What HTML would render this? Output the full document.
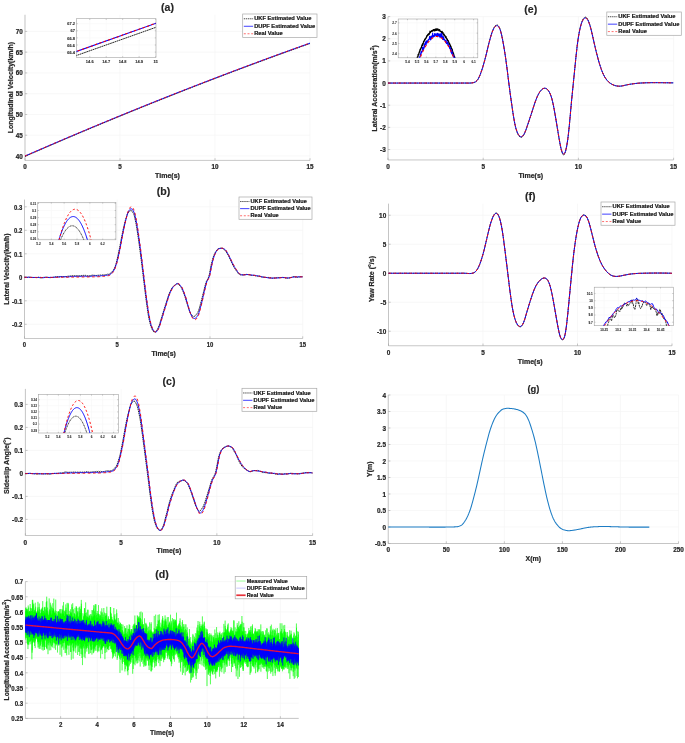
<!DOCTYPE html>
<html><head><meta charset="utf-8"><title>Figure</title>
<style>html,body{margin:0;padding:0;background:#fff;overflow:hidden;}svg{display:block;will-change:transform;}text{font-family:"Liberation Sans",sans-serif;}</style>
</head><body>
<svg width="685" height="743" viewBox="0 0 685 743">
<rect width="685" height="743" fill="#fff"/>
<line x1="25.00" y1="14.79" x2="25.00" y2="160.40" stroke="#f5f5f5" stroke-width="0.7"/>
<line x1="120.00" y1="14.79" x2="120.00" y2="160.40" stroke="#f5f5f5" stroke-width="0.7"/>
<line x1="215.00" y1="14.79" x2="215.00" y2="160.40" stroke="#f5f5f5" stroke-width="0.7"/>
<line x1="310.00" y1="14.79" x2="310.00" y2="160.40" stroke="#f5f5f5" stroke-width="0.7"/>
<line x1="25.00" y1="156.00" x2="310.00" y2="156.00" stroke="#f5f5f5" stroke-width="0.7"/>
<line x1="25.00" y1="135.23" x2="310.00" y2="135.23" stroke="#f5f5f5" stroke-width="0.7"/>
<line x1="25.00" y1="114.47" x2="310.00" y2="114.47" stroke="#f5f5f5" stroke-width="0.7"/>
<line x1="25.00" y1="93.70" x2="310.00" y2="93.70" stroke="#f5f5f5" stroke-width="0.7"/>
<line x1="25.00" y1="72.93" x2="310.00" y2="72.93" stroke="#f5f5f5" stroke-width="0.7"/>
<line x1="25.00" y1="52.17" x2="310.00" y2="52.17" stroke="#f5f5f5" stroke-width="0.7"/>
<line x1="25.00" y1="31.40" x2="310.00" y2="31.40" stroke="#f5f5f5" stroke-width="0.7"/>
<path d="M25.00,14.79L25.00,160.40L310.00,160.40" fill="none" stroke="#a2a2a2" stroke-width="0.6"/>
<line x1="25.00" y1="160.40" x2="25.00" y2="158.20" stroke="#a2a2a2" stroke-width="0.6"/>
<text transform="translate(25.00,169.20) scale(1.0,1)" font-size="6.3" text-anchor="middle" fill="#262626" font-family="Liberation Sans, sans-serif" font-weight="bold" stroke="#262626" stroke-width="0.22" stroke-linejoin="round">0</text>
<line x1="120.00" y1="160.40" x2="120.00" y2="158.20" stroke="#a2a2a2" stroke-width="0.6"/>
<text transform="translate(120.00,169.20) scale(1.0,1)" font-size="6.3" text-anchor="middle" fill="#262626" font-family="Liberation Sans, sans-serif" font-weight="bold" stroke="#262626" stroke-width="0.22" stroke-linejoin="round">5</text>
<line x1="215.00" y1="160.40" x2="215.00" y2="158.20" stroke="#a2a2a2" stroke-width="0.6"/>
<text transform="translate(215.00,169.20) scale(1.0,1)" font-size="6.3" text-anchor="middle" fill="#262626" font-family="Liberation Sans, sans-serif" font-weight="bold" stroke="#262626" stroke-width="0.22" stroke-linejoin="round">10</text>
<line x1="310.00" y1="160.40" x2="310.00" y2="158.20" stroke="#a2a2a2" stroke-width="0.6"/>
<text transform="translate(310.00,169.20) scale(1.0,1)" font-size="6.3" text-anchor="middle" fill="#262626" font-family="Liberation Sans, sans-serif" font-weight="bold" stroke="#262626" stroke-width="0.22" stroke-linejoin="round">15</text>
<line x1="25.00" y1="156.00" x2="27.20" y2="156.00" stroke="#a2a2a2" stroke-width="0.6"/>
<text transform="translate(22.70,158.52) scale(1.0,1)" font-size="6.3" text-anchor="end" fill="#262626" font-family="Liberation Sans, sans-serif" font-weight="bold" stroke="#262626" stroke-width="0.22" stroke-linejoin="round">40</text>
<line x1="25.00" y1="135.23" x2="27.20" y2="135.23" stroke="#a2a2a2" stroke-width="0.6"/>
<text transform="translate(22.70,137.75) scale(1.0,1)" font-size="6.3" text-anchor="end" fill="#262626" font-family="Liberation Sans, sans-serif" font-weight="bold" stroke="#262626" stroke-width="0.22" stroke-linejoin="round">45</text>
<line x1="25.00" y1="114.47" x2="27.20" y2="114.47" stroke="#a2a2a2" stroke-width="0.6"/>
<text transform="translate(22.70,116.98) scale(1.0,1)" font-size="6.3" text-anchor="end" fill="#262626" font-family="Liberation Sans, sans-serif" font-weight="bold" stroke="#262626" stroke-width="0.22" stroke-linejoin="round">50</text>
<line x1="25.00" y1="93.70" x2="27.20" y2="93.70" stroke="#a2a2a2" stroke-width="0.6"/>
<text transform="translate(22.70,96.22) scale(1.0,1)" font-size="6.3" text-anchor="end" fill="#262626" font-family="Liberation Sans, sans-serif" font-weight="bold" stroke="#262626" stroke-width="0.22" stroke-linejoin="round">55</text>
<line x1="25.00" y1="72.93" x2="27.20" y2="72.93" stroke="#a2a2a2" stroke-width="0.6"/>
<text transform="translate(22.70,75.45) scale(1.0,1)" font-size="6.3" text-anchor="end" fill="#262626" font-family="Liberation Sans, sans-serif" font-weight="bold" stroke="#262626" stroke-width="0.22" stroke-linejoin="round">60</text>
<line x1="25.00" y1="52.17" x2="27.20" y2="52.17" stroke="#a2a2a2" stroke-width="0.6"/>
<text transform="translate(22.70,54.69) scale(1.0,1)" font-size="6.3" text-anchor="end" fill="#262626" font-family="Liberation Sans, sans-serif" font-weight="bold" stroke="#262626" stroke-width="0.22" stroke-linejoin="round">65</text>
<line x1="25.00" y1="31.40" x2="27.20" y2="31.40" stroke="#a2a2a2" stroke-width="0.6"/>
<text transform="translate(22.70,33.92) scale(1.0,1)" font-size="6.3" text-anchor="end" fill="#262626" font-family="Liberation Sans, sans-serif" font-weight="bold" stroke="#262626" stroke-width="0.22" stroke-linejoin="round">70</text>
<text x="167.50" y="178.20" font-size="7.0" text-anchor="middle" fill="#262626" font-family="Liberation Sans, sans-serif" font-weight="bold" stroke="#262626" stroke-width="0.22" stroke-linejoin="round">Time(s)</text>
<text transform="translate(13.00,87.59) rotate(-90)" font-size="7.0" text-anchor="middle" fill="#262626" font-family="Liberation Sans, sans-serif" font-weight="bold" stroke="#262626" stroke-width="0.22" stroke-linejoin="round">Longitudinal Velocity(km/h)</text>
<text x="167.50" y="10.99" font-size="10.6" text-anchor="middle" fill="#262626" font-family="Liberation Sans, sans-serif" font-weight="bold" stroke="#262626" stroke-width="0.15" stroke-linejoin="round">(a)</text>
<clipPath id="ca"><rect x="24.00" y="13.79" width="287.00" height="147.61"/></clipPath>
<g clip-path="url(#ca)" stroke-linejoin="round">
<path d="M25.00,156.42L26.43,155.79L27.86,155.16L29.30,154.54L30.73,153.92L32.16,153.29L33.59,152.67L35.03,152.05L36.46,151.42L37.89,150.80L39.32,150.18L40.75,149.56L42.19,148.94L43.62,148.33L45.05,147.71L46.48,147.09L47.91,146.47L49.35,145.86L50.78,145.24L52.21,144.63L53.64,144.01L55.08,143.40L56.51,142.78L57.94,142.17L59.37,141.56L60.80,140.95L62.24,140.34L63.67,139.72L65.10,139.11L66.53,138.51L67.96,137.90L69.40,137.29L70.83,136.68L72.26,136.07L73.69,135.47L75.13,134.86L76.56,134.26L77.99,133.65L79.42,133.05L80.85,132.44L82.29,131.84L83.72,131.24L85.15,130.64L86.58,130.04L88.02,129.44L89.45,128.84L90.88,128.24L92.31,127.64L93.74,127.04L95.18,126.44L96.61,125.85L98.04,125.25L99.47,124.65L100.90,124.06L102.34,123.46L103.77,122.87L105.20,122.28L106.63,121.68L108.07,121.09L109.50,120.50L110.93,119.91L112.36,119.32L113.79,118.73L115.23,118.14L116.66,117.55L118.09,116.96L119.52,116.38L120.95,115.79L122.39,115.20L123.82,114.62L125.25,114.03L126.68,113.45L128.12,112.86L129.55,112.28L130.98,111.70L132.41,111.11L133.84,110.53L135.28,109.95L136.71,109.37L138.14,108.79L139.57,108.21L141.01,107.63L142.44,107.06L143.87,106.48L145.30,105.90L146.73,105.33L148.17,104.75L149.60,104.17L151.03,103.60L152.46,103.03L153.89,102.45L155.33,101.88L156.76,101.31L158.19,100.74L159.62,100.17L161.06,99.60L162.49,99.03L163.92,98.46L165.35,97.89L166.78,97.32L168.22,96.75L169.65,96.19L171.08,95.62L172.51,95.05L173.94,94.49L175.38,93.92L176.81,93.36L178.24,92.80L179.67,92.23L181.11,91.67L182.54,91.11L183.97,90.55L185.40,89.99L186.83,89.43L188.27,88.87L189.70,88.31L191.13,87.75L192.56,87.20L193.99,86.64L195.43,86.08L196.86,85.53L198.29,84.97L199.72,84.42L201.16,83.86L202.59,83.31L204.02,82.76L205.45,82.21L206.88,81.65L208.32,81.10L209.75,80.55L211.18,80.00L212.61,79.45L214.05,78.91L215.48,78.36L216.91,77.81L218.34,77.26L219.77,76.72L221.21,76.17L222.64,75.63L224.07,75.08L225.50,74.54L226.93,74.00L228.37,73.45L229.80,72.91L231.23,72.37L232.66,71.83L234.10,71.29L235.53,70.75L236.96,70.21L238.39,69.67L239.82,69.13L241.26,68.60L242.69,68.06L244.12,67.52L245.55,66.99L246.98,66.45L248.42,65.92L249.85,65.38L251.28,64.85L252.71,64.32L254.15,63.79L255.58,63.26L257.01,62.72L258.44,62.19L259.87,61.66L261.31,61.14L262.74,60.61L264.17,60.08L265.60,59.55L267.04,59.02L268.47,58.50L269.90,57.97L271.33,57.45L272.76,56.92L274.20,56.40L275.63,55.88L277.06,55.35L278.49,54.83L279.92,54.31L281.36,53.79L282.79,53.27L284.22,52.75L285.65,52.23L287.09,51.71L288.52,51.19L289.95,50.68L291.38,50.16L292.81,49.64L294.25,49.13L295.68,48.61L297.11,48.10L298.54,47.59L299.97,47.07L301.41,46.56L302.84,46.05L304.27,45.54L305.70,45.03L307.14,44.52L308.57,44.01L310.00,43.50" stroke="#000" stroke-width="0.874" stroke-dasharray="1.6,0.6" fill="none"/>
<path d="M25.00,156.00L26.43,155.37L27.86,154.75L29.30,154.12L30.73,153.50L32.16,152.88L33.59,152.25L35.03,151.63L36.46,151.01L37.89,150.39L39.32,149.77L40.75,149.15L42.19,148.53L43.62,147.91L45.05,147.29L46.48,146.67L47.91,146.06L49.35,145.44L50.78,144.83L52.21,144.21L53.64,143.60L55.08,142.98L56.51,142.37L57.94,141.75L59.37,141.14L60.80,140.53L62.24,139.92L63.67,139.31L65.10,138.70L66.53,138.09L67.96,137.48L69.40,136.87L70.83,136.27L72.26,135.66L73.69,135.05L75.13,134.45L76.56,133.84L77.99,133.24L79.42,132.63L80.85,132.03L82.29,131.43L83.72,130.82L85.15,130.22L86.58,129.62L88.02,129.02L89.45,128.42L90.88,127.82L92.31,127.22L93.74,126.63L95.18,126.03L96.61,125.43L98.04,124.83L99.47,124.24L100.90,123.64L102.34,123.05L103.77,122.46L105.20,121.86L106.63,121.27L108.07,120.68L109.50,120.09L110.93,119.49L112.36,118.90L113.79,118.31L115.23,117.72L116.66,117.14L118.09,116.55L119.52,115.96L120.95,115.37L122.39,114.79L123.82,114.20L125.25,113.62L126.68,113.03L128.12,112.45L129.55,111.86L130.98,111.28L132.41,110.70L133.84,110.12L135.28,109.54L136.71,108.96L138.14,108.38L139.57,107.80L141.01,107.22L142.44,106.64L143.87,106.06L145.30,105.49L146.73,104.91L148.17,104.33L149.60,103.76L151.03,103.19L152.46,102.61L153.89,102.04L155.33,101.47L156.76,100.89L158.19,100.32L159.62,99.75L161.06,99.18L162.49,98.61L163.92,98.04L165.35,97.47L166.78,96.90L168.22,96.34L169.65,95.77L171.08,95.20L172.51,94.64L173.94,94.07L175.38,93.51L176.81,92.94L178.24,92.38L179.67,91.82L181.11,91.26L182.54,90.70L183.97,90.13L185.40,89.57L186.83,89.01L188.27,88.46L189.70,87.90L191.13,87.34L192.56,86.78L193.99,86.22L195.43,85.67L196.86,85.11L198.29,84.56L199.72,84.00L201.16,83.45L202.59,82.90L204.02,82.34L205.45,81.79L206.88,81.24L208.32,80.69L209.75,80.14L211.18,79.59L212.61,79.04L214.05,78.49L215.48,77.94L216.91,77.40L218.34,76.85L219.77,76.30L221.21,75.76L222.64,75.21L224.07,74.67L225.50,74.12L226.93,73.58L228.37,73.04L229.80,72.50L231.23,71.95L232.66,71.41L234.10,70.87L235.53,70.33L236.96,69.79L238.39,69.26L239.82,68.72L241.26,68.18L242.69,67.64L244.12,67.11L245.55,66.57L246.98,66.04L248.42,65.50L249.85,64.97L251.28,64.44L252.71,63.90L254.15,63.37L255.58,62.84L257.01,62.31L258.44,61.78L259.87,61.25L261.31,60.72L262.74,60.19L264.17,59.66L265.60,59.14L267.04,58.61L268.47,58.08L269.90,57.56L271.33,57.03L272.76,56.51L274.20,55.98L275.63,55.46L277.06,54.94L278.49,54.42L279.92,53.90L281.36,53.37L282.79,52.85L284.22,52.33L285.65,51.82L287.09,51.30L288.52,50.78L289.95,50.26L291.38,49.75L292.81,49.23L294.25,48.71L295.68,48.20L297.11,47.68L298.54,47.17L299.97,46.66L301.41,46.15L302.84,45.63L304.27,45.12L305.70,44.61L307.14,44.10L308.57,43.59L310.00,43.08" stroke="#0000ff" stroke-width="0.92" fill="none"/>
<path d="M25.00,156.00L26.43,155.37L27.86,154.75L29.30,154.12L30.73,153.50L32.16,152.88L33.59,152.25L35.03,151.63L36.46,151.01L37.89,150.39L39.32,149.77L40.75,149.15L42.19,148.53L43.62,147.91L45.05,147.29L46.48,146.67L47.91,146.06L49.35,145.44L50.78,144.83L52.21,144.21L53.64,143.60L55.08,142.98L56.51,142.37L57.94,141.75L59.37,141.14L60.80,140.53L62.24,139.92L63.67,139.31L65.10,138.70L66.53,138.09L67.96,137.48L69.40,136.87L70.83,136.27L72.26,135.66L73.69,135.05L75.13,134.45L76.56,133.84L77.99,133.24L79.42,132.63L80.85,132.03L82.29,131.43L83.72,130.82L85.15,130.22L86.58,129.62L88.02,129.02L89.45,128.42L90.88,127.82L92.31,127.22L93.74,126.63L95.18,126.03L96.61,125.43L98.04,124.83L99.47,124.24L100.90,123.64L102.34,123.05L103.77,122.46L105.20,121.86L106.63,121.27L108.07,120.68L109.50,120.09L110.93,119.49L112.36,118.90L113.79,118.31L115.23,117.72L116.66,117.14L118.09,116.55L119.52,115.96L120.95,115.37L122.39,114.79L123.82,114.20L125.25,113.62L126.68,113.03L128.12,112.45L129.55,111.86L130.98,111.28L132.41,110.70L133.84,110.12L135.28,109.54L136.71,108.96L138.14,108.38L139.57,107.80L141.01,107.22L142.44,106.64L143.87,106.06L145.30,105.49L146.73,104.91L148.17,104.33L149.60,103.76L151.03,103.19L152.46,102.61L153.89,102.04L155.33,101.47L156.76,100.89L158.19,100.32L159.62,99.75L161.06,99.18L162.49,98.61L163.92,98.04L165.35,97.47L166.78,96.90L168.22,96.34L169.65,95.77L171.08,95.20L172.51,94.64L173.94,94.07L175.38,93.51L176.81,92.94L178.24,92.38L179.67,91.82L181.11,91.26L182.54,90.70L183.97,90.13L185.40,89.57L186.83,89.01L188.27,88.46L189.70,87.90L191.13,87.34L192.56,86.78L193.99,86.22L195.43,85.67L196.86,85.11L198.29,84.56L199.72,84.00L201.16,83.45L202.59,82.90L204.02,82.34L205.45,81.79L206.88,81.24L208.32,80.69L209.75,80.14L211.18,79.59L212.61,79.04L214.05,78.49L215.48,77.94L216.91,77.40L218.34,76.85L219.77,76.30L221.21,75.76L222.64,75.21L224.07,74.67L225.50,74.12L226.93,73.58L228.37,73.04L229.80,72.50L231.23,71.95L232.66,71.41L234.10,70.87L235.53,70.33L236.96,69.79L238.39,69.26L239.82,68.72L241.26,68.18L242.69,67.64L244.12,67.11L245.55,66.57L246.98,66.04L248.42,65.50L249.85,64.97L251.28,64.44L252.71,63.90L254.15,63.37L255.58,62.84L257.01,62.31L258.44,61.78L259.87,61.25L261.31,60.72L262.74,60.19L264.17,59.66L265.60,59.14L267.04,58.61L268.47,58.08L269.90,57.56L271.33,57.03L272.76,56.51L274.20,55.98L275.63,55.46L277.06,54.94L278.49,54.42L279.92,53.90L281.36,53.37L282.79,52.85L284.22,52.33L285.65,51.82L287.09,51.30L288.52,50.78L289.95,50.26L291.38,49.75L292.81,49.23L294.25,48.71L295.68,48.20L297.11,47.68L298.54,47.17L299.97,46.66L301.41,46.15L302.84,45.63L304.27,45.12L305.70,44.61L307.14,44.10L308.57,43.59L310.00,43.08" stroke="#ff0000" stroke-width="0.92" stroke-dasharray="2.6,2.6" fill="none"/>
</g>
<rect x="242.70" y="14.00" width="74.30" height="23.50" fill="#fff" stroke="#a8a8a8" stroke-width="0.7"/>
<line x1="243.80" y1="18.78" x2="253.10" y2="18.78" stroke="#000" stroke-width="0.7" stroke-dasharray="1.4,0.7" fill="none"/>
<text x="254.20" y="20.44" font-size="5.72" fill="#111" font-family="Liberation Sans, sans-serif" font-weight="bold" stroke="#262626" stroke-width="0.22" stroke-linejoin="round">UKF Estimated Value</text>
<line x1="243.80" y1="26.27" x2="253.10" y2="26.27" stroke="#0000ff" stroke-width="0.75" fill="none"/>
<text x="254.20" y="27.93" font-size="5.72" fill="#111" font-family="Liberation Sans, sans-serif" font-weight="bold" stroke="#262626" stroke-width="0.22" stroke-linejoin="round">DUPF Estimated Value</text>
<line x1="243.80" y1="33.76" x2="253.10" y2="33.76" stroke="#ff3030" stroke-width="0.7" stroke-dasharray="2,1.7" fill="none"/>
<text x="254.20" y="35.42" font-size="5.72" fill="#111" font-family="Liberation Sans, sans-serif" font-weight="bold" stroke="#262626" stroke-width="0.22" stroke-linejoin="round">Real Value</text>
<rect x="76.5" y="18.7" width="79.5" height="38.7" fill="#fff"/>
<line x1="89.75" y1="18.70" x2="89.75" y2="57.40" stroke="#f8f8f8" stroke-width="0.7"/>
<line x1="106.21" y1="18.70" x2="106.21" y2="57.40" stroke="#f8f8f8" stroke-width="0.7"/>
<line x1="122.67" y1="18.70" x2="122.67" y2="57.40" stroke="#f8f8f8" stroke-width="0.7"/>
<line x1="139.14" y1="18.70" x2="139.14" y2="57.40" stroke="#f8f8f8" stroke-width="0.7"/>
<line x1="155.60" y1="18.70" x2="155.60" y2="57.40" stroke="#f8f8f8" stroke-width="0.7"/>
<line x1="76.50" y1="52.10" x2="156.00" y2="52.10" stroke="#f8f8f8" stroke-width="0.7"/>
<line x1="76.50" y1="45.00" x2="156.00" y2="45.00" stroke="#f8f8f8" stroke-width="0.7"/>
<line x1="76.50" y1="37.90" x2="156.00" y2="37.90" stroke="#f8f8f8" stroke-width="0.7"/>
<line x1="76.50" y1="30.80" x2="156.00" y2="30.80" stroke="#f8f8f8" stroke-width="0.7"/>
<line x1="76.50" y1="23.70" x2="156.00" y2="23.70" stroke="#f8f8f8" stroke-width="0.7"/>
<rect x="76.50" y="18.70" width="79.50" height="38.70" fill="none" stroke="#a2a2a2" stroke-width="0.6"/>
<line x1="89.75" y1="57.40" x2="89.75" y2="56.20" stroke="#a2a2a2" stroke-width="0.6"/>
<line x1="89.75" y1="18.70" x2="89.75" y2="19.90" stroke="#a2a2a2" stroke-width="0.6"/>
<text transform="translate(89.75,63.20) scale(1.0,1)" font-size="4.0" text-anchor="middle" fill="#262626" font-family="Liberation Sans, sans-serif" font-weight="bold" stroke="#262626" stroke-width="0.08" stroke-linejoin="round">14.6</text>
<line x1="106.21" y1="57.40" x2="106.21" y2="56.20" stroke="#a2a2a2" stroke-width="0.6"/>
<line x1="106.21" y1="18.70" x2="106.21" y2="19.90" stroke="#a2a2a2" stroke-width="0.6"/>
<text transform="translate(106.21,63.20) scale(1.0,1)" font-size="4.0" text-anchor="middle" fill="#262626" font-family="Liberation Sans, sans-serif" font-weight="bold" stroke="#262626" stroke-width="0.08" stroke-linejoin="round">14.7</text>
<line x1="122.67" y1="57.40" x2="122.67" y2="56.20" stroke="#a2a2a2" stroke-width="0.6"/>
<line x1="122.67" y1="18.70" x2="122.67" y2="19.90" stroke="#a2a2a2" stroke-width="0.6"/>
<text transform="translate(122.67,63.20) scale(1.0,1)" font-size="4.0" text-anchor="middle" fill="#262626" font-family="Liberation Sans, sans-serif" font-weight="bold" stroke="#262626" stroke-width="0.08" stroke-linejoin="round">14.8</text>
<line x1="139.14" y1="57.40" x2="139.14" y2="56.20" stroke="#a2a2a2" stroke-width="0.6"/>
<line x1="139.14" y1="18.70" x2="139.14" y2="19.90" stroke="#a2a2a2" stroke-width="0.6"/>
<text transform="translate(139.14,63.20) scale(1.0,1)" font-size="4.0" text-anchor="middle" fill="#262626" font-family="Liberation Sans, sans-serif" font-weight="bold" stroke="#262626" stroke-width="0.08" stroke-linejoin="round">14.9</text>
<line x1="155.60" y1="57.40" x2="155.60" y2="56.20" stroke="#a2a2a2" stroke-width="0.6"/>
<line x1="155.60" y1="18.70" x2="155.60" y2="19.90" stroke="#a2a2a2" stroke-width="0.6"/>
<text transform="translate(155.60,63.20) scale(1.0,1)" font-size="4.0" text-anchor="middle" fill="#262626" font-family="Liberation Sans, sans-serif" font-weight="bold" stroke="#262626" stroke-width="0.08" stroke-linejoin="round">15</text>
<line x1="76.50" y1="52.10" x2="77.70" y2="52.10" stroke="#a2a2a2" stroke-width="0.6"/>
<line x1="156.00" y1="52.10" x2="154.80" y2="52.10" stroke="#a2a2a2" stroke-width="0.6"/>
<text transform="translate(75.00,53.79) scale(1.0,1)" font-size="4.0" text-anchor="end" fill="#262626" font-family="Liberation Sans, sans-serif" font-weight="bold" stroke="#262626" stroke-width="0.08" stroke-linejoin="round">66.4</text>
<line x1="76.50" y1="45.00" x2="77.70" y2="45.00" stroke="#a2a2a2" stroke-width="0.6"/>
<line x1="156.00" y1="45.00" x2="154.80" y2="45.00" stroke="#a2a2a2" stroke-width="0.6"/>
<text transform="translate(75.00,46.69) scale(1.0,1)" font-size="4.0" text-anchor="end" fill="#262626" font-family="Liberation Sans, sans-serif" font-weight="bold" stroke="#262626" stroke-width="0.08" stroke-linejoin="round">66.6</text>
<line x1="76.50" y1="37.90" x2="77.70" y2="37.90" stroke="#a2a2a2" stroke-width="0.6"/>
<line x1="156.00" y1="37.90" x2="154.80" y2="37.90" stroke="#a2a2a2" stroke-width="0.6"/>
<text transform="translate(75.00,39.59) scale(1.0,1)" font-size="4.0" text-anchor="end" fill="#262626" font-family="Liberation Sans, sans-serif" font-weight="bold" stroke="#262626" stroke-width="0.08" stroke-linejoin="round">66.8</text>
<line x1="76.50" y1="30.80" x2="77.70" y2="30.80" stroke="#a2a2a2" stroke-width="0.6"/>
<line x1="156.00" y1="30.80" x2="154.80" y2="30.80" stroke="#a2a2a2" stroke-width="0.6"/>
<text transform="translate(75.00,32.49) scale(1.0,1)" font-size="4.0" text-anchor="end" fill="#262626" font-family="Liberation Sans, sans-serif" font-weight="bold" stroke="#262626" stroke-width="0.08" stroke-linejoin="round">67</text>
<line x1="76.50" y1="23.70" x2="77.70" y2="23.70" stroke="#a2a2a2" stroke-width="0.6"/>
<line x1="156.00" y1="23.70" x2="154.80" y2="23.70" stroke="#a2a2a2" stroke-width="0.6"/>
<text transform="translate(75.00,25.39) scale(1.0,1)" font-size="4.0" text-anchor="end" fill="#262626" font-family="Liberation Sans, sans-serif" font-weight="bold" stroke="#262626" stroke-width="0.08" stroke-linejoin="round">67.2</text>
<clipPath id="cia"><rect x="76.50" y="18.70" width="79.50" height="38.70"/></clipPath>
<g clip-path="url(#cia)" stroke-linejoin="round">
<path d="M73.29,56.64L157.24,26.84" stroke="#000" stroke-width="0.85" stroke-dasharray="1.8,0.5" fill="none"/>
<path d="M73.29,52.56L157.24,22.76" stroke="#0000ff" stroke-width="1.05" fill="none"/>
<path d="M73.29,52.56L157.24,22.76" stroke="#ff0000" stroke-width="1.05" stroke-dasharray="2.3,2.3" fill="none"/>
</g>
<line x1="388.00" y1="16.60" x2="388.00" y2="159.95" stroke="#f5f5f5" stroke-width="0.7"/>
<line x1="483.20" y1="16.60" x2="483.20" y2="159.95" stroke="#f5f5f5" stroke-width="0.7"/>
<line x1="578.40" y1="16.60" x2="578.40" y2="159.95" stroke="#f5f5f5" stroke-width="0.7"/>
<line x1="673.60" y1="16.60" x2="673.60" y2="159.95" stroke="#f5f5f5" stroke-width="0.7"/>
<line x1="388.00" y1="149.54" x2="673.60" y2="149.54" stroke="#f5f5f5" stroke-width="0.7"/>
<line x1="388.00" y1="127.38" x2="673.60" y2="127.38" stroke="#f5f5f5" stroke-width="0.7"/>
<line x1="388.00" y1="105.22" x2="673.60" y2="105.22" stroke="#f5f5f5" stroke-width="0.7"/>
<line x1="388.00" y1="83.07" x2="673.60" y2="83.07" stroke="#f5f5f5" stroke-width="0.7"/>
<line x1="388.00" y1="60.91" x2="673.60" y2="60.91" stroke="#f5f5f5" stroke-width="0.7"/>
<line x1="388.00" y1="38.76" x2="673.60" y2="38.76" stroke="#f5f5f5" stroke-width="0.7"/>
<line x1="388.00" y1="16.60" x2="673.60" y2="16.60" stroke="#f5f5f5" stroke-width="0.7"/>
<path d="M388.00,16.60L388.00,159.95L673.60,159.95" fill="none" stroke="#a2a2a2" stroke-width="0.6"/>
<line x1="388.00" y1="159.95" x2="388.00" y2="157.75" stroke="#a2a2a2" stroke-width="0.6"/>
<text transform="translate(388.00,168.75) scale(1.0,1)" font-size="6.4" text-anchor="middle" fill="#262626" font-family="Liberation Sans, sans-serif" font-weight="bold" stroke="#262626" stroke-width="0.22" stroke-linejoin="round">0</text>
<line x1="483.20" y1="159.95" x2="483.20" y2="157.75" stroke="#a2a2a2" stroke-width="0.6"/>
<text transform="translate(483.20,168.75) scale(1.0,1)" font-size="6.4" text-anchor="middle" fill="#262626" font-family="Liberation Sans, sans-serif" font-weight="bold" stroke="#262626" stroke-width="0.22" stroke-linejoin="round">5</text>
<line x1="578.40" y1="159.95" x2="578.40" y2="157.75" stroke="#a2a2a2" stroke-width="0.6"/>
<text transform="translate(578.40,168.75) scale(1.0,1)" font-size="6.4" text-anchor="middle" fill="#262626" font-family="Liberation Sans, sans-serif" font-weight="bold" stroke="#262626" stroke-width="0.22" stroke-linejoin="round">10</text>
<line x1="673.60" y1="159.95" x2="673.60" y2="157.75" stroke="#a2a2a2" stroke-width="0.6"/>
<text transform="translate(673.60,168.75) scale(1.0,1)" font-size="6.4" text-anchor="middle" fill="#262626" font-family="Liberation Sans, sans-serif" font-weight="bold" stroke="#262626" stroke-width="0.22" stroke-linejoin="round">15</text>
<line x1="388.00" y1="149.54" x2="390.20" y2="149.54" stroke="#a2a2a2" stroke-width="0.6"/>
<text transform="translate(385.70,152.09) scale(1.0,1)" font-size="6.4" text-anchor="end" fill="#262626" font-family="Liberation Sans, sans-serif" font-weight="bold" stroke="#262626" stroke-width="0.22" stroke-linejoin="round">-3</text>
<line x1="388.00" y1="127.38" x2="390.20" y2="127.38" stroke="#a2a2a2" stroke-width="0.6"/>
<text transform="translate(385.70,129.93) scale(1.0,1)" font-size="6.4" text-anchor="end" fill="#262626" font-family="Liberation Sans, sans-serif" font-weight="bold" stroke="#262626" stroke-width="0.22" stroke-linejoin="round">-2</text>
<line x1="388.00" y1="105.22" x2="390.20" y2="105.22" stroke="#a2a2a2" stroke-width="0.6"/>
<text transform="translate(385.70,107.78) scale(1.0,1)" font-size="6.4" text-anchor="end" fill="#262626" font-family="Liberation Sans, sans-serif" font-weight="bold" stroke="#262626" stroke-width="0.22" stroke-linejoin="round">-1</text>
<line x1="388.00" y1="83.07" x2="390.20" y2="83.07" stroke="#a2a2a2" stroke-width="0.6"/>
<text transform="translate(385.70,85.62) scale(1.0,1)" font-size="6.4" text-anchor="end" fill="#262626" font-family="Liberation Sans, sans-serif" font-weight="bold" stroke="#262626" stroke-width="0.22" stroke-linejoin="round">0</text>
<line x1="388.00" y1="60.91" x2="390.20" y2="60.91" stroke="#a2a2a2" stroke-width="0.6"/>
<text transform="translate(385.70,63.47) scale(1.0,1)" font-size="6.4" text-anchor="end" fill="#262626" font-family="Liberation Sans, sans-serif" font-weight="bold" stroke="#262626" stroke-width="0.22" stroke-linejoin="round">1</text>
<line x1="388.00" y1="38.76" x2="390.20" y2="38.76" stroke="#a2a2a2" stroke-width="0.6"/>
<text transform="translate(385.70,41.31) scale(1.0,1)" font-size="6.4" text-anchor="end" fill="#262626" font-family="Liberation Sans, sans-serif" font-weight="bold" stroke="#262626" stroke-width="0.22" stroke-linejoin="round">2</text>
<line x1="388.00" y1="16.60" x2="390.20" y2="16.60" stroke="#a2a2a2" stroke-width="0.6"/>
<text transform="translate(385.70,19.15) scale(1.0,1)" font-size="6.4" text-anchor="end" fill="#262626" font-family="Liberation Sans, sans-serif" font-weight="bold" stroke="#262626" stroke-width="0.22" stroke-linejoin="round">3</text>
<text x="530.80" y="177.75" font-size="7.0" text-anchor="middle" fill="#262626" font-family="Liberation Sans, sans-serif" font-weight="bold" stroke="#262626" stroke-width="0.22" stroke-linejoin="round">Time(s)</text>
<text transform="translate(377.40,88.27) rotate(-90)" font-size="7.0" text-anchor="middle" fill="#262626" font-family="Liberation Sans, sans-serif" font-weight="bold" stroke="#262626" stroke-width="0.22" stroke-linejoin="round">Lateral Acceleration(m/s<tspan dy="-3.0" font-size="5.2">2</tspan><tspan dy="3.0">)</tspan></text>
<text x="530.80" y="12.80" font-size="10.6" text-anchor="middle" fill="#262626" font-family="Liberation Sans, sans-serif" font-weight="bold" stroke="#262626" stroke-width="0.15" stroke-linejoin="round">(e)</text>
<clipPath id="ce"><rect x="387.00" y="15.60" width="287.60" height="145.35"/></clipPath>
<g clip-path="url(#ce)" stroke-linejoin="round">
<path d="M388.00,83.07L388.79,83.07L389.59,83.07L390.38,83.07L391.18,83.07L391.97,83.07L392.77,83.07L393.56,83.07L394.36,83.07L395.15,83.07L395.95,83.07L396.74,83.07L397.54,83.07L398.33,83.07L399.13,83.07L399.92,83.07L400.72,83.07L401.51,83.07L402.31,83.07L403.10,83.07L403.90,83.07L404.69,83.07L405.49,83.07L406.28,83.07L407.08,83.07L407.87,83.07L408.67,83.07L409.46,83.07L410.26,83.07L411.05,83.07L411.85,83.07L412.64,83.07L413.44,83.07L414.23,83.07L415.03,83.07L415.82,83.07L416.62,83.07L417.41,83.07L418.21,83.07L419.00,83.07L419.80,83.07L420.59,83.07L421.39,83.07L422.18,83.07L422.98,83.07L423.77,83.07L424.57,83.07L425.36,83.07L426.16,83.07L426.95,83.07L427.75,83.07L428.54,83.07L429.34,83.07L430.13,83.07L430.93,83.07L431.72,83.07L432.52,83.07L433.31,83.07L434.11,83.07L434.90,83.07L435.70,83.07L436.49,83.07L437.29,83.07L438.08,83.07L438.88,83.07L439.67,83.07L440.47,83.07L441.26,83.07L442.06,83.07L442.85,83.07L443.65,83.07L444.44,83.07L445.24,83.07L446.03,83.07L446.83,83.07L447.62,83.07L448.42,83.07L449.21,83.07L450.01,83.07L450.80,83.07L451.60,83.07L452.39,83.07L453.19,83.07L453.98,83.07L454.78,83.07L455.57,83.07L456.37,83.07L457.16,83.08L457.96,83.08L458.75,83.08L459.55,83.07L460.34,83.07L461.14,83.06L461.93,83.05L462.73,83.05L463.52,83.05L464.32,83.05L465.11,83.06L465.91,83.07L466.70,83.08L467.50,83.09L468.29,83.10L469.09,83.09L469.88,83.06L470.68,83.01L471.47,82.94L472.27,82.83L473.06,82.69L473.86,82.51L474.65,82.25L475.45,81.86L476.24,81.30L477.04,80.51L477.83,79.43L478.63,78.06L479.42,76.41L480.22,74.50L481.01,72.38L481.81,70.05L482.60,67.54L483.40,64.87L484.19,62.04L484.99,59.07L485.78,55.95L486.58,52.72L487.37,49.42L488.17,46.12L488.96,42.89L489.76,39.78L490.55,36.87L491.35,34.20L492.14,31.82L492.94,29.75L493.73,28.03L494.53,26.69L495.32,25.73L496.12,25.15L496.91,24.96L497.71,25.19L498.50,25.90L499.30,27.17L500.09,29.06L500.89,31.65L501.68,34.92L502.48,38.76L503.27,43.06L504.07,47.74L504.86,52.75L505.66,58.13L506.45,63.92L507.25,70.13L508.04,76.62L508.84,83.09L509.63,89.33L510.43,95.31L511.22,101.07L512.02,106.66L512.81,112.08L513.61,117.18L514.40,121.80L515.20,125.77L515.99,129.00L516.79,131.55L517.58,133.54L518.38,135.07L519.17,136.21L519.97,136.96L520.76,137.32L521.56,137.28L522.35,136.84L523.15,136.01L523.94,134.80L524.74,133.21L525.53,131.28L526.33,129.11L527.12,126.78L527.92,124.41L528.71,122.03L529.51,119.64L530.30,117.23L531.10,114.79L531.89,112.32L532.69,109.80L533.48,107.28L534.28,104.82L535.07,102.45L535.87,100.22L536.66,98.18L537.46,96.33L538.25,94.68L539.05,93.21L539.84,91.94L540.64,90.85L541.43,89.95L542.23,89.24L543.02,88.72L543.82,88.40L544.61,88.27L545.41,88.35L546.20,88.62L547.00,89.12L547.79,89.88L548.59,90.92L549.38,92.26L550.18,93.95L550.97,96.02L551.77,98.56L552.56,101.62L553.36,105.27L554.15,109.40L554.95,113.90L555.74,118.63L556.54,123.47L557.33,128.35L558.13,133.19L558.92,137.94L559.72,142.51L560.51,146.67L561.31,150.17L562.10,152.79L562.90,154.40L563.69,154.94L564.49,154.33L565.28,152.55L566.08,149.64L566.87,145.60L567.67,140.45L568.46,134.13L569.26,126.57L570.05,117.89L570.85,108.80L571.64,100.12L572.44,92.06L573.23,84.22L574.03,76.23L574.82,68.13L575.62,60.14L576.41,52.48L577.21,45.46L578.00,39.40L578.80,34.34L579.59,30.14L580.39,26.64L581.18,23.75L581.98,21.42L582.77,19.63L583.57,18.33L584.36,17.51L585.16,17.16L585.95,17.28L586.75,17.86L587.54,18.93L588.34,20.48L589.13,22.50L589.93,24.94L590.72,27.76L591.52,30.92L592.31,34.33L593.11,37.89L593.90,41.48L594.70,45.02L595.49,48.43L596.29,51.72L597.08,54.89L597.88,57.91L598.67,60.80L599.47,63.53L600.26,66.10L601.06,68.49L601.85,70.68L602.65,72.67L603.44,74.45L604.24,76.02L605.03,77.42L605.83,78.64L606.62,79.73L607.42,80.68L608.21,81.52L609.01,82.26L609.80,82.91L610.60,83.48L611.39,83.98L612.19,84.42L612.98,84.80L613.78,85.14L614.57,85.42L615.37,85.67L616.16,85.87L616.96,86.03L617.75,86.14L618.55,86.21L619.34,86.22L620.14,86.19L620.93,86.11L621.73,85.99L622.52,85.84L623.32,85.68L624.11,85.50L624.91,85.31L625.70,85.13L626.50,84.95L627.29,84.78L628.09,84.63L628.88,84.47L629.68,84.33L630.47,84.19L631.27,84.06L632.06,83.94L632.86,83.83L633.65,83.72L634.45,83.62L635.24,83.52L636.04,83.44L636.83,83.36L637.63,83.28L638.42,83.21L639.22,83.15L640.01,83.09L640.81,83.03L641.60,82.98L642.40,82.94L643.19,82.90L643.99,82.86L644.78,82.82L645.58,82.79L646.37,82.77L647.17,82.74L647.96,82.72L648.76,82.70L649.55,82.68L650.35,82.67L651.14,82.66L651.94,82.65L652.73,82.64L653.53,82.64L654.32,82.63L655.12,82.63L655.91,82.63L656.71,82.63L657.50,82.64L658.30,82.64L659.09,82.65L659.89,82.66L660.68,82.67L661.48,82.68L662.27,82.69L663.07,82.70L663.86,82.71L664.66,82.72L665.45,82.73L666.25,82.74L667.04,82.76L667.84,82.77L668.63,82.78L669.43,82.79L670.22,82.80L671.02,82.81L671.81,82.82L672.61,82.83L673.40,82.84" stroke="#000" stroke-width="0.874" stroke-dasharray="1.6,0.6" fill="none"/>
<path d="M388.00,83.07L388.79,83.07L389.59,83.07L390.38,83.07L391.18,83.07L391.97,83.07L392.77,83.07L393.56,83.07L394.36,83.07L395.15,83.07L395.95,83.07L396.74,83.07L397.54,83.07L398.33,83.07L399.13,83.07L399.92,83.07L400.72,83.07L401.51,83.07L402.31,83.07L403.10,83.07L403.90,83.07L404.69,83.07L405.49,83.07L406.28,83.07L407.08,83.07L407.87,83.07L408.67,83.07L409.46,83.07L410.26,83.07L411.05,83.07L411.85,83.07L412.64,83.07L413.44,83.07L414.23,83.07L415.03,83.07L415.82,83.07L416.62,83.07L417.41,83.07L418.21,83.07L419.00,83.07L419.80,83.07L420.59,83.07L421.39,83.07L422.18,83.07L422.98,83.07L423.77,83.07L424.57,83.07L425.36,83.07L426.16,83.07L426.95,83.07L427.75,83.07L428.54,83.07L429.34,83.07L430.13,83.07L430.93,83.07L431.72,83.07L432.52,83.07L433.31,83.07L434.11,83.07L434.90,83.07L435.70,83.07L436.49,83.07L437.29,83.07L438.08,83.07L438.88,83.07L439.67,83.07L440.47,83.07L441.26,83.07L442.06,83.07L442.85,83.07L443.65,83.07L444.44,83.07L445.24,83.07L446.03,83.07L446.83,83.07L447.62,83.07L448.42,83.07L449.21,83.07L450.01,83.07L450.80,83.07L451.60,83.07L452.39,83.07L453.19,83.07L453.98,83.07L454.78,83.07L455.57,83.07L456.37,83.07L457.16,83.08L457.96,83.08L458.75,83.08L459.55,83.07L460.34,83.07L461.14,83.06L461.93,83.06L462.73,83.05L463.52,83.05L464.32,83.05L465.11,83.06L465.91,83.07L466.70,83.08L467.50,83.09L468.29,83.10L469.09,83.09L469.88,83.06L470.68,83.01L471.47,82.94L472.27,82.84L473.06,82.70L473.86,82.52L474.65,82.26L475.45,81.88L476.24,81.32L477.04,80.54L477.83,79.47L478.63,78.12L479.42,76.49L480.22,74.61L481.01,72.50L481.81,70.20L482.60,67.73L483.40,65.08L484.19,62.29L484.99,59.35L485.78,56.27L486.58,53.08L487.37,49.82L488.17,46.56L488.96,43.36L489.76,40.29L490.55,37.42L491.35,34.78L492.14,32.42L492.94,30.38L493.73,28.69L494.53,27.36L495.32,26.41L496.12,25.83L496.91,25.65L497.71,25.87L498.50,26.58L499.30,27.83L500.09,29.70L500.89,32.26L501.68,35.49L502.48,39.28L503.27,43.54L504.07,48.16L504.86,53.11L505.66,58.42L506.45,64.14L507.25,70.28L508.04,76.69L508.84,83.09L509.63,89.25L510.43,95.16L511.22,100.86L512.02,106.38L512.81,111.74L513.61,116.78L514.40,121.34L515.20,125.27L515.99,128.46L516.79,130.98L517.58,132.94L518.38,134.45L519.17,135.58L519.97,136.32L520.76,136.67L521.56,136.63L522.35,136.20L523.15,135.38L523.94,134.19L524.74,132.62L525.53,130.71L526.33,128.56L527.12,126.27L527.92,123.92L528.71,121.56L529.51,119.20L530.30,116.83L531.10,114.42L531.89,111.97L532.69,109.48L533.48,107.00L534.28,104.56L535.07,102.22L535.87,100.02L536.66,98.00L537.46,96.17L538.25,94.54L539.05,93.09L539.84,91.83L540.64,90.76L541.43,89.87L542.23,89.17L543.02,88.66L543.82,88.34L544.61,88.21L545.41,88.28L546.20,88.56L547.00,89.05L547.79,89.80L548.59,90.83L549.38,92.16L550.18,93.82L550.97,95.87L551.77,98.37L552.56,101.40L553.36,105.00L554.15,109.09L554.95,113.54L555.74,118.21L556.54,122.99L557.33,127.81L558.13,132.60L558.92,137.29L559.72,141.80L560.51,145.91L561.31,149.38L562.10,151.96L562.90,153.56L563.69,154.09L564.49,153.48L565.28,151.73L566.08,148.85L566.87,144.86L567.67,139.77L568.46,133.53L569.26,126.06L570.05,117.48L570.85,108.50L571.64,99.92L572.44,91.96L573.23,84.21L574.03,76.31L574.82,68.31L575.62,60.41L576.41,52.84L577.21,45.91L578.00,39.92L578.80,34.92L579.59,30.76L580.39,27.31L581.18,24.45L581.98,22.15L582.77,20.38L583.57,19.09L584.36,18.28L585.16,17.94L585.95,18.06L586.75,18.64L587.54,19.69L588.34,21.22L589.13,23.22L589.93,25.63L590.72,28.42L591.52,31.54L592.31,34.91L593.11,38.42L593.90,41.98L594.70,45.47L595.49,48.84L596.29,52.10L597.08,55.22L597.88,58.21L598.67,61.06L599.47,63.76L600.26,66.30L601.06,68.66L601.85,70.83L602.65,72.80L603.44,74.55L604.24,76.11L605.03,77.48L605.83,78.70L606.62,79.77L607.42,80.71L608.21,81.54L609.01,82.27L609.80,82.91L610.60,83.47L611.39,83.97L612.19,84.40L612.98,84.78L613.78,85.11L614.57,85.40L615.37,85.64L616.16,85.84L616.96,85.99L617.75,86.11L618.55,86.17L619.34,86.19L620.14,86.15L620.93,86.07L621.73,85.95L622.52,85.81L623.32,85.65L624.11,85.47L624.91,85.29L625.70,85.10L626.50,84.93L627.29,84.76L628.09,84.61L628.88,84.46L629.68,84.31L630.47,84.18L631.27,84.05L632.06,83.93L632.86,83.82L633.65,83.71L634.45,83.61L635.24,83.52L636.04,83.43L636.83,83.35L637.63,83.28L638.42,83.21L639.22,83.15L640.01,83.09L640.81,83.03L641.60,82.98L642.40,82.94L643.19,82.90L643.99,82.86L644.78,82.83L645.58,82.80L646.37,82.77L647.17,82.74L647.96,82.72L648.76,82.70L649.55,82.69L650.35,82.67L651.14,82.66L651.94,82.65L652.73,82.65L653.53,82.64L654.32,82.64L655.12,82.64L655.91,82.64L656.71,82.64L657.50,82.64L658.30,82.65L659.09,82.66L659.89,82.66L660.68,82.67L661.48,82.68L662.27,82.69L663.07,82.70L663.86,82.71L664.66,82.72L665.45,82.74L666.25,82.75L667.04,82.76L667.84,82.77L668.63,82.78L669.43,82.80L670.22,82.81L671.02,82.82L671.81,82.83L672.61,82.84L673.40,82.84" stroke="#0000ff" stroke-width="0.92" fill="none"/>
<path d="M388.00,83.07L388.79,83.07L389.59,83.07L390.38,83.07L391.18,83.07L391.97,83.07L392.77,83.07L393.56,83.07L394.36,83.07L395.15,83.07L395.95,83.07L396.74,83.07L397.54,83.07L398.33,83.07L399.13,83.07L399.92,83.07L400.72,83.07L401.51,83.07L402.31,83.07L403.10,83.07L403.90,83.07L404.69,83.07L405.49,83.07L406.28,83.07L407.08,83.07L407.87,83.07L408.67,83.07L409.46,83.07L410.26,83.07L411.05,83.07L411.85,83.07L412.64,83.07L413.44,83.07L414.23,83.07L415.03,83.07L415.82,83.07L416.62,83.07L417.41,83.07L418.21,83.07L419.00,83.07L419.80,83.07L420.59,83.07L421.39,83.07L422.18,83.07L422.98,83.07L423.77,83.07L424.57,83.07L425.36,83.07L426.16,83.07L426.95,83.07L427.75,83.07L428.54,83.07L429.34,83.07L430.13,83.07L430.93,83.07L431.72,83.07L432.52,83.07L433.31,83.07L434.11,83.07L434.90,83.07L435.70,83.07L436.49,83.07L437.29,83.07L438.08,83.07L438.88,83.07L439.67,83.07L440.47,83.07L441.26,83.07L442.06,83.07L442.85,83.07L443.65,83.07L444.44,83.07L445.24,83.07L446.03,83.07L446.83,83.07L447.62,83.07L448.42,83.07L449.21,83.07L450.01,83.07L450.80,83.07L451.60,83.07L452.39,83.07L453.19,83.07L453.98,83.07L454.78,83.07L455.57,83.07L456.37,83.07L457.16,83.08L457.96,83.08L458.75,83.08L459.55,83.07L460.34,83.07L461.14,83.06L461.93,83.06L462.73,83.05L463.52,83.05L464.32,83.05L465.11,83.06L465.91,83.07L466.70,83.08L467.50,83.09L468.29,83.10L469.09,83.09L469.88,83.06L470.68,83.01L471.47,82.94L472.27,82.84L473.06,82.70L473.86,82.52L474.65,82.26L475.45,81.88L476.24,81.32L477.04,80.54L477.83,79.47L478.63,78.12L479.42,76.49L480.22,74.61L481.01,72.50L481.81,70.20L482.60,67.73L483.40,65.08L484.19,62.29L484.99,59.35L485.78,56.27L486.58,53.08L487.37,49.82L488.17,46.56L488.96,43.36L489.76,40.29L490.55,37.42L491.35,34.78L492.14,32.42L492.94,30.38L493.73,28.69L494.53,27.36L495.32,26.41L496.12,25.83L496.91,25.65L497.71,25.87L498.50,26.58L499.30,27.83L500.09,29.70L500.89,32.26L501.68,35.49L502.48,39.28L503.27,43.54L504.07,48.16L504.86,53.11L505.66,58.42L506.45,64.14L507.25,70.28L508.04,76.69L508.84,83.09L509.63,89.25L510.43,95.16L511.22,100.86L512.02,106.38L512.81,111.74L513.61,116.78L514.40,121.34L515.20,125.27L515.99,128.46L516.79,130.98L517.58,132.94L518.38,134.45L519.17,135.58L519.97,136.32L520.76,136.67L521.56,136.63L522.35,136.20L523.15,135.38L523.94,134.19L524.74,132.62L525.53,130.71L526.33,128.56L527.12,126.27L527.92,123.92L528.71,121.56L529.51,119.20L530.30,116.83L531.10,114.42L531.89,111.97L532.69,109.48L533.48,107.00L534.28,104.56L535.07,102.22L535.87,100.02L536.66,98.00L537.46,96.17L538.25,94.54L539.05,93.09L539.84,91.83L540.64,90.76L541.43,89.87L542.23,89.17L543.02,88.66L543.82,88.34L544.61,88.21L545.41,88.28L546.20,88.56L547.00,89.05L547.79,89.80L548.59,90.83L549.38,92.16L550.18,93.82L550.97,95.87L551.77,98.37L552.56,101.40L553.36,105.00L554.15,109.09L554.95,113.54L555.74,118.21L556.54,122.99L557.33,127.81L558.13,132.60L558.92,137.29L559.72,141.80L560.51,145.91L561.31,149.38L562.10,151.96L562.90,153.56L563.69,154.09L564.49,153.48L565.28,151.73L566.08,148.85L566.87,144.86L567.67,139.77L568.46,133.53L569.26,126.06L570.05,117.48L570.85,108.50L571.64,99.92L572.44,91.96L573.23,84.21L574.03,76.31L574.82,68.31L575.62,60.41L576.41,52.84L577.21,45.91L578.00,39.92L578.80,34.92L579.59,30.76L580.39,27.31L581.18,24.45L581.98,22.15L582.77,20.38L583.57,19.09L584.36,18.28L585.16,17.94L585.95,18.06L586.75,18.64L587.54,19.69L588.34,21.22L589.13,23.22L589.93,25.63L590.72,28.42L591.52,31.54L592.31,34.91L593.11,38.42L593.90,41.98L594.70,45.47L595.49,48.84L596.29,52.10L597.08,55.22L597.88,58.21L598.67,61.06L599.47,63.76L600.26,66.30L601.06,68.66L601.85,70.83L602.65,72.80L603.44,74.55L604.24,76.11L605.03,77.48L605.83,78.70L606.62,79.77L607.42,80.71L608.21,81.54L609.01,82.27L609.80,82.91L610.60,83.47L611.39,83.97L612.19,84.40L612.98,84.78L613.78,85.11L614.57,85.40L615.37,85.64L616.16,85.84L616.96,85.99L617.75,86.11L618.55,86.17L619.34,86.19L620.14,86.15L620.93,86.07L621.73,85.95L622.52,85.81L623.32,85.65L624.11,85.47L624.91,85.29L625.70,85.10L626.50,84.93L627.29,84.76L628.09,84.61L628.88,84.46L629.68,84.31L630.47,84.18L631.27,84.05L632.06,83.93L632.86,83.82L633.65,83.71L634.45,83.61L635.24,83.52L636.04,83.43L636.83,83.35L637.63,83.28L638.42,83.21L639.22,83.15L640.01,83.09L640.81,83.03L641.60,82.98L642.40,82.94L643.19,82.90L643.99,82.86L644.78,82.83L645.58,82.80L646.37,82.77L647.17,82.74L647.96,82.72L648.76,82.70L649.55,82.69L650.35,82.67L651.14,82.66L651.94,82.65L652.73,82.65L653.53,82.64L654.32,82.64L655.12,82.64L655.91,82.64L656.71,82.64L657.50,82.64L658.30,82.65L659.09,82.66L659.89,82.66L660.68,82.67L661.48,82.68L662.27,82.69L663.07,82.70L663.86,82.71L664.66,82.72L665.45,82.74L666.25,82.75L667.04,82.76L667.84,82.77L668.63,82.78L669.43,82.80L670.22,82.81L671.02,82.82L671.81,82.83L672.61,82.84L673.40,82.84" stroke="#ff0000" stroke-width="0.92" stroke-dasharray="2.6,2.6" fill="none"/>
</g>
<rect x="606.80" y="12.00" width="74.50" height="23.30" fill="#fff" stroke="#a8a8a8" stroke-width="0.7"/>
<line x1="607.90" y1="16.74" x2="617.20" y2="16.74" stroke="#000" stroke-width="0.7" stroke-dasharray="1.4,0.7" fill="none"/>
<text x="618.30" y="18.40" font-size="5.72" fill="#111" font-family="Liberation Sans, sans-serif" font-weight="bold" stroke="#262626" stroke-width="0.22" stroke-linejoin="round">UKF Estimated Value</text>
<line x1="607.90" y1="24.17" x2="617.20" y2="24.17" stroke="#0000ff" stroke-width="0.75" fill="none"/>
<text x="618.30" y="25.82" font-size="5.72" fill="#111" font-family="Liberation Sans, sans-serif" font-weight="bold" stroke="#262626" stroke-width="0.22" stroke-linejoin="round">DUPF Estimated Value</text>
<line x1="607.90" y1="31.59" x2="617.20" y2="31.59" stroke="#ff3030" stroke-width="0.7" stroke-dasharray="2,1.7" fill="none"/>
<text x="618.30" y="33.25" font-size="5.72" fill="#111" font-family="Liberation Sans, sans-serif" font-weight="bold" stroke="#262626" stroke-width="0.22" stroke-linejoin="round">Real Value</text>
<rect x="398.2" y="19.0" width="79.60000000000002" height="38.8" fill="#fff"/>
<line x1="407.49" y1="19.00" x2="407.49" y2="57.80" stroke="#f8f8f8" stroke-width="0.7"/>
<line x1="416.94" y1="19.00" x2="416.94" y2="57.80" stroke="#f8f8f8" stroke-width="0.7"/>
<line x1="426.38" y1="19.00" x2="426.38" y2="57.80" stroke="#f8f8f8" stroke-width="0.7"/>
<line x1="435.83" y1="19.00" x2="435.83" y2="57.80" stroke="#f8f8f8" stroke-width="0.7"/>
<line x1="445.27" y1="19.00" x2="445.27" y2="57.80" stroke="#f8f8f8" stroke-width="0.7"/>
<line x1="454.71" y1="19.00" x2="454.71" y2="57.80" stroke="#f8f8f8" stroke-width="0.7"/>
<line x1="464.16" y1="19.00" x2="464.16" y2="57.80" stroke="#f8f8f8" stroke-width="0.7"/>
<line x1="473.60" y1="19.00" x2="473.60" y2="57.80" stroke="#f8f8f8" stroke-width="0.7"/>
<line x1="398.20" y1="53.79" x2="477.80" y2="53.79" stroke="#f8f8f8" stroke-width="0.7"/>
<line x1="398.20" y1="43.48" x2="477.80" y2="43.48" stroke="#f8f8f8" stroke-width="0.7"/>
<line x1="398.20" y1="33.17" x2="477.80" y2="33.17" stroke="#f8f8f8" stroke-width="0.7"/>
<line x1="398.20" y1="22.87" x2="477.80" y2="22.87" stroke="#f8f8f8" stroke-width="0.7"/>
<rect x="398.20" y="19.00" width="79.60" height="38.80" fill="none" stroke="#a2a2a2" stroke-width="0.6"/>
<line x1="407.49" y1="57.80" x2="407.49" y2="56.60" stroke="#a2a2a2" stroke-width="0.6"/>
<line x1="407.49" y1="19.00" x2="407.49" y2="20.20" stroke="#a2a2a2" stroke-width="0.6"/>
<text transform="translate(407.49,63.00) scale(1.0,1)" font-size="3.2" text-anchor="middle" fill="#262626" font-family="Liberation Sans, sans-serif" font-weight="bold" stroke="#262626" stroke-width="0.05" stroke-linejoin="round">5.4</text>
<line x1="416.94" y1="57.80" x2="416.94" y2="56.60" stroke="#a2a2a2" stroke-width="0.6"/>
<line x1="416.94" y1="19.00" x2="416.94" y2="20.20" stroke="#a2a2a2" stroke-width="0.6"/>
<text transform="translate(416.94,63.00) scale(1.0,1)" font-size="3.2" text-anchor="middle" fill="#262626" font-family="Liberation Sans, sans-serif" font-weight="bold" stroke="#262626" stroke-width="0.05" stroke-linejoin="round">5.5</text>
<line x1="426.38" y1="57.80" x2="426.38" y2="56.60" stroke="#a2a2a2" stroke-width="0.6"/>
<line x1="426.38" y1="19.00" x2="426.38" y2="20.20" stroke="#a2a2a2" stroke-width="0.6"/>
<text transform="translate(426.38,63.00) scale(1.0,1)" font-size="3.2" text-anchor="middle" fill="#262626" font-family="Liberation Sans, sans-serif" font-weight="bold" stroke="#262626" stroke-width="0.05" stroke-linejoin="round">5.6</text>
<line x1="435.83" y1="57.80" x2="435.83" y2="56.60" stroke="#a2a2a2" stroke-width="0.6"/>
<line x1="435.83" y1="19.00" x2="435.83" y2="20.20" stroke="#a2a2a2" stroke-width="0.6"/>
<text transform="translate(435.83,63.00) scale(1.0,1)" font-size="3.2" text-anchor="middle" fill="#262626" font-family="Liberation Sans, sans-serif" font-weight="bold" stroke="#262626" stroke-width="0.05" stroke-linejoin="round">5.7</text>
<line x1="445.27" y1="57.80" x2="445.27" y2="56.60" stroke="#a2a2a2" stroke-width="0.6"/>
<line x1="445.27" y1="19.00" x2="445.27" y2="20.20" stroke="#a2a2a2" stroke-width="0.6"/>
<text transform="translate(445.27,63.00) scale(1.0,1)" font-size="3.2" text-anchor="middle" fill="#262626" font-family="Liberation Sans, sans-serif" font-weight="bold" stroke="#262626" stroke-width="0.05" stroke-linejoin="round">5.8</text>
<line x1="454.71" y1="57.80" x2="454.71" y2="56.60" stroke="#a2a2a2" stroke-width="0.6"/>
<line x1="454.71" y1="19.00" x2="454.71" y2="20.20" stroke="#a2a2a2" stroke-width="0.6"/>
<text transform="translate(454.71,63.00) scale(1.0,1)" font-size="3.2" text-anchor="middle" fill="#262626" font-family="Liberation Sans, sans-serif" font-weight="bold" stroke="#262626" stroke-width="0.05" stroke-linejoin="round">5.9</text>
<line x1="464.16" y1="57.80" x2="464.16" y2="56.60" stroke="#a2a2a2" stroke-width="0.6"/>
<line x1="464.16" y1="19.00" x2="464.16" y2="20.20" stroke="#a2a2a2" stroke-width="0.6"/>
<text transform="translate(464.16,63.00) scale(1.0,1)" font-size="3.2" text-anchor="middle" fill="#262626" font-family="Liberation Sans, sans-serif" font-weight="bold" stroke="#262626" stroke-width="0.05" stroke-linejoin="round">6</text>
<line x1="473.60" y1="57.80" x2="473.60" y2="56.60" stroke="#a2a2a2" stroke-width="0.6"/>
<line x1="473.60" y1="19.00" x2="473.60" y2="20.20" stroke="#a2a2a2" stroke-width="0.6"/>
<text transform="translate(473.60,63.00) scale(1.0,1)" font-size="3.2" text-anchor="middle" fill="#262626" font-family="Liberation Sans, sans-serif" font-weight="bold" stroke="#262626" stroke-width="0.05" stroke-linejoin="round">6.1</text>
<line x1="398.20" y1="53.79" x2="399.40" y2="53.79" stroke="#a2a2a2" stroke-width="0.6"/>
<line x1="477.80" y1="53.79" x2="476.60" y2="53.79" stroke="#a2a2a2" stroke-width="0.6"/>
<text transform="translate(396.70,55.19) scale(1.0,1)" font-size="3.2" text-anchor="end" fill="#262626" font-family="Liberation Sans, sans-serif" font-weight="bold" stroke="#262626" stroke-width="0.05" stroke-linejoin="round">2.4</text>
<line x1="398.20" y1="43.48" x2="399.40" y2="43.48" stroke="#a2a2a2" stroke-width="0.6"/>
<line x1="477.80" y1="43.48" x2="476.60" y2="43.48" stroke="#a2a2a2" stroke-width="0.6"/>
<text transform="translate(396.70,44.88) scale(1.0,1)" font-size="3.2" text-anchor="end" fill="#262626" font-family="Liberation Sans, sans-serif" font-weight="bold" stroke="#262626" stroke-width="0.05" stroke-linejoin="round">2.5</text>
<line x1="398.20" y1="33.17" x2="399.40" y2="33.17" stroke="#a2a2a2" stroke-width="0.6"/>
<line x1="477.80" y1="33.17" x2="476.60" y2="33.17" stroke="#a2a2a2" stroke-width="0.6"/>
<text transform="translate(396.70,34.57) scale(1.0,1)" font-size="3.2" text-anchor="end" fill="#262626" font-family="Liberation Sans, sans-serif" font-weight="bold" stroke="#262626" stroke-width="0.05" stroke-linejoin="round">2.6</text>
<line x1="398.20" y1="22.87" x2="399.40" y2="22.87" stroke="#a2a2a2" stroke-width="0.6"/>
<line x1="477.80" y1="22.87" x2="476.60" y2="22.87" stroke="#a2a2a2" stroke-width="0.6"/>
<text transform="translate(396.70,24.27) scale(1.0,1)" font-size="3.2" text-anchor="end" fill="#262626" font-family="Liberation Sans, sans-serif" font-weight="bold" stroke="#262626" stroke-width="0.05" stroke-linejoin="round">2.7</text>
<clipPath id="cie"><rect x="398.20" y="19.00" width="79.60" height="38.80"/></clipPath>
<g clip-path="url(#cie)" stroke-linejoin="round">
<path d="M407.49,95.82L407.71,94.66L407.93,93.95L408.15,93.27L408.37,92.06L408.59,91.36L408.81,89.85L409.03,88.22L409.24,88.21L409.46,87.33L409.68,85.81L409.90,84.95L410.12,84.15L410.34,83.77L410.56,82.39L410.78,81.12L410.99,81.27L411.21,79.93L411.43,79.80L411.65,78.61L411.87,78.03L412.09,76.35L412.31,76.03L412.53,74.40L412.74,73.62L412.96,72.98L413.18,73.36L413.40,71.53L413.62,70.48L413.84,69.60L414.06,69.66L414.28,68.34L414.50,67.83L414.71,66.98L414.93,65.26L415.15,65.48L415.37,64.34L415.59,63.13L415.81,63.17L416.03,62.21L416.25,61.38L416.46,60.71L416.68,60.68L416.90,59.32L417.12,57.99L417.34,58.81L417.56,56.91L417.78,56.64L418.00,56.38L418.21,54.38L418.43,54.39L418.65,54.78L418.87,53.51L419.09,52.64L419.31,52.44L419.53,51.40L419.75,51.20L419.96,50.24L420.18,49.28L420.40,49.81L420.62,48.80L420.84,48.60L421.06,47.76L421.28,47.90L421.50,47.07L421.71,46.36L421.93,45.29L422.15,44.66L422.37,45.44L422.59,44.68L422.81,43.47L423.03,44.36L423.25,43.11L423.47,42.47L423.68,41.33L423.90,41.18L424.12,41.28L424.34,40.88L424.56,40.40L424.78,39.08L425.00,39.69L425.22,39.24L425.43,38.52L425.65,38.39L425.87,38.06L426.09,38.17L426.31,37.25L426.53,37.13L426.75,35.97L426.97,35.90L427.18,35.93L427.40,35.26L427.62,35.48L427.84,34.46L428.06,34.72L428.28,34.13L428.50,34.82L428.72,33.71L428.93,34.50L429.15,34.43L429.37,33.30L429.59,33.37L429.81,32.59L430.03,31.30L430.25,32.68L430.47,32.36L430.69,31.74L430.90,31.40L431.12,31.57L431.34,31.41L431.56,30.78L431.78,30.71L432.00,31.36L432.22,30.73L432.44,30.54L432.65,30.97L432.87,30.18L433.09,30.64L433.31,29.60L433.53,29.90L433.75,29.87L433.97,30.14L434.19,29.82L434.40,30.73L434.62,30.22L434.84,29.40L435.06,30.65L435.28,29.08L435.50,30.39L435.72,29.08L435.94,29.90L436.15,29.06L436.37,29.40L436.59,30.27L436.81,28.86L437.03,28.79L437.25,29.60L437.47,29.75L437.69,29.75L437.90,30.23L438.12,29.22L438.34,30.15L438.56,29.98L438.78,30.45L439.00,30.46L439.22,30.90L439.44,29.71L439.66,30.56L439.87,30.11L440.09,30.74L440.31,31.25L440.53,31.21L440.75,31.49L440.97,31.37L441.19,31.74L441.41,31.89L441.62,32.64L441.84,32.54L442.06,31.48L442.28,32.89L442.50,33.31L442.72,32.83L442.94,32.51L443.16,34.23L443.37,33.85L443.59,34.33L443.81,35.18L444.03,34.17L444.25,34.84L444.47,35.09L444.69,35.81L444.91,35.50L445.12,36.33L445.34,36.45L445.56,37.27L445.78,37.67L446.00,36.70L446.22,38.00L446.44,37.96L446.66,38.49L446.87,39.08L447.09,39.50L447.31,39.31L447.53,40.19L447.75,40.52L447.97,40.85L448.19,40.68L448.41,41.37L448.63,41.96L448.84,42.89L449.06,43.77L449.28,43.03L449.50,43.50L449.72,44.54L449.94,44.68L450.16,45.05L450.38,45.53L450.59,45.99L450.81,47.22L451.03,46.73L451.25,48.68L451.47,48.14L451.69,48.88L451.91,49.24L452.13,49.28L452.34,50.06L452.56,51.99L452.78,52.86L453.00,52.16L453.22,53.71L453.44,53.80L453.66,53.98L453.88,55.89L454.09,56.76L454.31,56.18L454.53,56.94L454.75,57.75L454.97,58.27L455.19,59.41L455.41,60.42L455.63,60.42L455.84,61.53L456.06,62.58L456.28,62.18L456.50,63.19L456.72,63.68L456.94,65.13L457.16,65.70L457.38,66.63L457.60,67.33L457.81,67.54L458.03,68.82L458.25,69.01L458.47,69.81L458.69,69.74L458.91,72.30L459.13,71.94L459.35,73.26L459.56,74.05L459.78,75.63L460.00,75.96L460.22,76.19L460.44,77.48L460.66,78.26L460.88,79.33L461.10,79.46L461.31,80.96L461.53,82.98L461.75,83.11L461.97,84.68L462.19,86.26L462.41,85.79L462.63,85.76L462.85,87.37L463.06,88.95L463.28,89.79L463.50,89.69L463.72,91.17L463.94,92.21L464.16,93.25" stroke="#000" stroke-width="1.35" stroke-dasharray="none" fill="none"/>
<path d="M407.49,99.32L407.71,97.40L407.93,96.76L408.15,96.23L408.37,96.84L408.59,93.98L408.81,94.54L409.03,91.42L409.24,93.43L409.46,91.12L409.68,90.06L409.90,90.80L410.12,86.14L410.34,85.59L410.56,87.10L410.78,84.71L410.99,84.34L411.21,87.19L411.43,82.81L411.65,82.36L411.87,81.35L412.09,81.97L412.31,80.16L412.53,79.24L412.74,76.75L412.96,77.02L413.18,76.66L413.40,73.98L413.62,75.79L413.84,74.82L414.06,75.83L414.28,70.90L414.50,70.91L414.71,70.23L414.93,69.81L415.15,69.79L415.37,68.95L415.59,68.82L415.81,68.06L416.03,67.06L416.25,64.57L416.46,65.08L416.68,65.17L416.90,65.15L417.12,64.57L417.34,61.16L417.56,61.87L417.78,61.79L418.00,61.67L418.21,62.00L418.43,60.10L418.65,58.33L418.87,59.31L419.09,58.51L419.31,57.92L419.53,56.94L419.75,58.48L419.96,56.24L420.18,56.46L420.40,53.76L420.62,55.27L420.84,53.07L421.06,51.38L421.28,53.14L421.50,52.98L421.71,51.50L421.93,51.25L422.15,51.99L422.37,49.71L422.59,47.31L422.81,49.66L423.03,49.13L423.25,49.73L423.47,47.59L423.68,49.10L423.90,48.49L424.12,45.12L424.34,47.41L424.56,44.54L424.78,43.60L425.00,44.77L425.22,44.02L425.43,41.91L425.65,44.20L425.87,44.32L426.09,44.91L426.31,42.83L426.53,40.71L426.75,41.02L426.97,43.04L427.18,42.62L427.40,41.87L427.62,40.58L427.84,40.89L428.06,40.08L428.28,39.70L428.50,40.16L428.72,39.57L428.93,39.00L429.15,39.10L429.37,38.13L429.59,36.20L429.81,37.54L430.03,37.98L430.25,39.92L430.47,37.14L430.69,39.82L430.90,38.96L431.12,35.97L431.34,35.97L431.56,36.85L431.78,38.61L432.00,36.80L432.22,37.02L432.44,35.25L432.65,33.10L432.87,35.49L433.09,36.60L433.31,36.97L433.53,35.48L433.75,35.52L433.97,36.63L434.19,34.98L434.40,36.46L434.62,33.59L434.84,33.58L435.06,33.49L435.28,35.37L435.50,34.10L435.72,34.86L435.94,35.15L436.15,35.06L436.37,36.23L436.59,36.40L436.81,33.63L437.03,34.86L437.25,34.36L437.47,33.41L437.69,36.82L437.90,35.68L438.12,34.54L438.34,34.32L438.56,35.32L438.78,33.65L439.00,34.73L439.22,36.57L439.44,36.30L439.66,34.25L439.87,34.77L440.09,37.80L440.31,33.90L440.53,34.94L440.75,34.15L440.97,36.42L441.19,36.45L441.41,37.63L441.62,33.26L441.84,36.78L442.06,34.77L442.28,37.71L442.50,36.89L442.72,39.35L442.94,37.96L443.16,36.48L443.37,39.46L443.59,36.81L443.81,37.94L444.03,39.89L444.25,39.46L444.47,39.66L444.69,39.41L444.91,40.28L445.12,40.91L445.34,40.54L445.56,41.72L445.78,42.34L446.00,41.11L446.22,40.27L446.44,43.57L446.66,41.99L446.87,43.13L447.09,43.87L447.31,41.95L447.53,44.00L447.75,41.87L447.97,45.05L448.19,43.98L448.41,45.12L448.63,46.16L448.84,44.90L449.06,46.22L449.28,45.69L449.50,46.91L449.72,48.62L449.94,47.84L450.16,48.09L450.38,47.41L450.59,50.17L450.81,49.56L451.03,52.11L451.25,49.65L451.47,52.27L451.69,53.66L451.91,52.00L452.13,51.06L452.34,54.82L452.56,54.80L452.78,54.90L453.00,55.91L453.22,54.58L453.44,56.60L453.66,57.05L453.88,56.00L454.09,58.22L454.31,57.33L454.53,59.65L454.75,60.54L454.97,61.91L455.19,57.94L455.41,61.25L455.63,61.17L455.84,62.14L456.06,62.54L456.28,63.31L456.50,61.66L456.72,65.96L456.94,67.27L457.16,67.26L457.38,68.34L457.60,66.45L457.81,67.05L458.03,69.96L458.25,71.19L458.47,70.63L458.69,69.19L458.91,75.12L459.13,71.72L459.35,74.44L459.56,72.58L459.78,75.95L460.00,75.74L460.22,78.02L460.44,78.14L460.66,76.01L460.88,77.50L461.10,79.81L461.31,81.20L461.53,83.28L461.75,82.25L461.97,82.63L462.19,83.53L462.41,84.38L462.63,86.51L462.85,86.06L463.06,86.89L463.28,86.12L463.50,86.29L463.72,89.65L463.94,91.33L464.16,91.36" stroke="#0000ff" stroke-width="1.1" fill="none"/>
<path d="M407.49,101.64L407.71,100.67L407.93,99.71L408.15,98.76L408.37,97.82L408.59,96.89L408.81,95.96L409.03,95.04L409.24,94.12L409.46,93.22L409.68,92.32L409.90,91.43L410.12,90.54L410.34,89.66L410.56,88.79L410.78,87.93L410.99,87.07L411.21,86.22L411.43,85.38L411.65,84.55L411.87,83.72L412.09,82.90L412.31,82.08L412.53,81.28L412.74,80.48L412.96,79.69L413.18,78.90L413.40,78.13L413.62,77.36L413.84,76.59L414.06,75.84L414.28,75.09L414.50,74.35L414.71,73.61L414.93,72.89L415.15,72.17L415.37,71.45L415.59,70.75L415.81,70.05L416.03,69.36L416.25,68.68L416.46,68.00L416.68,67.33L416.90,66.67L417.12,66.01L417.34,65.36L417.56,64.72L417.78,64.09L418.00,63.46L418.21,62.84L418.43,62.23L418.65,61.63L418.87,61.03L419.09,60.44L419.31,59.86L419.53,59.28L419.75,58.71L419.96,58.15L420.18,57.59L420.40,57.05L420.62,56.51L420.84,55.97L421.06,55.45L421.28,54.93L421.50,54.42L421.71,53.91L421.93,53.42L422.15,52.93L422.37,52.44L422.59,51.97L422.81,51.50L423.03,51.04L423.25,50.58L423.47,50.14L423.68,49.70L423.90,49.27L424.12,48.84L424.34,48.42L424.56,48.01L424.78,47.61L425.00,47.21L425.22,46.82L425.43,46.44L425.65,46.07L425.87,45.70L426.09,45.34L426.31,44.98L426.53,44.64L426.75,44.30L426.97,43.97L427.18,43.64L427.40,43.32L427.62,43.01L427.84,42.71L428.06,42.42L428.28,42.13L428.50,41.85L428.72,41.57L428.93,41.30L429.15,41.04L429.37,40.79L429.59,40.55L429.81,40.31L430.03,40.08L430.25,39.85L430.47,39.64L430.69,39.43L430.90,39.22L431.12,39.03L431.34,38.84L431.56,38.66L431.78,38.48L432.00,38.32L432.22,38.16L432.44,38.01L432.65,37.86L432.87,37.72L433.09,37.59L433.31,37.47L433.53,37.35L433.75,37.24L433.97,37.14L434.19,37.05L434.40,36.96L434.62,36.88L434.84,36.81L435.06,36.74L435.28,36.68L435.50,36.63L435.72,36.59L435.94,36.55L436.15,36.52L436.37,36.50L436.59,36.48L436.81,36.47L437.03,36.47L437.25,36.48L437.47,36.49L437.69,36.51L437.90,36.54L438.12,36.57L438.34,36.61L438.56,36.66L438.78,36.72L439.00,36.78L439.22,36.85L439.44,36.93L439.66,37.02L439.87,37.11L440.09,37.21L440.31,37.31L440.53,37.43L440.75,37.55L440.97,37.68L441.19,37.81L441.41,37.95L441.62,38.10L441.84,38.26L442.06,38.42L442.28,38.60L442.50,38.77L442.72,38.96L442.94,39.15L443.16,39.35L443.37,39.56L443.59,39.77L443.81,39.99L444.03,40.22L444.25,40.46L444.47,40.70L444.69,40.95L444.91,41.21L445.12,41.47L445.34,41.75L445.56,42.02L445.78,42.31L446.00,42.60L446.22,42.90L446.44,43.21L446.66,43.53L446.87,43.85L447.09,44.18L447.31,44.51L447.53,44.86L447.75,45.21L447.97,45.57L448.19,45.93L448.41,46.30L448.63,46.68L448.84,47.07L449.06,47.46L449.28,47.87L449.50,48.27L449.72,48.69L449.94,49.11L450.16,49.54L450.38,49.98L450.59,50.42L450.81,50.87L451.03,51.33L451.25,51.80L451.47,52.27L451.69,52.75L451.91,53.24L452.13,53.73L452.34,54.24L452.56,54.74L452.78,55.26L453.00,55.78L453.22,56.31L453.44,56.85L453.66,57.40L453.88,57.95L454.09,58.51L454.31,59.07L454.53,59.65L454.75,60.23L454.97,60.82L455.19,61.41L455.41,62.01L455.63,62.62L455.84,63.24L456.06,63.86L456.28,64.49L456.50,65.13L456.72,65.78L456.94,66.43L457.16,67.09L457.38,67.76L457.60,68.43L457.81,69.11L458.03,69.80L458.25,70.50L458.47,71.20L458.69,71.91L458.91,72.63L459.13,73.35L459.35,74.08L459.56,74.82L459.78,75.57L460.00,76.32L460.22,77.08L460.44,77.85L460.66,78.62L460.88,79.41L461.10,80.19L461.31,80.99L461.53,81.79L461.75,82.60L461.97,83.42L462.19,84.25L462.41,85.08L462.63,85.92L462.85,86.77L463.06,87.62L463.28,88.48L463.50,89.35L463.72,90.22L463.94,91.11L464.16,92.00" stroke="#ff0000" stroke-width="1.1" stroke-dasharray="2.6,2.6" fill="none"/>
</g>
<line x1="24.50" y1="199.60" x2="24.50" y2="338.50" stroke="#f5f5f5" stroke-width="0.7"/>
<line x1="117.23" y1="199.60" x2="117.23" y2="338.50" stroke="#f5f5f5" stroke-width="0.7"/>
<line x1="209.97" y1="199.60" x2="209.97" y2="338.50" stroke="#f5f5f5" stroke-width="0.7"/>
<line x1="302.70" y1="199.60" x2="302.70" y2="338.50" stroke="#f5f5f5" stroke-width="0.7"/>
<line x1="24.50" y1="324.30" x2="302.70" y2="324.30" stroke="#f5f5f5" stroke-width="0.7"/>
<line x1="24.50" y1="300.80" x2="302.70" y2="300.80" stroke="#f5f5f5" stroke-width="0.7"/>
<line x1="24.50" y1="277.30" x2="302.70" y2="277.30" stroke="#f5f5f5" stroke-width="0.7"/>
<line x1="24.50" y1="253.80" x2="302.70" y2="253.80" stroke="#f5f5f5" stroke-width="0.7"/>
<line x1="24.50" y1="230.30" x2="302.70" y2="230.30" stroke="#f5f5f5" stroke-width="0.7"/>
<line x1="24.50" y1="206.80" x2="302.70" y2="206.80" stroke="#f5f5f5" stroke-width="0.7"/>
<path d="M24.50,199.60L24.50,338.50L302.70,338.50" fill="none" stroke="#a2a2a2" stroke-width="0.6"/>
<line x1="24.50" y1="338.50" x2="24.50" y2="336.30" stroke="#a2a2a2" stroke-width="0.6"/>
<text transform="translate(24.50,347.30) scale(0.87,1)" font-size="6.8" text-anchor="middle" fill="#262626" font-family="Liberation Sans, sans-serif" font-weight="bold" stroke="#262626" stroke-width="0.22" stroke-linejoin="round">0</text>
<line x1="117.23" y1="338.50" x2="117.23" y2="336.30" stroke="#a2a2a2" stroke-width="0.6"/>
<text transform="translate(117.23,347.30) scale(0.87,1)" font-size="6.8" text-anchor="middle" fill="#262626" font-family="Liberation Sans, sans-serif" font-weight="bold" stroke="#262626" stroke-width="0.22" stroke-linejoin="round">5</text>
<line x1="209.97" y1="338.50" x2="209.97" y2="336.30" stroke="#a2a2a2" stroke-width="0.6"/>
<text transform="translate(209.97,347.30) scale(0.87,1)" font-size="6.8" text-anchor="middle" fill="#262626" font-family="Liberation Sans, sans-serif" font-weight="bold" stroke="#262626" stroke-width="0.22" stroke-linejoin="round">10</text>
<line x1="302.70" y1="338.50" x2="302.70" y2="336.30" stroke="#a2a2a2" stroke-width="0.6"/>
<text transform="translate(302.70,347.30) scale(0.87,1)" font-size="6.8" text-anchor="middle" fill="#262626" font-family="Liberation Sans, sans-serif" font-weight="bold" stroke="#262626" stroke-width="0.22" stroke-linejoin="round">15</text>
<line x1="24.50" y1="324.30" x2="26.70" y2="324.30" stroke="#a2a2a2" stroke-width="0.6"/>
<text transform="translate(22.20,327.00) scale(0.87,1)" font-size="6.8" text-anchor="end" fill="#262626" font-family="Liberation Sans, sans-serif" font-weight="bold" stroke="#262626" stroke-width="0.22" stroke-linejoin="round">-0.2</text>
<line x1="24.50" y1="300.80" x2="26.70" y2="300.80" stroke="#a2a2a2" stroke-width="0.6"/>
<text transform="translate(22.20,303.50) scale(0.87,1)" font-size="6.8" text-anchor="end" fill="#262626" font-family="Liberation Sans, sans-serif" font-weight="bold" stroke="#262626" stroke-width="0.22" stroke-linejoin="round">-0.1</text>
<line x1="24.50" y1="277.30" x2="26.70" y2="277.30" stroke="#a2a2a2" stroke-width="0.6"/>
<text transform="translate(22.20,280.00) scale(0.87,1)" font-size="6.8" text-anchor="end" fill="#262626" font-family="Liberation Sans, sans-serif" font-weight="bold" stroke="#262626" stroke-width="0.22" stroke-linejoin="round">0</text>
<line x1="24.50" y1="253.80" x2="26.70" y2="253.80" stroke="#a2a2a2" stroke-width="0.6"/>
<text transform="translate(22.20,256.50) scale(0.87,1)" font-size="6.8" text-anchor="end" fill="#262626" font-family="Liberation Sans, sans-serif" font-weight="bold" stroke="#262626" stroke-width="0.22" stroke-linejoin="round">0.1</text>
<line x1="24.50" y1="230.30" x2="26.70" y2="230.30" stroke="#a2a2a2" stroke-width="0.6"/>
<text transform="translate(22.20,233.00) scale(0.87,1)" font-size="6.8" text-anchor="end" fill="#262626" font-family="Liberation Sans, sans-serif" font-weight="bold" stroke="#262626" stroke-width="0.22" stroke-linejoin="round">0.2</text>
<line x1="24.50" y1="206.80" x2="26.70" y2="206.80" stroke="#a2a2a2" stroke-width="0.6"/>
<text transform="translate(22.20,209.50) scale(0.87,1)" font-size="6.8" text-anchor="end" fill="#262626" font-family="Liberation Sans, sans-serif" font-weight="bold" stroke="#262626" stroke-width="0.22" stroke-linejoin="round">0.3</text>
<text x="163.60" y="356.30" font-size="6.9" text-anchor="middle" fill="#262626" font-family="Liberation Sans, sans-serif" font-weight="bold" stroke="#262626" stroke-width="0.22" stroke-linejoin="round">Time(s)</text>
<text transform="translate(9.20,269.05) rotate(-90)" font-size="6.9" text-anchor="middle" fill="#262626" font-family="Liberation Sans, sans-serif" font-weight="bold" stroke="#262626" stroke-width="0.22" stroke-linejoin="round">Lateral Velocity(km/h)</text>
<text x="163.60" y="195.40" font-size="10.6" text-anchor="middle" fill="#262626" font-family="Liberation Sans, sans-serif" font-weight="bold" stroke="#262626" stroke-width="0.15" stroke-linejoin="round">(b)</text>
<clipPath id="cb"><rect x="23.50" y="198.60" width="280.20" height="140.90"/></clipPath>
<g clip-path="url(#cb)" stroke-linejoin="round">
<path d="M24.50,277.14L25.16,277.30L25.83,277.21L26.49,277.21L27.15,277.38L27.82,277.36L28.48,277.17L29.14,277.26L29.81,277.31L30.47,277.20L31.13,277.36L31.80,277.43L32.46,277.53L33.13,277.47L33.79,277.53L34.45,277.49L35.12,277.57L35.78,277.55L36.44,277.62L37.11,277.66L37.77,277.48L38.43,277.27L39.10,277.57L39.76,277.79L40.42,277.78L41.09,277.99L41.75,278.08L42.41,277.74L43.08,277.27L43.74,277.38L44.40,277.38L45.07,277.16L45.73,277.11L46.39,277.28L47.06,277.19L47.72,277.30L48.39,277.48L49.05,277.51L49.71,277.69L50.38,277.67L51.04,277.45L51.70,277.54L52.37,277.52L53.03,277.32L53.69,277.20L54.36,277.21L55.02,276.98L55.68,276.82L56.35,276.75L57.01,276.81L57.67,276.62L58.34,276.71L59.00,276.67L59.66,276.78L60.33,276.54L60.99,276.58L61.66,276.62L62.32,276.72L62.98,276.54L63.65,276.58L64.31,276.64L64.97,276.58L65.64,276.48L66.30,276.50L66.96,276.46L67.63,276.21L68.29,276.23L68.95,276.18L69.62,275.94L70.28,275.96L70.94,276.10L71.61,275.78L72.27,275.74L72.93,275.73L73.60,275.70L74.26,275.74L74.92,275.81L75.59,275.89L76.25,275.89L76.92,275.82L77.58,275.83L78.24,275.95L78.91,275.79L79.57,275.79L80.23,275.88L80.90,275.68L81.56,275.48L82.22,275.52L82.89,275.49L83.55,275.37L84.21,275.38L84.88,275.45L85.54,275.37L86.20,275.73L86.87,275.76L87.53,275.74L88.19,275.86L88.86,275.93L89.52,275.73L90.18,275.60L90.85,275.61L91.51,275.35L92.18,275.23L92.84,275.09L93.50,275.28L94.17,275.43L94.83,275.28L95.49,275.42L96.16,275.52L96.82,275.38L97.48,275.20L98.15,275.27L98.81,275.22L99.47,275.10L100.14,275.17L100.80,275.05L101.46,275.22L102.13,275.10L102.79,274.87L103.45,274.91L104.12,275.19L104.78,274.92L105.45,274.61L106.11,274.80L106.77,274.65L107.44,274.15L108.10,274.16L108.76,274.33L109.43,273.99L110.09,273.41L110.75,273.11L111.42,272.42L112.08,271.72L112.74,271.02L113.41,270.23L114.07,269.03L114.73,267.46L115.40,265.74L116.06,263.61L116.72,261.06L117.39,258.27L118.05,255.33L118.71,252.04L119.38,248.79L120.04,245.65L120.71,242.04L121.37,238.40L122.03,235.11L122.70,231.73L123.36,228.64L124.02,225.81L124.69,223.14L125.35,220.53L126.01,218.17L126.68,216.06L127.34,214.07L128.00,212.92L128.67,212.05L129.33,211.42L129.99,210.77L130.66,210.64L131.32,210.58L131.98,211.20L132.65,212.25L133.31,213.20L133.97,214.63L134.64,217.12L135.30,220.20L135.97,223.54L136.63,227.28L137.29,231.35L137.96,235.64L138.62,240.36L139.28,244.97L139.95,249.99L140.61,255.24L141.27,260.45L141.94,265.54L142.60,271.19L143.26,276.69L143.93,282.21L144.59,287.52L145.25,293.01L145.92,298.36L146.58,303.34L147.24,307.94L147.91,312.81L148.57,316.65L149.24,319.85L149.90,322.58L150.56,324.99L151.23,327.10L151.89,328.77L152.55,330.27L153.22,331.23L153.88,331.89L154.54,331.92L155.21,332.20L155.87,331.50L156.53,330.59L157.20,329.64L157.86,328.43L158.52,326.94L159.19,325.27L159.85,323.50L160.51,320.91L161.18,318.92L161.84,316.76L162.50,314.53L163.17,312.26L163.83,310.31L164.50,308.10L165.16,305.96L165.82,304.05L166.49,301.86L167.15,299.71L167.81,297.62L168.48,295.67L169.14,293.86L169.80,292.22L170.47,290.80L171.13,289.42L171.79,288.26L172.46,287.22L173.12,286.60L173.78,285.87L174.45,285.44L175.11,284.96L175.77,284.44L176.44,283.95L177.10,283.90L177.76,284.06L178.43,284.26L179.09,284.83L179.76,285.76L180.42,286.43L181.08,287.16L181.75,288.51L182.41,290.00L183.07,291.53L183.74,293.36L184.40,295.27L185.06,296.93L185.73,299.15L186.39,301.49L187.05,303.55L187.72,305.50L188.38,307.86L189.04,309.94L189.71,311.59L190.37,313.04L191.03,314.21L191.70,315.13L192.36,315.83L193.03,316.27L193.69,316.47L194.35,316.31L195.02,316.07L195.68,315.46L196.34,314.40L197.01,313.63L197.67,312.71L198.33,311.14L199.00,309.25L199.66,307.12L200.32,304.65L200.99,302.12L201.65,299.68L202.31,296.89L202.98,294.13L203.64,291.78L204.30,288.93L204.97,286.28L205.63,283.84L206.29,281.72L206.96,279.93L207.62,279.33L208.29,277.95L208.95,276.03L209.61,273.32L210.28,269.71L210.94,265.99L211.60,263.24L212.27,260.54L212.93,258.06L213.59,256.09L214.26,254.53L214.92,253.01L215.58,252.07L216.25,251.00L216.91,250.07L217.57,249.17L218.24,248.73L218.90,248.38L219.56,248.41L220.23,248.21L220.89,248.01L221.55,248.05L222.22,248.28L222.88,248.48L223.55,248.99L224.21,249.73L224.87,250.22L225.54,251.00L226.20,251.87L226.86,253.00L227.53,254.08L228.19,255.17L228.85,256.47L229.52,257.83L230.18,259.30L230.84,260.81L231.51,262.30L232.17,263.53L232.83,265.11L233.50,266.28L234.16,267.58L234.82,268.52L235.49,269.59L236.15,270.48L236.82,271.54L237.48,272.31L238.14,273.32L238.81,274.05L239.47,274.48L240.13,274.71L240.80,275.00L241.46,275.05L242.12,274.88L242.79,274.76L243.45,274.62L244.11,274.63L244.78,274.56L245.44,274.62L246.10,274.51L246.77,274.37L247.43,274.52L248.09,274.62L248.76,274.82L249.42,274.89L250.08,275.33L250.75,275.20L251.41,275.30L252.08,275.20L252.74,275.36L253.40,275.41L254.07,275.54L254.73,275.58L255.39,275.77L256.06,276.10L256.72,276.02L257.38,276.02L258.05,276.15L258.71,276.31L259.37,276.15L260.04,276.50L260.70,276.61L261.36,276.90L262.03,276.91L262.69,277.01L263.35,277.08L264.02,277.25L264.68,277.28L265.34,277.29L266.01,277.40L266.67,277.52L267.34,277.53L268.00,277.52L268.66,277.47L269.33,277.81L269.99,277.79L270.65,277.73L271.32,278.02L271.98,278.44L272.64,278.21L273.31,278.04L273.97,278.27L274.63,278.03L275.30,277.85L275.96,277.69L276.62,277.77L277.29,277.53L277.95,277.65L278.61,277.63L279.28,277.78L279.94,277.61L280.61,277.62L281.27,277.58L281.93,277.47L282.60,277.38L283.26,277.54L283.92,277.67L284.59,277.63L285.25,277.95L285.91,278.05L286.58,278.03L287.24,278.13L287.90,278.03L288.57,277.98L289.23,278.00L289.89,277.97L290.56,277.49L291.22,277.60L291.88,277.21L292.55,276.89L293.21,276.66L293.87,276.68L294.54,276.58L295.20,276.91L295.87,276.93L296.53,277.12L297.19,277.30L297.86,277.32L298.52,276.93L299.18,276.91L299.85,276.86L300.51,276.71L301.17,276.56L301.84,276.68L302.50,276.79" stroke="#000" stroke-width="0.874" stroke-dasharray="1.6,0.6" fill="none"/>
<path d="M24.50,277.34L25.16,277.49L25.83,277.41L26.49,277.36L27.15,277.36L27.82,277.31L28.48,277.17L29.14,277.31L29.81,277.33L30.47,277.34L31.13,277.41L31.80,277.48L32.46,277.43L33.13,277.50L33.79,277.45L34.45,277.48L35.12,277.43L35.78,277.51L36.44,277.47L37.11,277.49L37.77,277.44L38.43,277.43L39.10,277.44L39.76,277.45L40.42,277.35L41.09,277.46L41.75,277.58L42.41,277.61L43.08,277.61L43.74,277.72L44.40,277.57L45.07,277.43L45.73,277.33L46.39,277.36L47.06,277.37L47.72,277.36L48.39,277.44L49.05,277.46L49.71,277.44L50.38,277.31L51.04,277.38L51.70,277.35L52.37,277.33L53.03,277.27L53.69,277.36L54.36,277.22L55.02,277.24L55.68,277.11L56.35,277.08L57.01,277.12L57.67,277.16L58.34,276.96L59.00,276.99L59.66,276.97L60.33,276.73L60.99,276.69L61.66,276.75L62.32,276.77L62.98,276.76L63.65,276.88L64.31,276.88L64.97,276.84L65.64,276.74L66.30,276.81L66.96,276.85L67.63,276.95L68.29,276.85L68.95,276.86L69.62,276.69L70.28,276.58L70.94,276.46L71.61,276.47L72.27,276.46L72.93,276.59L73.60,276.61L74.26,276.45L74.92,276.44L75.59,276.40L76.25,276.34L76.92,276.32L77.58,276.36L78.24,276.38L78.91,276.44L79.57,276.42L80.23,276.43L80.90,276.46L81.56,276.38L82.22,276.38L82.89,276.28L83.55,276.26L84.21,276.25L84.88,276.35L85.54,276.31L86.20,276.37L86.87,276.35L87.53,276.39L88.19,276.37L88.86,276.39L89.52,276.47L90.18,276.45L90.85,276.37L91.51,276.27L92.18,276.17L92.84,275.93L93.50,275.88L94.17,275.91L94.83,275.84L95.49,275.92L96.16,275.98L96.82,276.03L97.48,275.96L98.15,276.15L98.81,276.01L99.47,276.04L100.14,276.00L100.80,275.89L101.46,275.69L102.13,275.70L102.79,275.68L103.45,275.58L104.12,275.62L104.78,275.55L105.45,275.43L106.11,275.33L106.77,275.26L107.44,275.15L108.10,275.12L108.76,275.04L109.43,274.80L110.09,274.46L110.75,273.97L111.42,273.41L112.08,272.68L112.74,271.94L113.41,271.00L114.07,270.01L114.73,268.52L115.40,266.86L116.06,264.85L116.72,262.76L117.39,260.37L118.05,257.63L118.71,254.68L119.38,251.47L120.04,248.32L120.71,244.80L121.37,241.24L122.03,237.48L122.70,234.13L123.36,230.78L124.02,227.75L124.69,224.69L125.35,221.88L126.01,219.22L126.68,216.81L127.34,214.42L128.00,212.43L128.67,211.07L129.33,210.16L129.99,209.38L130.66,208.84L131.32,208.79L131.98,209.05L132.65,209.79L133.31,210.90L133.97,212.22L134.64,213.95L135.30,216.70L135.97,219.99L136.63,223.46L137.29,227.32L137.96,231.71L138.62,236.22L139.28,240.83L139.95,245.82L140.61,250.88L141.27,256.10L141.94,261.43L142.60,266.93L143.26,272.50L143.93,278.14L144.59,283.62L145.25,289.25L145.92,294.58L146.58,299.57L147.24,304.38L147.91,309.00L148.57,313.31L149.24,317.03L149.90,320.24L150.56,323.11L151.23,325.57L151.89,327.32L152.55,328.82L153.22,330.14L153.88,331.05L154.54,331.46L155.21,331.96L155.87,332.10L156.53,331.73L157.20,330.75L157.86,329.75L158.52,328.30L159.19,326.77L159.85,324.88L160.51,322.86L161.18,320.61L161.84,318.47L162.50,316.35L163.17,314.08L163.83,311.78L164.50,309.54L165.16,307.43L165.82,305.31L166.49,303.25L167.15,301.01L167.81,298.84L168.48,296.89L169.14,294.90L169.80,293.15L170.47,291.76L171.13,290.52L171.79,289.08L172.46,287.97L173.12,287.02L173.78,286.29L174.45,285.51L175.11,285.05L175.77,284.63L176.44,284.04L177.10,283.56L177.76,283.46L178.43,283.57L179.09,283.90L179.76,284.78L180.42,285.64L181.08,286.57L181.75,287.57L182.41,288.94L183.07,290.33L183.74,292.06L184.40,293.81L185.06,295.59L185.73,297.66L186.39,299.99L187.05,302.36L187.72,304.61L188.38,306.88L189.04,309.17L189.71,311.29L190.37,313.17L191.03,314.71L191.70,316.07L192.36,317.21L193.03,317.91L193.69,318.23L194.35,318.49L195.02,318.48L195.68,318.03L196.34,317.49L197.01,316.56L197.67,315.51L198.33,314.19L199.00,312.46L199.66,310.21L200.32,307.89L200.99,305.44L201.65,302.91L202.31,300.11L202.98,297.20L203.64,294.25L204.30,291.32L204.97,288.50L205.63,285.79L206.29,283.29L206.96,281.35L207.62,279.89L208.29,278.72L208.95,277.44L209.61,275.44L210.28,272.28L210.94,268.89L211.60,265.62L212.27,262.68L212.93,260.16L213.59,257.96L214.26,255.90L214.92,254.13L215.58,252.73L216.25,251.41L216.91,250.43L217.57,249.52L218.24,248.96L218.90,248.61L219.56,248.61L220.23,248.53L220.89,248.51L221.55,248.40L222.22,248.35L222.88,248.41L223.55,248.57L224.21,248.97L224.87,249.39L225.54,250.00L226.20,250.94L226.86,252.06L227.53,253.25L228.19,254.45L228.85,255.72L229.52,257.01L230.18,258.35L230.84,259.66L231.51,261.14L232.17,262.54L232.83,263.87L233.50,265.23L234.16,266.46L234.82,267.50L235.49,268.66L236.15,269.62L236.82,270.48L237.48,271.51L238.14,272.53L238.81,273.27L239.47,273.78L240.13,274.21L240.80,274.46L241.46,274.68L242.12,274.81L242.79,275.05L243.45,275.02L244.11,274.91L244.78,274.87L245.44,274.73L246.10,274.62L246.77,274.54L247.43,274.54L248.09,274.57L248.76,274.54L249.42,274.57L250.08,274.72L250.75,274.95L251.41,274.97L252.08,275.17L252.74,275.20L253.40,275.23L254.07,275.16L254.73,275.27L255.39,275.41L256.06,275.57L256.72,275.65L257.38,275.93L258.05,276.03L258.71,276.07L259.37,276.16L260.04,276.36L260.70,276.40L261.36,276.68L262.03,276.87L262.69,277.08L263.35,277.18L264.02,277.34L264.68,277.35L265.34,277.38L266.01,277.49L266.67,277.51L267.34,277.67L268.00,277.88L268.66,278.02L269.33,278.01L269.99,278.09L270.65,278.13L271.32,278.05L271.98,278.08L272.64,278.04L273.31,278.09L273.97,277.97L274.63,278.02L275.30,278.02L275.96,278.09L276.62,278.00L277.29,278.04L277.95,277.99L278.61,277.90L279.28,277.72L279.94,277.70L280.61,277.58L281.27,277.53L281.93,277.48L282.60,277.55L283.26,277.48L283.92,277.50L284.59,277.56L285.25,277.68L285.91,277.80L286.58,278.00L287.24,277.98L287.90,277.90L288.57,277.94L289.23,277.76L289.89,277.60L290.56,277.61L291.22,277.48L291.88,277.25L292.55,277.24L293.21,277.21L293.87,277.04L294.54,276.98L295.20,277.10L295.87,277.03L296.53,276.88L297.19,276.91L297.86,276.92L298.52,276.79L299.18,276.87L299.85,276.93L300.51,276.82L301.17,276.91L301.84,276.89L302.50,276.85" stroke="#0000ff" stroke-width="0.92" fill="none"/>
<path d="M24.50,277.30L25.16,277.31L25.83,277.32L26.49,277.34L27.15,277.35L27.82,277.36L28.48,277.37L29.14,277.38L29.81,277.39L30.47,277.40L31.13,277.41L31.80,277.42L32.46,277.42L33.13,277.43L33.79,277.44L34.45,277.45L35.12,277.45L35.78,277.46L36.44,277.46L37.11,277.47L37.77,277.47L38.43,277.48L39.10,277.48L39.76,277.49L40.42,277.49L41.09,277.49L41.75,277.49L42.41,277.50L43.08,277.50L43.74,277.50L44.40,277.50L45.07,277.50L45.73,277.50L46.39,277.50L47.06,277.50L47.72,277.49L48.39,277.49L49.05,277.49L49.71,277.48L50.38,277.48L51.04,277.47L51.70,277.46L52.37,277.46L53.03,277.45L53.69,277.44L54.36,277.43L55.02,277.43L55.68,277.42L56.35,277.41L57.01,277.40L57.67,277.39L58.34,277.38L59.00,277.37L59.66,277.36L60.33,277.35L60.99,277.34L61.66,277.33L62.32,277.32L62.98,277.31L63.65,277.30L64.31,277.29L64.97,277.27L65.64,277.26L66.30,277.25L66.96,277.24L67.63,277.23L68.29,277.22L68.95,277.21L69.62,277.21L70.28,277.20L70.94,277.19L71.61,277.18L72.27,277.17L72.93,277.16L73.60,277.15L74.26,277.15L74.92,277.14L75.59,277.13L76.25,277.12L76.92,277.12L77.58,277.11L78.24,277.10L78.91,277.09L79.57,277.08L80.23,277.08L80.90,277.07L81.56,277.06L82.22,277.05L82.89,277.04L83.55,277.03L84.21,277.03L84.88,277.02L85.54,277.01L86.20,277.00L86.87,276.99L87.53,276.98L88.19,276.96L88.86,276.95L89.52,276.94L90.18,276.93L90.85,276.92L91.51,276.90L92.18,276.89L92.84,276.87L93.50,276.86L94.17,276.84L94.83,276.83L95.49,276.81L96.16,276.79L96.82,276.77L97.48,276.74L98.15,276.72L98.81,276.69L99.47,276.65L100.14,276.62L100.80,276.58L101.46,276.54L102.13,276.49L102.79,276.45L103.45,276.40L104.12,276.34L104.78,276.27L105.45,276.20L106.11,276.11L106.77,276.01L107.44,275.89L108.10,275.75L108.76,275.60L109.43,275.42L110.09,275.17L110.75,274.75L111.42,274.18L112.08,273.47L112.74,272.65L113.41,271.74L114.07,270.72L114.73,269.33L115.40,267.59L116.06,265.61L116.72,263.47L117.39,261.17L118.05,258.51L118.71,255.58L119.38,252.47L120.04,249.30L120.71,245.95L121.37,242.35L122.03,238.67L122.70,235.06L123.36,231.67L124.02,228.36L124.69,225.11L125.35,222.01L126.01,219.14L126.68,216.52L127.34,213.93L128.00,211.62L128.67,209.89L129.33,208.73L129.99,207.70L130.66,206.91L131.32,206.51L131.98,206.65L132.65,207.40L133.31,208.59L133.97,210.04L134.64,211.79L135.30,214.50L135.97,217.87L136.63,221.50L137.29,225.32L137.96,229.66L138.62,234.31L139.28,239.06L139.95,243.92L140.61,248.98L141.27,254.18L141.94,259.49L142.60,264.96L143.26,270.60L143.93,276.21L144.59,281.75L145.25,287.34L145.92,292.81L146.58,298.00L147.24,302.88L147.91,307.65L148.57,312.06L149.24,315.89L149.90,319.20L150.56,322.22L151.23,324.80L151.89,326.81L152.55,328.49L153.22,329.91L153.88,330.90L154.54,331.48L155.21,331.93L155.87,332.13L156.53,331.89L157.20,331.13L157.86,330.05L158.52,328.84L159.19,327.45L159.85,325.60L160.51,323.45L161.18,321.20L161.84,319.04L162.50,316.93L163.17,314.77L163.83,312.57L164.50,310.38L165.16,308.20L165.82,306.08L166.49,303.98L167.15,301.82L167.81,299.66L168.48,297.58L169.14,295.63L169.80,293.89L170.47,292.39L171.13,290.95L171.79,289.57L172.46,288.32L173.12,287.22L173.78,286.33L174.45,285.69L175.11,285.14L175.77,284.64L176.44,284.22L177.10,283.90L177.76,283.73L178.43,283.76L179.09,284.07L179.76,284.61L180.42,285.33L181.08,286.14L181.75,287.01L182.41,288.16L183.07,289.64L183.74,291.35L184.40,293.17L185.06,295.03L185.73,297.12L186.39,299.38L187.05,301.72L187.72,304.02L188.38,306.31L189.04,308.76L189.71,311.17L190.37,313.33L191.03,315.06L191.70,316.49L192.36,317.76L193.03,318.74L193.69,319.30L194.35,319.67L195.02,319.82L195.68,319.57L196.34,318.92L197.01,317.98L197.67,316.88L198.33,315.67L199.00,313.96L199.66,311.76L200.32,309.26L200.99,306.68L201.65,304.10L202.31,301.27L202.98,298.28L203.64,295.28L204.30,292.42L204.97,289.66L205.63,286.86L206.29,284.25L206.96,282.04L207.62,280.43L208.29,279.23L208.95,278.03L209.61,276.40L210.28,273.62L210.94,269.95L211.60,266.41L212.27,263.46L212.93,260.68L213.59,258.24L214.26,256.20L214.92,254.39L215.58,252.91L216.25,251.81L216.91,250.83L217.57,249.97L218.24,249.31L218.90,248.89L219.56,248.67L220.23,248.49L220.89,248.34L221.55,248.25L222.22,248.23L222.88,248.34L223.55,248.60L224.21,248.97L224.87,249.41L225.54,249.91L226.20,250.70L226.86,251.75L227.53,252.92L228.19,254.13L228.85,255.31L229.52,256.59L230.18,257.95L230.84,259.35L231.51,260.73L232.17,262.07L232.83,263.33L233.50,264.58L234.16,265.82L234.82,267.03L235.49,268.18L236.15,269.26L236.82,270.24L237.48,271.20L238.14,272.14L238.81,272.98L239.47,273.63L240.13,274.03L240.80,274.36L241.46,274.63L242.12,274.83L242.79,274.94L243.45,274.93L244.11,274.87L244.78,274.78L245.44,274.68L246.10,274.59L246.77,274.54L247.43,274.53L248.09,274.56L248.76,274.61L249.42,274.69L250.08,274.77L250.75,274.86L251.41,274.95L252.08,275.04L252.74,275.14L253.40,275.24L254.07,275.35L254.73,275.47L255.39,275.59L256.06,275.71L256.72,275.83L257.38,275.95L258.05,276.06L258.71,276.18L259.37,276.31L260.04,276.44L260.70,276.57L261.36,276.70L262.03,276.83L262.69,276.96L263.35,277.07L264.02,277.19L264.68,277.29L265.34,277.38L266.01,277.45L266.67,277.52L267.34,277.59L268.00,277.66L268.66,277.73L269.33,277.80L269.99,277.86L270.65,277.91L271.32,277.96L271.98,278.00L272.64,278.04L273.31,278.06L273.97,278.07L274.63,278.07L275.30,278.06L275.96,278.03L276.62,278.00L277.29,277.95L277.95,277.91L278.61,277.86L279.28,277.81L279.94,277.76L280.61,277.72L281.27,277.69L281.93,277.67L282.60,277.66L283.26,277.66L283.92,277.68L284.59,277.70L285.25,277.73L285.91,277.77L286.58,277.80L287.24,277.83L287.90,277.85L288.57,277.86L289.23,277.86L289.89,277.80L290.56,277.69L291.22,277.55L291.88,277.39L292.55,277.22L293.21,277.07L293.87,276.94L294.54,276.85L295.20,276.82L295.87,276.82L296.53,276.82L297.19,276.82L297.86,276.82L298.52,276.82L299.18,276.82L299.85,276.82L300.51,276.82L301.17,276.82L301.84,276.82L302.50,276.82" stroke="#ff0000" stroke-width="0.92" stroke-dasharray="2.6,2.6" fill="none"/>
</g>
<rect x="239.00" y="197.00" width="73.00" height="22.30" fill="#fff" stroke="#a8a8a8" stroke-width="0.7"/>
<line x1="240.10" y1="201.54" x2="249.40" y2="201.54" stroke="#000" stroke-width="0.7" stroke-dasharray="1.4,0.7" fill="none"/>
<text x="250.50" y="203.17" font-size="5.65" fill="#111" font-family="Liberation Sans, sans-serif" font-weight="bold" stroke="#262626" stroke-width="0.22" stroke-linejoin="round">UKF Estimated Value</text>
<line x1="240.10" y1="208.64" x2="249.40" y2="208.64" stroke="#0000ff" stroke-width="0.75" fill="none"/>
<text x="250.50" y="210.28" font-size="5.65" fill="#111" font-family="Liberation Sans, sans-serif" font-weight="bold" stroke="#262626" stroke-width="0.22" stroke-linejoin="round">DUPF Estimated Value</text>
<line x1="240.10" y1="215.75" x2="249.40" y2="215.75" stroke="#ff3030" stroke-width="0.7" stroke-dasharray="2,1.7" fill="none"/>
<text x="250.50" y="217.38" font-size="5.65" fill="#111" font-family="Liberation Sans, sans-serif" font-weight="bold" stroke="#262626" stroke-width="0.22" stroke-linejoin="round">Real Value</text>
<rect x="37.7" y="202.4" width="78.2" height="37.400000000000006" fill="#fff"/>
<line x1="38.50" y1="202.40" x2="38.50" y2="239.80" stroke="#f8f8f8" stroke-width="0.7"/>
<line x1="51.34" y1="202.40" x2="51.34" y2="239.80" stroke="#f8f8f8" stroke-width="0.7"/>
<line x1="64.18" y1="202.40" x2="64.18" y2="239.80" stroke="#f8f8f8" stroke-width="0.7"/>
<line x1="77.02" y1="202.40" x2="77.02" y2="239.80" stroke="#f8f8f8" stroke-width="0.7"/>
<line x1="89.86" y1="202.40" x2="89.86" y2="239.80" stroke="#f8f8f8" stroke-width="0.7"/>
<line x1="102.70" y1="202.40" x2="102.70" y2="239.80" stroke="#f8f8f8" stroke-width="0.7"/>
<line x1="37.70" y1="238.90" x2="115.90" y2="238.90" stroke="#f8f8f8" stroke-width="0.7"/>
<line x1="37.70" y1="231.80" x2="115.90" y2="231.80" stroke="#f8f8f8" stroke-width="0.7"/>
<line x1="37.70" y1="224.70" x2="115.90" y2="224.70" stroke="#f8f8f8" stroke-width="0.7"/>
<line x1="37.70" y1="217.60" x2="115.90" y2="217.60" stroke="#f8f8f8" stroke-width="0.7"/>
<line x1="37.70" y1="210.50" x2="115.90" y2="210.50" stroke="#f8f8f8" stroke-width="0.7"/>
<line x1="37.70" y1="203.40" x2="115.90" y2="203.40" stroke="#f8f8f8" stroke-width="0.7"/>
<rect x="37.70" y="202.40" width="78.20" height="37.40" fill="none" stroke="#a2a2a2" stroke-width="0.6"/>
<line x1="38.50" y1="239.80" x2="38.50" y2="238.60" stroke="#a2a2a2" stroke-width="0.6"/>
<line x1="38.50" y1="202.40" x2="38.50" y2="203.60" stroke="#a2a2a2" stroke-width="0.6"/>
<text transform="translate(38.50,244.80) scale(1.0,1)" font-size="3.1" text-anchor="middle" fill="#262626" font-family="Liberation Sans, sans-serif" font-weight="bold" stroke="#262626" stroke-width="0.05" stroke-linejoin="round">5.2</text>
<line x1="51.34" y1="239.80" x2="51.34" y2="238.60" stroke="#a2a2a2" stroke-width="0.6"/>
<line x1="51.34" y1="202.40" x2="51.34" y2="203.60" stroke="#a2a2a2" stroke-width="0.6"/>
<text transform="translate(51.34,244.80) scale(1.0,1)" font-size="3.1" text-anchor="middle" fill="#262626" font-family="Liberation Sans, sans-serif" font-weight="bold" stroke="#262626" stroke-width="0.05" stroke-linejoin="round">5.4</text>
<line x1="64.18" y1="239.80" x2="64.18" y2="238.60" stroke="#a2a2a2" stroke-width="0.6"/>
<line x1="64.18" y1="202.40" x2="64.18" y2="203.60" stroke="#a2a2a2" stroke-width="0.6"/>
<text transform="translate(64.18,244.80) scale(1.0,1)" font-size="3.1" text-anchor="middle" fill="#262626" font-family="Liberation Sans, sans-serif" font-weight="bold" stroke="#262626" stroke-width="0.05" stroke-linejoin="round">5.6</text>
<line x1="77.02" y1="239.80" x2="77.02" y2="238.60" stroke="#a2a2a2" stroke-width="0.6"/>
<line x1="77.02" y1="202.40" x2="77.02" y2="203.60" stroke="#a2a2a2" stroke-width="0.6"/>
<text transform="translate(77.02,244.80) scale(1.0,1)" font-size="3.1" text-anchor="middle" fill="#262626" font-family="Liberation Sans, sans-serif" font-weight="bold" stroke="#262626" stroke-width="0.05" stroke-linejoin="round">5.8</text>
<line x1="89.86" y1="239.80" x2="89.86" y2="238.60" stroke="#a2a2a2" stroke-width="0.6"/>
<line x1="89.86" y1="202.40" x2="89.86" y2="203.60" stroke="#a2a2a2" stroke-width="0.6"/>
<text transform="translate(89.86,244.80) scale(1.0,1)" font-size="3.1" text-anchor="middle" fill="#262626" font-family="Liberation Sans, sans-serif" font-weight="bold" stroke="#262626" stroke-width="0.05" stroke-linejoin="round">6</text>
<line x1="102.70" y1="239.80" x2="102.70" y2="238.60" stroke="#a2a2a2" stroke-width="0.6"/>
<line x1="102.70" y1="202.40" x2="102.70" y2="203.60" stroke="#a2a2a2" stroke-width="0.6"/>
<text transform="translate(102.70,244.80) scale(1.0,1)" font-size="3.1" text-anchor="middle" fill="#262626" font-family="Liberation Sans, sans-serif" font-weight="bold" stroke="#262626" stroke-width="0.05" stroke-linejoin="round">6.2</text>
<line x1="37.70" y1="238.90" x2="38.90" y2="238.90" stroke="#a2a2a2" stroke-width="0.6"/>
<line x1="115.90" y1="238.90" x2="114.70" y2="238.90" stroke="#a2a2a2" stroke-width="0.6"/>
<text transform="translate(36.20,240.27) scale(1.0,1)" font-size="3.1" text-anchor="end" fill="#262626" font-family="Liberation Sans, sans-serif" font-weight="bold" stroke="#262626" stroke-width="0.05" stroke-linejoin="round">0.26</text>
<line x1="37.70" y1="231.80" x2="38.90" y2="231.80" stroke="#a2a2a2" stroke-width="0.6"/>
<line x1="115.90" y1="231.80" x2="114.70" y2="231.80" stroke="#a2a2a2" stroke-width="0.6"/>
<text transform="translate(36.20,233.17) scale(1.0,1)" font-size="3.1" text-anchor="end" fill="#262626" font-family="Liberation Sans, sans-serif" font-weight="bold" stroke="#262626" stroke-width="0.05" stroke-linejoin="round">0.27</text>
<line x1="37.70" y1="224.70" x2="38.90" y2="224.70" stroke="#a2a2a2" stroke-width="0.6"/>
<line x1="115.90" y1="224.70" x2="114.70" y2="224.70" stroke="#a2a2a2" stroke-width="0.6"/>
<text transform="translate(36.20,226.07) scale(1.0,1)" font-size="3.1" text-anchor="end" fill="#262626" font-family="Liberation Sans, sans-serif" font-weight="bold" stroke="#262626" stroke-width="0.05" stroke-linejoin="round">0.28</text>
<line x1="37.70" y1="217.60" x2="38.90" y2="217.60" stroke="#a2a2a2" stroke-width="0.6"/>
<line x1="115.90" y1="217.60" x2="114.70" y2="217.60" stroke="#a2a2a2" stroke-width="0.6"/>
<text transform="translate(36.20,218.97) scale(1.0,1)" font-size="3.1" text-anchor="end" fill="#262626" font-family="Liberation Sans, sans-serif" font-weight="bold" stroke="#262626" stroke-width="0.05" stroke-linejoin="round">0.29</text>
<line x1="37.70" y1="210.50" x2="38.90" y2="210.50" stroke="#a2a2a2" stroke-width="0.6"/>
<line x1="115.90" y1="210.50" x2="114.70" y2="210.50" stroke="#a2a2a2" stroke-width="0.6"/>
<text transform="translate(36.20,211.87) scale(1.0,1)" font-size="3.1" text-anchor="end" fill="#262626" font-family="Liberation Sans, sans-serif" font-weight="bold" stroke="#262626" stroke-width="0.05" stroke-linejoin="round">0.3</text>
<line x1="37.70" y1="203.40" x2="38.90" y2="203.40" stroke="#a2a2a2" stroke-width="0.6"/>
<line x1="115.90" y1="203.40" x2="114.70" y2="203.40" stroke="#a2a2a2" stroke-width="0.6"/>
<text transform="translate(36.20,204.77) scale(1.0,1)" font-size="3.1" text-anchor="end" fill="#262626" font-family="Liberation Sans, sans-serif" font-weight="bold" stroke="#262626" stroke-width="0.05" stroke-linejoin="round">0.31</text>
<clipPath id="cib"><rect x="37.70" y="202.40" width="78.20" height="37.40"/></clipPath>
<g clip-path="url(#cib)" stroke-linejoin="round">
<path d="M51.34,271.07L51.72,269.44L52.10,267.85L52.47,266.28L52.85,264.75L53.23,263.24L53.61,261.76L53.98,260.32L54.36,258.90L54.74,257.51L55.12,256.15L55.49,254.82L55.87,253.53L56.25,252.26L56.63,251.02L57.00,249.81L57.38,248.63L57.76,247.48L58.14,246.36L58.52,245.27L58.89,244.21L59.27,243.17L59.65,242.17L60.03,241.20L60.40,240.26L60.78,239.35L61.16,238.46L61.54,237.61L61.91,236.79L62.29,235.99L62.67,235.23L63.05,234.49L63.42,233.79L63.80,233.11L64.18,232.47L64.56,231.85L64.94,231.26L65.31,230.71L65.69,230.18L66.07,229.68L66.45,229.22L66.82,228.78L67.20,228.37L67.58,227.99L67.96,227.64L68.33,227.32L68.71,227.03L69.09,226.78L69.47,226.55L69.84,226.34L70.22,226.17L70.60,226.03L70.98,225.92L71.36,225.84L71.73,225.79L72.11,225.77L72.49,225.77L72.87,225.81L73.24,225.88L73.62,225.97L74.00,226.10L74.38,226.26L74.75,226.44L75.13,226.66L75.51,226.90L75.89,227.18L76.26,227.48L76.64,227.81L77.02,228.18L77.40,228.57L77.78,228.99L78.15,229.45L78.53,229.93L78.91,230.44L79.29,230.98L79.66,231.55L80.04,232.15L80.42,232.79L80.80,233.45L81.17,234.14L81.55,234.86L81.93,235.61L82.31,236.38L82.68,237.19L83.06,238.03L83.44,238.90L83.82,239.80L84.20,240.73L84.57,241.68L84.95,242.67L85.33,243.69L85.71,244.73L86.08,245.81L86.46,246.91L86.84,248.05L87.22,249.21L87.59,250.41L87.97,251.63L88.35,252.89L88.73,254.17L89.10,255.48L89.48,256.83L89.86,258.20L90.24,259.60L90.62,261.03L90.99,262.50L91.37,263.99L91.75,265.51L92.13,267.06L92.50,268.64L92.88,270.25L93.26,271.89L93.64,273.56L94.01,275.26L94.39,276.99L94.77,278.75L95.15,280.54L95.52,282.35L95.90,284.20L96.28,286.08" stroke="#000" stroke-width="0.85" stroke-dasharray="1.1,0.6" fill="none"/>
<path d="M51.34,271.19L51.72,269.31L52.10,267.47L52.47,265.66L52.85,263.88L53.23,262.14L53.61,260.43L53.98,258.75L54.36,257.11L54.74,255.49L55.12,253.91L55.49,252.36L55.87,250.85L56.25,249.37L56.63,247.92L57.00,246.50L57.38,245.12L57.76,243.77L58.14,242.45L58.52,241.16L58.89,239.91L59.27,238.69L59.65,237.50L60.03,236.35L60.40,235.22L60.78,234.13L61.16,233.08L61.54,232.05L61.91,231.06L62.29,230.10L62.67,229.18L63.05,228.28L63.42,227.42L63.80,226.60L64.18,225.80L64.56,225.04L64.94,224.31L65.31,223.61L65.69,222.95L66.07,222.32L66.45,221.72L66.82,221.15L67.20,220.62L67.58,220.12L67.96,219.65L68.33,219.22L68.71,218.81L69.09,218.44L69.47,218.11L69.84,217.80L70.22,217.53L70.60,217.29L70.98,217.09L71.36,216.91L71.73,216.77L72.11,216.66L72.49,216.59L72.87,216.55L73.24,216.54L73.62,216.56L74.00,216.61L74.38,216.70L74.75,216.82L75.13,216.98L75.51,217.16L75.89,217.38L76.26,217.63L76.64,217.92L77.02,218.24L77.40,218.59L77.78,218.97L78.15,219.39L78.53,219.83L78.91,220.31L79.29,220.83L79.66,221.37L80.04,221.95L80.42,222.57L80.80,223.21L81.17,223.89L81.55,224.60L81.93,225.34L82.31,226.12L82.68,226.92L83.06,227.76L83.44,228.64L83.82,229.54L84.20,230.48L84.57,231.45L84.95,232.46L85.33,233.50L85.71,234.57L86.08,235.67L86.46,236.80L86.84,237.97L87.22,239.17L87.59,240.41L87.97,241.67L88.35,242.97L88.73,244.30L89.10,245.67L89.48,247.06L89.86,248.49L90.24,249.96L90.62,251.45L90.99,252.98L91.37,254.54L91.75,256.13L92.13,257.76L92.50,259.42L92.88,261.11L93.26,262.83L93.64,264.59L94.01,266.38L94.39,268.20L94.77,270.06L95.15,271.95L95.52,273.87L95.90,275.82L96.28,277.81" stroke="#0000ff" stroke-width="1.0" fill="none"/>
<path d="M51.34,276.91L51.72,274.77L52.10,272.67L52.47,270.61L52.85,268.57L53.23,266.58L53.61,264.61L53.98,262.68L54.36,260.79L54.74,258.92L55.12,257.10L55.49,255.30L55.87,253.55L56.25,251.82L56.63,250.13L57.00,248.48L57.38,246.85L57.76,245.27L58.14,243.71L58.52,242.19L58.89,240.71L59.27,239.26L59.65,237.84L60.03,236.46L60.40,235.11L60.78,233.80L61.16,232.52L61.54,231.27L61.91,230.06L62.29,228.88L62.67,227.74L63.05,226.63L63.42,225.56L63.80,224.52L64.18,223.51L64.56,222.54L64.94,221.60L65.31,220.70L65.69,219.83L66.07,218.99L66.45,218.19L66.82,217.43L67.20,216.70L67.58,216.00L67.96,215.33L68.33,214.70L68.71,214.11L69.09,213.55L69.47,213.02L69.84,212.53L70.22,212.07L70.60,211.64L70.98,211.25L71.36,210.90L71.73,210.58L72.11,210.29L72.49,210.04L72.87,209.82L73.24,209.63L73.62,209.48L74.00,209.37L74.38,209.28L74.75,209.24L75.13,209.22L75.51,209.24L75.89,209.30L76.26,209.39L76.64,209.51L77.02,209.67L77.40,209.86L77.78,210.08L78.15,210.34L78.53,210.64L78.91,210.97L79.29,211.33L79.66,211.73L80.04,212.16L80.42,212.62L80.80,213.12L81.17,213.66L81.55,214.22L81.93,214.83L82.31,215.46L82.68,216.13L83.06,216.84L83.44,217.58L83.82,218.35L84.20,219.16L84.57,220.00L84.95,220.88L85.33,221.79L85.71,222.73L86.08,223.71L86.46,224.72L86.84,225.77L87.22,226.85L87.59,227.97L87.97,229.12L88.35,230.30L88.73,231.52L89.10,232.77L89.48,234.06L89.86,235.38L90.24,236.73L90.62,238.12L90.99,239.54L91.37,241.00L91.75,242.49L92.13,244.02L92.50,245.58L92.88,247.18L93.26,248.80L93.64,250.47L94.01,252.16L94.39,253.90L94.77,255.66L95.15,257.46L95.52,259.29L95.90,261.16L96.28,263.07" stroke="#ff0000" stroke-width="1.0" stroke-dasharray="2.1,2.1" fill="none"/>
</g>
<line x1="388.50" y1="203.65" x2="388.50" y2="345.75" stroke="#f5f5f5" stroke-width="0.7"/>
<line x1="483.00" y1="203.65" x2="483.00" y2="345.75" stroke="#f5f5f5" stroke-width="0.7"/>
<line x1="577.50" y1="203.65" x2="577.50" y2="345.75" stroke="#f5f5f5" stroke-width="0.7"/>
<line x1="672.00" y1="203.65" x2="672.00" y2="345.75" stroke="#f5f5f5" stroke-width="0.7"/>
<line x1="388.50" y1="331.25" x2="672.00" y2="331.25" stroke="#f5f5f5" stroke-width="0.7"/>
<line x1="388.50" y1="302.25" x2="672.00" y2="302.25" stroke="#f5f5f5" stroke-width="0.7"/>
<line x1="388.50" y1="273.25" x2="672.00" y2="273.25" stroke="#f5f5f5" stroke-width="0.7"/>
<line x1="388.50" y1="244.25" x2="672.00" y2="244.25" stroke="#f5f5f5" stroke-width="0.7"/>
<line x1="388.50" y1="215.25" x2="672.00" y2="215.25" stroke="#f5f5f5" stroke-width="0.7"/>
<path d="M388.50,203.65L388.50,345.75L672.00,345.75" fill="none" stroke="#a2a2a2" stroke-width="0.6"/>
<line x1="388.50" y1="345.75" x2="388.50" y2="343.55" stroke="#a2a2a2" stroke-width="0.6"/>
<text transform="translate(388.50,354.55) scale(1.0,1)" font-size="6.4" text-anchor="middle" fill="#262626" font-family="Liberation Sans, sans-serif" font-weight="bold" stroke="#262626" stroke-width="0.22" stroke-linejoin="round">0</text>
<line x1="483.00" y1="345.75" x2="483.00" y2="343.55" stroke="#a2a2a2" stroke-width="0.6"/>
<text transform="translate(483.00,354.55) scale(1.0,1)" font-size="6.4" text-anchor="middle" fill="#262626" font-family="Liberation Sans, sans-serif" font-weight="bold" stroke="#262626" stroke-width="0.22" stroke-linejoin="round">5</text>
<line x1="577.50" y1="345.75" x2="577.50" y2="343.55" stroke="#a2a2a2" stroke-width="0.6"/>
<text transform="translate(577.50,354.55) scale(1.0,1)" font-size="6.4" text-anchor="middle" fill="#262626" font-family="Liberation Sans, sans-serif" font-weight="bold" stroke="#262626" stroke-width="0.22" stroke-linejoin="round">10</text>
<line x1="672.00" y1="345.75" x2="672.00" y2="343.55" stroke="#a2a2a2" stroke-width="0.6"/>
<text transform="translate(672.00,354.55) scale(1.0,1)" font-size="6.4" text-anchor="middle" fill="#262626" font-family="Liberation Sans, sans-serif" font-weight="bold" stroke="#262626" stroke-width="0.22" stroke-linejoin="round">15</text>
<line x1="388.50" y1="331.25" x2="390.70" y2="331.25" stroke="#a2a2a2" stroke-width="0.6"/>
<text transform="translate(386.20,333.80) scale(1.0,1)" font-size="6.4" text-anchor="end" fill="#262626" font-family="Liberation Sans, sans-serif" font-weight="bold" stroke="#262626" stroke-width="0.22" stroke-linejoin="round">-10</text>
<line x1="388.50" y1="302.25" x2="390.70" y2="302.25" stroke="#a2a2a2" stroke-width="0.6"/>
<text transform="translate(386.20,304.80) scale(1.0,1)" font-size="6.4" text-anchor="end" fill="#262626" font-family="Liberation Sans, sans-serif" font-weight="bold" stroke="#262626" stroke-width="0.22" stroke-linejoin="round">-5</text>
<line x1="388.50" y1="273.25" x2="390.70" y2="273.25" stroke="#a2a2a2" stroke-width="0.6"/>
<text transform="translate(386.20,275.80) scale(1.0,1)" font-size="6.4" text-anchor="end" fill="#262626" font-family="Liberation Sans, sans-serif" font-weight="bold" stroke="#262626" stroke-width="0.22" stroke-linejoin="round">0</text>
<line x1="388.50" y1="244.25" x2="390.70" y2="244.25" stroke="#a2a2a2" stroke-width="0.6"/>
<text transform="translate(386.20,246.80) scale(1.0,1)" font-size="6.4" text-anchor="end" fill="#262626" font-family="Liberation Sans, sans-serif" font-weight="bold" stroke="#262626" stroke-width="0.22" stroke-linejoin="round">5</text>
<line x1="388.50" y1="215.25" x2="390.70" y2="215.25" stroke="#a2a2a2" stroke-width="0.6"/>
<text transform="translate(386.20,217.80) scale(1.0,1)" font-size="6.4" text-anchor="end" fill="#262626" font-family="Liberation Sans, sans-serif" font-weight="bold" stroke="#262626" stroke-width="0.22" stroke-linejoin="round">10</text>
<text x="530.25" y="363.55" font-size="7.0" text-anchor="middle" fill="#262626" font-family="Liberation Sans, sans-serif" font-weight="bold" stroke="#262626" stroke-width="0.22" stroke-linejoin="round">Time(s)</text>
<text transform="translate(373.90,279.00) rotate(-90)" font-size="7.0" text-anchor="middle" fill="#262626" font-family="Liberation Sans, sans-serif" font-weight="bold" stroke="#262626" stroke-width="0.22" stroke-linejoin="round">Yaw Rate (°/s)</text>
<text x="530.25" y="199.85" font-size="10.6" text-anchor="middle" fill="#262626" font-family="Liberation Sans, sans-serif" font-weight="bold" stroke="#262626" stroke-width="0.15" stroke-linejoin="round">(f)</text>
<clipPath id="cf"><rect x="387.50" y="202.65" width="285.50" height="144.10"/></clipPath>
<g clip-path="url(#cf)" stroke-linejoin="round">
<path d="M388.50,273.25L389.29,273.25L390.08,273.25L390.87,273.25L391.66,273.25L392.45,273.25L393.23,273.25L394.02,273.25L394.81,273.25L395.60,273.25L396.39,273.25L397.18,273.25L397.97,273.25L398.76,273.25L399.55,273.25L400.34,273.25L401.13,273.25L401.92,273.25L402.70,273.25L403.49,273.25L404.28,273.25L405.07,273.25L405.86,273.25L406.65,273.25L407.44,273.25L408.23,273.25L409.02,273.25L409.81,273.25L410.60,273.25L411.38,273.25L412.17,273.25L412.96,273.25L413.75,273.25L414.54,273.25L415.33,273.25L416.12,273.25L416.91,273.25L417.70,273.25L418.49,273.25L419.28,273.25L420.07,273.25L420.85,273.25L421.64,273.25L422.43,273.25L423.22,273.25L424.01,273.25L424.80,273.25L425.59,273.25L426.38,273.25L427.17,273.25L427.96,273.25L428.75,273.25L429.54,273.25L430.32,273.25L431.11,273.25L431.90,273.25L432.69,273.25L433.48,273.25L434.27,273.25L435.06,273.25L435.85,273.25L436.64,273.25L437.43,273.25L438.22,273.25L439.00,273.25L439.79,273.25L440.58,273.25L441.37,273.25L442.16,273.25L442.95,273.25L443.74,273.25L444.53,273.25L445.32,273.25L446.11,273.25L446.90,273.25L447.69,273.25L448.47,273.25L449.26,273.25L450.05,273.25L450.84,273.25L451.63,273.25L452.42,273.25L453.21,273.25L454.00,273.25L454.79,273.25L455.58,273.25L456.37,273.26L457.15,273.26L457.94,273.26L458.73,273.26L459.52,273.26L460.31,273.25L461.10,273.24L461.89,273.23L462.68,273.23L463.47,273.23L464.26,273.24L465.05,273.28L465.84,273.32L466.62,273.38L467.41,273.44L468.20,273.50L468.99,273.53L469.78,273.54L470.57,273.51L471.36,273.44L472.15,273.31L472.94,273.11L473.73,272.82L474.52,272.40L475.31,271.81L476.09,271.02L476.88,269.98L477.67,268.70L478.46,267.17L479.25,265.41L480.04,263.42L480.83,261.22L481.62,258.81L482.41,256.20L483.20,253.40L483.99,250.42L484.77,247.25L485.56,243.92L486.35,240.49L487.14,237.04L487.93,233.62L488.72,230.32L489.51,227.21L490.30,224.33L491.09,221.71L491.88,219.37L492.67,217.35L493.46,215.68L494.24,214.38L495.03,213.50L495.82,213.05L496.61,213.08L497.40,213.62L498.19,214.70L498.98,216.37L499.77,218.66L500.56,221.61L501.35,225.24L502.14,229.60L502.92,234.71L503.71,240.46L504.50,246.63L505.29,252.97L506.08,259.32L506.87,265.71L507.66,272.20L508.45,278.78L509.24,285.34L510.03,291.68L510.82,297.62L511.61,303.01L512.39,307.82L513.18,312.02L513.97,315.56L514.76,318.49L515.55,320.88L516.34,322.80L517.13,324.33L517.92,325.50L518.71,326.31L519.50,326.75L520.29,326.82L521.07,326.52L521.86,325.81L522.65,324.66L523.44,323.04L524.23,320.95L525.02,318.50L525.81,315.83L526.60,313.09L527.39,310.39L528.18,307.75L528.97,305.17L529.76,302.64L530.54,300.16L531.33,297.72L532.12,295.35L532.91,293.07L533.70,290.94L534.49,288.97L535.28,287.21L536.07,285.65L536.86,284.29L537.65,283.10L538.44,282.04L539.23,281.11L540.01,280.28L540.80,279.57L541.59,278.98L542.38,278.52L543.17,278.21L543.96,278.06L544.75,278.07L545.54,278.27L546.33,278.70L547.12,279.44L547.91,280.56L548.69,282.12L549.48,284.18L550.27,286.72L551.06,289.74L551.85,293.23L552.64,297.14L553.43,301.39L554.22,305.86L555.01,310.46L555.80,315.09L556.59,319.66L557.38,324.09L558.16,328.27L558.95,332.07L559.74,335.28L560.53,337.68L561.32,339.15L562.11,339.79L562.90,339.77L563.69,339.04L564.48,337.22L565.27,333.91L566.06,328.95L566.84,322.67L567.63,315.38L568.42,307.42L569.21,299.12L570.00,290.77L570.79,282.48L571.58,274.30L572.37,266.31L573.16,258.74L573.95,251.81L574.74,245.68L575.53,240.24L576.31,235.38L577.10,230.99L577.89,227.08L578.68,223.70L579.47,220.92L580.26,218.75L581.05,217.13L581.84,215.99L582.63,215.28L583.42,214.93L584.21,214.90L584.99,215.14L585.78,215.70L586.57,216.65L587.36,218.07L588.15,219.95L588.94,222.24L589.73,224.88L590.52,227.81L591.31,230.94L592.10,234.19L592.89,237.44L593.68,240.61L594.46,243.64L595.25,246.54L596.04,249.28L596.83,251.87L597.62,254.30L598.41,256.56L599.20,258.66L599.99,260.59L600.78,262.37L601.57,263.98L602.36,265.45L603.15,266.80L603.93,268.03L604.72,269.16L605.51,270.21L606.30,271.17L607.09,272.05L607.88,272.85L608.67,273.56L609.46,274.18L610.25,274.72L611.04,275.18L611.83,275.57L612.61,275.88L613.40,276.11L614.19,276.28L614.98,276.39L615.77,276.44L616.56,276.45L617.35,276.41L618.14,276.34L618.93,276.25L619.72,276.13L620.51,275.99L621.30,275.83L622.08,275.67L622.87,275.50L623.66,275.33L624.45,275.16L625.24,275.00L626.03,274.84L626.82,274.69L627.61,274.54L628.40,274.40L629.19,274.27L629.98,274.15L630.76,274.04L631.55,273.93L632.34,273.84L633.13,273.76L633.92,273.68L634.71,273.61L635.50,273.56L636.29,273.51L637.08,273.46L637.87,273.42L638.66,273.39L639.45,273.36L640.23,273.33L641.02,273.31L641.81,273.28L642.60,273.26L643.39,273.24L644.18,273.22L644.97,273.21L645.76,273.19L646.55,273.17L647.34,273.16L648.13,273.14L648.92,273.13L649.70,273.12L650.49,273.11L651.28,273.10L652.07,273.09L652.86,273.08L653.65,273.07L654.44,273.07L655.23,273.06L656.02,273.06L656.81,273.06L657.60,273.05L658.38,273.06L659.17,273.06L659.96,273.06L660.75,273.06L661.54,273.07L662.33,273.08L663.12,273.09L663.91,273.10L664.70,273.11L665.49,273.12L666.28,273.14L667.07,273.15L667.85,273.17L668.64,273.19L669.43,273.21L670.22,273.23L671.01,273.26L671.80,273.29" stroke="#000" stroke-width="0.874" stroke-dasharray="1.6,0.6" fill="none"/>
<path d="M388.50,273.25L389.29,273.25L390.08,273.25L390.87,273.25L391.66,273.25L392.45,273.25L393.23,273.25L394.02,273.25L394.81,273.25L395.60,273.25L396.39,273.25L397.18,273.25L397.97,273.25L398.76,273.25L399.55,273.25L400.34,273.25L401.13,273.25L401.92,273.25L402.70,273.25L403.49,273.25L404.28,273.25L405.07,273.25L405.86,273.25L406.65,273.25L407.44,273.25L408.23,273.25L409.02,273.25L409.81,273.25L410.60,273.25L411.38,273.25L412.17,273.25L412.96,273.25L413.75,273.25L414.54,273.25L415.33,273.25L416.12,273.25L416.91,273.25L417.70,273.25L418.49,273.25L419.28,273.25L420.07,273.25L420.85,273.25L421.64,273.25L422.43,273.25L423.22,273.25L424.01,273.25L424.80,273.25L425.59,273.25L426.38,273.25L427.17,273.25L427.96,273.25L428.75,273.25L429.54,273.25L430.32,273.25L431.11,273.25L431.90,273.25L432.69,273.25L433.48,273.25L434.27,273.25L435.06,273.25L435.85,273.25L436.64,273.25L437.43,273.25L438.22,273.25L439.00,273.25L439.79,273.25L440.58,273.25L441.37,273.25L442.16,273.25L442.95,273.25L443.74,273.25L444.53,273.25L445.32,273.25L446.11,273.25L446.90,273.25L447.69,273.25L448.47,273.25L449.26,273.25L450.05,273.25L450.84,273.25L451.63,273.25L452.42,273.25L453.21,273.25L454.00,273.25L454.79,273.25L455.58,273.25L456.37,273.26L457.15,273.26L457.94,273.26L458.73,273.26L459.52,273.26L460.31,273.25L461.10,273.24L461.89,273.23L462.68,273.23L463.47,273.23L464.26,273.24L465.05,273.28L465.84,273.32L466.62,273.38L467.41,273.44L468.20,273.49L468.99,273.53L469.78,273.54L470.57,273.51L471.36,273.43L472.15,273.31L472.94,273.11L473.73,272.82L474.52,272.40L475.31,271.82L476.09,271.03L476.88,270.00L477.67,268.73L478.46,267.21L479.25,265.46L480.04,263.48L480.83,261.29L481.62,258.90L482.41,256.30L483.20,253.52L483.99,250.55L484.77,247.41L485.56,244.10L486.35,240.69L487.14,237.25L487.93,233.86L488.72,230.58L489.51,227.48L490.30,224.62L491.09,222.01L491.88,219.70L492.67,217.69L493.46,216.02L494.24,214.73L495.03,213.85L495.82,213.41L496.61,213.44L497.40,213.97L498.19,215.05L498.98,216.71L499.77,218.98L500.56,221.92L501.35,225.53L502.14,229.86L502.92,234.94L503.71,240.66L504.50,246.79L505.29,253.09L506.08,259.40L506.87,265.76L507.66,272.20L508.45,278.75L509.24,285.27L510.03,291.57L510.82,297.47L511.61,302.83L512.39,307.61L513.18,311.78L513.97,315.31L514.76,318.22L515.55,320.60L516.34,322.51L517.13,324.02L517.92,325.19L518.71,325.99L519.50,326.43L520.29,326.50L521.07,326.20L521.86,325.50L522.65,324.35L523.44,322.75L524.23,320.67L525.02,318.23L525.81,315.57L526.60,312.85L527.39,310.17L528.18,307.55L528.97,304.98L529.76,302.47L530.54,300.00L531.33,297.57L532.12,295.21L532.91,292.96L533.70,290.83L534.49,288.88L535.28,287.12L536.07,285.58L536.86,284.23L537.65,283.04L538.44,281.99L539.23,281.06L540.01,280.24L540.80,279.53L541.59,278.94L542.38,278.49L543.17,278.18L543.96,278.03L544.75,278.04L545.54,278.24L546.33,278.67L547.12,279.41L547.91,280.51L548.69,282.07L549.48,284.11L550.27,286.64L551.06,289.64L551.85,293.11L552.64,297.00L553.43,301.22L554.22,305.67L555.01,310.24L555.80,314.84L556.59,319.39L557.38,323.78L558.16,327.94L558.95,331.72L559.74,334.91L560.53,337.30L561.32,338.75L562.11,339.40L562.90,339.38L563.69,338.65L564.48,336.84L565.27,333.54L566.06,328.62L566.84,322.37L567.63,315.13L568.42,307.21L569.21,298.97L570.00,290.67L570.79,282.42L571.58,274.29L572.37,266.35L573.16,258.82L573.95,251.94L574.74,245.84L575.53,240.44L576.31,235.61L577.10,231.25L577.89,227.36L578.68,224.00L579.47,221.23L580.26,219.07L581.05,217.46L581.84,216.33L582.63,215.62L583.42,215.28L584.21,215.25L584.99,215.48L585.78,216.04L586.57,216.99L587.36,218.40L588.15,220.27L588.94,222.55L589.73,225.17L590.52,228.08L591.31,231.20L592.10,234.42L592.89,237.65L593.68,240.80L594.46,243.82L595.25,246.70L596.04,249.43L596.83,252.00L597.62,254.41L598.41,256.66L599.20,258.74L599.99,260.67L600.78,262.43L601.57,264.04L602.36,265.50L603.15,266.84L603.93,268.06L604.72,269.19L605.51,270.23L606.30,271.19L607.09,272.06L607.88,272.85L608.67,273.55L609.46,274.18L610.25,274.71L611.04,275.17L611.83,275.55L612.61,275.86L613.40,276.10L614.19,276.26L614.98,276.37L615.77,276.42L616.56,276.43L617.35,276.39L618.14,276.33L618.93,276.23L619.72,276.11L620.51,275.97L621.30,275.82L622.08,275.65L622.87,275.48L623.66,275.31L624.45,275.15L625.24,274.99L626.03,274.83L626.82,274.68L627.61,274.54L628.40,274.40L629.19,274.27L629.98,274.15L630.76,274.03L631.55,273.93L632.34,273.84L633.13,273.75L633.92,273.68L634.71,273.61L635.50,273.55L636.29,273.50L637.08,273.46L637.87,273.42L638.66,273.39L639.45,273.36L640.23,273.33L641.02,273.31L641.81,273.28L642.60,273.26L643.39,273.24L644.18,273.22L644.97,273.21L645.76,273.19L646.55,273.17L647.34,273.16L648.13,273.14L648.92,273.13L649.70,273.12L650.49,273.11L651.28,273.10L652.07,273.09L652.86,273.08L653.65,273.07L654.44,273.07L655.23,273.06L656.02,273.06L656.81,273.06L657.60,273.06L658.38,273.06L659.17,273.06L659.96,273.06L660.75,273.07L661.54,273.07L662.33,273.08L663.12,273.09L663.91,273.10L664.70,273.11L665.49,273.12L666.28,273.14L667.07,273.15L667.85,273.17L668.64,273.19L669.43,273.21L670.22,273.23L671.01,273.26L671.80,273.28" stroke="#0000ff" stroke-width="0.92" fill="none"/>
<path d="M388.50,273.25L389.29,273.25L390.08,273.25L390.87,273.25L391.66,273.25L392.45,273.25L393.23,273.25L394.02,273.25L394.81,273.25L395.60,273.25L396.39,273.25L397.18,273.25L397.97,273.25L398.76,273.25L399.55,273.25L400.34,273.25L401.13,273.25L401.92,273.25L402.70,273.25L403.49,273.25L404.28,273.25L405.07,273.25L405.86,273.25L406.65,273.25L407.44,273.25L408.23,273.25L409.02,273.25L409.81,273.25L410.60,273.25L411.38,273.25L412.17,273.25L412.96,273.25L413.75,273.25L414.54,273.25L415.33,273.25L416.12,273.25L416.91,273.25L417.70,273.25L418.49,273.25L419.28,273.25L420.07,273.25L420.85,273.25L421.64,273.25L422.43,273.25L423.22,273.25L424.01,273.25L424.80,273.25L425.59,273.25L426.38,273.25L427.17,273.25L427.96,273.25L428.75,273.25L429.54,273.25L430.32,273.25L431.11,273.25L431.90,273.25L432.69,273.25L433.48,273.25L434.27,273.25L435.06,273.25L435.85,273.25L436.64,273.25L437.43,273.25L438.22,273.25L439.00,273.25L439.79,273.25L440.58,273.25L441.37,273.25L442.16,273.25L442.95,273.25L443.74,273.25L444.53,273.25L445.32,273.25L446.11,273.25L446.90,273.25L447.69,273.25L448.47,273.25L449.26,273.25L450.05,273.25L450.84,273.25L451.63,273.25L452.42,273.25L453.21,273.25L454.00,273.25L454.79,273.25L455.58,273.25L456.37,273.26L457.15,273.26L457.94,273.26L458.73,273.26L459.52,273.26L460.31,273.25L461.10,273.24L461.89,273.23L462.68,273.23L463.47,273.23L464.26,273.24L465.05,273.28L465.84,273.32L466.62,273.38L467.41,273.44L468.20,273.49L468.99,273.53L469.78,273.54L470.57,273.51L471.36,273.43L472.15,273.31L472.94,273.11L473.73,272.82L474.52,272.40L475.31,271.82L476.09,271.03L476.88,270.00L477.67,268.73L478.46,267.21L479.25,265.46L480.04,263.48L480.83,261.29L481.62,258.90L482.41,256.30L483.20,253.52L483.99,250.55L484.77,247.41L485.56,244.10L486.35,240.69L487.14,237.25L487.93,233.86L488.72,230.58L489.51,227.48L490.30,224.62L491.09,222.01L491.88,219.70L492.67,217.69L493.46,216.02L494.24,214.73L495.03,213.85L495.82,213.41L496.61,213.44L497.40,213.97L498.19,215.05L498.98,216.71L499.77,218.98L500.56,221.92L501.35,225.53L502.14,229.86L502.92,234.94L503.71,240.66L504.50,246.79L505.29,253.09L506.08,259.40L506.87,265.76L507.66,272.20L508.45,278.75L509.24,285.27L510.03,291.57L510.82,297.47L511.61,302.83L512.39,307.61L513.18,311.78L513.97,315.31L514.76,318.22L515.55,320.60L516.34,322.51L517.13,324.02L517.92,325.19L518.71,325.99L519.50,326.43L520.29,326.50L521.07,326.20L521.86,325.50L522.65,324.35L523.44,322.75L524.23,320.67L525.02,318.23L525.81,315.57L526.60,312.85L527.39,310.17L528.18,307.55L528.97,304.98L529.76,302.47L530.54,300.00L531.33,297.57L532.12,295.21L532.91,292.96L533.70,290.83L534.49,288.88L535.28,287.12L536.07,285.58L536.86,284.23L537.65,283.04L538.44,281.99L539.23,281.06L540.01,280.24L540.80,279.53L541.59,278.94L542.38,278.49L543.17,278.18L543.96,278.03L544.75,278.04L545.54,278.24L546.33,278.67L547.12,279.41L547.91,280.51L548.69,282.07L549.48,284.11L550.27,286.64L551.06,289.64L551.85,293.11L552.64,297.00L553.43,301.22L554.22,305.67L555.01,310.24L555.80,314.84L556.59,319.39L557.38,323.78L558.16,327.94L558.95,331.72L559.74,334.91L560.53,337.30L561.32,338.75L562.11,339.40L562.90,339.38L563.69,338.65L564.48,336.84L565.27,333.54L566.06,328.62L566.84,322.37L567.63,315.13L568.42,307.21L569.21,298.97L570.00,290.67L570.79,282.42L571.58,274.29L572.37,266.35L573.16,258.82L573.95,251.94L574.74,245.84L575.53,240.44L576.31,235.61L577.10,231.25L577.89,227.36L578.68,224.00L579.47,221.23L580.26,219.07L581.05,217.46L581.84,216.33L582.63,215.62L583.42,215.28L584.21,215.25L584.99,215.48L585.78,216.04L586.57,216.99L587.36,218.40L588.15,220.27L588.94,222.55L589.73,225.17L590.52,228.08L591.31,231.20L592.10,234.42L592.89,237.65L593.68,240.80L594.46,243.82L595.25,246.70L596.04,249.43L596.83,252.00L597.62,254.41L598.41,256.66L599.20,258.74L599.99,260.67L600.78,262.43L601.57,264.04L602.36,265.50L603.15,266.84L603.93,268.06L604.72,269.19L605.51,270.23L606.30,271.19L607.09,272.06L607.88,272.85L608.67,273.55L609.46,274.18L610.25,274.71L611.04,275.17L611.83,275.55L612.61,275.86L613.40,276.10L614.19,276.26L614.98,276.37L615.77,276.42L616.56,276.43L617.35,276.39L618.14,276.33L618.93,276.23L619.72,276.11L620.51,275.97L621.30,275.82L622.08,275.65L622.87,275.48L623.66,275.31L624.45,275.15L625.24,274.99L626.03,274.83L626.82,274.68L627.61,274.54L628.40,274.40L629.19,274.27L629.98,274.15L630.76,274.03L631.55,273.93L632.34,273.84L633.13,273.75L633.92,273.68L634.71,273.61L635.50,273.55L636.29,273.50L637.08,273.46L637.87,273.42L638.66,273.39L639.45,273.36L640.23,273.33L641.02,273.31L641.81,273.28L642.60,273.26L643.39,273.24L644.18,273.22L644.97,273.21L645.76,273.19L646.55,273.17L647.34,273.16L648.13,273.14L648.92,273.13L649.70,273.12L650.49,273.11L651.28,273.10L652.07,273.09L652.86,273.08L653.65,273.07L654.44,273.07L655.23,273.06L656.02,273.06L656.81,273.06L657.60,273.06L658.38,273.06L659.17,273.06L659.96,273.06L660.75,273.07L661.54,273.07L662.33,273.08L663.12,273.09L663.91,273.10L664.70,273.11L665.49,273.12L666.28,273.14L667.07,273.15L667.85,273.17L668.64,273.19L669.43,273.21L670.22,273.23L671.01,273.26L671.80,273.28" stroke="#ff0000" stroke-width="0.92" stroke-dasharray="2.6,2.6" fill="none"/>
</g>
<rect x="601.00" y="202.00" width="74.00" height="23.25" fill="#fff" stroke="#a8a8a8" stroke-width="0.7"/>
<line x1="602.10" y1="206.73" x2="611.40" y2="206.73" stroke="#000" stroke-width="0.7" stroke-dasharray="1.4,0.7" fill="none"/>
<text x="612.50" y="208.39" font-size="5.72" fill="#111" font-family="Liberation Sans, sans-serif" font-weight="bold" stroke="#262626" stroke-width="0.22" stroke-linejoin="round">UKF Estimated Value</text>
<line x1="602.10" y1="214.14" x2="611.40" y2="214.14" stroke="#0000ff" stroke-width="0.75" fill="none"/>
<text x="612.50" y="215.80" font-size="5.72" fill="#111" font-family="Liberation Sans, sans-serif" font-weight="bold" stroke="#262626" stroke-width="0.22" stroke-linejoin="round">DUPF Estimated Value</text>
<line x1="602.10" y1="221.55" x2="611.40" y2="221.55" stroke="#ff3030" stroke-width="0.7" stroke-dasharray="2,1.7" fill="none"/>
<text x="612.50" y="223.21" font-size="5.72" fill="#111" font-family="Liberation Sans, sans-serif" font-weight="bold" stroke="#262626" stroke-width="0.22" stroke-linejoin="round">Real Value</text>
<rect x="594.25" y="287.2" width="79.25" height="38.5" fill="#fff"/>
<line x1="604.10" y1="287.20" x2="604.10" y2="325.70" stroke="#f8f8f8" stroke-width="0.7"/>
<line x1="618.20" y1="287.20" x2="618.20" y2="325.70" stroke="#f8f8f8" stroke-width="0.7"/>
<line x1="632.30" y1="287.20" x2="632.30" y2="325.70" stroke="#f8f8f8" stroke-width="0.7"/>
<line x1="646.40" y1="287.20" x2="646.40" y2="325.70" stroke="#f8f8f8" stroke-width="0.7"/>
<line x1="660.50" y1="287.20" x2="660.50" y2="325.70" stroke="#f8f8f8" stroke-width="0.7"/>
<line x1="594.25" y1="322.19" x2="673.50" y2="322.19" stroke="#f8f8f8" stroke-width="0.7"/>
<line x1="594.25" y1="315.02" x2="673.50" y2="315.02" stroke="#f8f8f8" stroke-width="0.7"/>
<line x1="594.25" y1="307.85" x2="673.50" y2="307.85" stroke="#f8f8f8" stroke-width="0.7"/>
<line x1="594.25" y1="300.69" x2="673.50" y2="300.69" stroke="#f8f8f8" stroke-width="0.7"/>
<line x1="594.25" y1="293.52" x2="673.50" y2="293.52" stroke="#f8f8f8" stroke-width="0.7"/>
<rect x="594.25" y="287.20" width="79.25" height="38.50" fill="none" stroke="#a2a2a2" stroke-width="0.6"/>
<line x1="604.10" y1="325.70" x2="604.10" y2="324.50" stroke="#a2a2a2" stroke-width="0.6"/>
<line x1="604.10" y1="287.20" x2="604.10" y2="288.40" stroke="#a2a2a2" stroke-width="0.6"/>
<text transform="translate(604.10,330.70) scale(1.0,1)" font-size="3.1" text-anchor="middle" fill="#262626" font-family="Liberation Sans, sans-serif" font-weight="bold" stroke="#262626" stroke-width="0.05" stroke-linejoin="round">10.25</text>
<line x1="618.20" y1="325.70" x2="618.20" y2="324.50" stroke="#a2a2a2" stroke-width="0.6"/>
<line x1="618.20" y1="287.20" x2="618.20" y2="288.40" stroke="#a2a2a2" stroke-width="0.6"/>
<text transform="translate(618.20,330.70) scale(1.0,1)" font-size="3.1" text-anchor="middle" fill="#262626" font-family="Liberation Sans, sans-serif" font-weight="bold" stroke="#262626" stroke-width="0.05" stroke-linejoin="round">10.3</text>
<line x1="632.30" y1="325.70" x2="632.30" y2="324.50" stroke="#a2a2a2" stroke-width="0.6"/>
<line x1="632.30" y1="287.20" x2="632.30" y2="288.40" stroke="#a2a2a2" stroke-width="0.6"/>
<text transform="translate(632.30,330.70) scale(1.0,1)" font-size="3.1" text-anchor="middle" fill="#262626" font-family="Liberation Sans, sans-serif" font-weight="bold" stroke="#262626" stroke-width="0.05" stroke-linejoin="round">10.35</text>
<line x1="646.40" y1="325.70" x2="646.40" y2="324.50" stroke="#a2a2a2" stroke-width="0.6"/>
<line x1="646.40" y1="287.20" x2="646.40" y2="288.40" stroke="#a2a2a2" stroke-width="0.6"/>
<text transform="translate(646.40,330.70) scale(1.0,1)" font-size="3.1" text-anchor="middle" fill="#262626" font-family="Liberation Sans, sans-serif" font-weight="bold" stroke="#262626" stroke-width="0.05" stroke-linejoin="round">10.4</text>
<line x1="660.50" y1="325.70" x2="660.50" y2="324.50" stroke="#a2a2a2" stroke-width="0.6"/>
<line x1="660.50" y1="287.20" x2="660.50" y2="288.40" stroke="#a2a2a2" stroke-width="0.6"/>
<text transform="translate(660.50,330.70) scale(1.0,1)" font-size="3.1" text-anchor="middle" fill="#262626" font-family="Liberation Sans, sans-serif" font-weight="bold" stroke="#262626" stroke-width="0.05" stroke-linejoin="round">10.45</text>
<line x1="594.25" y1="322.19" x2="595.45" y2="322.19" stroke="#a2a2a2" stroke-width="0.6"/>
<line x1="673.50" y1="322.19" x2="672.30" y2="322.19" stroke="#a2a2a2" stroke-width="0.6"/>
<text transform="translate(592.75,323.56) scale(1.0,1)" font-size="3.1" text-anchor="end" fill="#262626" font-family="Liberation Sans, sans-serif" font-weight="bold" stroke="#262626" stroke-width="0.05" stroke-linejoin="round">9.7</text>
<line x1="594.25" y1="315.02" x2="595.45" y2="315.02" stroke="#a2a2a2" stroke-width="0.6"/>
<line x1="673.50" y1="315.02" x2="672.30" y2="315.02" stroke="#a2a2a2" stroke-width="0.6"/>
<text transform="translate(592.75,316.39) scale(1.0,1)" font-size="3.1" text-anchor="end" fill="#262626" font-family="Liberation Sans, sans-serif" font-weight="bold" stroke="#262626" stroke-width="0.05" stroke-linejoin="round">9.8</text>
<line x1="594.25" y1="307.85" x2="595.45" y2="307.85" stroke="#a2a2a2" stroke-width="0.6"/>
<line x1="673.50" y1="307.85" x2="672.30" y2="307.85" stroke="#a2a2a2" stroke-width="0.6"/>
<text transform="translate(592.75,309.22) scale(1.0,1)" font-size="3.1" text-anchor="end" fill="#262626" font-family="Liberation Sans, sans-serif" font-weight="bold" stroke="#262626" stroke-width="0.05" stroke-linejoin="round">9.9</text>
<line x1="594.25" y1="300.69" x2="595.45" y2="300.69" stroke="#a2a2a2" stroke-width="0.6"/>
<line x1="673.50" y1="300.69" x2="672.30" y2="300.69" stroke="#a2a2a2" stroke-width="0.6"/>
<text transform="translate(592.75,302.05) scale(1.0,1)" font-size="3.1" text-anchor="end" fill="#262626" font-family="Liberation Sans, sans-serif" font-weight="bold" stroke="#262626" stroke-width="0.05" stroke-linejoin="round">10</text>
<line x1="594.25" y1="293.52" x2="595.45" y2="293.52" stroke="#a2a2a2" stroke-width="0.6"/>
<line x1="673.50" y1="293.52" x2="672.30" y2="293.52" stroke="#a2a2a2" stroke-width="0.6"/>
<text transform="translate(592.75,294.88) scale(1.0,1)" font-size="3.1" text-anchor="end" fill="#262626" font-family="Liberation Sans, sans-serif" font-weight="bold" stroke="#262626" stroke-width="0.05" stroke-linejoin="round">10.1</text>
<clipPath id="cif"><rect x="594.25" y="287.20" width="79.25" height="38.50"/></clipPath>
<g clip-path="url(#cif)" stroke-linejoin="round">
<path d="M590.00,356.70L590.57,353.05L591.14,349.91L591.70,350.77L592.27,351.94L592.84,352.57L593.41,348.80L593.97,349.92L594.54,347.52L595.11,346.25L595.68,340.55L596.25,339.32L596.81,337.83L597.38,341.14L597.95,337.29L598.52,339.72L599.08,334.96L599.65,337.64L600.22,335.14L600.79,336.67L601.36,336.19L601.92,333.42L602.49,331.69L603.06,327.67L603.63,329.92L604.19,328.87L604.76,331.39L605.33,326.79L605.90,328.97L606.47,327.34L607.03,327.33L607.60,325.62L608.17,322.92L608.74,322.19L609.30,317.86L609.87,317.15L610.44,318.09L611.01,319.96L611.58,320.93L612.14,317.77L612.71,314.74L613.28,314.82L613.85,316.13L614.41,317.87L614.98,317.09L615.55,315.97L616.12,314.44L616.69,310.10L617.25,309.94L617.82,309.64L618.39,311.42L618.96,311.57L619.52,311.21L620.09,311.38L620.66,308.46L621.23,309.38L621.80,307.02L622.36,308.23L622.93,305.72L623.50,306.10L624.07,304.29L624.63,302.68L625.20,303.32L625.77,303.99L626.34,304.76L626.91,306.16L627.47,304.13L628.04,305.45L628.61,305.60L629.18,304.18L629.74,303.06L630.31,302.76L630.88,302.89L631.45,303.01L632.02,299.66L632.58,303.39L633.15,303.17L633.72,307.02L634.29,308.49L634.86,309.48L635.42,307.12L635.99,303.22L636.56,298.33L637.13,299.70L637.69,299.41L638.26,303.79L638.83,302.58L639.40,306.22L639.97,307.55L640.53,308.55L641.10,308.25L641.67,306.26L642.24,306.29L642.80,302.95L643.37,302.90L643.94,301.85L644.51,302.22L645.08,301.91L645.64,302.44L646.21,304.45L646.78,305.64L647.35,304.32L647.91,303.37L648.48,302.99L649.05,303.72L649.62,305.97L650.19,306.12L650.75,309.67L651.32,307.35L651.89,308.36L652.46,306.50L653.02,308.01L653.59,308.60L654.16,309.70L654.73,309.34L655.30,309.66L655.86,311.13L656.43,312.74L657.00,315.90L657.57,312.77L658.13,314.23L658.70,312.31L659.27,312.06L659.84,309.36L660.41,309.90L660.97,312.90L661.54,315.09L662.11,313.54L662.68,315.32L663.24,317.41L663.81,318.80L664.38,318.98L664.95,318.86L665.52,320.52L666.08,323.33L666.65,326.46L667.22,331.95L667.79,331.54L668.35,329.25L668.92,327.92L669.49,326.67L670.06,328.07L670.63,327.48L671.19,330.19L671.76,332.46L672.33,334.59L672.90,335.96L673.46,337.15L674.03,336.05L674.60,336.68" stroke="#000" stroke-width="0.8" stroke-dasharray="2,0.7" fill="none"/>
<path d="M590.00,352.69L590.57,351.27L591.14,350.22L591.70,349.87L592.27,347.80L592.84,347.47L593.41,346.15L593.97,345.12L594.54,342.69L595.11,340.73L595.68,339.64L596.25,338.32L596.81,338.65L597.38,338.02L597.95,336.96L598.52,335.63L599.08,334.44L599.65,332.70L600.22,331.62L600.79,330.79L601.36,329.17L601.92,328.36L602.49,327.52L603.06,326.67L603.63,326.11L604.19,324.71L604.76,323.75L605.33,322.90L605.90,321.88L606.47,322.06L607.03,321.24L607.60,320.03L608.17,319.39L608.74,318.27L609.30,317.16L609.87,317.75L610.44,316.87L611.01,316.53L611.58,316.67L612.14,314.88L612.71,314.33L613.28,313.49L613.85,312.64L614.41,312.11L614.98,311.78L615.55,310.53L616.12,309.30L616.69,308.69L617.25,307.73L617.82,307.78L618.39,307.87L618.96,307.23L619.52,306.95L620.09,306.49L620.66,305.99L621.23,305.68L621.80,306.37L622.36,305.64L622.93,304.80L623.50,305.10L624.07,303.83L624.63,304.08L625.20,303.66L625.77,303.50L626.34,303.55L626.91,302.68L627.47,302.27L628.04,302.07L628.61,301.69L629.18,301.62L629.74,302.05L630.31,300.52L630.88,300.60L631.45,300.44L632.02,300.46L632.58,300.41L633.15,299.88L633.72,300.05L634.29,300.22L634.86,300.06L635.42,299.74L635.99,299.31L636.56,298.27L637.13,298.76L637.69,299.27L638.26,299.87L638.83,300.61L639.40,300.31L639.97,300.69L640.53,300.71L641.10,300.65L641.67,301.19L642.24,300.60L642.80,301.00L643.37,301.68L643.94,301.95L644.51,301.93L645.08,301.43L645.64,300.97L646.21,301.33L646.78,301.93L647.35,302.57L647.91,302.66L648.48,303.14L649.05,303.53L649.62,303.83L650.19,304.29L650.75,304.30L651.32,303.83L651.89,303.66L652.46,303.74L653.02,304.99L653.59,306.48L654.16,307.71L654.73,308.54L655.30,309.13L655.86,309.10L656.43,309.03L657.00,310.24L657.57,310.34L658.13,311.62L658.70,312.59L659.27,312.50L659.84,312.04L660.41,312.47L660.97,312.87L661.54,313.71L662.11,314.50L662.68,314.87L663.24,315.38L663.81,316.55L664.38,318.00L664.95,319.33L665.52,320.06L666.08,320.24L666.65,321.09L667.22,321.79L667.79,323.00L668.35,324.34L668.92,325.44L669.49,326.00L670.06,326.20L670.63,326.96L671.19,327.76L671.76,329.30L672.33,331.63L672.90,332.34L673.46,332.84L674.03,333.43L674.60,333.98" stroke="#0000ff" stroke-width="1.0" fill="none"/>
<path d="M590.00,353.37L590.57,352.10L591.14,350.84L591.70,349.60L592.27,348.37L592.84,347.16L593.41,345.96L593.97,344.79L594.54,343.62L595.11,342.47L595.68,341.34L596.25,340.22L596.81,339.12L597.38,338.04L597.95,336.96L598.52,335.91L599.08,334.87L599.65,333.85L600.22,332.84L600.79,331.85L601.36,330.87L601.92,329.91L602.49,328.96L603.06,328.03L603.63,327.12L604.19,326.22L604.76,325.33L605.33,324.46L605.90,323.61L606.47,322.77L607.03,321.95L607.60,321.15L608.17,320.36L608.74,319.58L609.30,318.82L609.87,318.08L610.44,317.35L611.01,316.64L611.58,315.94L612.14,315.26L612.71,314.59L613.28,313.94L613.85,313.31L614.41,312.69L614.98,312.09L615.55,311.50L616.12,310.93L616.69,310.37L617.25,309.83L617.82,309.30L618.39,308.79L618.96,308.30L619.52,307.82L620.09,307.35L620.66,306.91L621.23,306.47L621.80,306.06L622.36,305.66L622.93,305.27L623.50,304.90L624.07,304.55L624.63,304.21L625.20,303.88L625.77,303.58L626.34,303.28L626.91,303.01L627.47,302.75L628.04,302.50L628.61,302.27L629.18,302.06L629.74,301.86L630.31,301.67L630.88,301.51L631.45,301.35L632.02,301.22L632.58,301.10L633.15,300.99L633.72,300.90L634.29,300.83L634.86,300.77L635.42,300.73L635.99,300.70L636.56,300.69L637.13,300.69L637.69,300.71L638.26,300.74L638.83,300.79L639.40,300.86L639.97,300.94L640.53,301.04L641.10,301.15L641.67,301.28L642.24,301.42L642.80,301.58L643.37,301.76L643.94,301.95L644.51,302.15L645.08,302.37L645.64,302.61L646.21,302.86L646.78,303.13L647.35,303.41L647.91,303.71L648.48,304.03L649.05,304.36L649.62,304.70L650.19,305.07L650.75,305.44L651.32,305.84L651.89,306.24L652.46,306.67L653.02,307.11L653.59,307.56L654.16,308.03L654.73,308.52L655.30,309.02L655.86,309.54L656.43,310.07L657.00,310.62L657.57,311.18L658.13,311.76L658.70,312.36L659.27,312.97L659.84,313.59L660.41,314.24L660.97,314.89L661.54,315.57L662.11,316.25L662.68,316.96L663.24,317.68L663.81,318.41L664.38,319.16L664.95,319.93L665.52,320.71L666.08,321.51L666.65,322.32L667.22,323.15L667.79,324.00L668.35,324.86L668.92,325.73L669.49,326.62L670.06,327.53L670.63,328.45L671.19,329.39L671.76,330.34L672.33,331.31L672.90,332.29L673.46,333.29L674.03,334.31L674.60,335.34" stroke="#ff0000" stroke-width="1.0" stroke-dasharray="2.6,2.6" fill="none"/>
</g>
<line x1="25.40" y1="388.90" x2="25.40" y2="535.50" stroke="#f5f5f5" stroke-width="0.7"/>
<line x1="121.13" y1="388.90" x2="121.13" y2="535.50" stroke="#f5f5f5" stroke-width="0.7"/>
<line x1="216.87" y1="388.90" x2="216.87" y2="535.50" stroke="#f5f5f5" stroke-width="0.7"/>
<line x1="312.60" y1="388.90" x2="312.60" y2="535.50" stroke="#f5f5f5" stroke-width="0.7"/>
<line x1="25.40" y1="519.40" x2="312.60" y2="519.40" stroke="#f5f5f5" stroke-width="0.7"/>
<line x1="25.40" y1="496.40" x2="312.60" y2="496.40" stroke="#f5f5f5" stroke-width="0.7"/>
<line x1="25.40" y1="473.40" x2="312.60" y2="473.40" stroke="#f5f5f5" stroke-width="0.7"/>
<line x1="25.40" y1="450.40" x2="312.60" y2="450.40" stroke="#f5f5f5" stroke-width="0.7"/>
<line x1="25.40" y1="427.40" x2="312.60" y2="427.40" stroke="#f5f5f5" stroke-width="0.7"/>
<line x1="25.40" y1="404.40" x2="312.60" y2="404.40" stroke="#f5f5f5" stroke-width="0.7"/>
<path d="M25.40,388.90L25.40,535.50L312.60,535.50" fill="none" stroke="#a2a2a2" stroke-width="0.6"/>
<line x1="25.40" y1="535.50" x2="25.40" y2="533.30" stroke="#a2a2a2" stroke-width="0.6"/>
<text transform="translate(25.40,544.70) scale(1.0,1)" font-size="6.4" text-anchor="middle" fill="#262626" font-family="Liberation Sans, sans-serif" font-weight="bold" stroke="#262626" stroke-width="0.22" stroke-linejoin="round">0</text>
<line x1="121.13" y1="535.50" x2="121.13" y2="533.30" stroke="#a2a2a2" stroke-width="0.6"/>
<text transform="translate(121.13,544.70) scale(1.0,1)" font-size="6.4" text-anchor="middle" fill="#262626" font-family="Liberation Sans, sans-serif" font-weight="bold" stroke="#262626" stroke-width="0.22" stroke-linejoin="round">5</text>
<line x1="216.87" y1="535.50" x2="216.87" y2="533.30" stroke="#a2a2a2" stroke-width="0.6"/>
<text transform="translate(216.87,544.70) scale(1.0,1)" font-size="6.4" text-anchor="middle" fill="#262626" font-family="Liberation Sans, sans-serif" font-weight="bold" stroke="#262626" stroke-width="0.22" stroke-linejoin="round">10</text>
<line x1="312.60" y1="535.50" x2="312.60" y2="533.30" stroke="#a2a2a2" stroke-width="0.6"/>
<text transform="translate(312.60,544.70) scale(1.0,1)" font-size="6.4" text-anchor="middle" fill="#262626" font-family="Liberation Sans, sans-serif" font-weight="bold" stroke="#262626" stroke-width="0.22" stroke-linejoin="round">15</text>
<line x1="25.40" y1="519.40" x2="27.60" y2="519.40" stroke="#a2a2a2" stroke-width="0.6"/>
<text transform="translate(23.10,521.95) scale(1.0,1)" font-size="6.4" text-anchor="end" fill="#262626" font-family="Liberation Sans, sans-serif" font-weight="bold" stroke="#262626" stroke-width="0.22" stroke-linejoin="round">-0.2</text>
<line x1="25.40" y1="496.40" x2="27.60" y2="496.40" stroke="#a2a2a2" stroke-width="0.6"/>
<text transform="translate(23.10,498.95) scale(1.0,1)" font-size="6.4" text-anchor="end" fill="#262626" font-family="Liberation Sans, sans-serif" font-weight="bold" stroke="#262626" stroke-width="0.22" stroke-linejoin="round">-0.1</text>
<line x1="25.40" y1="473.40" x2="27.60" y2="473.40" stroke="#a2a2a2" stroke-width="0.6"/>
<text transform="translate(23.10,475.95) scale(1.0,1)" font-size="6.4" text-anchor="end" fill="#262626" font-family="Liberation Sans, sans-serif" font-weight="bold" stroke="#262626" stroke-width="0.22" stroke-linejoin="round">0</text>
<line x1="25.40" y1="450.40" x2="27.60" y2="450.40" stroke="#a2a2a2" stroke-width="0.6"/>
<text transform="translate(23.10,452.95) scale(1.0,1)" font-size="6.4" text-anchor="end" fill="#262626" font-family="Liberation Sans, sans-serif" font-weight="bold" stroke="#262626" stroke-width="0.22" stroke-linejoin="round">0.1</text>
<line x1="25.40" y1="427.40" x2="27.60" y2="427.40" stroke="#a2a2a2" stroke-width="0.6"/>
<text transform="translate(23.10,429.95) scale(1.0,1)" font-size="6.4" text-anchor="end" fill="#262626" font-family="Liberation Sans, sans-serif" font-weight="bold" stroke="#262626" stroke-width="0.22" stroke-linejoin="round">0.2</text>
<line x1="25.40" y1="404.40" x2="27.60" y2="404.40" stroke="#a2a2a2" stroke-width="0.6"/>
<text transform="translate(23.10,406.95) scale(1.0,1)" font-size="6.4" text-anchor="end" fill="#262626" font-family="Liberation Sans, sans-serif" font-weight="bold" stroke="#262626" stroke-width="0.22" stroke-linejoin="round">0.3</text>
<text x="169.00" y="553.30" font-size="7.0" text-anchor="middle" fill="#262626" font-family="Liberation Sans, sans-serif" font-weight="bold" stroke="#262626" stroke-width="0.22" stroke-linejoin="round">Time(s)</text>
<text transform="translate(9.20,465.75) rotate(-90)" font-size="7.15" text-anchor="middle" fill="#262626" font-family="Liberation Sans, sans-serif" font-weight="bold" stroke="#262626" stroke-width="0.22" stroke-linejoin="round">Sideslip Angle(°)</text>
<text x="169.00" y="385.10" font-size="10.6" text-anchor="middle" fill="#262626" font-family="Liberation Sans, sans-serif" font-weight="bold" stroke="#262626" stroke-width="0.15" stroke-linejoin="round">(c)</text>
<clipPath id="cc"><rect x="24.40" y="387.90" width="289.20" height="148.60"/></clipPath>
<g clip-path="url(#cc)" stroke-linejoin="round">
<path d="M25.40,473.80L26.08,473.76L26.77,473.64L27.45,473.55L28.14,473.47L28.82,473.54L29.51,473.52L30.19,473.47L30.88,473.46L31.56,473.55L32.25,473.57L32.93,473.48L33.62,473.66L34.30,473.89L34.99,473.77L35.67,473.80L36.36,474.06L37.04,474.14L37.73,474.03L38.41,473.96L39.10,473.84L39.78,473.84L40.47,473.74L41.15,473.56L41.84,473.82L42.52,473.84L43.21,473.89L43.89,473.96L44.58,474.20L45.26,474.01L45.95,473.98L46.63,473.90L47.32,474.00L48.00,473.89L48.69,474.00L49.37,474.11L50.06,474.01L50.74,473.98L51.43,473.76L52.11,473.51L52.80,473.54L53.48,473.50L54.17,473.45L54.85,473.54L55.54,473.58L56.22,473.53L56.91,473.55L57.59,473.41L58.28,473.26L58.96,473.36L59.65,473.00L60.33,473.05L61.02,473.02L61.70,473.18L62.39,472.84L63.07,472.81L63.76,472.36L64.44,472.21L65.13,471.97L65.81,472.00L66.50,472.09L67.18,472.33L67.87,472.21L68.55,472.31L69.24,472.34L69.92,472.24L70.61,472.12L71.29,472.27L71.98,472.20L72.66,472.16L73.35,472.10L74.03,472.23L74.72,472.05L75.40,472.14L76.09,472.27L76.77,472.39L77.46,472.15L78.14,472.29L78.83,472.25L79.51,472.23L80.20,472.03L80.88,472.25L81.57,472.35L82.25,472.16L82.94,472.16L83.62,472.24L84.31,472.11L84.99,472.01L85.68,472.08L86.36,471.77L87.05,471.79L87.73,471.92L88.42,472.07L89.10,472.08L89.79,472.26L90.47,472.16L91.16,472.06L91.84,471.89L92.53,471.94L93.21,471.94L93.90,471.94L94.58,471.92L95.27,471.84L95.95,471.52L96.64,471.39L97.32,471.57L98.01,471.30L98.69,471.25L99.38,471.55L100.06,471.47L100.75,471.26L101.43,471.50L102.12,471.58L102.80,471.55L103.49,471.61L104.17,471.45L104.86,471.37L105.54,471.20L106.23,470.82L106.91,470.90L107.60,470.92L108.28,470.84L108.97,470.91L109.65,471.13L110.34,470.87L111.02,470.70L111.71,470.56L112.39,470.21L113.08,469.61L113.76,469.07L114.45,468.46L115.13,467.65L115.82,466.80L116.50,465.69L117.19,464.17L117.87,462.34L118.56,460.11L119.24,457.92L119.93,455.48L120.61,452.40L121.29,449.04L121.98,445.49L122.66,441.86L123.35,438.22L124.03,434.15L124.72,430.18L125.40,426.73L126.09,423.08L126.77,419.52L127.46,416.74L128.14,413.94L128.83,411.18L129.51,408.54L130.20,406.20L130.88,404.13L131.57,402.97L132.25,402.19L132.94,401.85L133.62,401.35L134.31,401.19L134.99,401.61L135.68,402.72L136.36,404.10L137.05,405.63L137.73,407.82L138.42,410.77L139.10,414.18L139.79,417.42L140.47,421.42L141.16,426.19L141.84,431.02L142.53,435.61L143.21,441.07L143.90,446.30L144.58,451.37L145.27,456.61L145.95,462.04L146.64,467.10L147.32,472.45L148.01,477.75L148.69,483.32L149.38,489.04L150.06,494.50L150.75,499.18L151.43,504.31L152.12,509.07L152.80,512.97L153.49,516.44L154.17,519.96L154.86,522.57L155.54,524.69L156.23,526.42L156.91,527.92L157.60,528.88L158.28,529.53L158.97,530.02L159.65,530.46L160.34,530.26L161.02,529.93L161.71,529.15L162.39,527.82L163.08,526.28L163.76,524.34L164.45,521.98L165.13,519.06L165.82,516.34L166.50,513.88L167.19,511.34L167.87,508.29L168.56,505.50L169.24,503.00L169.93,500.57L170.61,498.15L171.30,496.18L171.98,494.31L172.67,492.58L173.35,490.87L174.04,489.43L174.72,487.54L175.41,486.07L176.09,484.50L176.78,483.22L177.46,482.37L178.15,481.95L178.83,481.64L179.52,481.28L180.20,480.89L180.89,480.78L181.57,480.77L182.26,480.21L182.94,480.19L183.63,480.53L184.31,480.61L185.00,481.02L185.68,481.68L186.37,482.30L187.05,482.99L187.74,484.02L188.42,485.40L189.11,487.04L189.79,488.86L190.48,490.53L191.16,492.33L191.85,494.42L192.53,496.64L193.22,498.55L193.90,500.53L194.59,502.61L195.27,504.58L195.96,506.19L196.64,507.68L197.33,508.99L198.01,510.12L198.70,510.82L199.38,511.24L200.07,510.94L200.75,510.24L201.44,509.24L202.12,508.23L202.81,507.25L203.49,505.93L204.18,504.12L204.86,502.25L205.55,500.18L206.23,497.94L206.92,495.81L207.60,493.76L208.29,491.27L208.97,489.09L209.66,486.90L210.34,484.69L211.03,482.11L211.71,480.23L212.40,478.67L213.08,477.56L213.77,476.28L214.45,475.24L215.14,473.65L215.82,471.21L216.51,467.78L217.19,464.42L217.87,460.68L218.56,457.25L219.24,454.92L219.93,452.97L220.61,451.32L221.30,450.13L221.98,449.27L222.67,448.39L223.35,447.78L224.04,447.36L224.72,447.09L225.41,446.91L226.09,446.51L226.78,446.31L227.46,446.16L228.15,446.20L228.83,446.07L229.52,446.43L230.20,446.70L230.89,447.04L231.57,447.41L232.26,448.22L232.94,449.02L233.63,450.30L234.31,451.66L235.00,452.79L235.68,453.80L236.37,455.29L237.05,456.94L237.74,458.41L238.42,459.95L239.11,461.50L239.79,462.78L240.48,463.97L241.16,464.88L241.85,466.02L242.53,466.97L243.22,467.49L243.90,468.01L244.59,468.73L245.27,469.02L245.96,469.20L246.64,469.79L247.33,470.29L248.01,470.83L248.70,471.15L249.38,471.56L250.07,471.68L250.75,471.64L251.44,471.32L252.12,471.15L252.81,470.79L253.49,470.77L254.18,470.70L254.86,470.53L255.55,470.55L256.23,470.60L256.92,470.42L257.60,470.36L258.29,470.60L258.97,470.86L259.66,471.13L260.34,471.41L261.03,471.86L261.71,472.11L262.40,472.22L263.08,472.50L263.77,472.55L264.45,472.50L265.14,472.63L265.82,472.71L266.51,472.69L267.19,472.88L267.88,473.03L268.56,473.07L269.25,473.13L269.93,473.13L270.62,473.13L271.30,473.14L271.99,473.30L272.67,473.41L273.36,473.48L274.04,473.63L274.73,473.75L275.41,474.03L276.10,474.34L276.78,474.42L277.47,474.42L278.15,474.31L278.84,474.00L279.52,473.71L280.21,473.78L280.89,474.01L281.58,474.08L282.26,474.23L282.95,474.18L283.63,474.13L284.32,473.90L285.00,473.85L285.69,473.79L286.37,473.84L287.06,473.91L287.74,473.94L288.43,473.81L289.11,473.77L289.80,473.57L290.48,473.37L291.17,473.24L291.85,473.34L292.54,473.42L293.22,473.51L293.91,473.42L294.59,473.59L295.28,473.69L295.96,473.65L296.65,473.66L297.33,473.96L298.02,473.70L298.70,473.73L299.39,473.81L300.07,473.60L300.76,473.30L301.44,473.35L302.13,473.15L302.81,472.91L303.50,473.03L304.18,472.95L304.87,472.80L305.55,472.66L306.24,472.51L306.92,472.47L307.61,472.52L308.29,472.47L308.98,472.41L309.66,472.51L310.35,472.58L311.03,472.52L311.72,472.77L312.40,472.94" stroke="#000" stroke-width="0.874" stroke-dasharray="1.6,0.6" fill="none"/>
<path d="M25.40,473.50L26.08,473.52L26.77,473.47L27.45,473.47L28.14,473.54L28.82,473.33L29.51,473.32L30.19,473.35L30.88,473.43L31.56,473.53L32.25,473.67L32.93,473.67L33.62,473.74L34.30,473.69L34.99,473.57L35.67,473.43L36.36,473.46L37.04,473.35L37.73,473.48L38.41,473.60L39.10,473.70L39.78,473.69L40.47,473.85L41.15,473.90L41.84,473.84L42.52,473.89L43.21,473.84L43.89,473.73L44.58,473.62L45.26,473.63L45.95,473.53L46.63,473.61L47.32,473.56L48.00,473.61L48.69,473.62L49.37,473.69L50.06,473.62L50.74,473.66L51.43,473.65L52.11,473.51L52.80,473.46L53.48,473.48L54.17,473.43L54.85,473.26L55.54,473.36L56.22,473.27L56.91,473.23L57.59,473.31L58.28,473.34L58.96,473.24L59.65,473.27L60.33,473.25L61.02,473.22L61.70,473.32L62.39,473.37L63.07,473.30L63.76,473.30L64.44,473.17L65.13,473.01L65.81,472.95L66.50,472.93L67.18,472.80L67.87,472.86L68.55,472.84L69.24,472.93L69.92,472.91L70.61,472.95L71.29,472.89L71.98,472.97L72.66,472.84L73.35,472.86L74.03,472.85L74.72,472.84L75.40,472.73L76.09,472.76L76.77,472.73L77.46,472.74L78.14,472.62L78.83,472.72L79.51,472.68L80.20,472.59L80.88,472.60L81.57,472.73L82.25,472.62L82.94,472.61L83.62,472.62L84.31,472.63L84.99,472.54L85.68,472.51L86.36,472.43L87.05,472.53L87.73,472.39L88.42,472.44L89.10,472.55L89.79,472.65L90.47,472.57L91.16,472.66L91.84,472.57L92.53,472.45L93.21,472.36L93.90,472.37L94.58,472.24L95.27,472.37L95.95,472.48L96.64,472.51L97.32,472.55L98.01,472.77L98.69,472.67L99.38,472.59L100.06,472.67L100.75,472.53L101.43,472.28L102.12,472.14L102.80,472.09L103.49,471.91L104.17,471.98L104.86,472.00L105.54,472.06L106.23,471.96L106.91,471.93L107.60,471.75L108.28,471.64L108.97,471.45L109.65,471.46L110.34,471.43L111.02,471.33L111.71,471.26L112.39,471.13L113.08,470.76L113.76,470.25L114.45,469.70L115.13,468.96L115.82,468.16L116.50,467.31L117.19,466.05L117.87,464.43L118.56,462.34L119.24,460.03L119.93,457.36L120.61,454.68L121.29,451.56L121.98,448.27L122.66,444.86L123.35,441.37L124.03,437.57L124.72,433.62L125.40,429.76L126.09,425.86L126.77,422.35L127.46,418.91L128.14,415.49L128.83,412.42L129.51,409.64L130.20,406.75L130.88,404.18L131.57,402.41L132.25,401.14L132.94,400.18L133.62,399.38L134.31,398.97L134.99,398.84L135.68,399.35L136.36,400.42L137.05,401.89L137.73,403.55L138.42,405.95L139.10,409.09L139.79,412.73L140.47,416.56L141.16,421.02L141.84,426.06L142.53,431.24L143.21,436.44L143.90,441.70L144.58,446.89L145.27,452.13L145.95,457.49L146.64,462.78L147.32,468.12L148.01,473.59L148.69,479.11L149.38,484.76L150.06,490.39L150.75,495.63L151.43,500.66L152.12,505.41L152.80,509.69L153.49,513.58L154.17,517.26L154.86,520.36L155.54,522.95L156.23,525.04L156.91,526.73L157.60,528.06L158.28,529.05L158.97,529.76L159.65,530.20L160.34,530.41L161.02,530.36L161.71,529.65L162.39,528.55L163.08,527.23L163.76,525.77L164.45,523.66L165.13,521.31L165.82,518.60L166.50,516.02L167.19,513.28L167.87,510.44L168.56,507.59L169.24,504.98L169.93,502.69L170.61,500.45L171.30,498.31L171.98,496.21L172.67,494.28L173.35,492.23L174.04,490.53L174.72,489.01L175.41,487.42L176.09,485.91L176.78,484.75L177.46,483.71L178.15,482.88L178.83,482.45L179.52,482.00L180.20,481.43L180.89,480.98L181.57,480.57L182.26,480.26L182.94,480.05L183.63,480.05L184.31,480.20L185.00,480.61L185.68,481.12L186.37,481.67L187.05,482.39L187.74,483.28L188.42,484.39L189.11,485.89L189.79,487.63L190.48,489.41L191.16,491.25L191.85,493.21L192.53,495.12L193.22,497.18L193.90,499.20L194.59,501.19L195.27,503.34L195.96,505.54L196.64,507.39L197.33,508.98L198.01,510.43L198.70,511.66L199.38,512.59L200.07,513.02L200.75,512.86L201.44,512.30L202.12,511.42L202.81,510.39L203.49,509.17L204.18,507.44L204.86,505.47L205.55,503.27L206.23,501.07L206.92,498.83L207.60,496.55L208.29,493.96L208.97,491.46L209.66,489.01L210.34,486.73L211.03,484.32L211.71,482.22L212.40,480.31L213.08,478.75L213.77,477.55L214.45,476.41L215.14,475.00L215.82,473.14L216.51,470.36L217.19,467.01L217.87,463.47L218.56,459.85L219.24,456.57L219.93,454.27L220.61,452.27L221.30,450.70L221.98,449.61L222.67,448.96L223.35,448.36L224.04,447.83L224.72,447.44L225.41,446.97L226.09,446.58L226.78,446.24L227.46,446.02L228.15,445.87L228.83,445.98L229.52,446.15L230.20,446.32L230.89,446.77L231.57,447.12L232.26,447.43L232.94,448.11L233.63,449.22L234.31,450.51L235.00,451.88L235.68,453.34L236.37,454.72L237.05,456.17L237.74,457.53L238.42,458.95L239.11,460.16L239.79,461.34L240.48,462.56L241.16,463.64L241.85,464.54L242.53,465.52L243.22,466.42L243.90,467.26L244.59,468.05L245.27,468.91L245.96,469.53L246.64,470.11L247.33,470.53L248.01,471.00L248.70,471.26L249.38,471.50L250.07,471.62L250.75,471.48L251.44,471.21L252.12,471.00L252.81,470.95L253.49,470.65L254.18,470.56L254.86,470.59L255.55,470.73L256.23,470.74L256.92,470.87L257.60,471.04L258.29,471.15L258.97,471.20L259.66,471.22L260.34,471.25L261.03,471.40L261.71,471.58L262.40,471.74L263.08,471.81L263.77,472.00L264.45,471.99L265.14,472.05L265.82,472.21L266.51,472.35L267.19,472.49L267.88,472.73L268.56,472.94L269.25,472.93L269.93,472.99L270.62,473.14L271.30,473.13L271.99,473.09L272.67,473.28L273.36,473.39L274.04,473.25L274.73,473.37L275.41,473.47L276.10,473.46L276.78,473.61L277.47,473.87L278.15,474.03L278.84,474.11L279.52,474.18L280.21,474.21L280.89,474.25L281.58,474.18L282.26,474.21L282.95,474.22L283.63,474.16L284.32,474.06L285.00,474.03L285.69,473.96L286.37,474.00L287.06,474.00L287.74,473.86L288.43,473.64L289.11,473.54L289.80,473.55L290.48,473.47L291.17,473.49L291.85,473.75L292.54,473.84L293.22,473.77L293.91,473.82L294.59,473.93L295.28,473.79L295.96,473.78L296.65,473.77L297.33,473.63L298.02,473.63L298.70,473.79L299.39,473.72L300.07,473.58L300.76,473.61L301.44,473.48L302.13,473.36L302.81,473.35L303.50,473.28L304.18,473.12L304.87,472.99L305.55,472.86L306.24,472.77L306.92,472.83L307.61,472.90L308.29,472.85L308.98,472.84L309.66,472.81L310.35,472.75L311.03,472.73L311.72,472.88L312.40,472.93" stroke="#0000ff" stroke-width="0.92" fill="none"/>
<path d="M25.40,473.51L26.08,473.52L26.77,473.53L27.45,473.55L28.14,473.56L28.82,473.57L29.51,473.58L30.19,473.59L30.88,473.60L31.56,473.61L32.25,473.62L32.93,473.63L33.62,473.63L34.30,473.64L34.99,473.65L35.67,473.66L36.36,473.66L37.04,473.67L37.73,473.67L38.41,473.68L39.10,473.68L39.78,473.69L40.47,473.69L41.15,473.69L41.84,473.69L42.52,473.70L43.21,473.70L43.89,473.70L44.58,473.70L45.26,473.70L45.95,473.70L46.63,473.70L47.32,473.70L48.00,473.69L48.69,473.69L49.37,473.68L50.06,473.68L50.74,473.67L51.43,473.67L52.11,473.66L52.80,473.65L53.48,473.64L54.17,473.63L54.85,473.63L55.54,473.62L56.22,473.61L56.91,473.60L57.59,473.59L58.28,473.58L58.96,473.57L59.65,473.56L60.33,473.54L61.02,473.53L61.70,473.52L62.39,473.51L63.07,473.50L63.76,473.49L64.44,473.48L65.13,473.47L65.81,473.46L66.50,473.45L67.18,473.44L67.87,473.43L68.55,473.42L69.24,473.41L69.92,473.40L70.61,473.39L71.29,473.38L71.98,473.38L72.66,473.37L73.35,473.36L74.03,473.35L74.72,473.35L75.40,473.34L76.09,473.33L76.77,473.33L77.46,473.32L78.14,473.31L78.83,473.31L79.51,473.30L80.20,473.29L80.88,473.28L81.57,473.28L82.25,473.27L82.94,473.26L83.62,473.26L84.31,473.25L84.99,473.24L85.68,473.23L86.36,473.22L87.05,473.21L87.73,473.21L88.42,473.20L89.10,473.19L89.79,473.18L90.47,473.17L91.16,473.15L91.84,473.14L92.53,473.13L93.21,473.12L93.90,473.11L94.58,473.09L95.27,473.08L95.95,473.06L96.64,473.05L97.32,473.03L98.01,473.01L98.69,472.99L99.38,472.96L100.06,472.94L100.75,472.91L101.43,472.88L102.12,472.85L102.80,472.82L103.49,472.78L104.17,472.74L104.86,472.70L105.54,472.66L106.23,472.61L106.91,472.56L107.60,472.50L108.28,472.43L108.97,472.35L109.65,472.25L110.34,472.14L111.02,472.02L111.71,471.88L112.39,471.71L113.08,471.51L113.76,471.13L114.45,470.58L115.13,469.87L115.82,469.03L116.50,468.07L117.19,466.98L117.87,465.39L118.56,463.34L119.24,460.99L119.93,458.50L120.61,455.85L121.29,452.83L121.98,449.53L122.66,446.07L123.35,442.55L124.03,438.78L124.72,434.79L125.40,430.77L126.09,426.89L126.77,423.23L127.46,419.63L128.14,416.13L128.83,412.81L129.51,409.72L130.20,406.64L130.88,403.65L131.57,401.12L132.25,399.42L132.94,398.13L133.62,397.01L134.31,396.21L134.99,395.86L135.68,396.19L136.36,397.23L137.05,398.75L137.73,400.51L138.42,402.80L139.10,406.06L139.79,409.93L140.47,414.05L141.16,418.60L141.84,423.82L142.53,429.28L143.21,434.58L143.90,439.81L144.58,445.08L145.27,450.37L145.95,455.69L146.64,461.01L147.32,466.36L148.01,471.77L148.69,477.32L149.38,483.07L150.06,488.79L150.75,494.20L151.43,499.23L152.12,504.07L152.80,508.57L153.49,512.57L154.17,516.24L154.86,519.63L155.54,522.48L156.23,524.60L156.91,526.41L157.60,527.94L158.28,529.05L158.97,529.68L159.65,530.14L160.34,530.43L161.02,530.43L161.71,529.88L162.39,528.89L163.08,527.66L163.76,526.30L164.45,524.38L165.13,522.00L165.82,519.40L166.50,516.83L167.19,514.30L167.87,511.62L168.56,508.88L169.24,506.19L169.93,503.67L170.61,501.35L171.30,499.08L171.98,496.87L172.67,494.78L173.35,492.83L174.04,491.07L174.72,489.48L175.41,487.92L176.09,486.42L176.78,485.07L177.46,483.91L178.15,483.01L178.83,482.41L179.52,481.86L180.20,481.36L180.89,480.91L181.57,480.54L182.26,480.24L182.94,480.05L183.63,479.97L184.31,480.06L185.00,480.36L185.68,480.84L186.37,481.45L187.05,482.16L187.74,482.93L188.42,483.90L189.11,485.34L189.79,487.08L190.48,488.95L191.16,490.80L191.85,492.73L192.53,494.80L193.22,496.94L193.90,499.06L194.59,501.17L195.27,503.40L195.96,505.61L196.64,507.63L197.33,509.30L198.01,510.84L198.70,512.35L199.38,513.58L200.07,514.31L200.75,514.35L201.44,513.90L202.12,513.11L202.81,512.13L203.49,511.04L204.18,509.49L204.86,507.44L205.55,505.11L206.23,502.73L206.92,500.40L207.60,497.90L208.29,495.31L208.97,492.72L209.66,490.25L210.34,487.80L211.03,485.33L211.71,482.99L212.40,480.89L213.08,479.19L213.77,477.89L214.45,476.74L215.14,475.49L215.82,473.86L216.51,471.36L217.19,468.10L217.87,464.75L218.56,461.00L219.24,457.50L219.93,454.98L220.61,452.91L221.30,451.19L221.98,449.92L222.67,449.05L223.35,448.32L224.04,447.73L224.72,447.27L225.41,446.93L226.09,446.63L226.78,446.36L227.46,446.15L228.15,446.00L228.83,445.95L229.52,446.03L230.20,446.23L230.89,446.55L231.57,446.94L232.26,447.40L232.94,447.96L233.63,448.90L234.31,450.13L235.00,451.48L235.68,452.80L236.37,454.12L237.05,455.52L237.74,456.95L238.42,458.33L239.11,459.60L239.79,460.85L240.48,462.07L241.16,463.25L241.85,464.36L242.53,465.36L243.22,466.25L243.90,467.08L244.59,467.88L245.27,468.62L245.96,469.27L246.64,469.82L247.33,470.24L248.01,470.63L248.70,470.98L249.38,471.26L250.07,471.40L250.75,471.39L251.44,471.26L252.12,471.08L252.81,470.88L253.49,470.70L254.18,470.59L254.86,470.58L255.55,470.62L256.23,470.69L256.92,470.78L257.60,470.88L258.29,470.99L258.97,471.10L259.66,471.20L260.34,471.30L261.03,471.40L261.71,471.52L262.40,471.63L263.08,471.75L263.77,471.88L264.45,472.00L265.14,472.11L265.82,472.23L266.51,472.34L267.19,472.45L267.88,472.56L268.56,472.68L269.25,472.79L269.93,472.90L270.62,473.01L271.30,473.12L271.99,473.22L272.67,473.31L273.36,473.40L274.04,473.47L274.73,473.54L275.41,473.61L276.10,473.68L276.78,473.75L277.47,473.82L278.15,473.89L278.84,473.95L279.52,474.00L280.21,474.05L280.89,474.08L281.58,474.11L282.26,474.12L282.95,474.13L283.63,474.11L284.32,474.08L285.00,474.05L285.69,474.00L286.37,473.95L287.06,473.90L287.74,473.85L288.43,473.81L289.11,473.76L289.80,473.73L290.48,473.71L291.17,473.71L291.85,473.71L292.54,473.71L293.22,473.71L293.91,473.71L294.59,473.71L295.28,473.71L295.96,473.71L296.65,473.71L297.33,473.71L298.02,473.71L298.70,473.71L299.39,473.71L300.07,473.69L300.76,473.65L301.44,473.59L302.13,473.51L302.81,473.42L303.50,473.32L304.18,473.21L304.87,473.10L305.55,473.00L306.24,472.90L306.92,472.81L307.61,472.74L308.29,472.69L308.98,472.66L309.66,472.65L310.35,472.68L311.03,472.74L311.72,472.84L312.40,472.99" stroke="#ff0000" stroke-width="0.92" stroke-dasharray="2.6,2.6" fill="none"/>
</g>
<rect x="242.00" y="388.30" width="74.80" height="23.00" fill="#fff" stroke="#a8a8a8" stroke-width="0.7"/>
<line x1="243.10" y1="392.98" x2="252.40" y2="392.98" stroke="#000" stroke-width="0.7" stroke-dasharray="1.4,0.7" fill="none"/>
<text x="253.50" y="394.64" font-size="5.72" fill="#111" font-family="Liberation Sans, sans-serif" font-weight="bold" stroke="#262626" stroke-width="0.22" stroke-linejoin="round">UKF Estimated Value</text>
<line x1="243.10" y1="400.31" x2="252.40" y2="400.31" stroke="#0000ff" stroke-width="0.75" fill="none"/>
<text x="253.50" y="401.97" font-size="5.72" fill="#111" font-family="Liberation Sans, sans-serif" font-weight="bold" stroke="#262626" stroke-width="0.22" stroke-linejoin="round">DUPF Estimated Value</text>
<line x1="243.10" y1="407.64" x2="252.40" y2="407.64" stroke="#ff3030" stroke-width="0.7" stroke-dasharray="2,1.7" fill="none"/>
<text x="253.50" y="409.30" font-size="5.72" fill="#111" font-family="Liberation Sans, sans-serif" font-weight="bold" stroke="#262626" stroke-width="0.22" stroke-linejoin="round">Real Value</text>
<rect x="38.5" y="394.4" width="79.9" height="38.60000000000002" fill="#fff"/>
<line x1="47.29" y1="394.40" x2="47.29" y2="433.00" stroke="#f8f8f8" stroke-width="0.7"/>
<line x1="58.35" y1="394.40" x2="58.35" y2="433.00" stroke="#f8f8f8" stroke-width="0.7"/>
<line x1="69.40" y1="394.40" x2="69.40" y2="433.00" stroke="#f8f8f8" stroke-width="0.7"/>
<line x1="80.45" y1="394.40" x2="80.45" y2="433.00" stroke="#f8f8f8" stroke-width="0.7"/>
<line x1="91.50" y1="394.40" x2="91.50" y2="433.00" stroke="#f8f8f8" stroke-width="0.7"/>
<line x1="102.55" y1="394.40" x2="102.55" y2="433.00" stroke="#f8f8f8" stroke-width="0.7"/>
<line x1="113.60" y1="394.40" x2="113.60" y2="433.00" stroke="#f8f8f8" stroke-width="0.7"/>
<line x1="38.50" y1="430.20" x2="118.40" y2="430.20" stroke="#f8f8f8" stroke-width="0.7"/>
<line x1="38.50" y1="424.10" x2="118.40" y2="424.10" stroke="#f8f8f8" stroke-width="0.7"/>
<line x1="38.50" y1="418.00" x2="118.40" y2="418.00" stroke="#f8f8f8" stroke-width="0.7"/>
<line x1="38.50" y1="411.90" x2="118.40" y2="411.90" stroke="#f8f8f8" stroke-width="0.7"/>
<line x1="38.50" y1="405.80" x2="118.40" y2="405.80" stroke="#f8f8f8" stroke-width="0.7"/>
<line x1="38.50" y1="399.70" x2="118.40" y2="399.70" stroke="#f8f8f8" stroke-width="0.7"/>
<rect x="38.50" y="394.40" width="79.90" height="38.60" fill="none" stroke="#a2a2a2" stroke-width="0.6"/>
<line x1="47.29" y1="433.00" x2="47.29" y2="431.80" stroke="#a2a2a2" stroke-width="0.6"/>
<line x1="47.29" y1="394.40" x2="47.29" y2="395.60" stroke="#a2a2a2" stroke-width="0.6"/>
<text transform="translate(47.29,438.00) scale(1.0,1)" font-size="3.1" text-anchor="middle" fill="#262626" font-family="Liberation Sans, sans-serif" font-weight="bold" stroke="#262626" stroke-width="0.05" stroke-linejoin="round">5.2</text>
<line x1="58.35" y1="433.00" x2="58.35" y2="431.80" stroke="#a2a2a2" stroke-width="0.6"/>
<line x1="58.35" y1="394.40" x2="58.35" y2="395.60" stroke="#a2a2a2" stroke-width="0.6"/>
<text transform="translate(58.35,438.00) scale(1.0,1)" font-size="3.1" text-anchor="middle" fill="#262626" font-family="Liberation Sans, sans-serif" font-weight="bold" stroke="#262626" stroke-width="0.05" stroke-linejoin="round">5.4</text>
<line x1="69.40" y1="433.00" x2="69.40" y2="431.80" stroke="#a2a2a2" stroke-width="0.6"/>
<line x1="69.40" y1="394.40" x2="69.40" y2="395.60" stroke="#a2a2a2" stroke-width="0.6"/>
<text transform="translate(69.40,438.00) scale(1.0,1)" font-size="3.1" text-anchor="middle" fill="#262626" font-family="Liberation Sans, sans-serif" font-weight="bold" stroke="#262626" stroke-width="0.05" stroke-linejoin="round">5.6</text>
<line x1="80.45" y1="433.00" x2="80.45" y2="431.80" stroke="#a2a2a2" stroke-width="0.6"/>
<line x1="80.45" y1="394.40" x2="80.45" y2="395.60" stroke="#a2a2a2" stroke-width="0.6"/>
<text transform="translate(80.45,438.00) scale(1.0,1)" font-size="3.1" text-anchor="middle" fill="#262626" font-family="Liberation Sans, sans-serif" font-weight="bold" stroke="#262626" stroke-width="0.05" stroke-linejoin="round">5.8</text>
<line x1="91.50" y1="433.00" x2="91.50" y2="431.80" stroke="#a2a2a2" stroke-width="0.6"/>
<line x1="91.50" y1="394.40" x2="91.50" y2="395.60" stroke="#a2a2a2" stroke-width="0.6"/>
<text transform="translate(91.50,438.00) scale(1.0,1)" font-size="3.1" text-anchor="middle" fill="#262626" font-family="Liberation Sans, sans-serif" font-weight="bold" stroke="#262626" stroke-width="0.05" stroke-linejoin="round">6</text>
<line x1="102.55" y1="433.00" x2="102.55" y2="431.80" stroke="#a2a2a2" stroke-width="0.6"/>
<line x1="102.55" y1="394.40" x2="102.55" y2="395.60" stroke="#a2a2a2" stroke-width="0.6"/>
<text transform="translate(102.55,438.00) scale(1.0,1)" font-size="3.1" text-anchor="middle" fill="#262626" font-family="Liberation Sans, sans-serif" font-weight="bold" stroke="#262626" stroke-width="0.05" stroke-linejoin="round">6.2</text>
<line x1="113.60" y1="433.00" x2="113.60" y2="431.80" stroke="#a2a2a2" stroke-width="0.6"/>
<line x1="113.60" y1="394.40" x2="113.60" y2="395.60" stroke="#a2a2a2" stroke-width="0.6"/>
<text transform="translate(113.60,438.00) scale(1.0,1)" font-size="3.1" text-anchor="middle" fill="#262626" font-family="Liberation Sans, sans-serif" font-weight="bold" stroke="#262626" stroke-width="0.05" stroke-linejoin="round">6.4</text>
<line x1="38.50" y1="430.20" x2="39.70" y2="430.20" stroke="#a2a2a2" stroke-width="0.6"/>
<line x1="118.40" y1="430.20" x2="117.20" y2="430.20" stroke="#a2a2a2" stroke-width="0.6"/>
<text transform="translate(37.00,431.57) scale(1.0,1)" font-size="3.1" text-anchor="end" fill="#262626" font-family="Liberation Sans, sans-serif" font-weight="bold" stroke="#262626" stroke-width="0.05" stroke-linejoin="round">0.29</text>
<line x1="38.50" y1="424.10" x2="39.70" y2="424.10" stroke="#a2a2a2" stroke-width="0.6"/>
<line x1="118.40" y1="424.10" x2="117.20" y2="424.10" stroke="#a2a2a2" stroke-width="0.6"/>
<text transform="translate(37.00,425.47) scale(1.0,1)" font-size="3.1" text-anchor="end" fill="#262626" font-family="Liberation Sans, sans-serif" font-weight="bold" stroke="#262626" stroke-width="0.05" stroke-linejoin="round">0.3</text>
<line x1="38.50" y1="418.00" x2="39.70" y2="418.00" stroke="#a2a2a2" stroke-width="0.6"/>
<line x1="118.40" y1="418.00" x2="117.20" y2="418.00" stroke="#a2a2a2" stroke-width="0.6"/>
<text transform="translate(37.00,419.37) scale(1.0,1)" font-size="3.1" text-anchor="end" fill="#262626" font-family="Liberation Sans, sans-serif" font-weight="bold" stroke="#262626" stroke-width="0.05" stroke-linejoin="round">0.31</text>
<line x1="38.50" y1="411.90" x2="39.70" y2="411.90" stroke="#a2a2a2" stroke-width="0.6"/>
<line x1="118.40" y1="411.90" x2="117.20" y2="411.90" stroke="#a2a2a2" stroke-width="0.6"/>
<text transform="translate(37.00,413.27) scale(1.0,1)" font-size="3.1" text-anchor="end" fill="#262626" font-family="Liberation Sans, sans-serif" font-weight="bold" stroke="#262626" stroke-width="0.05" stroke-linejoin="round">0.32</text>
<line x1="38.50" y1="405.80" x2="39.70" y2="405.80" stroke="#a2a2a2" stroke-width="0.6"/>
<line x1="118.40" y1="405.80" x2="117.20" y2="405.80" stroke="#a2a2a2" stroke-width="0.6"/>
<text transform="translate(37.00,407.17) scale(1.0,1)" font-size="3.1" text-anchor="end" fill="#262626" font-family="Liberation Sans, sans-serif" font-weight="bold" stroke="#262626" stroke-width="0.05" stroke-linejoin="round">0.33</text>
<line x1="38.50" y1="399.70" x2="39.70" y2="399.70" stroke="#a2a2a2" stroke-width="0.6"/>
<line x1="118.40" y1="399.70" x2="117.20" y2="399.70" stroke="#a2a2a2" stroke-width="0.6"/>
<text transform="translate(37.00,401.07) scale(1.0,1)" font-size="3.1" text-anchor="end" fill="#262626" font-family="Liberation Sans, sans-serif" font-weight="bold" stroke="#262626" stroke-width="0.05" stroke-linejoin="round">0.34</text>
<clipPath id="cic"><rect x="38.50" y="394.40" width="79.90" height="38.60"/></clipPath>
<g clip-path="url(#cic)" stroke-linejoin="round">
<path d="M58.35,458.18L58.67,456.63L59.00,455.11L59.32,453.62L59.65,452.16L59.97,450.73L60.30,449.32L60.62,447.95L60.95,446.60L61.27,445.29L61.60,444.00L61.92,442.74L62.25,441.51L62.57,440.31L62.90,439.14L63.22,438.00L63.55,436.88L63.87,435.80L64.20,434.75L64.52,433.72L64.85,432.72L65.17,431.76L65.50,430.82L65.82,429.91L66.15,429.03L66.47,428.18L66.80,427.36L67.12,426.56L67.45,425.80L67.77,425.07L68.10,424.36L68.42,423.69L68.75,423.04L69.07,422.42L69.40,421.83L69.72,421.27L70.05,420.74L70.37,420.24L70.70,419.77L71.02,419.32L71.35,418.91L71.67,418.53L72.00,418.17L72.32,417.84L72.65,417.55L72.97,417.28L73.30,417.04L73.62,416.83L73.95,416.65L74.27,416.49L74.60,416.37L74.92,416.28L75.25,416.21L75.57,416.18L75.90,416.17L76.22,416.19L76.55,416.25L76.87,416.33L77.20,416.44L77.52,416.58L77.85,416.74L78.17,416.94L78.50,417.17L78.82,417.42L79.15,417.71L79.47,418.02L79.80,418.37L80.12,418.74L80.45,419.14L80.77,419.57L81.10,420.03L81.42,420.52L81.75,421.03L82.07,421.58L82.40,422.16L82.72,422.76L83.05,423.40L83.37,424.06L83.70,424.75L84.02,425.47L84.35,426.22L84.67,427.00L85.00,427.81L85.32,428.65L85.65,429.52L85.97,430.41L86.30,431.34L86.62,432.29L86.95,433.28L87.27,434.29L87.60,435.33L87.92,436.40L88.25,437.50L88.57,438.63L88.90,439.79L89.22,440.98L89.55,442.20L89.87,443.44L90.20,444.72L90.53,446.02L90.85,447.35L91.18,448.71L91.50,450.11L91.83,451.53L92.15,452.98L92.48,454.45L92.80,455.96L93.13,457.50L93.45,459.06L93.78,460.66L94.10,462.28L94.43,463.94L94.75,465.62L95.08,467.33L95.40,469.07L95.73,470.84L96.05,472.64L96.38,474.47L96.70,476.33L97.03,478.21" stroke="#000" stroke-width="0.85" stroke-dasharray="1.1,0.6" fill="none"/>
<path d="M58.35,459.49L58.67,457.69L59.00,455.93L59.32,454.19L59.65,452.48L59.97,450.81L60.30,449.17L60.62,447.56L60.95,445.98L61.27,444.44L61.60,442.92L61.92,441.44L62.25,439.99L62.57,438.57L62.90,437.19L63.22,435.83L63.55,434.51L63.87,433.22L64.20,431.96L64.52,430.73L64.85,429.53L65.17,428.37L65.50,427.24L65.82,426.14L66.15,425.07L66.47,424.03L66.80,423.02L67.12,422.05L67.45,421.11L67.77,420.20L68.10,419.32L68.42,418.48L68.75,417.66L69.07,416.88L69.40,416.13L69.72,415.41L70.05,414.72L70.37,414.06L70.70,413.44L71.02,412.85L71.35,412.29L71.67,411.76L72.00,411.26L72.32,410.80L72.65,410.37L72.97,409.97L73.30,409.60L73.62,409.26L73.95,408.95L74.27,408.68L74.60,408.44L74.92,408.23L75.25,408.05L75.57,407.90L75.90,407.78L76.22,407.70L76.55,407.65L76.87,407.63L77.20,407.64L77.52,407.69L77.85,407.76L78.17,407.87L78.50,408.01L78.82,408.18L79.15,408.38L79.47,408.62L79.80,408.88L80.12,409.18L80.45,409.51L80.77,409.87L81.10,410.27L81.42,410.69L81.75,411.15L82.07,411.64L82.40,412.16L82.72,412.71L83.05,413.30L83.37,413.91L83.70,414.56L84.02,415.24L84.35,415.95L84.67,416.69L85.00,417.47L85.32,418.28L85.65,419.12L85.97,419.99L86.30,420.89L86.62,421.82L86.95,422.79L87.27,423.79L87.60,424.82L87.92,425.88L88.25,426.97L88.57,428.09L88.90,429.25L89.22,430.44L89.55,431.66L89.87,432.91L90.20,434.19L90.53,435.51L90.85,436.86L91.18,438.24L91.50,439.65L91.83,441.09L92.15,442.57L92.48,444.07L92.80,445.61L93.13,447.18L93.45,448.78L93.78,450.41L94.10,452.08L94.43,453.78L94.75,455.51L95.08,457.27L95.40,459.06L95.73,460.88L96.05,462.74L96.38,464.63L96.70,466.55L97.03,468.50" stroke="#0000ff" stroke-width="1.0" fill="none"/>
<path d="M58.35,462.81L58.67,460.79L59.00,458.81L59.32,456.85L59.65,454.93L59.97,453.05L60.30,451.19L60.62,449.37L60.95,447.59L61.27,445.83L61.60,444.11L61.92,442.42L62.25,440.77L62.57,439.15L62.90,437.56L63.22,436.01L63.55,434.49L63.87,433.00L64.20,431.55L64.52,430.12L64.85,428.74L65.17,427.38L65.50,426.06L65.82,424.77L66.15,423.52L66.47,422.30L66.80,421.11L67.12,419.95L67.45,418.83L67.77,417.75L68.10,416.69L68.42,415.67L68.75,414.68L69.07,413.73L69.40,412.80L69.72,411.91L70.05,411.06L70.37,410.24L70.70,409.45L71.02,408.69L71.35,407.97L71.67,407.28L72.00,406.63L72.32,406.00L72.65,405.42L72.97,404.86L73.30,404.34L73.62,403.85L73.95,403.39L74.27,402.97L74.60,402.58L74.92,402.22L75.25,401.90L75.57,401.61L75.90,401.36L76.22,401.13L76.55,400.94L76.87,400.79L77.20,400.66L77.52,400.57L77.85,400.52L78.17,400.49L78.50,400.50L78.82,400.55L79.15,400.62L79.47,400.73L79.80,400.88L80.12,401.05L80.45,401.26L80.77,401.51L81.10,401.78L81.42,402.09L81.75,402.43L82.07,402.81L82.40,403.22L82.72,403.66L83.05,404.14L83.37,404.65L83.70,405.19L84.02,405.76L84.35,406.37L84.67,407.02L85.00,407.69L85.32,408.40L85.65,409.14L85.97,409.92L86.30,410.73L86.62,411.57L86.95,412.44L87.27,413.35L87.60,414.29L87.92,415.27L88.25,416.28L88.57,417.32L88.90,418.39L89.22,419.50L89.55,420.64L89.87,421.82L90.20,423.03L90.53,424.27L90.85,425.54L91.18,426.85L91.50,428.19L91.83,429.57L92.15,430.97L92.48,432.41L92.80,433.89L93.13,435.40L93.45,436.94L93.78,438.51L94.10,440.12L94.43,441.76L94.75,443.43L95.08,445.14L95.40,446.88L95.73,448.65L96.05,450.46L96.38,452.30L96.70,454.18L97.03,456.08" stroke="#ff0000" stroke-width="1.0" stroke-dasharray="2.1,2.1" fill="none"/>
</g>
<line x1="388.25" y1="395.00" x2="388.25" y2="543.50" stroke="#f5f5f5" stroke-width="0.7"/>
<line x1="446.30" y1="395.00" x2="446.30" y2="543.50" stroke="#f5f5f5" stroke-width="0.7"/>
<line x1="504.35" y1="395.00" x2="504.35" y2="543.50" stroke="#f5f5f5" stroke-width="0.7"/>
<line x1="562.40" y1="395.00" x2="562.40" y2="543.50" stroke="#f5f5f5" stroke-width="0.7"/>
<line x1="620.45" y1="395.00" x2="620.45" y2="543.50" stroke="#f5f5f5" stroke-width="0.7"/>
<line x1="678.50" y1="395.00" x2="678.50" y2="543.50" stroke="#f5f5f5" stroke-width="0.7"/>
<line x1="388.25" y1="543.50" x2="678.50" y2="543.50" stroke="#f5f5f5" stroke-width="0.7"/>
<line x1="388.25" y1="527.00" x2="678.50" y2="527.00" stroke="#f5f5f5" stroke-width="0.7"/>
<line x1="388.25" y1="510.50" x2="678.50" y2="510.50" stroke="#f5f5f5" stroke-width="0.7"/>
<line x1="388.25" y1="494.00" x2="678.50" y2="494.00" stroke="#f5f5f5" stroke-width="0.7"/>
<line x1="388.25" y1="477.50" x2="678.50" y2="477.50" stroke="#f5f5f5" stroke-width="0.7"/>
<line x1="388.25" y1="461.00" x2="678.50" y2="461.00" stroke="#f5f5f5" stroke-width="0.7"/>
<line x1="388.25" y1="444.50" x2="678.50" y2="444.50" stroke="#f5f5f5" stroke-width="0.7"/>
<line x1="388.25" y1="428.00" x2="678.50" y2="428.00" stroke="#f5f5f5" stroke-width="0.7"/>
<line x1="388.25" y1="411.50" x2="678.50" y2="411.50" stroke="#f5f5f5" stroke-width="0.7"/>
<line x1="388.25" y1="395.00" x2="678.50" y2="395.00" stroke="#f5f5f5" stroke-width="0.7"/>
<path d="M388.25,395.00L388.25,543.50L678.50,543.50" fill="none" stroke="#a2a2a2" stroke-width="0.6"/>
<line x1="388.25" y1="543.50" x2="388.25" y2="541.30" stroke="#a2a2a2" stroke-width="0.6"/>
<text transform="translate(388.25,552.30) scale(1.0,1)" font-size="6.4" text-anchor="middle" fill="#262626" font-family="Liberation Sans, sans-serif" font-weight="bold" stroke="#262626" stroke-width="0.22" stroke-linejoin="round">0</text>
<line x1="446.30" y1="543.50" x2="446.30" y2="541.30" stroke="#a2a2a2" stroke-width="0.6"/>
<text transform="translate(446.30,552.30) scale(1.0,1)" font-size="6.4" text-anchor="middle" fill="#262626" font-family="Liberation Sans, sans-serif" font-weight="bold" stroke="#262626" stroke-width="0.22" stroke-linejoin="round">50</text>
<line x1="504.35" y1="543.50" x2="504.35" y2="541.30" stroke="#a2a2a2" stroke-width="0.6"/>
<text transform="translate(504.35,552.30) scale(1.0,1)" font-size="6.4" text-anchor="middle" fill="#262626" font-family="Liberation Sans, sans-serif" font-weight="bold" stroke="#262626" stroke-width="0.22" stroke-linejoin="round">100</text>
<line x1="562.40" y1="543.50" x2="562.40" y2="541.30" stroke="#a2a2a2" stroke-width="0.6"/>
<text transform="translate(562.40,552.30) scale(1.0,1)" font-size="6.4" text-anchor="middle" fill="#262626" font-family="Liberation Sans, sans-serif" font-weight="bold" stroke="#262626" stroke-width="0.22" stroke-linejoin="round">150</text>
<line x1="620.45" y1="543.50" x2="620.45" y2="541.30" stroke="#a2a2a2" stroke-width="0.6"/>
<text transform="translate(620.45,552.30) scale(1.0,1)" font-size="6.4" text-anchor="middle" fill="#262626" font-family="Liberation Sans, sans-serif" font-weight="bold" stroke="#262626" stroke-width="0.22" stroke-linejoin="round">200</text>
<line x1="678.50" y1="543.50" x2="678.50" y2="541.30" stroke="#a2a2a2" stroke-width="0.6"/>
<text transform="translate(678.50,552.30) scale(1.0,1)" font-size="6.4" text-anchor="middle" fill="#262626" font-family="Liberation Sans, sans-serif" font-weight="bold" stroke="#262626" stroke-width="0.22" stroke-linejoin="round">250</text>
<line x1="388.25" y1="543.50" x2="390.45" y2="543.50" stroke="#a2a2a2" stroke-width="0.6"/>
<text transform="translate(385.95,546.05) scale(1.0,1)" font-size="6.4" text-anchor="end" fill="#262626" font-family="Liberation Sans, sans-serif" font-weight="bold" stroke="#262626" stroke-width="0.22" stroke-linejoin="round">-0.5</text>
<line x1="388.25" y1="527.00" x2="390.45" y2="527.00" stroke="#a2a2a2" stroke-width="0.6"/>
<text transform="translate(385.95,529.55) scale(1.0,1)" font-size="6.4" text-anchor="end" fill="#262626" font-family="Liberation Sans, sans-serif" font-weight="bold" stroke="#262626" stroke-width="0.22" stroke-linejoin="round">0</text>
<line x1="388.25" y1="510.50" x2="390.45" y2="510.50" stroke="#a2a2a2" stroke-width="0.6"/>
<text transform="translate(385.95,513.05) scale(1.0,1)" font-size="6.4" text-anchor="end" fill="#262626" font-family="Liberation Sans, sans-serif" font-weight="bold" stroke="#262626" stroke-width="0.22" stroke-linejoin="round">0.5</text>
<line x1="388.25" y1="494.00" x2="390.45" y2="494.00" stroke="#a2a2a2" stroke-width="0.6"/>
<text transform="translate(385.95,496.55) scale(1.0,1)" font-size="6.4" text-anchor="end" fill="#262626" font-family="Liberation Sans, sans-serif" font-weight="bold" stroke="#262626" stroke-width="0.22" stroke-linejoin="round">1</text>
<line x1="388.25" y1="477.50" x2="390.45" y2="477.50" stroke="#a2a2a2" stroke-width="0.6"/>
<text transform="translate(385.95,480.05) scale(1.0,1)" font-size="6.4" text-anchor="end" fill="#262626" font-family="Liberation Sans, sans-serif" font-weight="bold" stroke="#262626" stroke-width="0.22" stroke-linejoin="round">1.5</text>
<line x1="388.25" y1="461.00" x2="390.45" y2="461.00" stroke="#a2a2a2" stroke-width="0.6"/>
<text transform="translate(385.95,463.55) scale(1.0,1)" font-size="6.4" text-anchor="end" fill="#262626" font-family="Liberation Sans, sans-serif" font-weight="bold" stroke="#262626" stroke-width="0.22" stroke-linejoin="round">2</text>
<line x1="388.25" y1="444.50" x2="390.45" y2="444.50" stroke="#a2a2a2" stroke-width="0.6"/>
<text transform="translate(385.95,447.05) scale(1.0,1)" font-size="6.4" text-anchor="end" fill="#262626" font-family="Liberation Sans, sans-serif" font-weight="bold" stroke="#262626" stroke-width="0.22" stroke-linejoin="round">2.5</text>
<line x1="388.25" y1="428.00" x2="390.45" y2="428.00" stroke="#a2a2a2" stroke-width="0.6"/>
<text transform="translate(385.95,430.55) scale(1.0,1)" font-size="6.4" text-anchor="end" fill="#262626" font-family="Liberation Sans, sans-serif" font-weight="bold" stroke="#262626" stroke-width="0.22" stroke-linejoin="round">3</text>
<line x1="388.25" y1="411.50" x2="390.45" y2="411.50" stroke="#a2a2a2" stroke-width="0.6"/>
<text transform="translate(385.95,414.05) scale(1.0,1)" font-size="6.4" text-anchor="end" fill="#262626" font-family="Liberation Sans, sans-serif" font-weight="bold" stroke="#262626" stroke-width="0.22" stroke-linejoin="round">3.5</text>
<line x1="388.25" y1="395.00" x2="390.45" y2="395.00" stroke="#a2a2a2" stroke-width="0.6"/>
<text transform="translate(385.95,397.55) scale(1.0,1)" font-size="6.4" text-anchor="end" fill="#262626" font-family="Liberation Sans, sans-serif" font-weight="bold" stroke="#262626" stroke-width="0.22" stroke-linejoin="round">4</text>
<text x="533.38" y="561.30" font-size="7.0" text-anchor="middle" fill="#262626" font-family="Liberation Sans, sans-serif" font-weight="bold" stroke="#262626" stroke-width="0.22" stroke-linejoin="round">X(m)</text>
<text transform="translate(371.60,469.25) rotate(-90)" font-size="7.0" text-anchor="middle" fill="#262626" font-family="Liberation Sans, sans-serif" font-weight="bold" stroke="#262626" stroke-width="0.22" stroke-linejoin="round">Y(m)</text>
<text x="533.38" y="391.50" font-size="9.4" text-anchor="middle" fill="#262626" font-family="Liberation Sans, sans-serif" font-weight="bold" stroke="#262626" stroke-width="0.15" stroke-linejoin="round">(g)</text>
<path d="M388.25,527.00L388.90,527.00L389.56,527.00L390.21,527.00L390.87,527.00L391.52,527.00L392.18,527.00L392.83,527.00L393.48,527.00L394.14,527.00L394.79,527.00L395.45,527.00L396.10,527.00L396.76,527.00L397.41,527.00L398.06,527.00L398.72,527.00L399.37,527.00L400.03,527.00L400.68,527.00L401.34,527.00L401.99,527.00L402.64,527.00L403.30,527.00L403.95,527.00L404.61,527.00L405.26,527.00L405.92,527.00L406.57,527.00L407.22,527.00L407.88,527.00L408.53,527.00L409.19,527.00L409.84,527.00L410.49,527.00L411.15,527.00L411.80,527.00L412.46,527.00L413.11,527.00L413.77,527.01L414.42,527.01L415.07,527.01L415.73,527.01L416.38,527.02L417.04,527.02L417.69,527.02L418.35,527.03L419.00,527.03L419.65,527.03L420.31,527.04L420.96,527.04L421.62,527.05L422.27,527.05L422.93,527.06L423.58,527.06L424.23,527.06L424.89,527.07L425.54,527.07L426.20,527.08L426.85,527.08L427.51,527.09L428.16,527.09L428.81,527.10L429.47,527.10L430.12,527.10L430.78,527.11L431.43,527.11L432.09,527.11L432.74,527.12L433.39,527.12L434.05,527.12L434.70,527.13L435.36,527.13L436.01,527.13L436.67,527.13L437.32,527.14L437.97,527.14L438.63,527.14L439.28,527.14L439.94,527.14L440.59,527.14L441.25,527.14L441.90,527.13L442.55,527.13L443.21,527.13L443.86,527.12L444.52,527.12L445.17,527.11L445.82,527.10L446.48,527.09L447.13,527.08L447.79,527.07L448.44,527.06L449.10,527.04L449.75,527.03L450.40,527.01L451.06,527.00L451.71,526.98L452.37,526.96L453.02,526.94L453.68,526.91L454.33,526.89L454.98,526.86L455.64,526.84L456.29,526.80L456.95,526.74L457.60,526.62L458.26,526.47L458.91,526.28L459.56,526.06L460.22,525.81L460.87,525.53L461.53,525.14L462.18,524.57L462.84,523.86L463.49,523.07L464.14,522.25L464.80,521.34L465.45,520.31L466.11,519.16L466.76,517.93L467.42,516.62L468.07,515.21L468.72,513.66L469.38,511.98L470.03,510.20L470.69,508.31L471.34,506.23L472.00,503.97L472.65,501.60L473.30,499.16L473.96,496.71L474.61,494.20L475.27,491.62L475.92,488.97L476.58,486.26L477.23,483.48L477.88,480.60L478.54,477.63L479.19,474.64L479.85,471.65L480.50,468.69L481.16,465.69L481.81,462.70L482.46,459.74L483.12,456.86L483.77,454.10L484.43,451.42L485.08,448.79L485.73,446.22L486.39,443.69L487.04,441.16L487.70,438.62L488.35,436.12L489.01,433.73L489.66,431.50L490.31,429.44L490.97,427.47L491.62,425.61L492.28,423.87L492.93,422.26L493.59,420.75L494.24,419.32L494.89,417.98L495.55,416.76L496.20,415.70L496.86,414.76L497.51,413.91L498.17,413.14L498.82,412.43L499.47,411.78L500.13,411.14L500.78,410.52L501.44,409.96L502.09,409.51L502.75,409.23L503.40,409.02L504.05,408.83L504.71,408.66L505.36,408.52L506.02,408.41L506.67,408.34L507.33,408.31L507.98,408.31L508.63,408.33L509.29,408.37L509.94,408.41L510.60,408.47L511.25,408.53L511.91,408.59L512.56,408.66L513.21,408.75L513.87,408.85L514.52,408.98L515.18,409.12L515.83,409.27L516.49,409.44L517.14,409.61L517.79,409.79L518.45,410.00L519.10,410.24L519.76,410.50L520.41,410.78L521.06,411.09L521.72,411.42L522.37,411.79L523.03,412.23L523.68,412.73L524.34,413.30L524.99,413.96L525.64,414.74L526.30,415.71L526.95,416.83L527.61,418.08L528.26,419.42L528.92,420.91L529.57,422.63L530.22,424.52L530.88,426.51L531.53,428.54L532.19,430.62L532.84,432.80L533.50,435.09L534.15,437.49L534.80,440.02L535.46,442.72L536.11,445.61L536.77,448.62L537.42,451.70L538.08,454.80L538.73,457.98L539.38,461.26L540.04,464.58L540.69,467.90L541.35,471.19L542.00,474.50L542.66,477.83L543.31,481.13L543.96,484.36L544.62,487.48L545.27,490.58L545.93,493.63L546.58,496.58L547.24,499.37L547.89,501.97L548.54,504.46L549.20,506.84L549.85,509.08L550.51,511.16L551.16,513.08L551.82,514.91L552.47,516.63L553.12,518.21L553.78,519.62L554.43,520.83L555.09,521.93L555.74,522.93L556.39,523.84L557.05,524.68L557.70,525.46L558.36,526.20L559.01,526.89L559.67,527.51L560.32,528.02L560.97,528.45L561.63,528.83L562.28,529.17L562.94,529.46L563.59,529.69L564.25,529.88L564.90,530.07L565.55,530.25L566.21,530.40L566.86,530.53L567.52,530.62L568.17,530.67L568.83,530.67L569.48,530.65L570.13,530.61L570.79,530.55L571.44,530.48L572.10,530.41L572.75,530.32L573.41,530.23L574.06,530.14L574.71,530.05L575.37,529.96L576.02,529.85L576.68,529.73L577.33,529.60L577.99,529.47L578.64,529.32L579.29,529.18L579.95,529.03L580.60,528.89L581.26,528.76L581.91,528.62L582.57,528.48L583.22,528.34L583.87,528.19L584.53,528.05L585.18,527.91L585.84,527.78L586.49,527.66L587.15,527.55L587.80,527.45L588.45,527.37L589.11,527.28L589.76,527.20L590.42,527.13L591.07,527.06L591.73,527.00L592.38,526.94L593.03,526.89L593.69,526.84L594.34,526.81L595.00,526.77L595.65,526.74L596.30,526.71L596.96,526.68L597.61,526.65L598.27,526.62L598.92,526.60L599.58,526.57L600.23,526.55L600.88,526.53L601.54,526.52L602.19,526.51L602.85,526.50L603.50,526.50L604.16,526.50L604.81,526.50L605.46,526.51L606.12,526.52L606.77,526.53L607.43,526.54L608.08,526.56L608.74,526.58L609.39,526.60L610.04,526.62L610.70,526.64L611.35,526.66L612.01,526.68L612.66,526.70L613.32,526.72L613.97,526.74L614.62,526.76L615.28,526.78L615.93,526.80L616.59,526.82L617.24,526.83L617.90,526.85L618.55,526.86L619.20,526.88L619.86,526.90L620.51,526.91L621.17,526.93L621.82,526.95L622.48,526.97L623.13,526.98L623.78,527.00L624.44,527.02L625.09,527.03L625.75,527.05L626.40,527.06L627.06,527.08L627.71,527.09L628.36,527.10L629.02,527.11L629.67,527.12L630.33,527.13L630.98,527.13L631.63,527.14L632.29,527.14L632.94,527.14L633.60,527.14L634.25,527.14L634.91,527.14L635.56,527.14L636.21,527.14L636.87,527.14L637.52,527.14L638.18,527.14L638.83,527.14L639.49,527.14L640.14,527.14L640.79,527.14L641.45,527.14L642.10,527.14L642.76,527.14L643.41,527.14L644.07,527.14L644.72,527.14L645.37,527.14L646.03,527.14L646.68,527.14L647.34,527.14L647.99,527.14L648.65,527.14L649.30,527.14" stroke="#1c7cc4" stroke-width="1.05" fill="none" stroke-linejoin="round"/>
<line x1="60.63" y1="581.60" x2="60.63" y2="718.40" stroke="#f5f5f5" stroke-width="0.7"/>
<line x1="97.25" y1="581.60" x2="97.25" y2="718.40" stroke="#f5f5f5" stroke-width="0.7"/>
<line x1="133.88" y1="581.60" x2="133.88" y2="718.40" stroke="#f5f5f5" stroke-width="0.7"/>
<line x1="170.51" y1="581.60" x2="170.51" y2="718.40" stroke="#f5f5f5" stroke-width="0.7"/>
<line x1="207.13" y1="581.60" x2="207.13" y2="718.40" stroke="#f5f5f5" stroke-width="0.7"/>
<line x1="243.76" y1="581.60" x2="243.76" y2="718.40" stroke="#f5f5f5" stroke-width="0.7"/>
<line x1="280.39" y1="581.60" x2="280.39" y2="718.40" stroke="#f5f5f5" stroke-width="0.7"/>
<line x1="25.40" y1="718.40" x2="298.70" y2="718.40" stroke="#f5f5f5" stroke-width="0.7"/>
<line x1="25.40" y1="703.20" x2="298.70" y2="703.20" stroke="#f5f5f5" stroke-width="0.7"/>
<line x1="25.40" y1="688.00" x2="298.70" y2="688.00" stroke="#f5f5f5" stroke-width="0.7"/>
<line x1="25.40" y1="672.80" x2="298.70" y2="672.80" stroke="#f5f5f5" stroke-width="0.7"/>
<line x1="25.40" y1="657.60" x2="298.70" y2="657.60" stroke="#f5f5f5" stroke-width="0.7"/>
<line x1="25.40" y1="642.40" x2="298.70" y2="642.40" stroke="#f5f5f5" stroke-width="0.7"/>
<line x1="25.40" y1="627.20" x2="298.70" y2="627.20" stroke="#f5f5f5" stroke-width="0.7"/>
<line x1="25.40" y1="612.00" x2="298.70" y2="612.00" stroke="#f5f5f5" stroke-width="0.7"/>
<line x1="25.40" y1="596.80" x2="298.70" y2="596.80" stroke="#f5f5f5" stroke-width="0.7"/>
<line x1="25.40" y1="581.60" x2="298.70" y2="581.60" stroke="#f5f5f5" stroke-width="0.7"/>
<path d="M25.40,581.60L25.40,718.40L298.70,718.40" fill="none" stroke="#a2a2a2" stroke-width="0.6"/>
<line x1="60.63" y1="718.40" x2="60.63" y2="716.20" stroke="#a2a2a2" stroke-width="0.6"/>
<text transform="translate(60.63,726.90) scale(0.87,1)" font-size="7.0" text-anchor="middle" fill="#262626" font-family="Liberation Sans, sans-serif" font-weight="bold" stroke="#262626" stroke-width="0.22" stroke-linejoin="round">2</text>
<line x1="97.25" y1="718.40" x2="97.25" y2="716.20" stroke="#a2a2a2" stroke-width="0.6"/>
<text transform="translate(97.25,726.90) scale(0.87,1)" font-size="7.0" text-anchor="middle" fill="#262626" font-family="Liberation Sans, sans-serif" font-weight="bold" stroke="#262626" stroke-width="0.22" stroke-linejoin="round">4</text>
<line x1="133.88" y1="718.40" x2="133.88" y2="716.20" stroke="#a2a2a2" stroke-width="0.6"/>
<text transform="translate(133.88,726.90) scale(0.87,1)" font-size="7.0" text-anchor="middle" fill="#262626" font-family="Liberation Sans, sans-serif" font-weight="bold" stroke="#262626" stroke-width="0.22" stroke-linejoin="round">6</text>
<line x1="170.51" y1="718.40" x2="170.51" y2="716.20" stroke="#a2a2a2" stroke-width="0.6"/>
<text transform="translate(170.51,726.90) scale(0.87,1)" font-size="7.0" text-anchor="middle" fill="#262626" font-family="Liberation Sans, sans-serif" font-weight="bold" stroke="#262626" stroke-width="0.22" stroke-linejoin="round">8</text>
<line x1="207.13" y1="718.40" x2="207.13" y2="716.20" stroke="#a2a2a2" stroke-width="0.6"/>
<text transform="translate(207.13,726.90) scale(0.87,1)" font-size="7.0" text-anchor="middle" fill="#262626" font-family="Liberation Sans, sans-serif" font-weight="bold" stroke="#262626" stroke-width="0.22" stroke-linejoin="round">10</text>
<line x1="243.76" y1="718.40" x2="243.76" y2="716.20" stroke="#a2a2a2" stroke-width="0.6"/>
<text transform="translate(243.76,726.90) scale(0.87,1)" font-size="7.0" text-anchor="middle" fill="#262626" font-family="Liberation Sans, sans-serif" font-weight="bold" stroke="#262626" stroke-width="0.22" stroke-linejoin="round">12</text>
<line x1="280.39" y1="718.40" x2="280.39" y2="716.20" stroke="#a2a2a2" stroke-width="0.6"/>
<text transform="translate(280.39,726.90) scale(0.87,1)" font-size="7.0" text-anchor="middle" fill="#262626" font-family="Liberation Sans, sans-serif" font-weight="bold" stroke="#262626" stroke-width="0.22" stroke-linejoin="round">14</text>
<line x1="25.40" y1="718.40" x2="27.60" y2="718.40" stroke="#a2a2a2" stroke-width="0.6"/>
<text transform="translate(23.10,721.17) scale(0.87,1)" font-size="7.0" text-anchor="end" fill="#262626" font-family="Liberation Sans, sans-serif" font-weight="bold" stroke="#262626" stroke-width="0.22" stroke-linejoin="round">0.25</text>
<line x1="25.40" y1="703.20" x2="27.60" y2="703.20" stroke="#a2a2a2" stroke-width="0.6"/>
<text transform="translate(23.10,705.97) scale(0.87,1)" font-size="7.0" text-anchor="end" fill="#262626" font-family="Liberation Sans, sans-serif" font-weight="bold" stroke="#262626" stroke-width="0.22" stroke-linejoin="round">0.3</text>
<line x1="25.40" y1="688.00" x2="27.60" y2="688.00" stroke="#a2a2a2" stroke-width="0.6"/>
<text transform="translate(23.10,690.77) scale(0.87,1)" font-size="7.0" text-anchor="end" fill="#262626" font-family="Liberation Sans, sans-serif" font-weight="bold" stroke="#262626" stroke-width="0.22" stroke-linejoin="round">0.35</text>
<line x1="25.40" y1="672.80" x2="27.60" y2="672.80" stroke="#a2a2a2" stroke-width="0.6"/>
<text transform="translate(23.10,675.57) scale(0.87,1)" font-size="7.0" text-anchor="end" fill="#262626" font-family="Liberation Sans, sans-serif" font-weight="bold" stroke="#262626" stroke-width="0.22" stroke-linejoin="round">0.4</text>
<line x1="25.40" y1="657.60" x2="27.60" y2="657.60" stroke="#a2a2a2" stroke-width="0.6"/>
<text transform="translate(23.10,660.37) scale(0.87,1)" font-size="7.0" text-anchor="end" fill="#262626" font-family="Liberation Sans, sans-serif" font-weight="bold" stroke="#262626" stroke-width="0.22" stroke-linejoin="round">0.45</text>
<line x1="25.40" y1="642.40" x2="27.60" y2="642.40" stroke="#a2a2a2" stroke-width="0.6"/>
<text transform="translate(23.10,645.17) scale(0.87,1)" font-size="7.0" text-anchor="end" fill="#262626" font-family="Liberation Sans, sans-serif" font-weight="bold" stroke="#262626" stroke-width="0.22" stroke-linejoin="round">0.5</text>
<line x1="25.40" y1="627.20" x2="27.60" y2="627.20" stroke="#a2a2a2" stroke-width="0.6"/>
<text transform="translate(23.10,629.97) scale(0.87,1)" font-size="7.0" text-anchor="end" fill="#262626" font-family="Liberation Sans, sans-serif" font-weight="bold" stroke="#262626" stroke-width="0.22" stroke-linejoin="round">0.55</text>
<line x1="25.40" y1="612.00" x2="27.60" y2="612.00" stroke="#a2a2a2" stroke-width="0.6"/>
<text transform="translate(23.10,614.77) scale(0.87,1)" font-size="7.0" text-anchor="end" fill="#262626" font-family="Liberation Sans, sans-serif" font-weight="bold" stroke="#262626" stroke-width="0.22" stroke-linejoin="round">0.6</text>
<line x1="25.40" y1="596.80" x2="27.60" y2="596.80" stroke="#a2a2a2" stroke-width="0.6"/>
<text transform="translate(23.10,599.57) scale(0.87,1)" font-size="7.0" text-anchor="end" fill="#262626" font-family="Liberation Sans, sans-serif" font-weight="bold" stroke="#262626" stroke-width="0.22" stroke-linejoin="round">0.65</text>
<line x1="25.40" y1="581.60" x2="27.60" y2="581.60" stroke="#a2a2a2" stroke-width="0.6"/>
<text transform="translate(23.10,584.37) scale(0.87,1)" font-size="7.0" text-anchor="end" fill="#262626" font-family="Liberation Sans, sans-serif" font-weight="bold" stroke="#262626" stroke-width="0.22" stroke-linejoin="round">0.7</text>
<text x="162.05" y="735.40" font-size="6.8" text-anchor="middle" fill="#262626" font-family="Liberation Sans, sans-serif" font-weight="bold" stroke="#262626" stroke-width="0.22" stroke-linejoin="round">Time(s)</text>
<text transform="translate(9.40,650.00) rotate(-90)" font-size="6.7" text-anchor="middle" fill="#262626" font-family="Liberation Sans, sans-serif" font-weight="bold" stroke="#262626" stroke-width="0.22" stroke-linejoin="round">Longitudinal Acceleration(m/s<tspan dy="-3.0" font-size="5.2">2</tspan><tspan dy="3.0">)</tspan></text>
<text x="162.05" y="577.60" font-size="10.6" text-anchor="middle" fill="#262626" font-family="Liberation Sans, sans-serif" font-weight="bold" stroke="#262626" stroke-width="0.15" stroke-linejoin="round">(d)</text>
<clipPath id="cd"><rect x="24.90" y="581.10" width="274.30" height="137.80"/></clipPath>
<g clip-path="url(#cd)" fill="none" stroke-linejoin="bevel">
<path transform="translate(25.5,500) scale(0.021009,0.1)" d="M0 1254l1 123 1 -13 1 -161 1 20 1 -21 1 102 1 -58 1 74 1 -240 1 316 1 -154 1 72 1 -76 1 -22 1 78 1 33 1 -95 1 5 1 78 1 -145 1 -59 1 177 1 -99 1 -116 1 103 1 32 1 -67 1 -28 1 142 1 80 1 -105 1 -48 1 105 1 31 1 -94 1 78 1 46 1 -116 1 -56 1 108 1 -10 1 79 1 -221 1 58 1 -16 1 -83 1 172 1 38 1 -118 1 197 1 -52 1 -18 1 -21 1 51 1 -212 1 181 1 -1 1 -220 1 196 1 -55 1 95 1 -113 1 39 1 34 1 -113 1 137 1 -66 1 56 1 -94 1 149 1 -45 1 -72 1 75 1 58 1 49 1 -312 1 228 1 -39 1 -51 1 -85 1 210 1 -234 1 170 1 68 1 -269 1 120 1 -93 1 144 1 118 1 47 1 -352 1 111 1 119 1 81 1 -107 1 -109 1 97 1 -29 1 -17 1 -49 1 104 1 -8 1 -37 1 -12 1 -98 1 74 1 157 1 -130 1 -116 1 258 1 -75 1 146 1 -189 1 -49 1 -91 1 257 1 115 1 -314 1 16 1 115 1 -132 1 52 1 -7 1 50 1 84 1 -100 1 83 1 -124 1 70 1 -229 1 64 1 208 1 -128 1 108 1 -3 1 72 1 -47 1 19 1 -105 1 -54 1 -3 1 22 1 -59 1 54 1 42 1 32 1 -55 1 -147 1 172 1 28 1 79 1 -47 1 -113 1 -7 1 253 1 -116 1 100 1 27 1 -273 1 112 1 6 1 10 1 -2 1 -31 1 -3 1 -155 1 124 1 -54 1 81 1 -55 1 100 1 19 1 -47 1 0 1 -20 1 -50 1 26 1 -31 1 82 1 -34 1 52 1 -177 1 206 1 -153 1 2 1 50 1 -34 1 79 1 -80 1 -46 1 21 1 200 1 -117 1 -113 1 109 1 -145 1 311 1 -308 1 186 1 6 1 -185 1 163 1 64 1 -49 1 -19 1 64 1 -73 1 16 1 -43 1 70 1 -145 1 160 1 -120 1 -54 1 135 1 123 1 -68 1 -137 1 113 1 -107 1 31 1 19 1 -223 1 233 1 -113 1 31 1 -72 1 -4 1 53 1 164 1 78 1 -157 1 104 1 -126 1 -153 1 191 1 28 1 -81 1 67 1 26 1 -134 1 -56 1 116 1 1 1 -13 1 124 1 69 1 -199 1 103 1 23 1 -21 1 31 1 -133 1 104 1 119 1 -113 1 -132 1 114 1 61 1 -83 1 -86 1 195 1 -259 1 163 1 -49 1 -109 1 224 1 -81 1 -140 1 164 1 -96 1 -136 1 112 1 89 1 34 1 -43 1 -12 1 40 1 -63 1 128 1 -95 1 14 1 22 1 -148 1 33 1 207 1 -111 1 -57 1 58 1 -76 1 70 1 -87 1 87 1 -172 1 270 1 -171 1 -99 1 126 1 -14 1 49 1 -121 1 144 1 299 1 -455 1 150 1 -60 1 47 1 -186 1 61 1 149 1 -46 1 156 1 -217 1 81 1 254 1 -341 1 -13 1 81 1 -1 1 82 1 -66 1 -82 1 90 1 225 1 -127 1 -376 1 245 1 -68 1 139 1 -74 1 195 1 -92 1 -4 1 -65 1 -21 1 35 1 88 1 -70 1 -82 1 151 1 -101 1 -25 1 -66 1 21 1 -6 1 -200 1 353 1 -42 1 -72 1 117 1 -57 1 -6 1 -264 1 208 1 71 1 100 1 21 1 -38 1 -240 1 -96 1 257 1 -51 1 87 1 -101 1 32 1 -159 1 181 1 -83 1 73 1 11 1 -54 1 40 1 -30 1 72 1 -24 1 -98 1 -3 1 216 1 -171 1 101 1 -55 1 -89 1 -17 1 80 1 13 1 33 1 -174 1 62 1 47 1 157 1 -367 1 259 1 -91 1 91 1 -86 1 79 1 112 1 -113 1 8 1 -6 1 -104 1 120 1 -70 1 -56 1 72 1 -17 1 91 1 -74 1 -45 1 184 1 -43 1 26 1 -62 1 -66 1 -29 1 13 1 114 1 -78 1 -147 1 133 1 -127 1 146 1 -127 1 -5 1 128 1 -18 1 -147 1 224 1 131 1 -338 1 306 1 -232 1 17 1 30 1 -118 1 255 1 -75 1 -115 1 44 1 -115 1 108 1 119 1 -246 1 119 1 54 1 84 1 28 1 -168 1 -26 1 110 1 -75 1 5 1 129 1 56 1 -132 1 -42 1 71 1 -228 1 173 1 -96 1 319 1 -154 1 -54 1 -31 1 -215 1 299 1 85 1 -219 1 131 1 4 1 -210 1 230 1 39 1 -105 1 -27 1 79 1 -216 1 152 1 89 1 -213 1 207 1 -131 1 -154 1 184 1 -81 1 120 1 -138 1 206 1 -166 1 101 1 -88 1 26 1 140 1 -91 1 -56 1 -79 1 223 1 -39 1 -99 1 53 1 -118 1 2 1 17 1 109 1 -5 1 -96 1 137 1 5 1 -57 1 80 1 -123 1 16 1 55 1 -47 1 77 1 -190 1 248 1 -204 1 57 1 -113 1 184 1 62 1 -19 1 -22 1 -221 1 72 1 29 1 -43 1 190 1 -87 1 -19 1 47 1 -133 1 4 1 3 1 127 1 -14 1 22 1 46 1 -225 1 73 1 66 1 -139 1 76 1 144 1 8 1 -3 1 -95 1 -24 1 120 1 -135 1 66 1 92 1 -157 1 -23 1 56 1 56 1 -10 1 -31 1 37 1 -199 1 68 1 95 1 -101 1 -38 1 12 1 27 1 68 1 -78 1 117 1 135 1 -171 1 132 1 -91 1 -131 1 80 1 -67 1 162 1 -178 1 230 1 -69 1 -241 1 260 1 71 1 -217 1 165 1 -258 1 190 1 -178 1 199 1 -210 1 -79 1 281 1 176 1 -268 1 133 1 -67 1 -40 1 87 1 95 1 -267 1 167 1 -20 1 -164 1 281 1 31 1 -269 1 250 1 -156 1 -20 1 154 1 -118 1 9 1 111 1 -22 1 -36 1 -213 1 -16 1 250 1 -190 1 100 1 -114 1 83 1 -101 1 269 1 -245 1 83 1 -6 1 129 1 -243 1 128 1 -16 1 68 1 -5 1 -87 1 66 1 -57 1 78 1 -53 1 -51 1 58 1 36 1 177 1 -256 1 74 1 107 1 -328 1 31 1 51 1 100 1 237 1 -190 1 76 1 -133 1 -208 1 14 1 309 1 -77 1 -138 1 224 1 -246 1 248 1 29 1 -205 1 -32 1 181 1 -180 1 182 1 -191 1 186 1 -66 1 -49 1 -43 1 105 1 -197 1 150 1 -12 1 100 1 -179 1 275 1 -188 1 -76 1 234 1 25 1 -171 1 -65 1 84 1 -66 1 35 1 174 1 -108 1 -23 1 19 1 -38 1 84 1 3 1 -116 1 44 1 214 1 -184 1 -57 1 208 1 -189 1 -103 1 164 1 -146 1 38 1 76 1 -42 1 -59 1 20 1 -4 1 163 1 -175 1 14 1 242 1 -240 1 189 1 -16 1 -136 1 -118 1 174 1 20 1 28 1 -83 1 105 1 17 1 -227 1 231 1 -117 1 -68 1 23 1 203 1 -82 1 -258 1 174 1 -21 1 -3 1 -31 1 -88 1 215 1 -167 1 53 1 -21 1 -12 1 136 1 -33 1 -98 1 -25 1 44 1 133 1 -78 1 10 1 -52 1 7 1 44 1 -191 1 320 1 -222 1 20 1 177 1 -104 1 -16 1 -58 1 -91 1 162 1 94 1 -194 1 209 1 -231 1 37 1 115 1 -47 1 64 1 -133 1 -27 1 -77 1 62 1 11 1 -32 1 161 1 -90 1 -123 1 415 1 -308 1 -39 1 231 1 -7 1 -214 1 -30 1 44 1 197 1 -133 1 -46 1 72 1 114 1 -240 1 93 1 -93 1 330 1 -33 1 -80 1 -101 1 74 1 -256 1 220 1 -149 1 1 1 57 1 33 1 86 1 12 1 -41 1 -112 1 151 1 -74 1 120 1 -194 1 -171 1 212 1 243 1 -155 1 -62 1 100 1 -35 1 -4 1 -90 1 54 1 12 1 -78 1 -45 1 117 1 77 1 -30 1 -14 1 1 1 193 1 -216 1 73 1 85 1 -177 1 20 1 72 1 60 1 -127 1 4 1 -25 1 -120 1 215 1 -127 1 -136 1 146 1 -146 1 67 1 95 1 -87 1 184 1 -235 1 161 1 27 1 84 1 -50 1 -64 1 -14 1 -13 1 111 1 -166 1 109 1 -57 1 31 1 -46 1 222 1 -259 1 85 1 2 1 31 1 -15 1 -2 1 51 1 -230 1 140 1 -115 1 136 1 -131 1 20 1 84 1 135 1 -76 1 -26 1 103 1 -218 1 -106 1 154 1 14 1 140 1 84 1 -322 1 354 1 -85 1 -67 1 -44 1 191 1 -218 1 -51 1 57 1 -140 1 171 1 -54 1 41 1 2 1 -131 1 220 1 -216 1 177 1 -231 1 183 1 -111 1 80 1 -64 1 -142 1 99 1 110 1 51 1 -194 1 -61 1 117 1 61 1 -39 1 -16 1 153 1 11 1 -21 1 -155 1 94 1 -25 1 -115 1 215 1 -74 1 -53 1 176 1 -60 1 8 1 32 1 -45 1 -183 1 81 1 129 1 -164 1 74 1 34 1 97 1 -14 1 -37 1 -100 1 102 1 -36 1 -64 1 141 1 -80 1 -116 1 187 1 -141 1 79 1 -196 1 139 1 -86 1 -2 1 -87 1 376 1 -213 1 36 1 81 1 -114 1 59 1 -174 1 144 1 -56 1 84 1 -29 1 -145 1 -44 1 78 1 162 1 -29 1 -2 1 -224 1 -62 1 191 1 27 1 -25 1 89 1 -49 1 -94 1 28 1 95 1 -6 1 -14 1 217 1 -234 1 35 1 -103 1 59 1 82 1 3 1 -67 1 52 1 -32 1 -180 1 -129 1 518 1 -137 1 -82 1 -156 1 43 1 244 1 -385 1 229 1 110 1 -67 1 57 1 -82 1 234 1 -317 1 -31 1 152 1 107 1 -138 1 102 1 -146 1 -61 1 240 1 16 1 -4 1 -182 1 -67 1 -1 1 88 1 74 1 -6 1 -181 1 152 1 -17 1 7 1 -11 1 -16 1 74 1 -44 1 9 1 -84 1 100 1 -48 1 -184 1 240 1 -69 1 111 1 -101 1 6 1 28 1 -20 1 -41 1 -124 1 337 1 -318 1 115 1 92 1 -25 1 18 1 18 1 46 1 -89 1 242 1 -364 1 115 1 -54 1 -17 1 77 1 108 1 -201 1 0 1 133 1 -16 1 131 1 -86 1 -74 1 -52 1 50 1 -36 1 -110 1 127 1 -17 1 -5 1 -18 1 196 1 -92 1 22 1 -143 1 -38 1 68 1 49 1 -54 1 14 1 107 1 -62 1 -119 1 52 1 -21 1 78 1 -125 1 91 1 81 1 -62 1 -87 1 28 1 68 1 34 1 33 1 -92 1 -108 1 254 1 -104 1 10 1 -10 1 -124 1 66 1 54 1 72 1 -90 1 -295 1 267 1 55 1 87 1 -54 1 165 1 -99 1 -7 1 -37 1 -216 1 207 1 -23 1 -104 1 103 1 -16 1 -82 1 32 1 -13 1 46 1 -61 1 90 1 -228 1 151 1 -130 1 112 1 93 1 -46 1 -13 1 17 1 139 1 -248 1 185 1 -222 1 96 1 59 1 -94 1 98 1 48 1 -178 1 104 1 -28 1 -145 1 163 1 -57 1 198 1 -205 1 239 1 -207 1 229 1 -130 1 -8 1 33 1 9 1 46 1 31 1 -193 1 -84 1 -131 1 211 1 107 1 -36 1 -24 1 -43 1 -27 1 33 1 63 1 -200 1 231 1 -203 1 121 1 -44 1 24 1 -63 1 -10 1 86 1 -79 1 328 1 -266 1 -23 1 10 1 -48 1 -129 1 204 1 53 1 -168 1 140 1 -113 1 109 1 37 1 11 1 -4 1 -106 1 147 1 -123 1 74 1 33 1 -94 1 -91 1 176 1 -160 1 21 1 -20 1 181 1 -94 1 -193 1 277 1 123 1 -25 1 -219 1 60 1 40 1 35 1 -79 1 -105 1 171 1 -12 1 -181 1 89 1 59 1 -25 1 49 1 25 1 -23 1 -61 1 -115 1 183 1 73 1 53 1 -186 1 -1 1 138 1 -1 1 -102 1 35 1 -137 1 125 1 -131 1 63 1 2 1 -32 1 -152 1 119 1 108 1 -37 1 -31 1 76 1 25 1 14 1 -153 1 77 1 -33 1 -51 1 -57 1 130 1 -72 1 280 1 -208 1 -12 1 -16 1 211 1 -262 1 73 1 -57 1 60 1 9 1 105 1 -233 1 129 1 152 1 -197 1 31 1 -66 1 -161 1 233 1 119 1 -152 1 -128 1 196 1 -18 1 86 1 -8 1 -110 1 62 1 -204 1 271 1 -86 1 83 1 -2 1 -125 1 13 1 -68 1 -110 1 179 1 27 1 -115 1 166 1 -56 1 33 1 -114 1 -92 1 236 1 -16 1 -67 1 -28 1 13 1 13 1 -34 1 -140 1 259 1 -211 1 108 1 2 1 53 1 -174 1 262 1 -51 1 10 1 47 1 -192 1 -216 1 321 1 91 1 -14 1 -157 1 41 1 35 1 -194 1 106 1 3 1 206 1 -207 1 206 1 -144 1 -157 1 361 1 -295 1 147 1 101 1 -208 1 -64 1 210 1 -90 1 -120 1 14 1 64 1 125 1 -116 1 88 1 92 1 -35 1 15 1 -19 1 -263 1 263 1 -83 1 -42 1 -89 1 -47 1 44 1 101 1 -107 1 34 1 18 1 119 1 -89 1 14 1 136 1 -152 1 85 1 -153 1 128 1 -19 1 5 1 -60 1 -52 1 68 1 -16 1 140 1 -12 1 -196 1 170 1 -103 1 87 1 -87 1 -92 1 231 1 -52 1 -156 1 -61 1 125 1 -60 1 76 1 92 1 78 1 -169 1 161 1 -20 1 -148 1 -114 1 233 1 -22 1 162 1 -86 1 -60 1 84 1 -254 1 116 1 -44 1 187 1 -109 1 -336 1 411 1 -211 1 156 1 -116 1 67 1 36 1 -40 1 -107 1 218 1 -92 1 -39 1 67 1 -115 1 225 1 -154 1 13 1 -2 1 -116 1 -25 1 130 1 12 1 92 1 -83 1 -142 1 149 1 28 1 17 1 -62 1 -145 1 221 1 -175 1 121 1 -199 1 217 1 -144 1 173 1 63 1 -55 1 -216 1 20 1 7 1 142 1 -29 1 -17 1 14 1 25 1 6 1 97 1 -162 1 24 1 -191 1 49 1 58 1 -45 1 130 1 76 1 -137 1 -5 1 -2 1 59 1 -62 1 90 1 -12 1 4 1 39 1 -68 1 10 1 150 1 -167 1 78 1 -69 1 -48 1 0 1 -33 1 77 1 -57 1 17 1 152 1 -126 1 119 1 -82 1 56 1 -137 1 71 1 230 1 -167 1 16 1 -72 1 58 1 -187 1 29 1 118 1 37 1 -114 1 20 1 -16 1 16 1 -94 1 -21 1 125 1 -154 1 71 1 29 1 -36 1 119 1 -63 1 34 1 -87 1 25 1 116 1 -14 1 -77 1 77 1 -16 1 -3 1 133 1 -185 1 76 1 0 1 -61 1 -86 1 172 1 -40 1 -20 1 -2 1 0 1 -85 1 110 1 -195 1 165 1 -137 1 106 1 99 1 -90 1 -21 1 92 1 -72 1 -13 1 1 1 177 1 -79 1 -17 1 -155 1 168 1 -178 1 165 1 -148 1 284 1 -337 1 269 1 -39 1 -239 1 143 1 156 1 -29 1 -259 1 106 1 -61 1 14 1 35 1 230 1 -158 1 -33 1 -10 1 93 1 2 1 -149 1 221 1 -237 1 75 1 68 1 116 1 -190 1 58 1 95 1 -63 1 46 1 -8 1 -72 1 34 1 27 1 -88 1 151 1 -332 1 99 1 219 1 -94 1 -100 1 95 1 66 1 -153 1 123 1 -82 1 1 1 4 1 109 1 -206 1 69 1 96 1 -175 1 -33 1 199 1 -52 1 -14 1 27 1 -104 1 361 1 -362 1 51 1 -91 1 93 1 180 1 -140 1 54 1 -100 1 213 1 -153 1 -131 1 187 1 -105 1 90 1 -43 1 11 1 -11 1 -97 1 -55 1 229 1 -103 1 39 1 -69 1 -145 1 70 1 247 1 -202 1 38 1 -101 1 87 1 15 1 14 1 13 1 -51 1 5 1 52 1 31 1 -43 1 175 1 -143 1 -4 1 -76 1 156 1 -190 1 -55 1 60 1 147 1 -163 1 226 1 -122 1 -139 1 120 1 186 1 -245 1 -41 1 169 1 73 1 -27 1 -124 1 47 1 13 1 79 1 90 1 -209 1 131 1 -153 1 87 1 -141 1 15 1 110 1 -122 1 166 1 -134 1 58 1 -14 1 -24 1 44 1 87 1 188 1 -398 1 138 1 -44 1 -68 1 111 1 -108 1 74 1 123 1 -303 1 211 1 18 1 -130 1 137 1 -16 1 -65 1 145 1 -233 1 180 1 -81 1 -76 1 81 1 -16 1 109 1 -215 1 121 1 -24 1 188 1 -250 1 202 1 -261 1 195 1 -45 1 48 1 -100 1 -116 1 37 1 265 1 -102 1 -100 1 164 1 -153 1 1 1 -44 1 221 1 73 1 -271 1 116 1 64 1 105 1 -418 1 235 1 47 1 -197 1 174 1 -19 1 49 1 -121 1 92 1 -95 1 113 1 -42 1 -49 1 -97 1 284 1 -50 1 -21 1 -143 1 29 1 187 1 -85 1 -148 1 83 1 9 1 -32 1 -69 1 204 1 -61 1 -73 1 -128 1 92 1 54 1 81 1 -115 1 137 1 -89 1 -82 1 -190 1 150 1 -29 1 124 1 45 1 98 1 -130 1 -106 1 326 1 -189 1 -54 1 1 1 -101 1 184 1 -24 1 113 1 -45 1 -22 1 36 1 -143 1 -14 1 36 1 -111 1 103 1 -17 1 92 1 -63 1 -175 1 179 1 129 1 -301 1 100 1 72 1 -125 1 72 1 57 1 -128 1 150 1 11 1 -156 1 120 1 98 1 -116 1 57 1 19 1 -81 1 113 1 -56 1 -127 1 140 1 32 1 -5 1 -135 1 103 1 85 1 -106 1 88 1 11 1 -123 1 64 1 -88 1 126 1 -107 1 -43 1 49 1 -4 1 42 1 8 1 -151 1 47 1 94 1 12 1 -37 1 236 1 -140 1 -110 1 74 1 57 1 -90 1 -196 1 171 1 -4 1 193 1 -368 1 314 1 -157 1 101 1 -114 1 44 1 89 1 -97 1 90 1 -105 1 -31 1 18 1 -26 1 35 1 138 1 -235 1 -45 1 152 1 158 1 -59 1 26 1 -7 1 -183 1 78 1 -257 1 190 1 113 1 -201 1 -46 1 70 1 141 1 88 1 132 1 -107 1 -273 1 -74 1 229 1 85 1 -249 1 102 1 7 1 45 1 -19 1 64 1 51 1 -91 1 63 1 115 1 -279 1 -2 1 144 1 125 1 -156 1 86 1 -130 1 114 1 -143 1 121 1 -26 1 0 1 91 1 -28 1 -154 1 138 1 -240 1 250 1 163 1 -205 1 -2 1 -41 1 71 1 -118 1 104 1 -87 1 -14 1 51 1 -17 1 -155 1 354 1 -180 1 -170 1 257 1 -102 1 22 1 46 1 -148 1 -190 1 263 1 32 1 71 1 -163 1 45 1 62 1 -66 1 6 1 47 1 -116 1 239 1 -233 1 89 1 -34 1 -35 1 116 1 44 1 41 1 -81 1 -96 1 122 1 -214 1 138 1 44 1 4 1 -159 1 -32 1 292 1 -201 1 -106 1 38 1 116 1 108 1 -110 1 112 1 -91 1 23 1 47 1 -126 1 62 1 -63 1 -24 1 120 1 -137 1 84 1 -81 1 65 1 -41 1 150 1 -94 1 0 1 145 1 -422 1 165 1 -151 1 253 1 41 1 19 1 -35 1 -106 1 243 1 -134 1 -53 1 -79 1 142 1 -84 1 3 1 61 1 1 1 -96 1 192 1 -209 1 -11 1 132 1 -17 1 -5 1 -45 1 42 1 -56 1 -101 1 221 1 -162 1 73 1 89 1 -66 1 252 1 -384 1 60 1 78 1 117 1 -149 1 -109 1 238 1 -191 1 67 1 100 1 -144 1 20 1 87 1 -64 1 46 1 -115 1 77 1 -90 1 -43 1 307 1 -121 1 43 1 -175 1 87 1 -16 1 -113 1 182 1 -117 1 48 1 -122 1 233 1 -22 1 -34 1 -120 1 34 1 163 1 -139 1 51 1 -12 1 -117 1 245 1 -325 1 205 1 -29 1 -142 1 181 1 17 1 -43 1 -82 1 119 1 62 1 -83 1 139 1 -80 1 -8 1 57 1 -190 1 13 1 96 1 1 1 91 1 -33 1 -90 1 4 1 -46 1 -8 1 -8 1 126 1 -127 1 10 1 48 1 -62 1 27 1 -181 1 237 1 -63 1 46 1 17 1 -206 1 395 1 -207 1 3 1 -181 1 224 1 -19 1 -71 1 58 1 96 1 -149 1 -52 1 208 1 -98 1 -41 1 230 1 -198 1 -31 1 41 1 -62 1 57 1 -6 1 -75 1 37 1 53 1 6 1 19 1 18 1 -49 1 24 1 -83 1 11 1 120 1 -279 1 217 1 258 1 -465 1 311 1 -303 1 196 1 117 1 -14 1 -222 1 -37 1 -13 1 199 1 -103 1 37 1 23 1 14 1 11 1 -38 1 -161 1 284 1 -390 1 369 1 -170 1 37 1 -30 1 14 1 32 1 -24 1 -75 1 180 1 -132 1 178 1 -139 1 -51 1 106 1 42 1 -168 1 59 1 159 1 -225 1 13 1 95 1 -128 1 -116 1 74 1 189 1 26 1 -6 1 -18 1 -151 1 177 1 44 1 -171 1 152 1 -121 1 51 1 17 1 -172 1 274 1 -216 1 70 1 -36 1 88 1 -2 1 -38 1 129 1 -105 1 -63 1 -230 1 241 1 -1 1 -54 1 1 1 135 1 42 1 79 1 -70 1 -171 1 89 1 -150 1 194 1 -34 1 -90 1 47 1 -14 1 -35 1 181 1 165 1 -211 1 22 1 -83 1 -48 1 236 1 -237 1 71 1 -48 1 66 1 -60 1 60 1 -172 1 108 1 136 1 -223 1 34 1 189 1 -89 1 61 1 -306 1 221 1 -132 1 -11 1 167 1 72 1 -249 1 36 1 49 1 42 1 -112 1 334 1 -155 1 -89 1 -14 1 264 1 -8 1 -254 1 78 1 85 1 -227 1 55 1 180 1 -190 1 24 1 -85 1 55 1 134 1 -140 1 -46 1 63 1 224 1 -149 1 -69 1 67 1 27 1 -30 1 -180 1 196 1 -48 1 99 1 -205 1 224 1 -144 1 -113 1 283 1 -172 1 83 1 -50 1 117 1 1 1 1 1 -38 1 -217 1 -7 1 176 1 -108 1 133 1 -28 1 -148 1 35 1 -9 1 23 1 64 1 83 1 61 1 -215 1 38 1 198 1 -62 1 -62 1 -241 1 125 1 109 1 -70 1 242 1 -178 1 18 1 -129 1 5 1 35 1 4 1 37 1 56 1 -12 1 71 1 -220 1 146 1 3 1 126 1 -169 1 51 1 -107 1 116 1 -2 1 -96 1 18 1 38 1 57 1 -162 1 191 1 -114 1 209 1 -41 1 -175 1 -21 1 289 1 -171 1 -6 1 -93 1 28 1 88 1 -18 1 -135 1 194 1 -88 1 -118 1 182 1 -109 1 90 1 -126 1 86 1 -186 1 187 1 -177 1 158 1 -253 1 231 1 74 1 -22 1 67 1 -213 1 247 1 4 1 -263 1 38 1 21 1 51 1 20 1 -248 1 286 1 -79 1 -72 1 185 1 -122 1 139 1 -56 1 -80 1 139 1 -34 1 -123 1 -103 1 100 1 108 1 -80 1 188 1 -141 1 -6 1 20 1 -121 1 71 1 -50 1 -158 1 54 1 235 1 -111 1 30 1 -126 1 83 1 128 1 -64 1 -58 1 192 1 -149 1 -27 1 140 1 -269 1 214 1 -156 1 30 1 10 1 76 1 -2 1 19 1 -9 1 111 1 27 1 -91 1 4 1 -106 1 -67 1 158 1 -52 1 77 1 -251 1 421 1 -369 1 122 1 89 1 -222 1 78 1 -137 1 55 1 -47 1 191 1 17 1 -57 1 148 1 12 1 -131 1 -20 1 -5 1 -16 1 164 1 -100 1 -53 1 10 1 72 1 -88 1 67 1 -33 1 130 1 -18 1 -241 1 118 1 81 1 -108 1 117 1 -44 1 24 1 -61 1 34 1 21 1 -186 1 51 1 -9 1 252 1 -129 1 7 1 -19 1 -64 1 -21 1 148 1 -114 1 183 1 -129 1 -10 1 -29 1 14 1 10 1 138 1 76 1 -325 1 131 1 43 1 -150 1 25 1 16 1 -181 1 284 1 -64 1 -5 1 17 1 15 1 193 1 -199 1 61 1 -126 1 81 1 -62 1 15 1 -70 1 8 1 119 1 27 1 -27 1 -105 1 92 1 -265 1 324 1 -92 1 29 1 83 1 -147 1 128 1 -130 1 92 1 -88 1 66 1 107 1 -196 1 4 1 26 1 59 1 228 1 -310 1 -136 1 130 1 -87 1 95 1 54 1 -91 1 26 1 -110 1 191 1 -87 1 171 1 -3 1 -179 1 47 1 39 1 66 1 -226 1 149 1 180 1 -182 1 29 1 -20 1 -111 1 199 1 -63 1 -10 1 53 1 5 1 -249 1 221 1 -99 1 69 1 -81 1 -14 1 169 1 -89 1 -25 1 -1 1 35 1 -9 1 -218 1 139 1 59 1 91 1 58 1 -214 1 267 1 -171 1 37 1 -95 1 -6 1 190 1 -154 1 11 1 117 1 53 1 -299 1 122 1 16 1 170 1 61 1 -234 1 40 1 46 1 26 1 -136 1 109 1 -144 1 -184 1 121 1 148 1 53 1 -282 1 42 1 165 1 -311 1 366 1 45 1 -373 1 348 1 -89 1 150 1 -105 1 -48 1 33 1 77 1 -70 1 -14 1 -137 1 179 1 -42 1 168 1 -172 1 -7 1 -50 1 126 1 -86 1 -47 1 215 1 17 1 -208 1 -53 1 200 1 -182 1 340 1 -275 1 102 1 -210 1 118 1 105 1 -61 1 -91 1 278 1 -159 1 -90 1 -35 1 31 1 151 1 -197 1 75 1 -80 1 193 1 -132 1 96 1 -27 1 -107 1 119 1 22 1 -194 1 172 1 267 1 -360 1 88 1 -184 1 167 1 -98 1 127 1 -77 1 -105 1 213 1 -123 1 -75 1 101 1 -96 1 127 1 -43 1 -28 1 97 1 -182 1 210 1 -278 1 338 1 -134 1 -41 1 -44 1 120 1 -66 1 -2 1 113 1 -137 1 19 1 62 1 60 1 -114 1 29 1 -11 1 65 1 70 1 -227 1 75 1 8 1 60 1 86 1 -143 1 22 1 86 1 -223 1 45 1 30 1 41 1 22 1 -70 1 213 1 -230 1 47 1 121 1 -30 1 -73 1 36 1 42 1 -78 1 62 1 -147 1 92 1 -161 1 71 1 -24 1 225 1 -161 1 71 1 -115 1 68 1 -7 1 -55 1 161 1 -237 1 215 1 192 1 -328 1 80 1 -150 1 144 1 -161 1 222 1 -105 1 -128 1 51 1 -27 1 122 1 107 1 -118 1 -74 1 32 1 89 1 -241 1 285 1 -17 1 -271 1 344 1 -267 1 134 1 131 1 -266 1 -20 1 69 1 3 1 89 1 -37 1 3 1 1 1 28 1 -63 1 111 1 -31 1 -96 1 269 1 -293 1 190 1 -140 1 105 1 15 1 33 1 53 1 -214 1 350 1 -232 1 -115 1 -51 1 351 1 -66 1 -158 1 74 1 53 1 -115 1 -49 1 37 1 83 1 -78 1 -118 1 188 1 -235 1 92 1 189 1 -95 1 0 1 -12 1 87 1 -102 1 -180 1 208 1 -314 1 96 1 345 1 -52 1 -142 1 36 1 16 1 87 1 -169 1 -10 1 24 1 73 1 11 1 -62 1 110 1 -169 1 89 1 -58 1 -30 1 212 1 -147 1 -65 1 99 1 -98 1 151 1 24 1 17 1 -198 1 87 1 189 1 -195 1 140 1 25 1 -276 1 246 1 -43 1 11 1 77 1 -116 1 -36 1 50 1 -90 1 79 1 -237 1 354 1 -214 1 102 1 -22 1 -20 1 1 1 -4 1 -162 1 104 1 165 1 -210 1 -4 1 301 1 -86 1 34 1 -150 1 27 1 47 1 -19 1 -62 1 -130 1 69 1 -74 1 292 1 -187 1 21 1 43 1 -25 1 48 1 -109 1 -85 1 310 1 -233 1 22 1 -31 1 24 1 53 1 69 1 -170 1 127 1 -91 1 176 1 -229 1 125 1 58 1 -195 1 138 1 3 1 -89 1 55 1 114 1 -71 1 -62 1 20 1 61 1 77 1 -44 1 -6 1 78 1 -292 1 10 1 -79 1 292 1 -293 1 210 1 75 1 -202 1 69 1 38 1 92 1 -210 1 172 1 35 1 -52 1 2 1 102 1 -97 1 -22 1 -30 1 93 1 -88 1 88 1 -52 1 96 1 -179 1 81 1 25 1 6 1 67 1 -69 1 48 1 98 1 -104 1 -177 1 -34 1 195 1 -97 1 62 1 -43 1 137 1 -10 1 -216 1 130 1 -53 1 -94 1 182 1 -74 1 55 1 189 1 -107 1 -21 1 -140 1 -72 1 226 1 -144 1 32 1 -39 1 44 1 215 1 -253 1 3 1 45 1 7 1 -138 1 -53 1 111 1 34 1 -54 1 -20 1 6 1 50 1 26 1 -141 1 101 1 83 1 -44 1 -115 1 93 1 31 1 73 1 -222 1 214 1 -106 1 62 1 44 1 -144 1 6 1 64 1 78 1 -118 1 -81 1 67 1 100 1 72 1 -155 1 17 1 13 1 4 1 -75 1 47 1 61 1 -11 1 -7 1 -95 1 42 1 -15 1 163 1 37 1 -103 1 116 1 -174 1 0 1 -93 1 141 1 -63 1 51 1 36 1 -67 1 -81 1 99 1 -2 1 9 1 60 1 -82 1 -5 1 184 1 -60 1 -107 1 -78 1 45 1 77 1 42 1 144 1 -243 1 36 1 -46 1 40 1 -42 1 -63 1 192 1 -82 1 106 1 -164 1 71 1 36 1 -232 1 51 1 190 1 -59 1 -178 1 101 1 -29 1 53 1 186 1 -194 1 238 1 -209 1 -44 1 211 1 -56 1 39 1 52 1 -80 1 15 1 -270 1 82 1 117 1 -22 1 48 1 -110 1 146 1 83 1 -131 1 23 1 -30 1 39 1 -65 1 -66 1 65 1 -9 1 -149 1 161 1 -19 1 17 1 -70 1 95 1 13 1 -122 1 94 1 42 1 -3 1 -153 1 -9 1 95 1 -98 1 325 1 -304 1 1 1 132 1 -103 1 -172 1 201 1 -77 1 42 1 -100 1 64 1 68 1 7 1 -95 1 36 1 -13 1 91 1 -27 1 -101 1 173 1 -123 1 99 1 -119 1 110 1 -38 1 16 1 41 1 -6 1 -25 1 0 1 -132 1 110 1 -194 1 -4 1 176 1 8 1 158 1 -76 1 40 1 -129 1 69 1 66 1 -58 1 -16 1 -22 1 -94 1 3 1 -49 1 168 1 -62 1 -37 1 95 1 -85 1 148 1 79 1 -133 1 -104 1 -74 1 322 1 -143 1 -149 1 206 1 -251 1 112 1 19 1 -11 1 -72 1 324 1 -256 1 72 1 -32 1 -150 1 97 1 69 1 67 1 -117 1 65 1 -65 1 85 1 -281 1 283 1 -112 1 3 1 -208 1 164 1 154 1 156 1 -277 1 4 1 106 1 -18 1 -81 1 39 1 -20 1 92 1 17 1 89 1 -78 1 -23 1 -47 1 72 1 -177 1 290 1 -173 1 104 1 -203 1 168 1 -58 1 -54 1 -44 1 -20 1 247 1 -53 1 -102 1 8 1 -85 1 -103 1 5 1 109 1 42 1 -94 1 182 1 -26 1 -33 1 -178 1 143 1 17 1 -114 1 -85 1 379 1 -120 1 -92 1 183 1 -45 1 -61 1 -21 1 51 1 64 1 -129 1 -28 1 75 1 -315 1 269 1 -45 1 36 1 -16 1 49 1 -22 1 -3 1 -19 1 55 1 -90 1 139 1 -247 1 174 1 23 1 -159 1 78 1 162 1 -135 1 -69 1 -195 1 308 1 -22 1 47 1 134 1 -191 1 13 1 -76 1 58 1 3 1 73 1 -19 1 -122 1 27 1 172 1 -217 1 158 1 82 1 -90 1 -37 1 103 1 -94 1 -34 1 -18 1 126 1 -42 1 78 1 -174 1 2 1 -11 1 66 1 -90 1 150 1 -54 1 -123 1 -183 1 105 1 303 1 -139 1 19 1 -53 1 76 1 -215 1 -7 1 34 1 158 1 59 1 -22 1 -55 1 -107 1 192 1 -100 1 25 1 -5 1 -37 1 -24 1 13 1 -65 1 143 1 -40 1 111 1 -262 1 276 1 -115 1 -8 1 -60 1 -1 1 -63 1 222 1 -103 1 86 1 10 1 -123 1 25 1 -10 1 127 1 -83 1 4 1 51 1 -74 1 197 1 -276 1 202 1 14 1 -236 1 186 1 -54 1 55 1 -192 1 134 1 -113 1 60 1 162 1 -144 1 -196 1 79 1 24 1 200 1 -159 1 -80 1 248 1 -80 1 9 1 -106 1 206 1 -144 1 -171 1 77 1 28 1 63 1 86 1 -138 1 11 1 260 1 -196 1 -57 1 52 1 -119 1 166 1 40 1 -144 1 147 1 -120 1 54 1 -96 1 -5 1 -65 1 160 1 -47 1 3 1 -81 1 -4 1 50 1 102 1 -16 1 -91 1 91 1 135 1 -153 1 178 1 -147 1 83 1 -172 1 157 1 -218 1 132 1 -53 1 -154 1 58 1 232 1 -60 1 75 1 -102 1 -287 1 292 1 -76 1 6 1 5 1 -29 1 -18 1 204 1 -74 1 -102 1 22 1 129 1 -55 1 -17 1 -132 1 73 1 -65 1 -72 1 261 1 -114 1 -8 1 -50 1 159 1 124 1 -140 1 32 1 -202 1 132 1 4 1 118 1 -137 1 -89 1 82 1 -35 1 175 1 -73 1 -30 1 -15 1 62 1 -124 1 -39 1 -90 1 285 1 -63 1 12 1 -55 1 150 1 -245 1 202 1 -190 1 37 1 -71 1 121 1 -35 1 66 1 -94 1 -75 1 182 1 67 1 -52 1 -73 1 43 1 -195 1 126 1 139 1 -65 1 -122 1 158 1 -91 1 80 1 -198 1 81 1 79 1 -2 1 23 1 -52 1 -17 1 62 1 36 1 -220 1 110 1 11 1 34 1 79 1 -217 1 173 1 -210 1 91 1 21 1 23 1 -31 1 9 1 16 1 7 1 -146 1 41 1 89 1 90 1 43 1 171 1 -253 1 -83 1 89 1 47 1 -50 1 -111 1 89 1 5 1 -126 1 19 1 222 1 -317 1 222 1 -40 1 152 1 -71 1 -136 1 195 1 -167 1 235 1 -31 1 -160 1 79 1 -55 1 -100 1 182 1 -59 1 39 1 21 1 31 1 -34 1 -104 1 16 1 31 1 -50 1 -10 1 193 1 -126 1 129 1 -245 1 67 1 -36 1 4 1 10 1 15 1 -29 1 206 1 -104 1 -130 1 18 1 119 1 -18 1 -106 1 141 1 -217 1 88 1 202 1 -398 1 221 1 109 1 -103 1 -59 1 -10 1 -109 1 69 1 128 1 -58 1 51 1 -13 1 40 1 -178 1 124 1 -3 1 2 1 -52 1 -120 1 259 1 17 1 143 1 -151 1 84 1 -96 1 -90 1 81 1 -153 1 130 1 -33 1 -86 1 209 1 -10 1 -60 1 32 1 77 1 -164 1 -111 1 36 1 152 1 -43 1 -158 1 258 1 -101 1 128 1 -44 1 -144 1 49 1 -76 1 -10 1 50 1 74 1 79 1 -207 1 146 1 -60 1 -24 1 124 1 -136 1 159 1 -157 1 -54 1 156 1 -205 1 25 1 92 1 18 1 -25 1 -157 1 59 1 170 1 2 1 -142 1 117 1 -5 1 75 1 -161 1 201 1 -162 1 161 1 -47 1 -179 1 65 1 55 1 67 1 -221 1 82 1 103 1 -13 1 -141 1 14 1 122 1 -134 1 116 1 63 1 -83 1 -249 1 356 1 -2 1 24 1 -51 1 -235 1 286 1 -98 1 55 1 -102 1 -8 1 1 1 169 1 -122 1 -44 1 -99 1 161 1 -42 1 13 1 77 1 -24 1 -67 1 20 1 -12 1 58 1 -2 1 -51 1 -92 1 157 1 5 1 -182 1 135 1 -72 1 -166 1 198 1 92 1 -156 1 3 1 159 1 -196 1 15 1 57 1 87 1 1 1 -107 1 20 1 37 1 -45 1 -43 1 -22 1 167 1 -86 1 285 1 -207 1 -127 1 70 1 31 1 5 1 5 1 0 1 -54 1 73 1 142 1 -243 1 5 1 101 1 50 1 -40 1 37 1 -117 1 -17 1 82 1 2 1 92 1 -10 1 -313 1 240 1 -133 1 -133 1 231 1 -52 1 -17 1 -86 1 24 1 74 1 -118 1 128 1 20 1 -24 1 42 1 -34 1 -102 1 12 1 108 1 77 1 -75 1 -61 1 62 1 -183 1 76 1 57 1 29 1 -25 1 5 1 -84 1 56 1 76 1 -193 1 59 1 79 1 169 1 -74 1 82 1 -21 1 -165 1 35 1 -102 1 217 1 -41 1 -13 1 7 1 -19 1 -23 1 6 1 86 1 -184 1 -24 1 97 1 107 1 -85 1 -41 1 96 1 -67 1 -186 1 83 1 -101 1 173 1 -21 1 82 1 155 1 -250 1 56 1 -36 1 -225 1 190 1 4 1 91 1 -102 1 -42 1 174 1 -61 1 -76 1 12 1 42 1 104 1 56 1 -252 1 228 1 -103 1 29 1 56 1 -179 1 169 1 -200 1 77 1 -35 1 234 1 -4 1 -81 1 -23 1 -96 1 210 1 -32 1 -46 1 -93 1 -22 1 25 1 130 1 -210 1 99 1 139 1 -69 1 80 1 -122 1 1 1 88 1 -67 1 -28 1 -79 1 -89 1 274 1 -176 1 -30 1 149 1 -162 1 -42 1 72 1 46 1 31 1 23 1 42 1 -100 1 44 1 -43 1 -49 1 96 1 -5 1 138 1 -115 1 -119 1 119 1 -78 1 168 1 -301 1 96 1 0 1 71 1 -22 1 -134 1 -25 1 187 1 118 1 -1 1 -170 1 79 1 -122 1 -53 1 245 1 -50 1 -93 1 -3 1 118 1 -55 1 -60 1 57 1 -27 1 -36 1 -28 1 150 1 -128 1 -64 1 273 1 -51 1 -67 1 -53 1 24 1 -151 1 131 1 27 1 -44 1 58 1 -110 1 87 1 -160 1 141 1 -54 1 -65 1 85 1 38 1 -57 1 139 1 -148 1 149 1 -19 1 -122 1 186 1 -255 1 173 1 -43 1 64 1 -212 1 34 1 32 1 77 1 6 1 -6 1 -25 1 -41 1 -60 1 85 1 87 1 44 1 -138 1 143 1 -220 1 193 1 -169 1 121 1 -109 1 -2 1 39 1 179 1 -190 1 117 1 -42 1 13 1 1 1 29 1 -166 1 113 1 27 1 -84 1 85 1 -125 1 159 1 -130 1 39 1 97 1 26 1 -149 1 -7 1 148 1 -351 1 383 1 -5 1 -213 1 204 1 -75 1 9 1 -252 1 166 1 27 1 -20 1 2 1 9 1 -234 1 242 1 -45 1 55 1 -37 1 45 1 26 1 135 1 -235 1 227 1 -175 1 -59 1 -50 1 210 1 -216 1 220 1 -51 1 -83 1 -9 1 104 1 -30 1 54 1 -68 1 -46 1 95 1 -157 1 185 1 -72 1 -106 1 9 1 63 1 -136 1 292 1 -39 1 -187 1 89 1 165 1 -118 1 -129 1 -104 1 47 1 258 1 -79 1 -149 1 184 1 -97 1 -28 1 13 1 6 1 195 1 -239 1 49 1 159 1 16 1 -228 1 279 1 -88 1 -237 1 302 1 -301 1 198 1 -168 1 -58 1 242 1 -40 1 -46 1 25 1 -27 1 -14 1 -74 1 152 1 -52 1 -24 1 -30 1 26 1 -113 1 111 1 -62 1 208 1 -205 1 46 1 43 1 72 1 -31 1 -41 1 197 1 -200 1 32 1 221 1 -333 1 171 1 -48 1 -162 1 64 1 134 1 -210 1 117 1 103 1 -108 1 46 1 -86 1 5 1 1 1 24 1 90 1 -51 1 175 1 -131 1 -25 1 182 1 -217 1 -64 1 88 1 -114 1 148 1 78 1 -67 1 -96 1 24 1 58 1 65 1 -146 1 -1 1 138 1 -79 1 11 1 13 1 -115 1 57 1 112 1 -112 1 -4 1 46 1 9 1 198 1 -308 1 87 1 173 1 -182 1 32 1 -169 1 224 1 -10 1 -4 1 -92 1 51 1 -40 1 84 1 -79 1 74 1 -195 1 92 1 -231 1 248 1 85 1 -94 1 240 1 -308 1 61 1 -54 1 39 1 3 1 -92 1 45 1 278 1 -211 1 108 1 -201 1 107 1 60 1 -65 1 -32 1 31 1 20 1 74 1 34 1 -232 1 -68 1 172 1 18 1 66 1 33 1 -160 1 251 1 -166 1 -186 1 252 1 -63 1 1 1 -173 1 119 1 43 1 -29 1 78 1 52 1 25 1 -25 1 -129 1 173 1 -134 1 54 1 -101 1 -105 1 -81 1 227 1 -80 1 62 1 83 1 -223 1 -21 1 187 1 9 1 -58 1 -23 1 -98 1 139 1 -61 1 109 1 47 1 -138 1 90 1 -21 1 48 1 77 1 -81 1 5 1 8 1 -112 1 39 1 32 1 83 1 5 1 90 1 -309 1 97 1 -155 1 109 1 -101 1 259 1 -38 1 -168 1 130 1 37 1 93 1 -84 1 -65 1 -19 1 66 1 -29 1 -72 1 -69 1 210 1 -163 1 42 1 98 1 -78 1 110 1 -208 1 174 1 -193 1 -15 1 42 1 107 1 -73 1 -64 1 238 1 -199 1 78 1 34 1 -67 1 78 1 24 1 -67 1 106 1 -150 1 -43 1 116 1 -107 1 124 1 -44 1 -34 1 97 1 -4 1 -322 1 244 1 42 1 33 1 -95 1 -56 1 118 1 52 1 -253 1 52 1 84 1 -184 1 184 1 131 1 -174 1 111 1 -94 1 121 1 21 1 61 1 -114 1 91 1 -60 1 -81 1 181 1 -192 1 72 1 210 1 -145 1 -156 1 103 1 -78 1 38 1 -126 1 160 1 -164 1 178 1 1 1 44 1 128 1 -359 1 43 1 18 1 40 1 134 1 -112 1 -23 1 -50 1 47 1 18 1 31 1 -123 1 126 1 59 1 -20 1 -147 1 192 1 -2 1 -46 1 -141 1 -23 1 141 1 -99 1 -28 1 206 1 2 1 -25 1 63 1 -38 1 -190 1 213 1 -95 1 30 1 105 1 -104 1 105 1 -140 1 -41 1 -30 1 54 1 -143 1 150 1 -5 1 -38 1 -157 1 8 1 264 1 -154 1 217 1 -193 1 99 1 -167 1 75 1 39 1 75 1 102 1 -66 1 -224 1 136 1 -16 1 -43 1 114 1 92 1 -189 1 147 1 26 1 -228 1 263 1 -7 1 -129 1 131 1 -135 1 84 1 -46 1 -140 1 105 1 -40 1 -30 1 -61 1 35 1 -41 1 220 1 -287 1 189 1 -64 1 -58 1 183 1 -141 1 186 1 -128 1 48 1 -43 1 73 1 27 1 -128 1 41 1 164 1 -216 1 222 1 -204 1 -15 1 -105 1 78 1 -82 1 109 1 117 1 -69 1 -50 1 -39 1 32 1 -71 1 17 1 299 1 -158 1 -107 1 148 1 77 1 -198 1 49 1 -106 1 -31 1 276 1 191 1 -386 1 -82 1 282 1 -33 1 -53 1 92 1 -167 1 57 1 48 1 -102 1 74 1 -66 1 64 1 -26 1 -199 1 193 1 -141 1 54 1 -75 1 230 1 -106 1 -5 1 152 1 -49 1 -86 1 -172 1 254 1 -85 1 -9 1 102 1 -126 1 51 1 90 1 -29 1 -109 1 192 1 -28 1 69 1 -180 1 25 1 79 1 -57 1 -27 1 -22 1 -19 1 -32 1 1 1 98 1 -65 1 -103 1 136 1 150 1 -28 1 -312 1 109 1 150 1 -64 1 0 1 -19 1 18 1 -99 1 204 1 -206 1 84 1 156 1 -42 1 -100 1 0 1 -54 1 9 1 25 1 146 1 -164 1 93 1 -12 1 -2 1 -63 1 94 1 -52 1 -6 1 -52 1 -155 1 267 1 2 1 -115 1 30 1 43 1 -116 1 156 1 1 1 13 1 7 1 -260 1 223 1 -88 1 143 1 -4 1 -22 1 -83 1 266 1 -262 1 -91 1 186 1 -223 1 311 1 -83 1 29 1 -25 1 -59 1 -158 1 66 1 108 1 -70 1 53 1 -97 1 -9 1 100 1 41 1 -68 1 -90 1 -63 1 340 1 -291 1 25 1 13 1 150 1 -152 1 120 1 -23 1 -132 1 120 1 -127 1 98 1 83 1 -90 1 -62 1 46 1 21 1 48 1 -241 1 41 1 215 1 -56 1 12 1 18 1 -34 1 -26 1 51 1 52 1 -30 1 -29 1 -98 1 118 1 -128 1 45 1 76 1 -3 1 90 1 -20 1 -35 1 -75 1 29 1 -21 1 182 1 -117 1 -101 1 -18 1 192 1 -193 1 113 1 -17 1 82 1 -178 1 123 1 -23 1 55 1 51 1 -114 1 -30 1 101 1 -209 1 147 1 -107 1 -21 1 -33 1 -7 1 228 1 4 1 -70 1 86 1 -92 1 -48 1 -53 1 169 1 5 1 41 1 -188 1 47 1 -97 1 229 1 -40 1 -18 1 -48 1 -12 1 -19 1 133 1 -157 1 139 1 -54 1 -119 1 -40 1 61 1 69 1 -115 1 176 1 47 1 -54 1 -205 1 -60 1 295 1 57 1 -173 1 85 1 -72 1 -34 1 150 1 -142 1 129 1 80 1 -169 1 184 1 -293 1 205 1 -83 1 235 1 -232 1 -76 1 222 1 -290 1 182 1 -111 1 198 1 -137 1 89 1 -83 1 -98 1 -96 1 363 1 -143 1 -128 1 78 1 120 1 -229 1 347 1 -232 1 -11 1 152 1 -99 1 -111 1 177 1 -43 1 62 1 -189 1 -19 1 162 1 -98 1 -158 1 145 1 112 1 -125 1 185 1 -165 1 38 1 -141 1 76 1 57 1 71 1 -37 1 81 1 -299 1 204 1 -16 1 -83 1 93 1 -65 1 108 1 -71 1 79 1 -131 1 202 1 -81 1 129 1 -178 1 -34 1 59 1 -55 1 -53 1 98 1 -8 1 -54 1 25 1 -55 1 104 1 -138 1 282 1 -154 1 85 1 -199 1 143 1 -44 1 104 1 -11 1 -232 1 258 1 -245 1 263 1 -129 1 -106 1 177 1 -62 1 -96 1 24 1 113 1 -172 1 48 1 252 1 -244 1 106 1 8 1 47 1 -7 1 -317 1 190 1 156 1 -184 1 243 1 -146 1 -137 1 166 1 129 1 -244 1 115 1 -134 1 28 1 65 1 37 1 -15 1 -13 1 205 1 -325 1 -73 1 226 1 -35 1 -151 1 295 1 -227 1 -66 1 171 1 21 1 160 1 -363 1 24 1 94 1 -16 1 34 1 -59 1 -79 1 103 1 109 1 7 1 -135 1 112 1 -12 1 -85 1 14 1 37 1 257 1 -246 1 -99 1 69 1 -38 1 159 1 -309 1 100 1 180 1 -38 1 -37 1 65 1 -192 1 159 1 -142 1 -13 1 167 1 -122 1 42 1 92 1 -157 1 155 1 153 1 -229 1 109 1 -18 1 -191 1 -10 1 129 1 -201 1 204 1 20 1 20 1 -2 1 83 1 -156 1 157 1 -77 1 0 1 -64 1 104 1 -160 1 138 1 37 1 -168 1 -26 1 18 1 67 1 37 1 48 1 96 1 -26 1 -127 1 -62 1 -77 1 191 1 -29 1 -75 1 10 1 4 1 -231 1 237 1 35 1 -42 1 -88 1 103 1 41 1 124 1 -70 1 -44 1 -61 1 -121 1 82 1 -85 1 118 1 110 1 -2 1 -14 1 -83 1 91 1 -119 1 -158 1 196 1 -9 1 -168 1 114 1 -180 1 184 1 158 1 -174 1 184 1 -103 1 -91 1 -97 1 237 1 -9 1 -202 1 100 1 143 1 -174 1 107 1 -221 1 96 1 155 1 -180 1 -24 1 4 1 95 1 -113 1 137 1 63 1 91 1 -182 1 189 1 -99 1 -74 1 70 1 93 1 -2 1 -70 1 -80 1 87 1 -58 1 -5 1 8 1 146 1 -283 1 105 1 -96 1 184 1 22 1 23 1 -161 1 38 1 67 1 -55 1 10 1 -9 1 7 1 -37 1 52 1 -179 1 98 1 -86 1 116 1 -60 1 118 1 68 1 -235 1 43 1 104 1 104 1 -63 1 -31 1 -48 1 -36 1 77 1 11 1 -32 1 -70 1 -96 1 70 1 44 1 -74 1 139 1 -164 1 105 1 61 1 43 1 -54 1 90 1 -169 1 -17 1 175 1 -185 1 67 1 -148 1 267 1 -38 1 -138 1 -93 1 187 1 1 1 83 1 64 1 -151 1 -43 1 -2 1 -7 1 -100 1 44 1 75 1 -146 1 31 1 237 1 -178 1 138 1 27 1 -102 1 76 1 -94 1 -66 1 72 1 16 1 4 1 -4 1 -45 1 136 1 -118 1 -20 1 125 1 -180 1 92 1 138 1 -132 1 126 1 -156 1 -24 1 32 1 -38 1 19 1 -8 1 115 1 -37 1 -58 1 -50 1 368 1 -318 1 149 1 -240 1 40 1 183 1 -217 1 2 1 94 1 -63 1 40 1 42 1 66 1 -64 1 10 1 95 1 8 1 -165 1 -140 1 78 1 194 1 -145 1 -22 1 24 1 190 1 -143 1 -41 1 -31 1 -37 1 364 1 -266 1 17 1 -44 1 129 1 -194 1 -85 1 124 1 85 1 179 1 -218 1 -74 1 59 1 -52 1 -1 1 82 1 18 1 -89 1 164 1 -110 1 17 1 -59 1 82 1 4 1 23 1 -138 1 134 1 -112 1 62 1 60 1 72 1 -184 1 -62 1 116 1 101 1 -145 1 257 1 -403 1 316 1 -32 1 -5 1 -182 1 204 1 -18 1 8 1 -138 1 -2 1 143 1 -89 1 -66 1 -45 1 102 1 -151 1 180 1 -39 1 -160 1 187 1 69 1 -89 1 -148 1 67 1 135 1 -200 1 86 1 142 1 -134 1 -28 1 129 1 75 1 -114 1 -161 1 -27 1 127 1 -146 1 160 1 93 1 -333 1 231 1 46 1 -81 1 87 1 10 1 51 1 154 1 -223 1 -114 1 -12 1 -20 1 181 1 -35 1 12 1 -25 1 130 1 -47 1 -8 1 -159 1 33 1 -92 1 61 1 69 1 -123 1 54 1 248 1 -206 1 -123 1 23 1 108 1 87 1 -87 1 89 1 -52 1 -134 1 200 1 -139 1 218 1 -231 1 41 1 -37 1 25 1 68 1 -61 1 128 1 -71 1 108 1 -142 1 114 1 -8 1 -126 1 250 1 -96 1 -90 1 -70 1 11 1 -9 1 43 1 -133 1 111 1 -62 1 212 1 -84 1 84 1 67 1 -178 1 143 1 -153 1 24 1 -148 1 96 1 126 1 -88 1 -81 1 35 1 -69 1 5 1 -71 1 237 1 -1 1 -113 1 -115 1 103 1 209 1 -311 1 76 1 3 1 119 1 -194 1 143 1 -101 1 43 1 -80 1 162 1 -95 1 -9 1 157 1 -70 1 188 1 -181 1 -32 1 4 1 245 1 -141 1 -143 1 57 1 -79 1 110 1 -108 1 -6 1 93 1 85 1 -47 1 -10 1 -66 1 -229 1 209 1 -4 1 69 1 114 1 -93 1 -234 1 165 1 -25 1 89 1 -73 1 -173 1 94 1 54 1 -162 1 180 1 -16 1 127 1 -112 1 -47 1 46 1 13 1 89 1 -180 1 -122 1 469 1 -188 1 -67 1 223 1 -334 1 32 1 33 1 87 1 -89 1 116 1 -106 1 154 1 -78 1 -200 1 153 1 -105 1 94 1 13 1 210 1 -232 1 -130 1 161 1 -119 1 281 1 -106 1 81 1 -185 1 -61 1 125 1 -157 1 39 1 19 1 57 1 -129 1 -51 1 328 1 -186 1 34 1 74 1 -15 1 -103 1 19 1 194 1 -33 1 -48 1 86 1 -334 1 190 1 -39 1 -155 1 214 1 29 1 -37 1 -195 1 150 1 41 1 -43 1 49 1 21 1 87 1 -112 1 227 1 -228 1 6 1 47 1 -81 1 -23 1 148 1 -320 1 35 1 364 1 -127 1 -18 1 -23 1 -2 1 -116 1 63 1 -70 1 206 1 -49 1 -37 1 14 1 -50 1 -96 1 270 1 -99 1 -78 1 72 1 65 1 -9 1 -49 1 16 1 -100 1 150 1 -38 1 0 1 -213 1 184 1 3 1 12 1 -321 1 68 1 204 1 -117 1 127 1 -46 1 90 1 -134 1 -48 1 150 1 -76 1 -85 1 -76 1 486 1 -333 1 12 1 -164 1 90 1 82 1 46 1 43 1 -145 1 117 1 64 1 -158 1 42 1 -165 1 94 1 -53 1 195 1 -81 1 169 1 -133 1 59 1 -27 1 -30 1 -121 1 260 1 -166 1 -166 1 120 1 -50 1 218 1 -12 1 47 1 62 1 -270 1 -118 1 91 1 129 1 -298 1 202 1 138 1 -162 1 71 1 -76 1 255 1 20 1 -284 1 16 1 95 1 55 1 -25 1 23 1 33 1 23 1 66 1 -162 1 -61 1 39 1 223 1 -133 1 -12 1 62 1 -10 1 109 1 -305 1 98 1 53 1 7 1 -116 1 -119 1 130 1 -40 1 56 1 117 1 -39 1 -177 1 38 1 91 1 91 1 -116 1 27 1 -167 1 99 1 -29 1 95 1 -45 1 -59 1 -20 1 124 1 -83 1 172 1 -94 1 -41 1 113 1 -202 1 203 1 -157 1 139 1 -135 1 -26 1 -86 1 182 1 42 1 -181 1 306 1 -172 1 -107 1 297 1 -228 1 180 1 -411 1 478 1 -188 1 -19 1 32 1 -142 1 200 1 -46 1 -11 1 -86 1 -57 1 147 1 44 1 -65 1 -32 1 -31 1 119 1 71 1 -154 1 -66 1 318 1 -385 1 174 1 -34 1 136 1 -139 1 -146 1 51 1 120 1 -13 1 -61 1 11 1 -96 1 8 1 82 1 -5 1 52 1 -98 1 262 1 -316 1 251 1 -30 1 100 1 -19 1 -258 1 161 1 39 1 18 1 -40 1 -103 1 178 1 -134 1 -35 1 65 1 -60 1 -20 1 75 1 240 1 -220 1 -22 1 -50 1 77 1 -146 1 159 1 -20 1 -17 1 38 1 -64 1 82 1 -11 1 2 1 -52 1 84 1 -101 1 140 1 -133 1 133 1 -97 1 -27 1 -92 1 156 1 -25 1 -30 1 35 1 -26 1 -99 1 -24 1 172 1 -43 1 128 1 47 1 -112 1 -17 1 -7 1 -43 1 -71 1 -189 1 324 1 -17 1 -52 1 9 1 81 1 -5 1 -68 1 -42 1 81 1 19 1 135 1 -296 1 134 1 -131 1 41 1 267 1 -263 1 28 1 -42 1 137 1 -122 1 -118 1 172 1 66 1 -81 1 18 1 -81 1 -23 1 90 1 -109 1 67 1 -52 1 72 1 98 1 -79 1 112 1 -73 1 -47 1 -74 1 96 1 -120 1 183 1 -200 1 -4 1 51 1 -78 1 170 1 -84 1 30 1 103 1 -269 1 187 1 58 1 64 1 -85 1 -76 1 153 1 0 1 123 1 -6 1 -224 1 150 1 -110 1 -117 1 165 1 57 1 -348 1 351 1 -206 1 233 1 -131 1 -7 1 119 1 -165 1 231 1 -290 1 34 1 -46 1 155 1 -58 1 83 1 28 1 -28 1 27 1 1 1 -112 1 -62 1 -23 1 165 1 -122 1 -42 1 13 1 59 1 43 1 -46 1 -74 1 150 1 -264 1 181 1 130 1 -74 1 88 1 -103 1 45 1 -51 1 -45 1 77 1 56 1 -279 1 109 1 -122 1 111 1 -34 1 76 1 18 1 119 1 26 1 -194 1 30 1 106 1 -120 1 23 1 -137 1 245 1 -44 1 -116 1 -34 1 24 1 143 1 -87 1 -70 1 85 1 113 1 38 1 9 1 -115 1 14 1 3 1 36 1 -6 1 -147 1 22 1 33 1 104 1 -115 1 -24 1 169 1 42 1 -224 1 73 1 123 1 -147 1 125 1 -221 1 114 1 83 1 83 1 -55 1 -243 1 8 1 63 1 161 1 -10 1 34 1 -37 1 -119 1 18 1 -48 1 163 1 -198 1 126 1 17 1 93 1 -188 1 110 1 -132 1 192 1 -132 1 6 1 -61 1 33 1 -4 1 4 1 167 1 -202 1 116 1 56 1 -186 1 -96 1 248 1 -200 1 83 1 64 1 35 1 -51 1 -41 1 160 1 -72 1 160 1 -266 1 77 1 4 1 55 1 -29 1 -19 1 182 1 -199 1 57 1 -24 1 -75 1 128 1 -246 1 284 1 -254 1 117 1 39 1 -56 1 -3 1 162 1 113 1 -127 1 -83 1 -74 1 -13 1 186 1 -29 1 40 1 -30 1 31 1 -181 1 -18 1 -21 1 93 1 -16 1 29 1 -124 1 130 1 59 1 -68 1 -260 1 251 1 -32 1 120 1 -101 1 75 1 -96 1 67 1 61 1 -117 1 55 1 -14 1 42 1 -68 1 56 1 -216 1 150 1 99 1 -15 1 -153 1 16 1 112 1 -4 1 10 1 -37 1 4 1 87 1 -184 1 -42 1 224 1 -166 1 136 1 -128 1 -39 1 247 1 -151 1 -124 1 110 1 5 1 -4 1 35 1 -123 1 81 1 68 1 16 1 -49 1 -83 1 -109 1 320 1 -240 1 62 1 43 1 40 1 -43 1 -74 1 73 1 196 1 40 1 -253 1 81 1 -223 1 183 1 46 1 -94 1 198 1 -88 1 -24 1 -301 1 187 1 123 1 -112 1 -118 1 110 1 195 1 -78 1 18 1 -63 1 133 1 -411 1 149 1 290 1 -80 1 -76 1 -54 1 -137 1 129 1 27 1 -73 1 214 1 -32 1 -122 1 110 1 -88 1 29 1 -70 1 276 1 -370 1 126 1 109 1 -1 1 -246 1 63 1 79 1 -66 1 12 1 39 1 9 1 117 1 -261 1 257 1 -120 1 75 1 -86 1 251 1 -387 1 278 1 -152 1 20 1 154 1 -152 1 104 1 50 1 -190 1 243 1 -71 1 -138 1 42 1 -88 1 94 1 54 1 12 1 -73 1 -69 1 -12 1 -30 1 63 1 82 1 -110 1 -10 1 -35 1 151 1 -77 1 -127 1 253 1 -4 1 -97 1 -35 1 29 1 -83 1 179 1 35 1 -33 1 -74 1 -1 1 28 1 109 1 -233 1 72 1 -63 1 -49 1 144 1 74 1 -204 1 189 1 -29 1 -20 1 83 1 -188 1 211 1 -183 1 83 1 -194 1 233 1 -88 1 -55 1 -44 1 114 1 105 1 -75 1 -81 1 -40 1 -26 1 66 1 -119 1 114 1 136 1 -108 1 -9 1 -41 1 121 1 -8 1 73 1 -197 1 -39 1 47 1 -59 1 109 1 -35 1 -41 1 75 1 98 1 -27 1 -125 1 61 1 25 1 32 1 -93 1 -88 1 151 1 -122 1 55 1 9 1 110 1 -129 1 58 1 -35 1 -31 1 132 1 -125 1 87 1 -18 1 -198 1 18 1 -140 1 320 1 -4 1 -73 1 0 1 19 1 -29 1 54 1 0 1 -79 1 214 1 -38 1 -132 1 239 1 26 1 -113 1 -4 1 -165 1 25 1 -117 1 107 1 129 1 -128 1 -118 1 304 1 33 1 -42 1 -282 1 218 1 -153 1 64 1 77 1 77 1 -200 1 26 1 -85 1 117 1 -91 1 44 1 117 1 -72 1 12 1 15 1 48 1 54 1 -237 1 -42 1 198 1 16 1 65 1 -57 1 88 1 -114 1 -106 1 152 1 -177 1 19 1 102 1 -62 1 110 1 -121 1 204 1 -265 1 161 1 -109 1 174 1 -185 1 125 1 -366 1 226 1 222 1 -136 1 -10 1 74 1 142 1 -327 1 95 1 -35 1 108 1 -132 1 -80 1 4 1 203 1 -42 1 60 1 -229 1 65 1 33 1 130 1 -38 1 -57 1 -78 1 111 1 -62 1 127 1 80 1 -152 1 -116 1 326 1 -162 1 -10 1 -39 1 5 1 -7 1 15 1 -164 1 73 1 58 1 22 1 4 1 22 1 -210 1 80 1 27 1 75 1 -31 1 203 1 -221 1 13 1 -122 1 314 1 -162 1 -19 1 -49 1 68 1 -41 1 146 1 -189 1 35 1 -10 1 105 1 -24 1 60 1 -41 1 3 1 -49 1 79 1 -39 1 -14 1 -181 1 106 1 -21 1 -105 1 291 1 13 1 -34 1 -48 1 85 1 -295 1 274 1 -307 1 203 1 -4 1 37 1 13 1 5 1 -132 1 2 1 -15 1 90 1 -45 1 -116 1 237 1 -195 1 60 1 -24 1 0 1 123 1 -119 1 -69 1 72 1 -35 1 -47 1 228 1 22 1 -242 1 280 1 25 1 -300 1 168 1 -65 1 103 1 -351 1 331 1 -92 1 78 1 38 1 -302 1 215 1 4 1 56 1 50 1 -35 1 -143 1 138 1 -137 1 142 1 -88 1 0 1 29 1 -161 1 118 1 -81 1 197 1 32 1 -253 1 -74 1 230 1 -75 1 -34 1 299 1 -251 1 -57 1 70 1 52 1 120 1 -118 1 -145 1 70 1 217 1 -333 1 157 1 114 1 -85 1 -45 1 -62 1 97 1 34 1 -28 1 74 1 -76 1 101 1 -107 1 71 1 -114 1 192 1 -46 1 -52 1 -156 1 109 1 -291 1 240 1 49 1 -96 1 95 1 47 1 106 1 -166 1 -148 1 -72 1 203 1 99 1 20 1 -95 1 -71 1 -4 1 53 1 21 1 47 1 -44 1 175 1 -172 1 31 1 51 1 -9 1 -148 1 -91 1 30 1 155 1 21 1 -23 1 41 1 47 1 -192 1 310 1 9 1 -176 1 -87 1 40 1 -155 1 133 1 -78 1 67 1 -21 1 221 1 -272 1 109 1 -66 1 185 1 -49 1 -241 1 50 1 118 1 -84 1 99 1 -34 1 -108 1 73 1 72 1 -51 1 19 1 22 1 -46 1 136 1 -243 1 162 1 -93 1 86 1 41 1 -19 1 3 1 8 1 -21 1 -71 1 89 1 23 1 -10 1 -55 1 0 1 -211 1 108 1 58 1 111 1 18 1 -98 1 -118 1 150 1 46 1 -21 1 -136 1 -35 1 16 1 -16 1 193 1 -64 1 171 1 -47 1 -60 1 -157 1 125 1 -20 1 -173 1 13 1 49 1 186 1 -154 1 -93 1 137 1 48 1 -169 1 291 1 -248 1 168 1 -35 1 -132 1 57 1 12 1 -35 1 104 1 -65 1 -167 1 170 1 -116 1 85 1 43 1 -32 1 106 1 -103 1 -41 1 202 1 -85 1 -81 1 13 1 -39 1 45 1 -97 1 254 1 -49 1 -325 1 120 1 85 1 -56 1 -139 1 264 1 -176 1 174 1 -21 1 100 1 -226 1 254 1 -285 1 254 1 -40 1 -59 1 -142 1 252 1 -75 1 -231 1 -88 1 181 1 -19 1 147 1 -53 1 16 1 -77 1 136 1 -142 1 -88 1 -83 1 273 1 -106 1 -103 1 78 1 46 1 101 1 -264 1 161 1 108 1 -25 1 32 1 109 1 -265 1 24 1 157 1 51 1 -119 1 -62 1 -78 1 167 1 -26 1 -133 1 52 1 -43 1 146 1 -68 1 130 1 10 1 -95 1 81 1 -14 1 43 1 -184 1 103 1 114 1 -110 1 -101 1 62 1 192 1 -251 1 -22 1 144 1 -120 1 -112 1 -1 1 149 1 -60 1 197 1 -194 1 -74 1 58 1 -44 1 226 1 -183 1 214 1 -88 1 138 1 -200 1 89 1 -276 1 152 1 -26 1 179 1 -121 1 76 1 -131 1 -54 1 114 1 130 1 -127 1 153 1 -179 1 -3 1 0 1 9 1 -40 1 42 1 -54 1 -21 1 241 1 -61 1 -111 1 -28 1 -91 1 203 1 -119 1 245 1 -345 1 196 1 82 1 -165 1 242 1 -97 1 -1 1 -174 1 178 1 -2 1 -82 1 156 1 -137 1 -245 1 246 1 133 1 -222 1 127 1 -130 1 59 1 -255 1 85 1 142 1 -27 1 -121 1 242 1 -34 1 -116 1 -112 1 249 1 -101 1 115 1 38 1 -140 1 10 1 93 1 -96 1 -163 1 243 1 -28 1 -84 1 102 1 -85 1 -3 1 113 1 -206 1 -23 1 138 1 -110 1 206 1 -152 1 -94 1 126 1 -173 1 340 1 -132 1 67 1 -16 1 -30 1 -117 1 173 1 -106 1 -41 1 -120 1 313 1 -143 1 -17 1 -141 1 268 1 -98 1 105 1 -98 1 -77 1 134 1 -202 1 2 1 140 1 76 1 35 1 -114 1 -2 1 30 1 -39 1 -27 1 94 1 -95 1 27 1 133 1 -91 1 -70 1 114 1 -79 1 77 1 -144 1 8 1 -62 1 240 1 26 1 -20 1 -78 1 -15 1 -41 1 77 1 -72 1 -78 1 188 1 -9 1 -35 1 -55 1 -30 1 44 1 11 1 -129 1 67 1 -57 1 203 1 -230 1 13 1 30 1 98 1 -102 1 250 1 -95 1 -292 1 244 1 12 1 -151 1 110 1 16 1 -68 1 50 1 41 1 -79 1 42 1 -107 1 171 1 -118 1 173 1 78 1 -35 1 -200 1 83 1 -64 1 67 1 -120 1 -18 1 90 1 -70 1 189 1 -47 1 -36 1 -45 1 -2 1 106 1 -83 1 -6 1 173 1 -161 1 -37 1 3 1 140 1 -165 1 2 1 146 1 7 1 23 1 -212 1 121 1 -94 1 92 1 -186 1 129 1 119 1 -82 1 -243 1 317 1 -58 1 -60 1 25 1 -29 1 137 1 -110 1 -147 1 70 1 232 1 -47 1 -31 1 -148 1 124 1 46 1 -87 1 59 1 38 1 -9 1 -54 1 1 1 -158 1 87 1 106 1 81 1 -142 1 84 1 -100 1 -91 1 131 1 2 1 -126 1 3 1 85 1 -52 1 94 1 -173 1 202 1 -133 1 90 1 -178 1 233 1 -69 1 178 1 -351 1 -16 1 237 1 17 1 -250 1 216 1 37 1 45 1 -119 1 -156 1 -37 1 376 1 -157 1 53 1 -121 1 8 1 2 1 -68 1 60 1 -76 1 65 1 142 1 -101 1 -66 1 225 1 -40 1 -117 1 -167 1 283 1 2 1 -177 1 188 1 -211 1 53 1 -18 1 60 1 -30 1 147 1 -167 1 74 1 -37 1 19 1 -100 1 74 1 132 1 -52 1 -187 1 72 1 -56 1 26 1 8 1 -55 1 158 1 41 1 -70 1 -59 1 60 1 -86 1 168 1 121 1 -468 1 286 1 -32 1 14 1 -44 1 -114 1 132 1 -30 1 24 1 10 1 -43 1 260 1 -329 1 79 1 -82 1 104 1 159 1 -149 1 -73 1 -46 1 174 1 -117 1 125 1 -123 1 15 1 44 1 -147 1 264 1 -218 1 120 1 28 1 178 1 -176 1 34 1 -125 1 34 1 12 1 101 1 -192 1 130 1 228 1 -355 1 -82 1 123 1 36 1 168 1 -110 1 61 1 -172 1 62 1 31 1 -105 1 105 1 -53 1 48 1 -152 1 -59 1 317 1 -123 1 -13 1 249 1 -145 1 -52 1 -103 1 96 1 -12 1 -46 1 157 1 -62 1 -17 1 -129 1 12 1 167 1 -81 1 -73 1 81 1 -26 1 -43 1 24 1 87 1 -39 1 -111 1 11 1 96 1 -125 1 109 1 -23 1 -109 1 -102 1 144 1 76 1 1 1 116 1 -116 1 -7 1 41 1 -75 1 200 1 -213 1 -27 1 33 1 159 1 -165 1 -18 1 125 1 55 1 -149 1 104 1 -126 1 190 1 -229 1 74 1 -14 1 -46 1 78 1 70 1 -140 1 254 1 -154 1 8 1 -103 1 66 1 88 1 -175 1 29 1 -13 1 -45 1 180 1 -133 1 227 1 -269 1 84 1 36 1 -96 1 -106 1 138 1 58 1 -86 1 113 1 -197 1 200 1 166 1 -105 1 3 1 -125 1 -6 1 144 1 -136 1 91 1 -151 1 127 1 -19 1 -223 1 195 1 64 1 -3 1 -15 1 84 1 -125 1 -65 1 156 1 112 1 -228 1 172 1 -157 1 -121 1 54 1 4 1 188 1 -99 1 -60 1 63 1 118 1 -138 1 -59 1 100 1 -111 1 125 1 45 1 -75 1 -57 1 51 1 -143 1 278 1 73 1 -217 1 -194 1 129 1 -71 1 -40 1 161 1 -2 1 -44 1 162 1 -100 1 -94 1 130 1 -156 1 84 1 -44 1 105 1 -53 1 -29 1 79 1 19 1 -21 1 81 1 -201 1 134 1 119 1 -155 1 -206 1 296 1 -109 1 79 1 -35 1 32 1 56 1 -101 1 61 1 -194 1 38 1 71 1 159 1 -224 1 44 1 95 1 -111 1 -72 1 -62 1 256 1 -178 1 137 1 16 1 -141 1 134 1 -240 1 188 1 -86 1 118 1 -3 1 -1 1 41 1 -118 1 -75 1 20 1 208 1 -190 1 64 1 66 1 -48 1 -77 1 -104 1 283 1 -141 1 -97 1 91 1 65 1 -188 1 196 1 -12 1 41 1 -41 1 -94 1 -59 1 134 1 -31 1 191 1 -169 1 65 1 -33 1 -168 1 233 1 -113 1 -92 1 173 1 77 1 -126 1 -16 1 -33 1 20 1 143 1 -96 1 32 1 14 1 -325 1 287 1 38 1 -33 1 -158 1 65 1 136 1 -25 1 3 1 -147 1 131 1 109 1 -130 1 121 1 -45 1 -4 1 -138 1 2 1 -2 1 169 1 9 1 -212 1 -23 1 131 1 110 1 -96 1 33 1 -14 1 9 1 -66 1 57 1 19 1 -73 1 165 1 -253 1 63 1 -43 1 177 1 2 1 -170 1 76 1 -48 1 -84 1 51 1 105 1 22 1 -120 1 67 1 77 1 51 1 -95 1 -107 1 -70 1 152 1 -35 1 -25 1 -10 1 12 1 66 1 48 1 -137 1 246 1 -40 1 -153 1 51 1 111 1 -223 1 27 1 1 1 -37 1 159 1 -86 1 30 1 -2 1 -26 1 158 1 -154 1 -64 1 -47 1 64 1 80 1 -2 1 11 1 -65 1 79 1 2 1 -152 1 147 1 2 1 -64 1 126 1 -95 1 -74 1 155 1 77 1 -269 1 100 1 87 1 -24 1 37 1 27 1 -284 1 227 1 -212 1 62 1 -12 1 143 1 -196 1 162 1 -148 1 322 1 -232 1 47 1 -107 1 56 1 173 1 -97 1 -130 1 61 1 31 1 177 1 -173 1 52 1 57 1 122 1 -160 1 -158 1 8 1 248 1 -119 1 -215 1 130 1 5 1 11 1 91 1 3 1 61 1 -298 1 202 1 -46 1 -79 1 176 1 -200 1 -6 1 278 1 -111 1 38 1 46 1 -240 1 245 1 -117 1 40 1 26 1 -16 1 -94 1 34 1 17 1 82 1 -302 1 336 1 -217 1 288 1 -157 1 118 1 -183 1 182 1 -122 1 0 1 4 1 -273 1 93 1 -13 1 159 1 -29 1 98 1 -44 1 83 1 -181 1 98 1 -79 1 -62 1 -56 1 155 1 -77 1 37 1 -40 1 -13 1 365 1 -259 1 -126 1 104 1 20 1 -139 1 236 1 -185 1 135 1 -92 1 -32 1 376 1 -358 1 -86 1 94 1 -45 1 195 1 -61 1 -151 1 276 1 -187 1 -101 1 225 1 -41 1 -156 1 -10 1 91 1 -48 1 114 1 -25 1 -137 1 10 1 78 1 145 1 -181 1 116 1 -116 1 101 1 -94 1 93 1 -123 1 14 1 251 1 -94 1 -205 1 228 1 -126 1 143 1 -253 1 117 1 -31 1 -25 1 -43 1 292 1 -183 1 -29 1 -125 1 261 1 1 1 -122 1 -113 1 184 1 -54 1 -136 1 333 1 -127 1 -162 1 18 1 150 1 39 1 -56 1 -6 1 -84 1 231 1 -220 1 48 1 15 1 -62 1 100 1 73 1 -354 1 190 1 138 1 15 1 -176 1 107 1 -45 1 -3 1 -73 1 154 1 19 1 37 1 -124 1 -12 1 94 1 206 1 -333 1 14 1 174 1 -272 1 -131 1 331 1 39 1 -6 1 -29 1 9 1 -168 1 164 1 -192 1 -54 1 127 1 -100 1 18 1 42 1 22 1 53 1 -109 1 40 1 41 1 30 1 30 1 28 1 -51 1 22 1 21 1 -65 1 19 1 -102 1 107 1 71 1 -153 1 185 1 -171 1 149 1 57 1 -136 1 -58 1 80 1 -80 1 -47 1 183 1 -277 1 265 1 -158 1 161 1 -135 1 220 1 -219 1 -163 1 486 1 -272 1 -15 1 12 1 -29 1 58 1 -99 1 277 1 -271 1 127 1 66 1 -147 1 103 1 -132 1 -43 1 19 1 177 1 -3 1 -184 1 182 1 -181 1 103 1 49 1 -259 1 252 1 -87 1 -110 1 203 1 -37 1 7 1 -59 1 -37 1 -61 1 102 1 -77 1 58 1 80 1 37 1 -35 1 -13 1 -52 1 115 1 22 1 -157 1 6 1 -51 1 65 1 -13 1 225 1 -56 1 -255 1 201 1 -95 1 -141 1 188 1 -88 1 94 1 20 1 -110 1 202 1 -127 1 -86 1 -80 1 363 1 -284 1 82 1 21 1 57 1 -211 1 -102 1 240 1 -151 1 115 1 220 1 -249 1 119 1 -168 1 386 1 -316 1 73 1 -50 1 -44 1 158 1 -122 1 -64 1 36 1 22 1 37 1 4 1 -89 1 29 1 243 1 -219 1 152 1 -170 1 76 1 -93 1 -127 1 134 1 135 1 37 1 -18 1 -153 1 21 1 -77 1 134 1 52 1 -56 1 -91 1 109 1 -29 1 37 1 -62 1 37 1 -87 1 -10 1 -159 1 259 1 -4 1 -105 1 236 1 -29 1 47 1 -171 1 -13 1 56 1 57 1 56 1 -232 1 75 1 -175 1 167 1 112 1 -21 1 159 1 -158 1 -104 1 -31 1 97 1 132 1 -274 1 29 1 98 1 -39 1 117 1 -128 1 49 1 -5 1 22 1 109 1 -251 1 -41 1 23 1 114 1 39 1 40 1 -20 1 -17 1 -180 1 106 1 104 1 -157 1 71 1 5 1 88 1 -129 1 -74 1 124 1 7 1 107 1 -135 1 35 1 -27 1 4 1 242 1 -435 1 296 1 -131 1 83 1 -152 1 165 1 -95 1 130 1 76 1 -246 1 -34 1 261 1 77 1 -184 1 -196 1 49 1 238 1 76 1 -177 1 -115 1 237 1 -237 1 64 1 5 1 0 1 112 1 -143 1 107 1 89 1 0 1 25 1 -162 1 -126 1 180 1 4 1 6 1 -63 1 80 1 -140 1 175 1 90 1 -153 1 -8 1 56 1 -8 1 3 1 -35 1 -45 1 175 1 -261 1 220 1 -187 1 126 1 -135 1 -55 1 48 1 6 1 218 1 -183 1 -9 1 -26 1 90 1 1 1 55 1 -118 1 -48 1 108 1 88 1 -11 1 -164 1 47 1 78 1 -85 1 -77 1 150 1 -51 1 61 1 53 1 -126 1 -60 1 35 1 145 1 -63 1 64 1 -105 1 102 1 -114 1 -15 1 60 1 -11 1 -10 1 27 1 86 1 -153 1 -101 1 204 1 138 1 -78 1 -210 1 155 1 62 1 -20 1 87 1 -91 1 -341 1 316 1 -126 1 -14 1 -74 1 41 1 86 1 138 1 4 1 -44 1 54 1 -153 1 -42 1 259 1 -135 1 -77 1 104 1 -140 1 219 1 -272 1 73 1 34 1 -1 1 -99 1 199 1 -22 1 -53 1 49 1 -97 1 135 1 -145 1 -46 1 84 1 -2 1 52 1 31 1 97 1 -285 1 -24 1 177 1 97 1 -26 1 -106 1 -12 1 -4 1 194 1 -185 1 50 1 -145 1 202 1 -99 1 -12 1 -2 1 16 1 266 1 -196 1 5 1 -133 1 -61 1 -69 1 147 1 71 1 6 1 -157 1 197 1 -113 1 158 1 -129 1 28 1 -72 1 5 1 67 1 51 1 14 1 -133 1 -50 1 156 1 80 1 -165 1 6 1 -2 1 73 1 59 1 -177 1 128 1 94 1 -78 1 -127 1 -63 1 138 1 123 1 -51 1 60 1 -168 1 40 1 -80 1 126 1 -69 1 -55 1 38 1 88 1 30 1 -9 1 144 1 -146 1 -155 1 186 1 -179 1 -23 1 169 1 -121 1 55 1 -47 1 29 1 -143 1 245 1 30 1 -136 1 138 1 -35 1 31 1 27 1 -251 1 189 1 -89 1 84 1 -95 1 216 1 -37 1 -155 1 43 1 -20 1 2 1 63 1 -177 1 -41 1 235 1 -72 1 -74 1 -20 1 -75 1 111 1 -134 1 172 1 13 1 -89 1 156 1 -24 1 -52 1 -88 1 8 1 -28 1 -94 1 181 1 67 1 -209 1 173 1 -56 1 33 1 55 1 19 1 -149 1 132 1 -109 1 -200 1 427 1 -186 1 -33 1 154 1 -83 1 -95 1 72 1 10 1 -49 1 -203 1 235 1 -102 1 -10 1 101 1 196 1 -312 1 140 1 -168 1 -12 1 116 1 119 1 -60 1 0 1 88 1 -69 1 -101 1 -34 1 60 1 61 1 -64 1 8 1 -30 1 -23 1 -38 1 38 1 240 1 -66 1 28 1 -118 1 -23 1 87 1 -111 1 141 1 -94 1 61 1 -147 1 242 1 -151 1 43 1 -132 1 5 1 129 1 -219 1 269 1 -172 1 145 1 -151 1 56 1 12 1 77 1 -165 1 131 1 -25 1 45 1 -151 1 78 1 -69 1 32 1 136 1 10 1 -198 1 71 1 8 1 -82 1 52 1 -64 1 151 1 -141 1 220 1 -315 1 236 1 3 1 -118 1 -98 1 174 1 -131 1 215 1 -92 1 -12 1 12 1 59 1 -73 1 53 1 -17 1 -83 1 150 1 46 1 -46 1 -92 1 51 1 -162 1 22 1 -6 1 27 1 131 1 -154 1 17 1 -81 1 75 1 -91 1 237 1 -98 1 100 1 40 1 -83 1 -13 1 -19 1 -52 1 -162 1 218 1 -82 1 -28 1 38 1 51 1 66 1 -156 1 -25 1 215 1 -48 1 22 1 -99 1 -104 1 250 1 -7 1 -171 1 93 1 63 1 128 1 -118 1 -60 1 -72 1 -22 1 36 1 -55 1 119 1 -46 1 -34 1 -72 1 103 1 -41 1 66 1 -123 1 149 1 -73 1 187 1 -248 1 252 1 86 1 -270 1 191 1 -83 1 -217 1 61 1 145 1 -65 1 52 1 -41 1 95 1 -157 1 -76 1 36 1 58 1 -81 1 80 1 -17 1 -10 1 24 1 -32 1 126 1 -82 1 61 1 -204 1 135 1 -47 1 -137 1 368 1 -310 1 196 1 -7 1 37 1 -147 1 -196 1 294 1 -69 1 70 1 -75 1 133 1 -72 1 -80 1 254 1 -277 1 -148 1 213 1 33 1 8 1 -103 1 48 1 -77 1 39 1 99 1 -110 1 114 1 -89 1 30 1 -38 1 135 1 -96 1 -83 1 83 1 97 1 -85 1 -123 1 27 1 -26 1 220 1 -109 1 63 1 -5 1 -107 1 131 1 -113 1 40 1 -217 1 176 1 -30 1 -33 1 88 1 -136 1 91 1 -212 1 214 1 -44 1 223 1 -143 1 37 1 -326 1 230 1 -69 1 229 1 -33 1 -78 1 3 1 -6 1 -15 1 64 1 -6 1 -69 1 -53 1 216 1 -189 1 -28 1 281 1 -204 1 -24 1 -112 1 30 1 222 1 -156 1 136 1 -206 1 176 1 -62 1 -52 1 -125 1 288 1 -111 1 -15 1 84 1 -174 1 224 1 -57 1 -22 1 4 1 -118 1 46 1 57 1 -89 1 173 1 -50 1 53 1 -268 1 281 1 -188 1 -26 1 43 1 158 1 -89 1 -5 1 58 1 4 1 6 1 -20 1 -59 1 19 1 -174 1 112 1 -190 1 194 1 18 1 -80 1 21 1 145 1 -130 1 33 1 174 1 -146 1 54 1 -44 1 11 1 51 1 -125 1 89 1 -114 1 6 1 94 1 -114 1 -185 1 219 1 139 1 -212 1 146 1 -89 1 -106 1 110 1 -182 1 319 1 -146 1 70 1 -36 1 -136 1 99 1 144 1 -34 1 -109 1 -33 1 59 1 -113 1 142 1 -173 1 81 1 145 1 -78 1 -60 1 73 1 -38 1 47 1 76 1 -108 1 -147 1 194 1 -112 1 178 1 -16 1 -91 1 43 1 -176 1 -25 1 127 1 63 1 92 1 -185 1 -24 1 7 1 9 1 84 1 -147 1 200 1 -190 1 327 1 -219 1 20 1 -160 1 178 1 -201 1 251 1 -136 1 81 1 24 1 39 1 37 1 -20 1 -35 1 -124 1 -48 1 171 1 -38 1 -77 1 42 1 91 1 -4 1 -137 1 -66 1 -55 1 133 1 13 1 -92 1 218 1 76 1 -243 1 137 1 -78 1 63 1 -36 1 -24 1 94 1 -22 1 -102 1 82 1 -99 1 51 1 59 1 -13 1 -184 1 195 1 -163 1 130 1 44 1 -201 1 39 1 172 1 -45 1 -219 1 277 1 -143 1 -51 1 130 1 -81 1 62 1 20 1 198 1 -137 1 -61 1 -15 1 23 1 13 1 -101 1 103 1 -109 1 11 1 44 1 101 1 -18 1 -345 1 381 1 -105 1 2 1 126 1 -199 1 -30 1 -85 1 73 1 183 1 -149 1 -21 1 131 1 -129 1 24 1 -5 1 110 1 -99 1 17 1 29 1 -151 1 145 1 -142 1 55 1 66 1 54 1 -34 1 120 1 -86 1 42 1 -96 1 -15 1 212 1 -302 1 256 1 -175 1 130 1 -179 1 163 1 -16 1 -221 1 134 1 118 1 34 1 -65 1 -79 1 48 1 -114 1 28 1 111 1 -20 1 65 1 -48 1 37 1 -62 1 66 1 168 1 -313 1 103 1 -55 1 88 1 -2 1 -116 1 89 1 5 1 -29 1 40 1 98 1 -71 1 -78 1 46 1 160 1 -238 1 159 1 -162 1 -85 1 83 1 94 1 -52 1 -42 1 -7 1 -16 1 -9 1 41 1 -171 1 266 1 -12 1 -17 1 74 1 -137 1 54 1 -237 1 255 1 -54 1 92 1 23 1 -94 1 -98 1 146 1 46 1 7 1 -131 1 -36 1 59 1 -69 1 -102 1 230 1 7 1 20 1 -138 1 75 1 -107 1 -24 1 177 1 -208 1 135 1 246 1 -104 1 -49 1 -5 1 -74 1 -35 1 238 1 -201 1 -36 1 115 1 -65 1 124 1 -176 1 -17 1 39 1 183 1 -60 1 -60 1 -16 1 24 1 -119 1 135 1 -91 1 67 1 -19 1 26 1 -69 1 129 1 -53 1 -103 1 111 1 -71 1 67 1 42 1 -121 1 42 1 10 1 -2 1 182 1 -153 1 -135 1 114 1 -59 1 272 1 -279 1 -43 1 168 1 -114 1 14 1 14 1 -40 1 24 1 -162 1 192 1 68 1 112 1 -163 1 70 1 -141 1 199 1 72 1 -173 1 -60 1 36 1 137 1 -254 1 230 1 -206 1 16 1 100 1 35 1 30 1 42 1 -232 1 110 1 64 1 -45 1 78 1 -98 1 -30 1 -177 1 34 1 243 1 -176 1 133 1 32 1 -70 1 104 1 -151 1 113 1 -64 1 -124 1 -47 1 166 1 166 1 -42 1 -62 1 30 1 10 1 -104 1 142 1 -95 1 -70 1 399 1 -291 1 -71 1 82 1 -181 1 0 1 287 1 -118 1 -155 1 -49 1 138 1 -85 1 217 1 -298 1 289 1 -205 1 -21 1 118 1 -119 1 62 1 3 1 -171 1 114 1 141 1 -222 1 65 1 41 1 170 1 0 1 53 1 -225 1 164 1 -53 1 -141 1 168 1 -48 1 -61 1 -38 1 -49 1 196 1 -5 1 -67 1 -9 1 -19 1 126 1 -52 1 -182 1 173 1 36 1 -99 1 12 1 -10 1 113 1 -95 1 34 1 11 1 136 1 -282 1 355 1 -327 1 92 1 -54 1 87 1 39 1 166 1 -106 1 -172 1 83 1 -9 1 -72 1 117 1 -30 1 -66 1 -22 1 130 1 -77 1 122 1 -30 1 -192 1 -82 1 199 1 -67 1 -33 1 30 1 201 1 -154 1 197 1 -104 1 -233 1 203 1 97 1 -303 1 48 1 108 1 -41 1 209 1 -237 1 238 1 -288 1 51 1 111 1 18 1 -34 1 136 1 20 1 14 1 -191 1 90 1 -106 1 159 1 -348 1 155 1 41 1 -25 1 194 1 -278 1 54 1 -35 1 108 1 -81 1 173 1 -4 1 -280 1 -1 1 274 1 -39 1 -185 1 146 1 -112 1 190 1 -197 1 65 1 102 1 -39 1 94 1 -59 1 -178 1 162 1 -127 1 240 1 12 1 -41 1 100 1 -130 1 63 1 -49 1 -6 1 -1 1 -53 1 141 1 -269 1 -45 1 75 1 219 1 -172 1 -51 1 -3 1 122 1 -48 1 117 1 -141 1 115 1 -165 1 131 1 233 1 -301 1 7 1 102 1 -182 1 50 1 -8 1 74 1 -151 1 261 1 -120 1 5 1 -32 1 12 1 -212 1 334 1 -200 1 159 1 -91 1 -5 1 66 1 110 1 -165 1 -45 1 98 1 -274 1 150 1 -12 1 59 1 -94 1 206 1 -107 1 42 1 -11 1 -31 1 -31 1 181 1 -43 1 62 1 -154 1 41 1 8 1 -64 1 27 1 -147 1 40 1 25 1 -21 1 147 1 -6 1 4 1 -62 1 118 1 -9 1 -32 1 -84 1 175 1 -254 1 -41 1 30 1 234 1 -104 1 -63 1 -162 1 195 1 -71 1 -102 1 296 1 -98 1 126 1 -131 1 54 1 -117 1 123 1 -96 1 94 1 -36 1 -122 1 104 1 13 1 -80 1 54 1 97 1 29 1 -109 1 -217 1 281 1 101 1 -193 1 -58 1 108 1 -8 1 62 1 -140 1 220 1 -77 1 -179 1 190 1 -108 1 76 1 -30 1 -29 1 24 1 -68 1 -30 1 47 1 -5 1 63 1 -19 1 -168 1 228 1 -82 1 84 1 -16 1 -38 1 27 1 -186 1 277 1 36 1 -121 1 -107 1 113 1 -96 1 182 1 -192 1 -66 1 31 1 7 1 136 1 -71 1 30 1 -58 1 154 1 -121 1 19 1 126 1 -118 1 -77 1 26 1 128 1 -70 1 -107 1 180 1 -244 1 -64 1 108 1 -84 1 157 1 21 1 -28 1 -29 1 -44 1 183 1 -268 1 249 1 -43 1 -31 1 48 1 -186 1 235 1 -44 1 56 1 -294 1 214 1 -36 1 -201 1 182 1 36 1 -78 1 108 1 17 1 -94 1 9 1 103 1 -162 1 137 1 77 1 -126 1 37 1 -32 1 73 1 -215 1 -19 1 78 1 22 1 147 1 37 1 -73 1 62 1 -154 1 -12 1 -93 1 250 1 -58 1 -54 1 -121 1 30 1 139 1 -46 1 103 1 -85 1 -83 1 -44 1 109 1 151 1 33 1 -253 1 116 1 -115 1 91 1 -286 1 203 1 -109 1 302 1 -171 1 79 1 -40 1 -127 1 181 1 43 1 -80 1 30 1 52 1 -50 1 -64 1 -140 1 72 1 8 1 141 1 54 1 -122 1 90 1 -314 1 247 1 -135 1 197 1 29 1 -12 1 -30 1 32 1 61 1 -214 1 193 1 -175 1 -97 1 183 1 15 1 -40 1 -90 1 117 1 -78 1 248 1 -194 1 5 1 -85 1 103 1 99 1 -221 1 32 1 -143 1 169 1 156 1 -260 1 73 1 -34 1 44 1 -47 1 38 1 -70 1 122 1 70 1 -19 1 -244 1 295 1 -56 1 39 1 -187 1 26 1 118 1 99 1 -250 1 114 1 14 1 -73 1 65 1 -80 1 166 1 -268 1 177 1 -76 1 41 1 -78 1 -193 1 417 1 -73 1 -28 1 -42 1 32 1 -58 1 40 1 118 1 -187 1 -22 1 253 1 -218 1 65 1 -36 1 71 1 4 1 -48 1 -101 1 2 1 94 1 161 1 -333 1 154 1 53 1 -96 1 74 1 -32 1 83 1 79 1 -182 1 56 1 14 1 -27 1 -14 1 -198 1 205 1 -107 1 58 1 79 1 12 1 -94 1 -2 1 17 1 -72 1 240 1 17 1 -178 1 165 1 -77 1 -170 1 183 1 -24 1 -47 1 -149 1 79 1 -157 1 209 1 -25 1 -76 1 -13 1 238 1 -263 1 207 1 -58 1 104 1 -263 1 159 1 104 1 -130 1 -115 1 -50 1 115 1 158 1 47 1 -136 1 76 1 11 1 -37 1 -133 1 144 1 -160 1 103 1 63 1 26 1 -111 1 116 1 36 1 -52 1 -93 1 33 1 -27 1 3 1 62 1 34 1 -100 1 67 1 -45 1 -9 1 -105 1 125 1 -46 1 37 1 66 1 -24 1 -4 1 -112 1 -101 1 111 1 34 1 19 1 106 1 -97 1 103 1 -168 1 -63 1 179 1 -183 1 -41 1 92 1 82 1 70 1 -100 1 82 1 -86 1 -147 1 48 1 -52 1 134 1 -173 1 60 1 54 1 158 1 -34 1 -84 1 53 1 -42 1 273 1 -403 1 -34 1 9 1 45 1 98 1 117 1 -108 1 -3 1 10 1 31 1 -102 1 141 1 -63 1 27 1 27 1 2 1 20 1 -152 1 122 1 -185 1 -50 1 157 1 71 1 6 1 -12 1 45 1 -239 1 111 1 29 1 -53 1 103 1 23 1 -25 1 -18 1 200 1 -204 1 -4 1 108 1 54 1 -247 1 -8 1 213 1 -21 1 -25 1 -100 1 83 1 -188 1 24 1 244 1 -255 1 100 1 71 1 -29 1 -127 1 45 1 106 1 -93 1 189 1 -162 1 176 1 -166 1 113 1 -72 1 -34 1 -129 1 175 1 -46 1 25 1 -82 1 -36 1 -3 1 77 1 92 1 -114 1 -70 1 25 1 -29 1 -45 1 113 1 -25 1 26 1 204 1 -86 1 46 1 -129 1 22 1 -96 1 -88 1 17 1 109 1 76 1 160 1 -210 1 -132 1 104 1 80 1 -151 1 61 1 90 1 -35 1 29 1 -34 1 -7 1 125 1 -42 1 -58 1 25 1 -53 1 0 1 42 1 -18 1 212 1 -208 1 16 1 155 1 -276 1 94 1 104 1 -95 1 -23 1 -72 1 77 1 -66 1 159 1 -44 1 -77 1 130 1 -196 1 14 1 145 1 -43 1 -128 1 35 1 47 1 -38 1 77 1 -29 1 54 1 -50 1 37 1 -71 1 74 1 -4 1 32 1 -33 1 -66 1 29 1 123 1 -141 1 29 1 137 1 -85 1 4 1 -142 1 -1 1 106 1 165 1 -353 1 10 1 202 1 -28 1 -111 1 169 1 -65 1 -60 1 35 1 -41 1 75 1 -90 1 -39 1 37 1 97 1 68 1 -158 1 -35 1 118 1 73 1 -134 1 169 1 -205 1 198 1 -66 1 -214 1 199 1 -67 1 4 1 -50 1 67 1 -61 1 71 1 83 1 27 1 -24 1 -20 1 -40 1 -57 1 -82 1 190 1 -130 1 56 1 -139 1 162 1 84 1 -132 1 89 1 -95 1 28 1 -57 1 -196 1 271 1 11 1 8 1 100 1 -70 1 -41 1 -100 1 319 1 -381 1 86 1 -10 1 141 1 -66 1 18 1 -205 1 110 1 139 1 -138 1 -66 1 130 1 -72 1 53 1 32 1 -120 1 84 1 125 1 -144 1 4 1 -32 1 81 1 17 1 -125 1 90 1 138 1 -297 1 237 1 -9 1 -218 1 -11 1 97 1 175 1 -183 1 61 1 7 1 -18 1 186 1 -153 1 -131 1 132 1 31 1 -155 1 114 1 -72 1 -63 1 36 1 154 1 -88 1 -134 1 214 1 -93 1 -239 1 168 1 -115 1 157 1 305 1 -65 1 -159 1 -102 1 -30 1 39 1 90 1 92 1 -109 1 108 1 -125 1 -178 1 219 1 64 1 -40 1 47 1 -184 1 60 1 27 1 29 1 21 1 37 1 -126 1 -60 1 56 1 22 1 -23 1 -43 1 163 1 9 1 2 1 -20 1 -21 1 -90 1 4 1 63 1 -194 1 190 1 -202 1 346 1 -109 1 -115 1 55 1 -44 1 186 1 -39 1 -92 1 -54 1 100 1 -30 1 -28 1 -43 1 -94 1 17 1 57 1 -82 1 63 1 247 1 -159 1 60 1 -117 1 176 1 -110 1 61 1 27 1 -60 1 136 1 -260 1 54 1 75 1 -54 1 51 1 155 1 -224 1 52 1 -73 1 -27 1 -100 1 218 1 84 1 -124 1 106 1 -231 1 104 1 3 1 81 1 -63 1 45 1 85 1 -235 1 90 1 46 1 -97 1 94 1 -193 1 67 1 69 1 -142 1 361 1 -26 1 -56 1 -38 1 6 1 -107 1 4 1 -165 1 270 1 -102 1 -163 1 104 1 121 1 -193 1 100 1 -151 1 153 1 37 1 -212 1 148 1 111 1 -74 1 167 1 -55 1 26 1 -217 1 26 1 116 1 17 1 -95 1 28 1 -69 1 45 1 80 1 95 1 -80 1 30 1 -74 1 40 1 42 1 -171 1 171 1 -34 1 38 1 -52 1 -102 1 22 1 42 1 -233 1 154 1 20 1 5 1 -41 1 -7 1 72 1 -32 1 176 1 -120 1 -6 1 82 1 -83 1 5 1 108 1 -18 1 -106 1 -100 1 64 1 105 1 -199 1 120 1 24 1 -131 1 244 1 -131 1 -116 1 48 1 129 1 86 1 -97 1 -10 1 -34 1 163 1 -29 1 -261 1 147 1 50 1 -70 1 58 1 19 1 -141 1 198 1 -102 1 82 1 -71 1 -33 1 129 1 -87 1 108 1 -87 1 141 1 -267 1 79 1 -77 1 -29 1 115 1 -150 1 124 1 125 1 -68 1 -97 1 26 1 87 1 76 1 -164 1 35 1 32 1 -60 1 48 1 -7 1 94 1 -172 1 60 1 24 1 -96 1 35 1 28 1 -129 1 87 1 -58 1 56 1 -15 1 17 1 106 1 48 1 -36 1 -147 1 101 1 -142 1 164 1 15 1 -97 1 35 1 69 1 -8 1 -115 1 -15 1 -86 1 120 1 -23 1 53 1 50 1 -175 1 57 1 37 1 -112 1 125 1 -27 1 76 1 28 1 3 1 -85 1 44 1 -3 1 75 1 -257 1 141 1 -46 1 78 1 83 1 -74 1 -7 1 -74 1 91 1 -8 1 -110 1 146 1 -98 1 -147 1 171 1 62 1 -5 1 -29 1 -16 1 63 1 -8 1 -213 1 98 1 73 1 -15 1 80 1 16 1 -76 1 -47 1 187 1 -229 1 67 1 190 1 -125 1 -2 1 -54 1 108 1 153 1 -232 1 -48 1 124 1 66 1 -137 1 -106 1 105 1 -101 1 156 1 -105 1 65 1 -39 1 67 1 -254 1 210 1 -13 1 9 1 -155 1 250 1 -179 1 100 1 -88 1 28 1 -22 1 -104 1 87 1 174 1 -218 1 113 1 -169 1 255 1 -221 1 20 1 90 1 62 1 -166 1 109 1 57 1 -47 1 -70 1 109 1 60 1 107 1 -92 1 -267 1 269 1 -24 1 -65 1 35 1 39 1 -124 1 -87 1 87 1 83 1 -110 1 -8 1 -55 1 162 1 -145 1 78 1 -47 1 183 1 -27 1 117 1 -270 1 -25 1 112 1 -148 1 80 1 105 1 -56 1 72 1 -144 1 25 1 30 1 88 1 24 1 10 1 -100 1 -74 1 27 1 38 1 -139 1 55 1 -73 1 183 1 -7 1 -102 1 169 1 -78 1 -20 1 72 1 -30 1 -125 1 34 1 -68 1 184 1 -65 1 91 1 -145 1 -43 1 207 1 -25 1 -206 1 226 1 -160 1 200 1 -90 1 -100 1 33 1 7 1 -250 1 325 1 -88 1 95 1 -321 1 318 1 -62 1 -103 1 278 1 -103 1 -158 1 12 1 125 1 108 1 -114 1 -85 1 200 1 -215 1 172 1 -58 1 -71 1 -44 1 4 1 49 1 126 1 -130 1 -73 1 199 1 -27 1 -85 1 104 1 -95 1 148 1 -174 1 -57 1 27 1 51 1 2 1 -64 1 4 1 -71 1 69 1 195 1 -164 1 -71 1 28 1 -9 1 58 1 -66 1 181 1 -180 1 52 1 154 1 -134 1 116 1 -130 1 88 1 124 1 -278 1 130 1 -146 1 96 1 -58 1 72 1 -119 1 -83 1 243 1 -43 1 108 1 -99 1 -9 1 -87 1 -47 1 137 1 -118 1 231 1 4 1 -80 1 62 1 -119 1 -41 1 268 1 -241 1 138 1 -189 1 110 1 41 1 -230 1 15 1 73 1 31 1 38 1 -74 1 1 1 -27 1 1 1 127 1 -81 1 -51 1 -8 1 34 1 -74 1 165 1 18 1 -158 1 72 1 16 1 106 1 -140 1 36 1 -63 1 6 1 28 1 360 1 -197 1 -70 1 -7 1 -165 1 51 1 158 1 -67 1 99 1 -100 1 50 1 -40 1 39 1 -15 1 66 1 -148 1 28 1 -43 1 62 1 43 1 -35 1 -185 1 114 1 15 1 19 1 -28 1 24 1 118 1 -29 1 75 1 -279 1 53 1 -19 1 207 1 -27 1 -118 1 4 1 74 1 96 1 21 1 -200 1 141 1 -100 1 164 1 92 1 -187 1 5 1 -292 1 288 1 -209 1 103 1 134 1 -226 1 363 1 -267 1 122 1 -122 1 114 1 -117 1 48 1 -209 1 303 1 -25 1 -96 1 4 1 -72 1 32 1 90 1 6 1 40 1 39 1 -15 1 -54 1 -6 1 -50 1 133 1 -182 1 -5 1 104 1 -163 1 103 1 -111 1 61 1 401 1 -473 1 242 1 -146 1 -51 1 -31 1 193 1 -91 1 36 1 151 1 -278 1 -71 1 209 1 114 1 -111 1 114 1 -24 1 -72 1 -102 1 84 1 92 1 -59 1 -47 1 36 1 -36 1 77 1 -97 1 172 1 -113 1 -20 1 -181 1 -34 1 182 1 -25 1 219 1 -246 1 -21 1 162 1 -261 1 195 1 -128 1 -137 1 90 1 152 1 12 1 -24 1 -60 1 89 1 20 1 -20 1 144 1 -60 1 -175 1 25 1 -27 1 100 1 82 1 50 1 -129 1 -72 1 -42 1 -53 1 310 1 -190 1 -15 1 216 1 -228 1 51 1 48 1 -209 1 45 1 425 1 -266 1 -215 1 128 1 44 1 66 1 -65 1 -99 1 108 1 103 1 -158 1 -51 1 6 1 -112 1 327 1 -84 1 -39 1 25 1 99 1 -150 1 -87 1 223 1 -313 1 179 1 141 1 34 1 -148 1 -1 1 -4 1 -13 1 14 1 139 1 -83 1 113 1 -106 1 -86 1 9 1 226 1 -257 1 151 1 -183 1 139 1 -84 1 -7 1 -39 1 10 1 84 1 112 1 -91 1 -118 1 123 1 -273 1 224 1 216 1 -430 1 192 1 121 1 84 1 -59 1 -156 1 194 1 -7 1 -177 1 39 1 -91 1 55 1 157 1 -237 1 220 1 -79 1 3 1 -90 1 126 1 -84 1 -5 1 -131 1 152 1 -38 1 115 1 -68 1 -20 1 -41 1 -8 1 -11 1 132 1 -201 1 -1 1 161 1 108 1 -102 1 -47 1 213 1 -168 1 -82 1 69 1 77 1 -129 1 110 1 -107 1 45 1 16 1 -258 1 343 1 -61 1 -14 1 -24 1 -40 1 148 1 -126 1 80 1 -239 1 342 1 -164 1 7 1 -122 1 11 1 122 1 -344 1 421 1 -187 1 -5 1 76 1 174 1 -156 1 81 1 -219 1 61 1 138 1 -189 1 -138 1 179 1 30 1 14 1 87 1 -7 1 -100 1 93 1 -63 1 22 1 -99 1 150 1 -92 1 146 1 -245 1 236 1 -214 1 150 1 -144 1 19 1 151 1 -218 1 237 1 111 1 -130 1 -209 1 203 1 -68 1 25 1 -17 1 101 1 60 1 -127 1 101 1 -176 1 266 1 -309 1 -13 1 67 1 111 1 17 1 -238 1 168 1 16 1 201 1 -266 1 -102 1 -26 1 138 1 66 1 -27 1 -28 1 -66 1 70 1 7 1 232 1 -244 1 -93 1 59 1 21 1 -177 1 194 1 19 1 -3 1 -107 1 69 1 51 1 51 1 -49 1 -150 1 187 1 81 1 -168 1 -219 1 322 1 19 1 -95 1 -40 1 146 1 -29 1 -77 1 -15 1 34 1 79 1 -84 1 -122 1 52 1 72 1 21 1 -89 1 123 1 -129 1 150 1 66 1 -80 1 -69 1 45 1 -254 1 335 1 -218 1 -13 1 52 1 -54 1 87 1 -26 1 20 1 114 1 -71 1 -94 1 37 1 -60 1 171 1 -197 1 65 1 191 1 -182 1 44 1 32 1 -199 1 170 1 74 1 -75 1 39 1 -139 1 88 1 -33 1 30 1 -124 1 65 1 102 1 -103 1 109 1 92 1 -117 1 -16 1 49 1 -140 1 36 1 -52 1 22 1 235 1 -228 1 71 1 -31 1 -8 1 13 1 7 1 51 1 -59 1 65 1 -51 1 -13 1 9 1 174 1 -264 1 95 1 77 1 -13 1 -139 1 -10 1 94 1 111 1 -38 1 -73 1 -26 1 12 1 5 1 -112 1 1 1 119 1 179 1 -151 1 -179 1 58 1 93 1 -83 1 111 1 -87 1 -5 1 -48 1 157 1 -8 1 6 1 26 1 -73 1 121 1 -201 1 160 1 -105 1 -6 1 -17 1 112 1 -32 1 81 1 -180 1 101 1 -105 1 134 1 80 1 -212 1 184 1 -189 1 225 1 -119 1 36 1 -148 1 243 1 -154 1 -31 1 129 1 -157 1 45 1 -9 1 -37 1 168 1 54 1 -236 1 227 1 -43 1 -131 1 91 1 122 1 -237 1 7 1 -39 1 277 1 -96 1 -162 1 58 1 73 1 -82 1 127 1 -98 1 107 1 -81 1 -11 1 -73 1 85 1 43 1 -214 1 192 1 65 1 -32 1 -46 1 -54 1 -78 1 16 1 49 1 -63 1 105 1 -54 1 18 1 137 1 -92 1 45 1 -214 1 203 1 -124 1 216 1 -275 1 64 1 141 1 111 1 -313 1 110 1 -46 1 209 1 41 1 -155 1 56 1 -136 1 -45 1 147 1 -85 1 107 1 -93 1 141 1 -130 1 13 1 85 1 -69 1 106 1 -175 1 -29 1 161 1 -35 1 -97 1 -47 1 38 1 55 1 -19 1 -74 1 19 1 124 1 50 1 36 1 -203 1 -28 1 146 1 -78 1 94 1 13 1 -115 1 22 1 -129 1 3 1 199 1 120 1 -332 1 22 1 83 1 105 1 -227 1 165 1 117 1 -318 1 97 1 163 1 36 1 -170 1 149 1 6 1 -205 1 114 1 -42 1 24 1 45 1 -116 1 -69 1 43 1 7 1 97 1 100 1 -128 1 -17 1 18 1 112 1 -78 1 15 1 -63 1 55 1 -30 1 135 1 -96 1 102 1 -67 1 -17 1 -175 1 134 1 -64 1 171 1 -58 1 4 1 -49 1 133 1 -296 1 240 1 -98 1 -55 1 25 1 60 1 30 1 71 1 -157 1 -6 1 157 1 9 1 -191 1 28 1 91 1 -55 1 87 1 -128 1 9 1 331 1 -173 1 45 1 -107 1 -93 1 164 1 32 1 -154 1 -8 1 75 1 -59 1 -127 1 197 1 11 1 -232 1 320 1 -263 1 -10 1 29 1 79 1 -6 1 -146 1 163 1 29 1 -102 1 -147 1 106 1 39 1 131 1 -111 1 84 1 217 1 -257 1 -18 1 100 1 32 1 8 1 -118 1 -118 1 -59 1 94 1 48 1 -80 1 -25 1 103 1 -11 1 -12 1 219 1 -80 1 -205 1 203 1 -97 1 -60 1 19 1 299 1 -257 1 -71 1 67 1 83 1 -56 1 -32 1 -67 1 25 1 -65 1 128 1 45 1 -5 1 -47 1 129 1 -84 1 17 1 -152 1 64 1 -7 1 141 1 -110 1 -4 1 -6 1 163 1 -191 1 -20 1 93 1 -28 1 134 1 -21 1 -76 1 -42 1 17 1 123 1 -85 1 20 1 -280 1 115 1 90 1 73 1 2 1 -51 1 -172 1 171 1 -84 1 -125 1 115 1 45 1 55 1 53 1 -54 1 -16 1 -47 1 45 1 -101 1 169 1 -64 1 95 1 -43 1 -87 1 27 1 5 1 8 1 -239 1 148 1 266 1 -169 1 123 1 -180 1 -93 1 114 1 -5 1 -39 1 182 1 23 1 -196 1 244 1 -95 1 -193 1 204 1 -60 1 -33 1 -149 1 188 1 -112 1 236 1 -262 1 -41 1 179 1 -149 1 245 1 -221 1 151 1 -158 1 44 1 61 1 -78 1 129 1 -129 1 196 1 -48 1 -232 1 335 1 -156 1 -106 1 104 1 -16 1 65 1 4 1 31 1 -227 1 141 1 -82 1 -86 1 70 1 -24 1 133 1 -63 1 60 1 -41 1 21 1 32 1 -119 1 60 1 -1 1 -33 1 -44 1 119 1 32 1 113 1 -153 1 5 1 -125 1 96 1 122 1 69 1 -138 1 108 1 3 1 41 1 -125 1 -126 1 72 1 97 1 -165 1 49 1 -74 1 25 1 -82 1 241 1 -170 1 72 1 37 1 -75 1 -73 1 44 1 -42 1 108 1 -68 1 161 1 -137 1 81 1 -135 1 -79 1 133 1 121 1 2 1 20 1 -149 1 4 1 45 1 -43 1 82 1 27 1 10 1 -161 1 209 1 -312 1 145 1 -20 1 46 1 -22 1 130 1 -176 1 139 1 -172 1 102 1 37 1 55 1 -198 1 -95 1 361 1 -243 1 59 1 11 1 145 1 -62 1 45 1 11 1 -76 1 -67 1 146 1 -32 1 -64 1 -198 1 115 1 96 1 -85 1 132 1 158 1 -236 1 25 1 47 1 84 1 -362 1 151 1 178 1 -135 1 -156 1 209 1 -172 1 208 1 6 1 -126 1 -73 1 156 1 -81 1 6 1 -28 1 10 1 -45 1 168 1 28 1 -185 1 -40 1 190 1 50 1 -70 1 56 1 -32 1 -67 1 -31 1 -47 1 63 1 -156 1 300 1 -240 1 129 1 9 1 -42 1 4 1 -69 1 34 1 109 1 -6 1 -188 1 118 1 -158 1 155 1 15 1 -133 1 260 1 -260 1 239 1 -267 1 221 1 -245 1 130 1 -74 1 149 1 -105 1 57 1 40 1 -114 1 37 1 78 1 -111 1 124 1 -201 1 354 1 -87 1 -238 1 61 1 41 1 85 1 18 1 29 1 10 1 -212 1 119 1 -30 1 70 1 -70 1 -151 1 120 1 277 1 -230 1 110 1 -117 1 -20 1 28 1 -23 1 101 1 -122 1 -131 1 255 1 -32 1 -88 1 24 1 85 1 -35 1 -127 1 218 1 110 1 -235 1 -94 1 192 1 30 1 -211 1 -58 1 15 1 79 1 -56 1 58 1 1 1 -112 1 181 1 98 1 -318 1 165 1 -20 1 -30 1 77 1 -105 1 173 1 -108 1 -64 1 134 1 -30 1 123 1 -118 1 -50 1 212 1 -157 1 14 1 102 1 -187 1 42 1 -62 1 251 1 -260 1 -24 1 -2 1 273 1 -68 1 -164 1 -4 1 284 1 -273 1 62 1 -69 1 297 1 -297 1 -66 1 149 1 10 1 -55 1 -39 1 -104 1 88 1 258 1 -328 1 274 1 95 1 -89 1 -89 1 88 1 -3 1 -241 1 178 1 -144 1 -101 1 284 1 -165 1 100 1 -146 1 215 1 -38 1 -87 1 -55 1 18 1 81 1 -76 1 -34 1 149 1 -21 1 62 1 -14 1 -192 1 122 1 -94 1 -45 1 140 1 -38 1 65 1 -78 1 102 1 -78 1 40 1 74 1 65 1 -196 1 -153 1 42 1 260 1 49 1 -83 1 60 1 -172 1 -17 1 171 1 -48 1 -20 1 7 1 -59 1 -152 1 260 1 -81 1 -92 1 23 1 125 1 -141 1 -44 1 141 1 43 1 8 1 -9 1 -49 1 -45 1 -160 1 164 1 -43 1 209 1 -199 1 77 1 44 1 -178 1 -4 1 226 1 -6 1 -267 1 162 1 118 1 -199 1 78 1 5 1 -43 1 -15 1 -199 1 141 1 72 1 51 1 146 1 63 1 -100 1 -110 1 -119 1 84 1 117 1 -112 1 37 1 94 1 -203 1 20 1 204 1 -86 1 38 1 -63 1 -119 1 217 1 -160 1 84 1 8 1 -11 1 -148 1 151 1 -165 1 150 1 -68 1 177 1 -194 1 40 1 -1 1 -164 1 156 1 17 1 -68 1 57 1 40 1 10 1 16 1 47 1 7 1 -131 1 57 1 -34 1 -40 1 -3 1 -54 1 117 1 71 1 -127 1 -6 1 -40 1 -37 1 20 1 118 1 -170 1 301 1 -74 1 -70 1 -60 1 139 1 -114 1 210 1 -191 1 54 1 -118 1 177 1 -54 1 0 1 109 1 -234 1 -90 1 -11 1 117 1 32 1 -2 1 79 1 54 1 -166 1 180 1 -163 1 -40 1 158 1 12 1 -16 1 -155 1 219 1 -90 1 -108 1 75 1 15 1 -21 1 -50 1 207 1 -199 1 80 1 -39 1 28 1 -172 1 332 1 -46 1 -142 1 109 1 -96 1 67 1 -84 1 -132 1 87 1 2 1 -11 1 -122 1 164 1 73 1 -18 1 -108 1 226 1 -172 1 53 1 -53 1 -55 1 87 1 -99 1 -15 1 -70 1 187 1 40 1 -60 1 -31 1 16 1 94 1 -121 1 41 1 38 1 -44 1 41 1 30 1 -85 1 200 1 -236 1 62 1 23 1 -27 1 -98 1 105 1 -89 1 71 1 63 1 20 1 -70 1 -41 1 237 1 -204 1 174 1 -234 1 92 1 121 1 -222 1 -28 1 195 1 56 1 -69 1 -34 1 -87 1 79 1 47 1 -113 1 -113 1 248 1 -207 1 -15 1 78 1 142 1 -216 1 121 1 164 1 -131 1 -57 1 -53 1 -68 1 266 1 -246 1 133 1 76 1 -142 1 35 1 111 1 -81 1 98 1 -7 1 33 1 -263 1 156 1 -21 1 -24 1 -137 1 140 1 129 1 -28 1 -150 1 53 1 0 1 83 1 -135 1 4 1 -70 1 199 1 99 1 -134 1 19 1 18 1 -174 1 157 1 82 1 -44 1 -110 1 -51 1 8 1 167 1 -161 1 65 1 11 1 -47 1 -57 1 122 1 -107 1 29 1 142 1 -38 1 -261 1 95 1 170 1 -152 1 155 1 23 1 0 1 64 1 -275 1 37 1 35 1 3 1 128 1 -43 1 -116 1 33 1 -68 1 77 1 -89 1 292 1 -97 1 -104 1 18 1 85 1 -73 1 116 1 -99 1 194 1 -148 1 -160 1 8 1 43 1 208 1 -189 1 113 1 -213 1 177 1 -145 1 54 1 43 1 -126 1 338 1 -314 1 57 1 199 1 -69 1 -305 1 258 1 59 1 -189 1 93 1 -68 1 0 1 225 1 -67 1 -165 1 -36 1 180 1 -47 1 -50 1 52 1 -141 1 51 1 0 1 181 1 -115 1 -90 1 25 1 166 1 -66 1 -81 1 16 1 100 1 -94 1 5 1 -40 1 -160 1 276 1 -69 1 90 1 208 1 -314 1 85 1 -87 1 -35 1 -6 1 40 1 37 1 155 1 -125 1 -85 1 141 1 -172 1 147 1 -43 1 -70 1 90 1 61 1 -44 1 -229 1 10 1 149 1 -16 1 -104 1 199 1 -25 1 66 1 -84 1 131 1 -216 1 23 1 96 1 -25 1 -174 1 67 1 126 1 -42 1 -78 1 40 1 12 1 -5 1 61 1 18 1 -131 1 282 1 -183 1 -39 1 183 1 -170 1 -108 1 -13 1 66 1 -4 1 -102 1 123 1 -42 1 194 1 -76 1 -117 1 170 1 -111 1 -164 1 179 1 134 1 -124 1 -63 1 63 1 -60 1 107 1 -28 1 -55 1 104 1 80 1 -123 1 87 1 -42 1 -92 1 22 1 131 1 -99 1 52 1 -230 1 212 1 -228 1 337 1 -149 1 51 1 -141 1 55 1 -93 1 12 1 106 1 -50 1 4 1 11 1 140 1 -33 1 81 1 -193 1 -31 1 75 1 47 1 -196 1 187 1 -86 1 70 1 -14 1 -54 1 -46 1 47 1 124 1 -257 1 172 1 -29 1 -4 1 36 1 21 1 -40 1 121 1 -147 1 225 1 -371 1 319 1 -179 1 -79 1 29 1 36 1 60 1 -22 1 127 1 -133 1 -14 1 -5 1 82 1 -45 1 135 1 -191 1 18 1 -10 1 -30 1 33 1 -44 1 -121 1 42 1 52 1 -136 1 161 1 131 1 -32 1 -175 1 8 1 88 1 -23 1 125 1 -41 1 12 1 -48 1 110 1 -66 1 224 1 -170 1 -50 1 -35 1 -33 1 -40 1 111 1 31 1 95 1 -113 1 57 1 -55 1 -48 1 70 1 5 1 -77 1 -1 1 12 1 -177 1 217 1 -159 1 343 1 -225 1 40 1 8 1 -193 1 301 1 -197 1 159 1 24 1 -38 1 -352 1 160 1 64 1 -75 1 112 1 150 1 -30 1 -153 1 -65 1 175 1 -3 1 -94 1 -55 1 226 1 14 1 -40 1 -43 1 -115 1 65 1 -129 1 249 1 -248 1 29 1 45 1 11 1 153 1 -60 1 -151 1 105 1 -4 1 114 1 -294 1 101 1 -45 1 115 1 67 1 -103 1 224 1 -295 1 103 1 -76 1 -70 1 91 1 46 1 -70 1 2 1 58 1 -59 1 152 1 -31 1 -51 1 91 1 -306 1 119 1 211 1 -205 1 174 1 -48 1 -31 1 -28 1 -94 1 -31 1 -20 1 203 1 -45 1 33 1 -136 1 110 1 99 1 -175 1 25 1 12 1 229 1 -87 1 77 1 66 1 -272 1 52 1 -254 1 234 1 -59 1 53 1 7 1 -216 1 234 1 -74 1 -78 1 62 1 132 1 -139 1 195 1 -84 1 -51 1 -89 1 7 1 188 1 -108 1 23 1 3 1 54 1 -9 1 -104 1 63 1 -47 1 68 1 -194 1 123 1 144 1 -244 1 55 1 85 1 -137 1 122 1 22 1 44 1 -56 1 11 1 -68 1 64 1 2 1 20 1 26 1 0 1 -5 1 -40 1 -17 1 -55 1 110 1 54 1 -161 1 105 1 -71 1 -5 1 -79 1 70 1 85 1 -13 1 33 1 -143 1 -145 1 276 1 -72 1 68 1 111 1 -74 1 -301 1 153 1 15 1 183 1 -223 1 40 1 135 1 -274 1 117 1 -79 1 28 1 147 1 -40 1 -17 1 7 1 -36 1 36 1 55 1 -123 1 89 1 -58 1 134 1 28 1 -53 1 36 1 -142 1 14 1 51 1 -47 1 85 1 -72 1 -105 1 25 1 121 1 200 1 -213 1 -158 1 169 1 -89 1 -60 1 376 1 -22 1 -232 1 1 1 -23 1 105 1 2 1 23 1 -206 1 77 1 103 1 -62 1 -155 1 141 1 95 1 -298 1 350 1 -162 1 157 1 -50 1 -56 1 -43 1 -8 1 -50 1 80 1 18 1 -176 1 85 1 -167 1 75 1 74 1 120 1 -45 1 8 1 -53 1 -63 1 186 1 -14 1 -176 1 81 1 64 1 -137 1 25 1 119 1 -30 1 80 1 -118 1 89 1 -11 1 132 1 -253 1 68 1 -89 1 153 1 10 1 91 1 -176 1 99 1 -58 1 140 1 -155 1 -22 1 98 1 -88 1 -57 1 -103 1 213 1 74 1 -105 1 83 1 -132 1 108 1 10 1 -119 1 -94 1 107 1 27 1 65 1 -251 1 322 1 -83 1 -81 1 -76 1 40 1 99 1 0 1 -6 1 -183 1 105 1 41 1 -18 1 -39 1 74 1 101 1 -237 1 238 1 -207 1 1 1 -5 1 169 1 -29 1 56 1 -175 1 -37 1 310 1 -147 1 -286 1 136 1 104 1 132 1 40 1 -278 1 164 1 -82 1 -10 1 -11 1 -76 1 30 1 52 1 76 1 -174 1 267 1 -171 1 110 1 -167 1 -20 1 218 1 -52 1 -239 1 231 1 -199 1 195 1 31 1 -73 1 -31 1 14 1 11 1 -73 1 119 1 -98 1 -106 1 193 1 139 1 -68 1 -117 1 -53 1 21 1 176 1 -55 1 -153 1 104 1 119 1 -133 1 4 1 -64 1 -106 1 242 1 -22 1 8 1 51 1 -127 1 -31 1 80 1 -157 1 -69 1 150 1 -26 1 -23 1 92 1 59 1 -128 1 -129 1 28 1 75 1 65 1 19 1 48 1 147 1 -287 1 191 1 -114 1 34 1 -47 1 133 1 -21 1 61 1 57 1 -321 1 116 1 95 1 11 1 -43 1 -116 1 259 1 -278 1 175 1 -129 1 14 1 109 1 -162 1 153 1 -65 1 -107 1 91 1 29 1 41 1 40 1 -235 1 56 1 3 1 -63 1 317 1 -228 1 15 1 -11 1 -44 1 169 1 -72 1 -78 1 34 1 67 1 -9 1 52 1 39 1 -166 1 -46 1 48 1 56 1 -70 1 87 1 -144 1 111 1 34 1 -110 1 150 1 83 1 -441 1 212 1 57 1 89 1 -166 1 109 1 118 1 -105 1 -80 1 -2 1 77 1 19 1 -7 1 -34 1 -203 1 124 1 48 1 45 1 35 1 -110 1 125 1 80 1 -99 1 27 1 -113 1 -54 1 138 1 -9 1 62 1 -130 1 -65 1 1 1 116 1 -207 1 306 1 -162 1 38 1 -25 1 172 1 -270 1 190 1 -27 1 71 1 -30 1 -179 1 -53 1 -51 1 172 1 74 1 -31 1 -52 1 84 1 -180 1 251 1 21 1 -24 1 -46 1 96 1 -298 1 36 1 100 1 -2 1 -31 1 79 1 -78 1 184 1 -147 1 -230 1 183 1 -27 1 -71 1 228 1 -183 1 -83 1 137 1 211 1 -168 1 175 1 -116 1 112 1 -110 1 -6 1 -338 1 148 1 -1 1 102 1 119 1 -21 1 -13 1 -240 1 86 1 77 1 67 1 -34 1 -101 1 -54 1 233 1 -188 1 79 1 17 1 43 1 -115 1 -43 1 95 1 -64 1 97 1 -157 1 106 1 -83 1 325 1 -376 1 122 1 19 1 -23 1 -68 1 31 1 73 1 160 1 -16 1 49 1 -218 1 69 1 108 1 -70 1 -30 1 -11 1 72 1 -132 1 81 1 -107 1 149 1 -19 1 -55 1 -125 1 114 1 165 1 -207 1 83 1 -198 1 65 1 97 1 88 1 -7 1 -135 1 236 1 -443 1 121 1 244 1 21 1 42 1 -248 1 -51 1 -7 1 48 1 134 1 -80 1 0 1 97 1 -80 1 37 1 125 1 -208 1 76 1 -83 1 144 1 -182 1 22 1 153 1 -257 1 368 1 -114 1 -77 1 -17 1 83 1 -10 1 -134 1 109 1 -96 1 33 1 48 1 9 1 -36 1 20 1 -30 1 9 1 179 1 -13 1 -220 1 -122 1 284 1 100 1 -198 1 59 1 -34 1 30 1 -80 1 47 1 -21 1 -4 1 43 1 -148 1 238 1 -96 1 10 1 -87 1 -125 1 182 1 -35 1 -185 1 340 1 33 1 -171 1 73 1 96 1 -82 1 -331 1 389 1 -293 1 130 1 194 1 -227 1 -66 1 131 1 -17 1 -176 1 342 1 -143 1 -12 1 21 1 4 1 117 1 -147 1 -39 1 103 1 -18 1 38 1 -147 1 127 1 10 1 -151 1 147 1 -53 1 138 1 24 1 -128 1 -137 1 103 1 -80 1 6 1 196 1 -66 1 -82 1 -71 1 119 1 108 1 -71 1 -34 1 2 1 105 1 -46 1 -64 1 -213 1 262 1 -47 1 -21 1 111 1 -181 1 103 1 -17 1 -148 1 117 1 31 1 91 1 -52 1 -52 1 73 1 -269 1 157 1 -33 1 121 1 116 1 -95 1 24 1 -14 1 74 1 -257 1 150 1 -124 1 34 1 112 1 13 1 -89 1 113 1 -104 1 -10 1 15 1 3 1 101 1 -8 1 -136 1 20 1 -28 1 95 1 -18 1 13 1 -147 1 128 1 -82 1 -41 1 101 1 -35 1 77 1 -2 1 -46 1 51 1 -21 1 -33 1 -69 1 166 1 -6 1 11 1 -187 1 0 1 110 1 61 1 -77 1 100 1 -196 1 146 1 -229 1 102 1 -24 1 155 1 -112 1 56 1 80 1 -137 1 142 1 -172 1 208 1 -212 1 -19 1 148 1 89 1 -292 1 256 1 18 1 -76 1 -161 1 33 1 139 1 -249 1 306 1 62 1 -285 1 14 1 173 1 -130 1 127 1 -104 1 -6 1 36 1 73 1 -4 1 -62 1 134 1 14 1 -69 1 -203 1 69 1 41 1 67 1 76 1 -180 1 173 1 -228 1 141 1 -70 1 16 1 140 1 -151 1 44 1 153 1 -137 1 -152 1 27 1 55 1 68 1 4 1 -185 1 53 1 -14 1 118 1 37 1 -55 1 66 1 -64 1 26 1 128 1 -63 1 -123 1 19 1 138 1 -110 1 -60 1 105 1 -159 1 139 1 -67 1 78 1 174 1 -182 1 -122 1 -60 1 171 1 -38 1 -101 1 74 1 51 1 -105 1 90 1 60 1 -111 1 190 1 -206 1 -22 1 205 1 -141 1 -27 1 -19 1 127 1 -102 1 16 1 -124 1 39 1 92 1 -95 1 87 1 146 1 -91 1 90 1 -191 1 147 1 -97 1 111 1 -175 1 116 1 78 1 -71 1 8 1 -53 1 -196 1 143 1 10 1 156 1 -74 1 -106 1 181 1 -48 1 -190 1 274 1 -85 1 226 1 -163 1 -247 1 255 1 -87 1 -58 1 67 1 31 1 -94 1 -54 1 146 1 -24 1 -146 1 234 1 -148 1 203 1 -39 1 -152 1 89 1 -172 1 114 1 -194 1 71 1 99 1 64 1 23 1 27 1 -11 1 -141 1 35 1 -51 1 63 1 -171 1 92 1 209 1 -117 1 -80 1 128 1 -38 1 -31 1 -30 1 -61 1 93 1 14 1 -8 1 138 1 -139 1 29 1 90 1 -40 1 -272 1 185 1 -90 1 24 1 163 1 62 1 -111 1 -261 1 174 1 16 1 -16 1 198 1 -107 1 20 1 -59 1 79 1 -100 1 -109 1 123 1 -65 1 -79 1 -40 1 129 1 30 1 198 1 -232 1 -9 1 60 1 84 1 -195 1 95 1 144 1 35 1 -227 1 -90 1 148 1 -8 1 124 1 -18 1 -79 1 -85 1 111 1 -112 1 -8 1 84 1 192 1 -18 1 -31 1 -290 1 211 1 -131 1 118 1 39 1 -18 1 -129 1 -32 1 162 1 52 1 -190 1 -11 1 70 1 -41 1 145 1 8 1 -21 1 -136 1 -25 1 52 1 44 1 68 1 -40 1 -72 1 87 1 21 1 -87 1 -80 1 137 1 47 1 -26 1 -162 1 138 1 -31 1 -31 1 8 1 -37 1 -11 1 91 1 -29 1 12 1 -120 1 130 1 127 1 -248 1 108 1 -9 1 27 1 42 1 -124 1 139 1 -20 1 -90 1 88 1 54 1 21 1 -152 1 98 1 -79 1 -71 1 297 1 -124 1 -25 1 -97 1 46 1 -62 1 220 1 -229 1 56 1 78 1 -95 1 98 1 -61 1 -32 1 7 1 -187 1 274 1 -32 1 -21 1 -19 1 -113 1 102 1 -93 1 32 1 -58 1 75 1 130 1 -54 1 -128 1 4 1 183 1 -124 1 103 1 74 1 -60 1 -194 1 -112 1 360 1 -277 1 -5 1 82 1 18 1 88 1 -119 1 -19 1 161 1 -168 1 344 1 -385 1 137 1 103 1 -106 1 -154 1 149 1 103 1 -168 1 -84 1 147 1 -194 1 244 1 24 1 -55 1 -121 1 209 1 26 1 -18 1 -147 1 86 1 -113 1 180 1 -156 1 -72 1 93 1 72 1 -62 1 -6 1 -75 1 99 1 -17 1 15 1 -22 1 8 1 -70 1 247 1 -323 1 174 1 88 1 -272 1 5 1 226 1 172 1 -140 1 -138 1 -14 1 -4 1 -66 1 61 1 143 1 -114 1 65 1 41 1 -138 1 27 1 52 1 -92 1 84 1 51 1 -57 1 -158 1 181 1 -44 1 16 1 -107 1 115 1 -16 1 -44 1 -18 1 56 1 -162 1 200 1 -70 1 143 1 -267 1 126 1 73 1 -4 1 -64 1 130 1 -134 1 91 1 -52 1 -19 1 -48 1 8 1 12 1 82 1 -85 1 -42 1 152 1 -43 1 38 1 -43 1 147 1 -86 1 -39 1 16 1 46 1 -76 1 52 1 -85 1 162 1 -159 1 -283 1 359 1 -91 1 16 1 79 1 -320 1 90 1 152 1 -109 1 179 1 -9 1 -87 1 117 1 -256 1 171 1 91 1 44 1 -74 1 86 1 -99 1 -51 1 42 1 196 1 -23 1 -166 1 11 1 2 1 -184 1 89 1 61 1 -86 1 52 1 -93 1 102 1 100 1 -86 1 70 1 -91 1 -58 1 86 1 -176 1 94 1 39 1 -22 1 86 1 -105 1 155 1 -9 1 -64 1 -72 1 -44 1 162 1 -82 1 274 1 -170 1 50 1 -213 1 78 1 -39 1 -176 1 242 1 -60 1 11 1 62 1 58 1 -39 1 105 1 -220 1 137 1 -145 1 47 1 123 1 -53 1 -24 1 -2 1 41 1 56 1 -60 1 -96 1 116 1 -79 1 28 1 -10 1 72 1 -66 1 -54 1 -96 1 9 1 153 1 -92 1 139 1 -75 1 21 1 -29 1 237 1 -145 1 -40 1 14 1 -281 1 139 1 190 1 7 1 -188 1 -121 1 72" stroke="#00ff00" stroke-width="0.42" vector-effect="non-scaling-stroke"/>
<path transform="translate(25.5,500) scale(0.030348,0.1)" d="M0 1250l1 47 1 -14 1 0 1 39 1 -124 1 25 1 -30 1 53 1 49 1 -45 1 23 1 -106 1 91 1 -47 1 118 1 -39 1 3 1 -44 1 29 1 2 1 -44 1 -7 1 17 1 -21 1 0 1 14 1 -20 1 66 1 -104 1 107 1 -64 1 4 1 -36 1 53 1 -4 1 19 1 -32 1 28 1 76 1 -62 1 -43 1 67 1 -48 1 32 1 1 1 -44 1 -68 1 70 1 39 1 -41 1 37 1 23 1 -67 1 79 1 17 1 -24 1 4 1 -3 1 51 1 -91 1 -8 1 26 1 -67 1 -28 1 30 1 55 1 4 1 -88 1 -15 1 69 1 5 1 7 1 31 1 25 1 -44 1 17 1 -75 1 -4 1 62 1 19 1 3 1 -6 1 9 1 1 1 -113 1 45 1 52 1 7 1 -93 1 118 1 -71 1 9 1 22 1 21 1 -96 1 107 1 -40 1 -37 1 21 1 -84 1 68 1 37 1 -40 1 17 1 8 1 9 1 43 1 -46 1 -11 1 36 1 67 1 -106 1 38 1 -93 1 129 1 -30 1 30 1 -62 1 -43 1 85 1 -6 1 -71 1 -27 1 85 1 -27 1 122 1 -142 1 4 1 19 1 -69 1 34 1 112 1 -78 1 -21 1 -29 1 81 1 4 1 -18 1 -28 1 30 1 4 1 -47 1 57 1 -120 1 36 1 43 1 9 1 -46 1 65 1 33 1 -27 1 -10 1 27 1 -19 1 -68 1 41 1 66 1 -107 1 53 1 -20 1 -22 1 -5 1 49 1 9 1 0 1 -77 1 51 1 28 1 26 1 -12 1 7 1 12 1 -12 1 -72 1 38 1 -34 1 -73 1 31 1 166 1 -141 1 -50 1 73 1 93 1 -69 1 20 1 -30 1 8 1 60 1 -21 1 -39 1 43 1 9 1 -57 1 21 1 0 1 -41 1 80 1 -58 1 -20 1 -46 1 18 1 123 1 -118 1 69 1 -35 1 39 1 4 1 -61 1 22 1 17 1 1 1 -6 1 -13 1 42 1 30 1 -34 1 -57 1 50 1 -14 1 17 1 61 1 -90 1 9 1 -39 1 26 1 -12 1 96 1 -57 1 -39 1 110 1 -143 1 96 1 7 1 -19 1 -37 1 6 1 -10 1 50 1 -137 1 80 1 29 1 -32 1 -54 1 69 1 -23 1 69 1 26 1 -58 1 -88 1 76 1 -32 1 71 1 45 1 -61 1 76 1 -23 1 -36 1 -69 1 47 1 -68 1 110 1 -40 1 55 1 -47 1 -98 1 114 1 13 1 32 1 -116 1 2 1 44 1 -50 1 -14 1 13 1 162 1 -142 1 -18 1 25 1 20 1 56 1 -15 1 -7 1 -33 1 5 1 -35 1 -38 1 156 1 -110 1 65 1 -59 1 10 1 -2 1 -54 1 57 1 20 1 20 1 -15 1 23 1 -32 1 -13 1 -86 1 63 1 92 1 -63 1 29 1 -44 1 -20 1 120 1 -75 1 50 1 -42 1 -37 1 -86 1 103 1 -73 1 -29 1 153 1 -23 1 -3 1 -26 1 -4 1 20 1 -12 1 -3 1 29 1 -141 1 148 1 -67 1 65 1 14 1 -89 1 72 1 0 1 -67 1 8 1 28 1 -104 1 79 1 27 1 -28 1 -50 1 53 1 84 1 -9 1 -63 1 -31 1 35 1 2 1 -31 1 15 1 43 1 13 1 -149 1 151 1 -37 1 45 1 -52 1 21 1 53 1 -204 1 201 1 -61 1 -89 1 -37 1 131 1 -59 1 90 1 -35 1 -15 1 49 1 -35 1 24 1 4 1 -22 1 20 1 0 1 -95 1 49 1 6 1 -11 1 -53 1 45 1 40 1 -7 1 59 1 -94 1 8 1 -6 1 11 1 -13 1 -56 1 98 1 29 1 5 1 -97 1 40 1 90 1 -87 1 21 1 -23 1 52 1 -2 1 60 1 -81 1 -2 1 -73 1 35 1 -13 1 17 1 -43 1 111 1 -100 1 59 1 -68 1 71 1 58 1 -109 1 52 1 -19 1 15 1 6 1 -46 1 20 1 -18 1 -10 1 -18 1 97 1 -76 1 62 1 -4 1 -69 1 90 1 -84 1 66 1 36 1 -95 1 -10 1 0 1 143 1 -118 1 -39 1 91 1 -43 1 6 1 -43 1 -54 1 66 1 -14 1 -25 1 23 1 6 1 78 1 -5 1 -8 1 -46 1 -32 1 68 1 8 1 24 1 -46 1 -4 1 19 1 -54 1 5 1 64 1 -84 1 52 1 38 1 -24 1 9 1 -68 1 44 1 -7 1 39 1 -8 1 -17 1 82 1 -59 1 -37 1 -14 1 25 1 -23 1 97 1 -47 1 -38 1 -15 1 -19 1 35 1 70 1 -20 1 -40 1 9 1 -88 1 116 1 -44 1 71 1 -69 1 -13 1 31 1 -38 1 88 1 -47 1 4 1 -1 1 -31 1 37 1 -13 1 70 1 -75 1 14 1 -36 1 3 1 4 1 70 1 -53 1 40 1 -54 1 -5 1 -69 1 122 1 54 1 -100 1 73 1 -26 1 -67 1 64 1 -73 1 26 1 67 1 -47 1 -58 1 114 1 -111 1 41 1 -8 1 8 1 -30 1 -34 1 153 1 -123 1 3 1 -69 1 112 1 52 1 5 1 61 1 -56 1 -48 1 -17 1 62 1 -64 1 10 1 -51 1 47 1 82 1 -90 1 21 1 -124 1 166 1 -43 1 45 1 -51 1 -48 1 -23 1 82 1 -24 1 -42 1 40 1 -25 1 59 1 -50 1 -36 1 50 1 -21 1 89 1 -85 1 -38 1 55 1 -9 1 23 1 -3 1 -55 1 43 1 -2 1 -49 1 28 1 34 1 -80 1 23 1 27 1 16 1 26 1 -82 1 73 1 14 1 40 1 -86 1 -22 1 -27 1 92 1 32 1 -87 1 50 1 19 1 4 1 -59 1 46 1 -30 1 -39 1 54 1 5 1 -58 1 62 1 69 1 -154 1 97 1 9 1 -37 1 12 1 -26 1 71 1 -101 1 35 1 -80 1 100 1 2 1 -90 1 35 1 59 1 -43 1 -32 1 -57 1 125 1 70 1 -105 1 39 1 -1 1 -22 1 8 1 1 1 -44 1 149 1 10 1 -106 1 65 1 -115 1 26 1 60 1 -101 1 -6 1 72 1 -102 1 163 1 -42 1 -22 1 19 1 -70 1 -1 1 79 1 4 1 -35 1 -8 1 -21 1 85 1 -127 1 28 1 14 1 -44 1 9 1 13 1 91 1 34 1 -64 1 -86 1 44 1 21 1 -6 1 -4 1 39 1 -108 1 60 1 35 1 22 1 -19 1 -11 1 -7 1 -23 1 33 1 -13 1 -22 1 85 1 -1 1 -69 1 44 1 26 1 -41 1 -6 1 16 1 -94 1 10 1 86 1 -11 1 48 1 -82 1 70 1 -1 1 40 1 -122 1 20 1 27 1 0 1 -56 1 19 1 -32 1 159 1 -104 1 2 1 -26 1 28 1 33 1 -49 1 13 1 97 1 -55 1 -30 1 -29 1 18 1 -32 1 45 1 -42 1 -2 1 14 1 -30 1 56 1 102 1 -138 1 -46 1 115 1 -47 1 91 1 -70 1 24 1 -75 1 -37 1 62 1 38 1 -68 1 -32 1 44 1 6 1 5 1 13 1 107 1 -105 1 -23 1 -26 1 83 1 -105 1 133 1 -63 1 -66 1 74 1 -13 1 59 1 -120 1 75 1 -10 1 41 1 -90 1 15 1 121 1 -62 1 -89 1 79 1 -49 1 4 1 -23 1 97 1 -67 1 32 1 -5 1 -70 1 34 1 67 1 -103 1 80 1 -16 1 33 1 2 1 6 1 -33 1 9 1 -43 1 8 1 63 1 -66 1 72 1 -1 1 -79 1 59 1 -60 1 51 1 -49 1 49 1 -7 1 -54 1 136 1 -47 1 -113 1 86 1 -34 1 109 1 -93 1 20 1 -25 1 36 1 -51 1 -16 1 17 1 4 1 46 1 -24 1 -23 1 2 1 -23 1 46 1 -95 1 80 1 62 1 -68 1 -13 1 31 1 -43 1 8 1 63 1 -58 1 114 1 -62 1 -28 1 -23 1 16 1 -88 1 110 1 29 1 -14 1 -44 1 46 1 1 1 -34 1 21 1 30 1 -25 1 -37 1 17 1 7 1 -78 1 77 1 -12 1 -89 1 20 1 154 1 -74 1 54 1 -75 1 84 1 -43 1 -55 1 43 1 57 1 36 1 -82 1 -43 1 -18 1 68 1 18 1 -41 1 -11 1 41 1 -15 1 -4 1 -84 1 52 1 98 1 -84 1 108 1 -90 1 -29 1 25 1 14 1 -58 1 42 1 -29 1 83 1 -84 1 25 1 -72 1 6 1 57 1 -37 1 28 1 23 1 14 1 -86 1 54 1 37 1 -59 1 -28 1 27 1 102 1 -70 1 68 1 -83 1 66 1 -116 1 53 1 15 1 74 1 -57 1 29 1 -68 1 0 1 74 1 7 1 -8 1 -2 1 -75 1 118 1 -88 1 49 1 -23 1 -111 1 -8 1 15 1 69 1 51 1 -60 1 48 1 -91 1 27 1 -13 1 41 1 -52 1 47 1 30 1 -46 1 -19 1 19 1 -34 1 9 1 81 1 -21 1 -78 1 51 1 32 1 16 1 -7 1 15 1 -45 1 1 1 -10 1 59 1 -11 1 41 1 -29 1 -85 1 -29 1 3 1 22 1 67 1 -89 1 -28 1 82 1 43 1 -1 1 39 1 -75 1 -23 1 11 1 -46 1 30 1 86 1 36 1 -37 1 -43 1 -24 1 22 1 -94 1 109 1 9 1 -41 1 7 1 -76 1 110 1 0 1 -157 1 96 1 41 1 59 1 -112 1 36 1 67 1 -44 1 -30 1 -10 1 21 1 -37 1 81 1 -84 1 64 1 17 1 12 1 -47 1 -4 1 14 1 -10 1 45 1 -53 1 90 1 39 1 -152 1 46 1 -69 1 85 1 -15 1 -28 1 -37 1 47 1 88 1 -18 1 -54 1 -44 1 26 1 -35 1 -24 1 18 1 69 1 -14 1 -6 1 -56 1 -14 1 107 1 -61 1 69 1 -86 1 77 1 -33 1 -30 1 0 1 104 1 -43 1 -53 1 19 1 -76 1 145 1 -15 1 -79 1 38 1 -143 1 166 1 -22 1 -10 1 25 1 -23 1 -57 1 12 1 23 1 48 1 -39 1 -31 1 46 1 -71 1 147 1 -79 1 -57 1 51 1 40 1 -23 1 66 1 -153 1 133 1 -72 1 41 1 37 1 -129 1 -10 1 46 1 -57 1 -15 1 93 1 48 1 -73 1 43 1 141 1 -148 1 -28 1 6 1 27 1 -32 1 43 1 -21 1 32 1 -35 1 -10 1 -37 1 -20 1 48 1 -4 1 30 1 -16 1 -14 1 117 1 -86 1 40 1 -99 1 90 1 7 1 -32 1 -59 1 95 1 -88 1 -36 1 -3 1 74 1 -24 1 57 1 -6 1 31 1 -45 1 -10 1 -5 1 -35 1 -2 1 4 1 43 1 -48 1 34 1 52 1 -154 1 67 1 -6 1 44 1 -66 1 36 1 132 1 -163 1 57 1 13 1 -22 1 -41 1 98 1 -129 1 42 1 32 1 -18 1 80 1 -66 1 98 1 -85 1 68 1 -49 1 -30 1 -2 1 58 1 -70 1 23 1 -34 1 -55 1 114 1 4 1 -81 1 74 1 -32 1 -73 1 43 1 71 1 16 1 -28 1 106 1 -107 1 -49 1 -32 1 132 1 -87 1 4 1 -20 1 1 1 20 1 37 1 4 1 -9 1 27 1 -63 1 -24 1 43 1 -88 1 129 1 -15 1 1 1 -72 1 27 1 23 1 -46 1 -4 1 39 1 16 1 -36 1 75 1 53 1 -72 1 -34 1 -6 1 85 1 -57 1 13 1 -17 1 -35 1 92 1 -77 1 17 1 -102 1 191 1 -62 1 -38 1 -31 1 8 1 -48 1 96 1 -59 1 57 1 2 1 65 1 -76 1 4 1 9 1 -49 1 16 1 26 1 37 1 -18 1 -45 1 66 1 -70 1 -51 1 137 1 -68 1 -21 1 -33 1 34 1 95 1 -78 1 102 1 -97 1 49 1 -49 1 -21 1 1 1 7 1 -41 1 -2 1 71 1 40 1 -48 1 -5 1 -43 1 91 1 -3 1 -98 1 54 1 -18 1 -51 1 138 1 -19 1 -38 1 48 1 -85 1 35 1 47 1 -72 1 26 1 -56 1 71 1 23 1 -95 1 8 1 32 1 65 1 -84 1 -15 1 32 1 55 1 -118 1 60 1 65 1 -59 1 -11 1 50 1 -91 1 144 1 -70 1 -38 1 21 1 -7 1 -10 1 -42 1 43 1 -65 1 137 1 -111 1 17 1 -2 1 67 1 -41 1 72 1 -84 1 27 1 -9 1 -12 1 64 1 5 1 4 1 -119 1 76 1 -65 1 -1 1 -29 1 38 1 68 1 35 1 15 1 -116 1 12 1 38 1 -4 1 4 1 -87 1 69 1 34 1 -14 1 -17 1 -27 1 28 1 75 1 -49 1 25 1 26 1 -121 1 78 1 -9 1 38 1 -70 1 1 1 -19 1 37 1 -21 1 6 1 21 1 -31 1 -24 1 22 1 -6 1 43 1 36 1 -70 1 -92 1 133 1 -28 1 -39 1 30 1 93 1 -147 1 14 1 49 1 -135 1 117 1 63 1 -19 1 -7 1 -31 1 7 1 128 1 -110 1 49 1 -115 1 67 1 5 1 -9 1 -103 1 77 1 83 1 -40 1 -59 1 74 1 -122 1 109 1 -11 1 -42 1 -18 1 -28 1 63 1 86 1 -38 1 -20 1 23 1 -67 1 49 1 -151 1 106 1 1 1 18 1 -5 1 34 1 -54 1 69 1 -52 1 49 1 -33 1 32 1 -17 1 -47 1 35 1 -66 1 60 1 14 1 -29 1 5 1 51 1 10 1 9 1 -87 1 6 1 54 1 4 1 -119 1 167 1 -36 1 -106 1 106 1 -69 1 13 1 -38 1 8 1 19 1 21 1 -53 1 46 1 -28 1 8 1 -16 1 12 1 98 1 -142 1 13 1 55 1 -19 1 -24 1 64 1 -69 1 51 1 42 1 -17 1 -37 1 13 1 7 1 19 1 -69 1 98 1 -22 1 49 1 -45 1 8 1 -175 1 110 1 102 1 -65 1 -37 1 50 1 -26 1 13 1 -49 1 55 1 44 1 -56 1 9 1 -51 1 52 1 -39 1 -42 1 42 1 8 1 35 1 17 1 -51 1 -7 1 44 1 -68 1 25 1 5 1 3 1 -19 1 98 1 -29 1 -50 1 -56 1 41 1 49 1 -113 1 196 1 -113 1 1 1 31 1 -91 1 66 1 -4 1 32 1 -76 1 73 1 25 1 -40 1 -37 1 -13 1 -41 1 53 1 47 1 45 1 -21 1 7 1 -74 1 2 1 -48 1 38 1 -20 1 39 1 40 1 -35 1 -9 1 45 1 37 1 -19 1 -123 1 152 1 -96 1 -45 1 48 1 60 1 -161 1 175 1 -48 1 15 1 -85 1 36 1 -26 1 102 1 -86 1 51 1 -46 1 -44 1 113 1 13 1 14 1 -91 1 27 1 28 1 -16 1 -5 1 94 1 -122 1 58 1 -63 1 87 1 -75 1 -32 1 77 1 -31 1 -19 1 7 1 -17 1 50 1 -8 1 59 1 -104 1 94 1 -39 1 -87 1 129 1 -145 1 101 1 -105 1 95 1 -29 1 5 1 -73 1 51 1 87 1 -25 1 -30 1 -2 1 -23 1 93 1 -66 1 50 1 -113 1 -3 1 129 1 -99 1 30 1 30 1 20 1 -12 1 -4 1 48 1 -61 1 29 1 -38 1 5 1 78 1 -96 1 -101 1 116 1 5 1 73 1 -98 1 -35 1 57 1 76 1 -97 1 72 1 -35 1 7 1 -67 1 41 1 -40 1 36 1 -31 1 80 1 -73 1 13 1 -89 1 55 1 152 1 -126 1 -54 1 70 1 -9 1 -13 1 10 1 -8 1 62 1 -95 1 63 1 28 1 -77 1 141 1 -99 1 -7 1 -20 1 60 1 -106 1 97 1 73 1 -83 1 22 1 -78 1 76 1 -69 1 15 1 20 1 85 1 -111 1 -60 1 92 1 30 1 -5 1 -19 1 51 1 -22 1 -1 1 -57 1 -46 1 138 1 -111 1 96 1 -5 1 -104 1 24 1 47 1 25 1 -86 1 30 1 -33 1 -9 1 59 1 -26 1 -69 1 108 1 -35 1 -1 1 -41 1 91 1 -18 1 -1 1 -16 1 19 1 55 1 -63 1 3 1 -31 1 50 1 -40 1 -22 1 83 1 -58 1 -31 1 7 1 8 1 -25 1 113 1 -38 1 -87 1 113 1 -69 1 28 1 -28 1 35 1 -1 1 16 1 3 1 -151 1 91 1 21 1 -8 1 -56 1 47 1 8 1 -82 1 51 1 71 1 -66 1 25 1 8 1 22 1 10 1 15 1 -41 1 4 1 -15 1 15 1 -13 1 38 1 -2 1 -92 1 -39 1 120 1 -43 1 -45 1 111 1 24 1 -117 1 8 1 12 1 -5 1 30 1 -45 1 49 1 -17 1 64 1 -51 1 44 1 27 1 -43 1 6 1 -51 1 22 1 101 1 -40 1 -59 1 -20 1 11 1 55 1 -139 1 102 1 -70 1 122 1 -127 1 104 1 -53 1 14 1 72 1 -73 1 30 1 -13 1 -68 1 50 1 45 1 -28 1 -7 1 -40 1 101 1 -94 1 105 1 -71 1 23 1 -95 1 68 1 -47 1 46 1 50 1 -37 1 -5 1 32 1 -96 1 58 1 -31 1 76 1 -80 1 103 1 19 1 -185 1 88 1 -64 1 126 1 -94 1 67 1 -14 1 -55 1 -26 1 117 1 -76 1 38 1 52 1 -65 1 -12 1 -32 1 66 1 -57 1 -38 1 49 1 -2 1 -45 1 62 1 47 1 -11 1 65 1 -40 1 -38 1 -103 1 101 1 45 1 -67 1 76 1 -105 1 53 1 26 1 39 1 -78 1 90 1 -104 1 -64 1 75 1 67 1 -77 1 89 1 -83 1 94 1 -184 1 202 1 -195 1 89 1 -51 1 68 1 -24 1 -4 1 43 1 15 1 -59 1 71 1 -135 1 31 1 -14 1 84 1 19 1 -60 1 -10 1 -26 1 86 1 21 1 -77 1 17 1 -10 1 17 1 22 1 -122 1 76 1 62 1 -78 1 99 1 7 1 -108 1 7 1 96 1 -134 1 27 1 -27 1 76 1 15 1 6 1 -9 1 -77 1 117 1 -56 1 -15 1 96 1 -73 1 11 1 22 1 54 1 -93 1 32 1 -138 1 62 1 139 1 -3 1 -98 1 -34 1 -22 1 8 1 28 1 -52 1 74 1 -3 1 -49 1 -3 1 6 1 31 1 13 1 36 1 -106 1 64 1 17 1 13 1 25 1 -58 1 76 1 48 1 -85 1 51 1 -26 1 -24 1 -30 1 22 1 82 1 -90 1 -38 1 12 1 58 1 -64 1 71 1 -8 1 -23 1 65 1 -135 1 35 1 17 1 25 1 -79 1 36 1 84 1 -77 1 60 1 -53 1 -23 1 57 1 36 1 -62 1 -57 1 24 1 15 1 8 1 -31 1 74 1 -79 1 92 1 -92 1 4 1 95 1 -19 1 -48 1 -11 1 17 1 12 1 9 1 36 1 -85 1 38 1 3 1 -65 1 115 1 23 1 -76 1 -80 1 43 1 79 1 -134 1 1 1 67 1 44 1 17 1 8 1 -153 1 81 1 -18 1 0 1 79 1 -16 1 -52 1 43 1 0 1 48 1 -82 1 53 1 -61 1 53 1 -22 1 14 1 -12 1 68 1 -98 1 -10 1 17 1 46 1 11 1 -33 1 -27 1 12 1 -13 1 53 1 -23 1 11 1 -7 1 1 1 47 1 -72 1 40 1 1 1 -51 1 102 1 -61 1 -59 1 90 1 -17 1 6 1 -39 1 -7 1 22 1 -65 1 66 1 -5 1 36 1 -48 1 35 1 -87 1 28 1 67 1 29 1 -24 1 -103 1 20 1 18 1 80 1 -80 1 36 1 10 1 0 1 -26 1 20 1 23 1 -30 1 -9 1 36 1 32 1 41 1 -155 1 61 1 -7 1 -52 1 35 1 -17 1 -13 1 16 1 53 1 -72 1 22 1 17 1 -37 1 -11 1 -15 1 36 1 92 1 -133 1 109 1 -76 1 -1 1 74 1 -9 1 3 1 -28 1 38 1 -64 1 42 1 26 1 -43 1 -35 1 109 1 -82 1 -32 1 69 1 28 1 -30 1 -76 1 54 1 11 1 14 1 -89 1 7 1 63 1 -8 1 20 1 30 1 -109 1 10 1 24 1 90 1 -74 1 51 1 -145 1 112 1 31 1 21 1 -91 1 118 1 -122 1 99 1 11 1 -78 1 -54 1 154 1 -79 1 -69 1 74 1 -68 1 54 1 -56 1 -51 1 128 1 -60 1 25 1 10 1 -12 1 -23 1 46 1 11 1 -17 1 -24 1 17 1 64 1 -13 1 -63 1 38 1 0 1 0 1 -23 1 20 1 -36 1 45 1 -7 1 7 1 -1 1 -4 1 -58 1 -18 1 58 1 -24 1 49 1 -60 1 8 1 -39 1 54 1 -13 1 68 1 -48 1 59 1 -94 1 -36 1 116 1 -25 1 47 1 -98 1 -46 1 145 1 -55 1 -38 1 119 1 -90 1 -38 1 53 1 -40 1 -12 1 53 1 -16 1 -9 1 3 1 -54 1 90 1 52 1 -71 1 43 1 31 1 -96 1 -20 1 -12 1 21 1 55 1 -41 1 58 1 -79 1 99 1 -85 1 10 1 7 1 -13 1 5 1 30 1 -30 1 24 1 -54 1 0 1 -27 1 92 1 -67 1 55 1 -15 1 1 1 -15 1 35 1 -4 1 50 1 -80 1 -7 1 -36 1 147 1 -125 1 66 1 -2 1 -86 1 25 1 59 1 -32 1 -55 1 61 1 60 1 -51 1 9 1 31 1 38 1 -92 1 -28 1 24 1 -18 1 -39 1 53 1 -36 1 96 1 -59 1 -109 1 68 1 61 1 -42 1 -11 1 11 1 -13 1 63 1 -47 1 -20 1 76 1 -88 1 61 1 -53 1 24 1 -3 1 -28 1 24 1 90 1 -113 1 135 1 -51 1 33 1 -90 1 69 1 -38 1 80 1 -108 1 73 1 -80 1 88 1 -78 1 -33 1 -11 1 35 1 93 1 -126 1 24 1 29 1 6 1 9 1 60 1 -80 1 -54 1 97 1 -51 1 8 1 16 1 64 1 -15 1 -52 1 -18 1 36 1 -53 1 -45 1 49 1 72 1 -73 1 8 1 86 1 1 1 1 1 -99 1 56 1 38 1 -14 1 -62 1 7 1 -23 1 9 1 40 1 0 1 -55 1 68 1 -21 1 49 1 -81 1 34 1 -109 1 133 1 -8 1 12 1 -36 1 0 1 -4 1 57 1 -96 1 38 1 31 1 -42 1 -25 1 28 1 26 1 56 1 -92 1 -72 1 139 1 -44 1 26 1 -31 1 3 1 -83 1 109 1 -73 1 76 1 -112 1 135 1 -60 1 -93 1 106 1 -1 1 0 1 -53 1 146 1 -120 1 66 1 -153 1 136 1 -5 1 -23 1 56 1 -81 1 46 1 -22 1 14 1 -54 1 71 1 -4 1 -11 1 1 1 -31 1 -9 1 17 1 26 1 -69 1 48 1 73 1 -36 1 -73 1 95 1 -127 1 65 1 57 1 -19 1 -14 1 -60 1 -26 1 94 1 -11 1 61 1 -99 1 -22 1 23 1 -56 1 64 1 13 1 -5 1 86 1 3 1 -96 1 -10 1 80 1 -9 1 -100 1 22 1 -2 1 -22 1 31 1 -30 1 88 1 -12 1 -96 1 47 1 2 1 87 1 -89 1 67 1 32 1 -109 1 62 1 -18 1 34 1 -98 1 44 1 -57 1 105 1 -118 1 89 1 -72 1 36 1 -3 1 39 1 21 1 27 1 10 1 -59 1 -50 1 103 1 -109 1 55 1 -30 1 3 1 36 1 -59 1 46 1 0 1 51 1 3 1 -15 1 -32 1 74 1 -33 1 -98 1 69 1 7 1 -57 1 47 1 -25 1 -25 1 42 1 -30 1 -26 1 54 1 -82 1 132 1 -66 1 20 1 38 1 -1 1 -54 1 27 1 29 1 19 1 -97 1 48 1 -61 1 8 1 36 1 -6 1 -39 1 8 1 36 1 -60 1 70 1 -59 1 114 1 -54 1 25 1 -49 1 65 1 -26 1 10 1 -28 1 23 1 -32 1 31 1 -40 1 0 1 20 1 -2 1 -7 1 -32 1 23 1 53 1 -35 1 9 1 -38 1 85 1 -71 1 33 1 -25 1 54 1 -122 1 -22 1 75 1 -95 1 75 1 3 1 20 1 41 1 -89 1 83 1 32 1 17 1 -121 1 34 1 101 1 -129 1 95 1 -34 1 9 1 -99 1 11 1 24 1 66 1 9 1 -71 1 48 1 -7 1 -49 1 -6 1 -38 1 35 1 14 1 90 1 -17 1 -46 1 22 1 -52 1 -66 1 114 1 14 1 -60 1 89 1 -7 1 -11 1 -120 1 86 1 26 1 -67 1 16 1 61 1 54 1 -55 1 -25 1 -33 1 -26 1 11 1 54 1 -38 1 82 1 -119 1 8 1 49 1 13 1 -5 1 -53 1 16 1 75 1 -58 1 -5 1 50 1 -10 1 -17 1 74 1 -135 1 77 1 -43 1 71 1 -87 1 72 1 -47 1 130 1 -102 1 88 1 -128 1 3 1 43 1 -92 1 35 1 107 1 -17 1 -59 1 60 1 -30 1 1 1 -63 1 85 1 -68 1 91 1 -111 1 156 1 -140 1 -31 1 11 1 66 1 -4 1 -43 1 64 1 53 1 -81 1 29 1 5 1 -1 1 -114 1 143 1 -68 1 8 1 48 1 -171 1 154 1 -23 1 61 1 -57 1 43 1 -11 1 -101 1 50 1 -29 1 29 1 -37 1 -28 1 61 1 -8 1 35 1 52 1 -89 1 6 1 64 1 -11 1 -114 1 69 1 -66 1 28 1 15 1 15 1 -6 1 22 1 5 1 55 1 -34 1 -83 1 107 1 -46 1 -65 1 8 1 45 1 3 1 11 1 -83 1 53 1 106 1 -168 1 17 1 60 1 12 1 -39 1 32 1 -11 1 -33 1 36 1 -12 1 29 1 15 1 -70 1 35 1 -42 1 31 1 21 1 25 1 -65 1 62 1 -32 1 -7 1 1 1 -16 1 42 1 -70 1 75 1 -44 1 88 1 -86 1 36 1 17 1 3 1 35 1 4 1 -78 1 -14 1 83 1 -43 1 -23 1 6 1 38 1 -3 1 -128 1 59 1 10 1 -21 1 95 1 4 1 -59 1 68 1 -75 1 74 1 -24 1 -25 1 15 1 -45 1 72 1 -65 1 41 1 -59 1 1 1 40 1 1 1 50 1 -64 1 23 1 2 1 70 1 -80 1 -57 1 -15 1 46 1 19 1 -55 1 -1 1 8 1 40 1 27 1 -59 1 -5 1 91 1 22 1 -54 1 -48 1 -1 1 56 1 -107 1 6 1 110 1 -104 1 29 1 124 1 -112 1 81 1 -71 1 -35 1 66 1 -23 1 41 1 -100 1 87 1 -12 1 25 1 -23 1 -54 1 101 1 -18 1 1 1 -14 1 -11 1 -40 1 -53 1 9 1 61 1 -91 1 70 1 65 1 -78 1 123 1 -156 1 103 1 -115 1 100 1 58 1 -87 1 -41 1 5 1 78 1 10 1 -20 1 -40 1 -26 1 11 1 -9 1 -24 1 116 1 9 1 2 1 18 1 -104 1 -53 1 91 1 -22 1 -37 1 68 1 -39 1 49 1 -12 1 -54 1 37 1 -23 1 37 1 -17 1 -40 1 61 1 -29 1 4 1 12 1 92 1 -80 1 -26 1 -19 1 -44 1 72 1 1 1 -24 1 56 1 -14 1 12 1 -40 1 77 1 -40 1 -53 1 29 1 43 1 -71 1 84 1 -74 1 -61 1 111 1 -53 1 24 1 -8 1 53 1 -47 1 38 1 -75 1 41 1 -29 1 25 1 96 1 -129 1 51 1 -32 1 34 1 -55 1 13 1 -51 1 128 1 -51 1 9 1 -68 1 122 1 -17 1 -63 1 28 1 -24 1 53 1 -135 1 103 1 3 1 26 1 -81 1 13 1 -14 1 87 1 -21 1 28 1 -10 1 -6 1 -78 1 42 1 67 1 -42 1 -57 1 6 1 18 1 9 1 16 1 -4 1 20 1 26 1 -18 1 -71 1 133 1 -97 1 -19 1 76 1 14 1 -39 1 36 1 -63 1 1 1 -41 1 93 1 -36 1 64 1 -84 1 63 1 -44 1 69 1 -71 1 60 1 -104 1 26 1 -4 1 68 1 -135 1 40 1 60 1 -12 1 1 1 20 1 -28 1 39 1 27 1 -95 1 94 1 -87 1 -24 1 53 1 -1 1 16 1 -61 1 45 1 -21 1 72 1 -44 1 -29 1 -18 1 44 1 84 1 -157 1 45 1 82 1 -8 1 -53 1 4 1 -13 1 -19 1 26 1 36 1 -7 1 -79 1 56 1 -19 1 81 1 -111 1 10 1 -8 1 211 1 -77 1 -84 1 52 1 -116 1 65 1 110 1 -106 1 -50 1 30 1 2 1 19 1 0 1 -14 1 -44 1 64 1 1 1 -68 1 94 1 -32 1 83 1 -53 1 -49 1 -10 1 116 1 -25 1 -27 1 14 1 -96 1 111 1 -57 1 6 1 47 1 -20 1 -90 1 95 1 -35 1 59 1 -42 1 19 1 -68 1 7 1 -12 1 64 1 -54 1 27 1 110 1 -53 1 68 1 -135 1 -5 1 20 1 48 1 -64 1 125 1 -126 1 99 1 -104 1 7 1 52 1 -17 1 -13 1 -6 1 32 1 -37 1 107 1 -48 1 -12 1 -65 1 168 1 -111 1 -44 1 -11 1 -71 1 82 1 -61 1 24 1 122 1 -74 1 -21 1 111 1 -103 1 119 1 -102 1 30 1 -33 1 -8 1 35 1 52 1 -56 1 -47 1 -33 1 131 1 -84 1 -16 1 69 1 1 1 6 1 -53 1 -57 1 109 1 -26 1 0 1 -37 1 64 1 -21 1 11 1 42 1 -64 1 -4 1 1 1 -57 1 54 1 60 1 -8 1 -60 1 -28 1 73 1 -17 1 5 1 59 1 -74 1 59 1 -35 1 24 1 -68 1 29 1 17 1 -20 1 10 1 -15 1 93 1 -178 1 135 1 -31 1 -54 1 23 1 -38 1 93 1 7 1 -13 1 54 1 -146 1 18 1 37 1 52 1 -11 1 -67 1 49 1 33 1 -99 1 90 1 17 1 7 1 0 1 -61 1 -79 1 32 1 22 1 29 1 44 1 -31 1 13 1 48 1 -130 1 81 1 18 1 29 1 41 1 -51 1 -92 1 73 1 -63 1 57 1 -46 1 5 1 36 1 -39 1 31 1 -6 1 27 1 -49 1 -25 1 -27 1 99 1 8 1 -74 1 -35 1 113 1 -29 1 34 1 -32 1 54 1 -38 1 -20 1 47 1 -92 1 48 1 7 1 -18 1 28 1 -31 1 -55 1 159 1 -86 1 -11 1 -50 1 64 1 -9 1 -54 1 114 1 -9 1 -121 1 115 1 -67 1 68 1 -11 1 23 1 -20 1 41 1 -79 1 0 1 2 1 -5 1 115 1 -87 1 49 1 -45 1 -14 1 45 1 -69 1 59 1 27 1 -51 1 3 1 -24 1 48 1 11 1 6 1 -64 1 19 1 -38 1 55 1 13 1 -24 1 -10 1 22 1 -5 1 8 1 -51 1 -6 1 16 1 -18 1 53 1 74 1 -83 1 -75 1 36 1 -8 1 65 1 -12 1 68 1 -72 1 -11 1 61 1 -95 1 40 1 51 1 -38 1 7 1 -58 1 -27 1 55 1 56 1 -67 1 -23 1 -20 1 150 1 -151 1 42 1 -24 1 81 1 -104 1 13 1 71 1 -79 1 93 1 29 1 -46 1 -116 1 83 1 17 1 70 1 8 1 -22 1 -41 1 -13 1 6 1 -23 1 9 1 -7 1 25 1 58 1 -115 1 140 1 -54 1 13 1 -41 1 -1 1 57 1 -71 1 -23 1 38 1 -22 1 84 1 -52 1 17 1 -20 1 -3 1 52 1 -37 1 52 1 -145 1 100 1 20 1 -42 1 -76 1 78 1 -11 1 69 1 -4 1 -5 1 -35 1 5 1 -4 1 38 1 -45 1 27 1 11 1 -41 1 12 1 -37 1 -19 1 21 1 -5 1 -36 1 74 1 30 1 3 1 26 1 -76 1 109 1 -114 1 25 1 49 1 -129 1 88 1 -1 1 78 1 -120 1 34 1 -115 1 106 1 -68 1 12 1 83 1 -57 1 -30 1 90 1 -26 1 -24 1 -51 1 35 1 -26 1 45 1 -4 1 10 1 -24 1 16 1 52 1 -62 1 61 1 -5 1 -1 1 -111 1 112 1 -29 1 13 1 -31 1 -1 1 -37 1 -5 1 66 1 -53 1 18 1 61 1 17 1 -63 1 -82 1 102 1 27 1 -38 1 -19 1 -33 1 56 1 113 1 -92 1 -43 1 -25 1 59 1 -80 1 37 1 12 1 -1 1 29 1 -20 1 -51 1 -40 1 97 1 -123 1 55 1 151 1 -123 1 95 1 -92 1 44 1 14 1 20 1 -63 1 -39 1 49 1 -66 1 1 1 109 1 -82 1 91 1 -3 1 -87 1 16 1 9 1 55 1 -44 1 52 1 -53 1 52 1 -59 1 67 1 -21 1 22 1 -16 1 -117 1 156 1 -77 1 -69 1 36 1 -15 1 68 1 -44 1 15 1 42 1 -110 1 1 1 72 1 -76 1 103 1 -89 1 8 1 76 1 34 1 -71 1 -19 1 -42 1 45 1 -5 1 -30 1 27 1 59 1 -33 1 -118 1 183 1 -23 1 -104 1 109 1 -107 1 76 1 -17 1 -50 1 58 1 -10 1 2 1 -65 1 89 1 -45 1 71 1 -23 1 -8 1 -78 1 134 1 -71 1 -17 1 -25 1 24 1 48 1 -138 1 110 1 -76 1 15 1 59 1 2 1 -34 1 25 1 50 1 -60 1 -53 1 32 1 -2 1 77 1 -78 1 -59 1 15 1 111 1 -32 1 -72 1 -13 1 95 1 -90 1 44 1 45 1 -8 1 -70 1 64 1 -95 1 80 1 -37 1 -58 1 138 1 -66 1 28 1 -40 1 145 1 -57 1 -78 1 97 1 -48 1 31 1 -162 1 102 1 -61 1 41 1 -11 1 28 1 -102 1 72 1 -48 1 109 1 -34 1 15 1 16 1 -12 1 -61 1 30 1 -87 1 62 1 3 1 5 1 25 1 -15 1 77 1 -35 1 -39 1 -16 1 -11 1 76 1 -87 1 74 1 -90 1 44 1 -53 1 76 1 -11 1 -32 1 -49 1 -50 1 95 1 68 1 -87 1 52 1 -52 1 68 1 -69 1 96 1 -96 1 27 1 88 1 -63 1 -8 1 -11 1 24 1 -62 1 -6 1 114 1 -65 1 8 1 -10 1 6 1 46 1 -43 1 -14 1 -23 1 35 1 41 1 -73 1 4 1 71 1 -43 1 39 1 -95 1 13 1 -13 1 63 1 -85 1 90 1 -26 1 24 1 14 1 6 1 -146 1 130 1 22 1 -67 1 47 1 -2 1 5 1 -81 1 105 1 -115 1 81 1 6 1 -4 1 -5 1 47 1 -35 1 -13 1 34 1 -114 1 43 1 -35 1 -4 1 99 1 -38 1 60 1 -38 1 -163 1 115 1 -7 1 -10 1 103 1 -99 1 71 1 -52 1 -2 1 -22 1 103 1 -78 1 -44 1 52 1 -71 1 122 1 -112 1 23 1 39 1 -55 1 110 1 -67 1 6 1 -1 1 -4 1 5 1 82 1 -97 1 -35 1 100 1 -13 1 -62 1 -1 1 77 1 -51 1 -9 1 -4 1 -23 1 55 1 -88 1 9 1 -29 1 52 1 -23 1 61 1 -44 1 24 1 36 1 -26 1 -32 1 6 1 -11 1 36 1 2 1 55 1 -26 1 -16 1 -44 1 42 1 -61 1 -39 1 105 1 15 1 -180 1 185 1 -118 1 27 1 66 1 -30 1 6 1 -45 1 103 1 -62 1 -3 1 83 1 -72 1 26 1 9 1 -35 1 -58 1 84 1 -55 1 88 1 -9 1 -186 1 226 1 -146 1 67 1 8 1 -22 1 19 1 44 1 -45 1 -22 1 13 1 -7 1 -5 1 5 1 -3 1 47 1 -69 1 -18 1 106 1 -67 1 69 1 -52 1 -44 1 58 1 66 1 -119 1 20 1 -53 1 80 1 -17 1 103 1 -196 1 121 1 -17 1 22 1 -37 1 21 1 -35 1 7 1 56 1 -148 1 160 1 -81 1 29 1 56 1 0 1 -44 1 -11 1 -63 1 65 1 -13 1 -11 1 -26 1 45 1 25 1 -51 1 -43 1 93 1 -69 1 17 1 13 1 -6 1 -27 1 12 1 33 1 -19 1 28 1 30 1 15 1 -95 1 17 1 15 1 2 1 27 1 -13 1 -80 1 9 1 81 1 37 1 4 1 -33 1 -1 1 -74 1 -9 1 64 1 127 1 -75 1 -64 1 -13 1 9 1 -7 1 89 1 -104 1 70 1 -48 1 41 1 35 1 -44 1 3 1 -40 1 6 1 103 1 -97 1 20 1 -44 1 71 1 -59 1 52 1 -29 1 -13 1 48 1 19 1 -83 1 93 1 -35 1 28 1 12 1 -69 1 11 1 23 1 37 1 -151 1 176 1 -82 1 -63 1 66 1 -36 1 128 1 -102 1 -7 1 10 1 -24 1 48 1 19 1 -19 1 -45 1 79 1 -44 1 -5 1 58 1 -39 1 -127 1 145 1 -106 1 31 1 36 1 23 1 9 1 -33 1 54 1 -17 1 -31 1 -56 1 92 1 -73 1 16 1 13 1 -5 1 -69 1 96 1 -38 1 10 1 64 1 46 1 -65 1 -44 1 7 1 79 1 -50 1 -50 1 150 1 -62 1 -63 1 0 1 -41 1 -22 1 100 1 -44 1 96 1 -86 1 24 1 43 1 -99 1 85 1 -94 1 179 1 -164 1 21 1 148 1 -128 1 52 1 -34 1 -95 1 104 1 -46 1 120 1 -125 1 125 1 -93 1 35 1 96 1 -131 1 2 1 45 1 -73 1 83 1 2 1 -38 1 -79 1 -23 1 65 1 18 1 -83 1 91 1 15 1 0 1 55 1 -78 1 36 1 -50 1 81 1 -55 1 3 1 13 1 -94 1 133 1 -68 1 17 1 2 1 126 1 -117 1 -25 1 22 1 -7 1 -1 1 21 1 40 1 -96 1 68 1 -23 1 10 1 40 1 -50 1 -107 1 145 1 2 1 -1 1 -61 1 108 1 -84 1 -29 1 124 1 -197 1 142 1 -6 1 -38 1 -20 1 103 1 -12 1 21 1 -71 1 -4 1 3 1 -58 1 119 1 -5 1 -19 1 -95 1 54 1 24 1 8 1 -57 1 64 1 45 1 -131 1 35 1 -41 1 -5 1 36 1 43 1 9 1 -29 1 50 1 -14 1 -50 1 47 1 -23 1 0 1 -52 1 76 1 -59 1 96 1 -72 1 43 1 -52 1 -55 1 81 1 -52 1 42 1 -15 1 110 1 -101 1 7 1 -3 1 81 1 -65 1 -7 1 74 1 -13 1 -70 1 -60 1 101 1 -31 1 -34 1 56 1 -10 1 -61 1 85 1 -17 1 46 1 -69 1 72 1 -63 1 -6 1 14 1 20 1 -67 1 98 1 -42 1 29 1 -33 1 12 1 -9 1 -72 1 -9 1 52 1 106 1 -138 1 69 1 29 1 -67 1 45 1 -19 1 97 1 -57 1 -107 1 51 1 -49 1 46 1 -26 1 -6 1 109 1 -47 1 4 1 29 1 9 1 -44 1 -98 1 131 1 -28 1 -107 1 68 1 -31 1 -5 1 92 1 -71 1 22 1 -24 1 83 1 -116 1 58 1 46 1 -42 1 -35 1 -33 1 122 1 -24 1 -11 1 -17 1 37 1 -10 1 -92 1 64 1 47 1 18 1 -168 1 136 1 41 1 -50 1 46 1 -77 1 20 1 -21 1 -7 1 51 1 -38 1 50 1 -18 1 -73 1 89 1 -146 1 87 1 -13 1 -19 1 58 1 50 1 -24 1 -21 1 -69 1 79 1 -48 1 0 1 38 1 -47 1 0 1 48 1 -41 1 64 1 -96 1 92 1 -5 1 -21 1 -52 1 82 1 -69 1 81 1 -26 1 -68 1 62 1 13 1 -1 1 -26 1 2 1 78 1 -66 1 18 1 -25 1 -74 1 91 1 -35 1 11 1 -13 1 -27 1 9 1 -9 1 54 1 -48 1 8 1 -34 1 95 1 -59 1 12 1 19 1 -57 1 39 1 29 1 61 1 -86 1 -17 1 24 1 -28 1 -51 1 52 1 -7 1 28 1 -141 1 133 1 -10 1 12 1 -27 1 19 1 -74 1 42 1 -16 1 94 1 -28 1 -50 1 -53 1 81 1 19 1 -72 1 52 1 -14 1 32 1 -15 1 -29 1 10 1 75 1 -28 1 22 1 -46 1 3 1 51 1 -85 1 26 1 5 1 -70 1 150 1 -169 1 10 1 24 1 48 1 29 1 37 1 -45 1 -63 1 54 1 -94 1 139 1 -74 1 -101 1 102 1 22 1 -75 1 29 1 8 1 16 1 -57 1 85 1 -43 1 -88 1 51 1 107 1 19 1 -46 1 -28 1 -25 1 -46 1 3 1 131 1 -174 1 117 1 72 1 -56 1 -86 1 48 1 41 1 -72 1 30 1 56 1 -88 1 44 1 21 1 -13 1 -2 1 31 1 12 1 13 1 2 1 -35 1 -50 1 -13 1 77 1 -66 1 -38 1 59 1 -32 1 23 1 -66 1 48 1 76 1 -45 1 -57 1 20 1 62 1 -33 1 13 1 -83 1 68 1 -15 1 3 1 95 1 -107 1 -8 1 23 1 -57 1 29 1 -26 1 54 1 -21 1 -58 1 57 1 -25 1 -45 1 82 1 80 1 -198 1 126 1 76 1 -18 1 22 1 23 1 -66 1 54 1 -9 1 -79 1 -49 1 172 1 -45 1 -58 1 -37 1 -32 1 79 1 -25 1 -22 1 16 1 40 1 -18 1 12 1 -76 1 133 1 -49 1 -18 1 9 1 -51 1 51 1 -12 1 -3 1 68 1 -35 1 -61 1 -29 1 75 1 -52 1 22 1 -6 1 -60 1 99 1 -42 1 -20 1 40 1 -22 1 -19 1 -89 1 124 1 55 1 -54 1 1 1 -8 1 -16 1 -43 1 184 1 -118 1 -7 1 27 1 77 1 -186 1 108 1 -85 1 31 1 26 1 -21 1 24 1 -34 1 150 1 -154 1 -45 1 87 1 2 1 -75 1 111 1 -56 1 56 1 -18 1 43 1 -61 1 -46 1 16 1 24 1 -21 1 0 1 39 1 -13 1 -19 1 -43 1 -3 1 66 1 36 1 -14 1 -104 1 66 1 11 1 28 1 -19 1 -47 1 -20 1 19 1 19 1 -20 1 100 1 17 1 -104 1 1 1 -63 1 138 1 -30 1 8 1 -56 1 1 1 -2 1 13 1 35 1 16 1 -66 1 -32 1 105 1 -161 1 119 1 -53 1 33 1 -55 1 24 1 42 1 -33 1 54 1 -98 1 56 1 20 1 14 1 23 1 4 1 87 1 -80 1 -67 1 91 1 16 1 -109 1 45 1 4 1 -71 1 51 1 -69 1 -16 1 122 1 -8 1 39 1 -129 1 26 1 -18 1 22 1 -51 1 -32 1 167 1 -66 1 -51 1 34 1 51 1 -66 1 42 1 -1 1 12 1 3 1 -77 1 40 1 16 1 -1 1 -31 1 -61 1 86 1 -25 1 22 1 -3 1 -8 1 -32 1 4 1 -1 1 59 1 -45 1 4 1 26 1 -8 1 -36 1 60 1 -34 1 28 1 -78 1 10 1 145 1 -53 1 -45 1 -14 1 107 1 -121 1 56 1 -26 1 -53 1 132 1 -91 1 37 1 -42 1 49 1 12 1 -100 1 31 1 120 1 -81 1 -59 1 106 1 -29 1 1 1 -73 1 75 1 -27 1 27 1 -12 1 -24 1 -11 1 40 1 24 1 -80 1 30 1 91 1 -92 1 52 1 17 1 -88 1 -20 1 5 1 34 1 26 1 -3 1 2 1 -142 1 69 1 112 1 -113 1 1 1 50 1 39 1 8 1 -147 1 40 1 16 1 42 1 -3 1 -38 1 62 1 49 1 -44 1 42 1 -57 1 -30 1 0 1 116 1 -131 1 -7 1 69 1 -36 1 -21 1 68 1 -43 1 -78 1 59 1 61 1 10 1 -5 1 -56 1 -30 1 -47 1 79 1 28 1 -51 1 43 1 68 1 -69 1 18 1 -39 1 -6 1 98 1 -106 1 -36 1 33 1 2 1 83 1 -58 1 28 1 -33 1 -52 1 5 1 72 1 -20 1 -36 1 32 1 -55 1 67 1 -33 1 71 1 -41 1 5 1 -36 1 5 1 12 1 -8 1 -25 1 -16 1 56 1 -16 1 -89 1 75 1 5 1 13 1 -8 1 12 1 29 1 -8 1 -51 1 60 1 -45 1 -18 1 96 1 -85 1 31 1 -61 1 63 1 -97 1 15 1 41 1 30 1 -19 1 59 1 -14 1 0 1 4 1 38 1 -4 1 -81 1 50 1 -28 1 5 1 -1 1 17 1 -121 1 100 1 25 1 -22 1 -66 1 87 1 -3 1 -4 1 -75 1 133 1 -88 1 -24 1 20 1 60 1 -108 1 21 1 52 1 -2 1 -54 1 20 1 45 1 92 1 -38 1 -191 1 131 1 -50 1 49 1 8 1 -44 1 24 1 -11 1 8 1 22 1 -12 1 -11 1 68 1 -41 1 -26 1 -8 1 25 1 59 1 -44 1 58 1 -122 1 30 1 -24 1 -17 1 88 1 -9 1 6 1 20 1 -94 1 22 1 19 1 -66 1 36 1 39 1 23 1 -24 1 -16 1 -42 1 18 1 52 1 -4 1 -5 1 35 1 21 1 -70 1 25 1 -9 1 14 1 -13 1 -65 1 23 1 17 1 -9 1 4 1 -37 1 13 1 22 1 37 1 -17 1 13 1 -37 1 -20 1 74 1 7 1 2 1 -83 1 -17 1 111 1 -33 1 -25 1 -20 1 -62 1 132 1 -48 1 39 1 22 1 -97 1 -33 1 70 1 6 1 -62 1 -1 1 -36 1 117 1 11 1 -46 1 26 1 -56 1 -8 1 40 1 -32 1 42 1 27 1 -57 1 42 1 17 1 -62 1 19 1 8 1 4 1 -4 1 6 1 -29 1 40 1 -36 1 65 1 -89 1 -12 1 46 1 -23 1 39 1 -33 1 130 1 -148 1 29 1 17 1 -86 1 128 1 42 1 -139 1 6 1 63 1 0 1 -5 1 -42 1 -6 1 19 1 4 1 25 1 -17 1 57 1 -39 1 -17 1 34 1 -2 1 -18 1 -39 1 34 1 0 1 29 1 -13 1 20 1 -25 1 25 1 -26 1 -11 1 -20 1 41 1 -22 1 -7 1 19 1 15 1 -57 1 -53 1 32 1 52 1 -10 1 3 1 -29 1 -49 1 148 1 -104 1 11 1 84 1 -48 1 32 1 -51 1 25 1 10 1 -77 1 107 1 -81 1 -3 1 87 1 -11 1 -40 1 73 1 -138 1 1 1 147 1 -113 1 21 1 46 1 -7 1 1 1 20 1 -73 1 -3 1 47 1 23 1 -44 1 -79 1 49 1 -13 1 100 1 -55 1 -8 1 -14 1 10 1 -66 1 68 1 10 1 27 1 -43 1 -41 1 76 1 -64 1 64 1 12 1 8 1 -50 1 64 1 45 1 -137 1 46 1 -8 1 38 1 -17 1 -22 1 90 1 -66 1 8 1 -56 1 3 1 -16 1 -41 1 157 1 -28 1 9 1 28 1 -56 1 4 1 -42 1 50 1 -72 1 -25 1 -9 1 33 1 55 1 -4 1 4 1 24 1 -39 1 -27 1 23 1 67 1 -99 1 19 1 80 1 -48 1 -60 1 29 1 35 1 18 1 -19 1 -31 1 26 1 52 1 -37 1 -75 1 -4 1 15 1 64 1 -15 1 -26 1 38 1 -55 1 3 1 23 1 22 1 -145 1 177 1 -22 1 -65 1 37 1 11 1 -53 1 35 1 29 1 -40 1 -15 1 12 1 33 1 -47 1 8 1 -36 1 -6 1 78 1 -27 1 -29 1 103 1 -115 1 81 1 12 1 67 1 -117 1 16 1 -49 1 38 1 53 1 14 1 -46 1 -10 1 49 1 -88 1 102 1 -71 1 -51 1 87 1 4 1 -83 1 135 1 -50 1 -111 1 80 1 -39 1 -36 1 75 1 17 1 -45 1 22 1 2 1 -16 1 -22 1 25 1 54 1 0 1 -10 1 13 1 -55 1 -28 1 -27 1 108 1 -18 1 -42 1 16 1 17 1 -30 1 0 1 28 1 -71 1 -14 1 79 1 -29 1 12 1 55 1 -37 1 34 1 -35 1 70 1 -111 1 51 1 -24 1 -16 1 45 1 -15 1 -12 1 -12 1 -82 1 79 1 -95 1 207 1 33 1 -121 1 88 1 -164 1 58 1 17 1 -32 1 -21 1 39 1 25 1 49 1 -44 1 25 1 -105 1 -8 1 66 1 15 1 -41 1 11 1 36 1 47 1 9 1 -120 1 6 1 23 1 37 1 -50 1 25 1 -19 1 29 1 -23 1 30 1 -5 1 -70 1 79 1 -35 1 9 1 59 1 -20 1 -33 1 8 1 13 1 -98 1 50 1 44 1 -1 1 -64 1 48 1 58 1 12 1 -39 1 -41 1 -6 1 29 1 -36 1 28 1 -71 1 152 1 -58 1 19 1 -97 1 50 1 29 1 5 1 -4 1 -43 1 52 1 -51 1 97 1 -83 1 50 1 -11 1 -55 1 49 1 30 1 -33 1 -24 1 27 1 2 1 -81 1 -37 1 69 1 -4 1 64 1 -8 1 -44 1 51 1 -12 1 54 1 -22 1 -103 1 65 1 15 1 -11 1 11 1 -86 1 67 1 -12 1 -13 1 47 1 -54 1 1 1 75 1 17 1 -26 1 -8 1 21 1 1 1 -53 1 -16 1 -21 1 80 1 -20 1 27 1 2 1 -1 1 -15 1 -22 1 29 1 1 1 3 1 -43 1 30 1 -87 1 113 1 12 1 -40 1 9 1 -64 1 116 1 -194 1 140 1 -102 1 58 1 38 1 -63 1 40 1 0 1 3 1 20 1 -19 1 12 1 5 1 -51 1 -24 1 126 1 -17 1 -59 1 2 1 83 1 -51 1 -95 1 91 1 41 1 -97 1 38 1 -24 1 61 1 12 1 -58 1 -25 1 120 1 -81 1 -47 1 98 1 67 1 -83 1 -4 1 11 1 -13 1 -28 1 24 1 -3 1 7 1 95 1 -95 1 -47 1 -10 1 80 1 -48 1 36 1 -24 1 -27 1 99 1 46 1 -83 1 -85 1 95 1 -89 1 171 1 -164 1 123 1 -81 1 -61 1 85 1 -27 1 -11 1 75 1 -57 1 -12 1 20 1 -42 1 34 1 45 1 31 1 -46 1 -99 1 59 1 -3 1 -3 1 27 1 35 1 -31 1 -53 1 49 1 -1 1 2 1 -11 1 -24 1 -14 1 123 1 9 1 -54 1 -30 1 63 1 -42 1 25 1 -58 1 9 1 4 1 11 1 -32 1 -4 1 47 1 -50 1 24 1 2 1 23 1 -85 1 57 1 45 1 -9 1 63 1 -119 1 98 1 -16 1 -68 1 31 1 19 1 -56 1 13 1 8 1 4 1 -19 1 21 1 81 1 -64 1 33 1 -82 1 46 1 32 1 -2 1 14 1 -14 1 41 1 -123 1 62 1 40 1 -28 1 -92 1 -74 1 95 1 33 1 39 1 78 1 -50 1 -9 1 23 1 -49 1 6 1 -33 1 8 1 37 1 -75 1 68 1 -20 1 -35 1 0 1 -2 1 120 1 -93 1 17 1 -42 1 72 1 -25 1 -63 1 70 1 72 1 -157 1 178 1 -94 1 87 1 -125 1 76 1 -14 1 -24 1 34 1 -54 1 20 1 5 1 -30 1 47 1 -93 1 101 1 54 1 -100 1 -2 1 134 1 -63 1 -21 1 -13 1 73 1 -99 1 34 1 -11 1 -60 1 102 1 -44 1 -13 1 -5 1 64 1 -14 1 3 1 17 1 45 1 -124 1 67 1 -16 1 25 1 -94 1 49 1 61 1 -112 1 43 1 -70 1 49 1 15 1 51 1 -16 1 -66 1 77 1 -46 1 22 1 -24 1 17 1 41 1 3 1 -51 1 19 1 22 1 -43 1 65 1 -17 1 -33 1 -68 1 12 1 38 1 12 1 46 1 -39 1 -22 1 -55 1 115 1 -26 1 33 1 8 1 -5 1 -31 1 74 1 -43 1 -96 1 87 1 -71 1 83 1 -42 1 14 1 43 1 -31 1 5 1 -43 1 -18 1 15 1 59 1 49 1 -55 1 123 1 -178 1 1 1 73 1 -32 1 -36 1 5 1 41 1 -14 1 -6 1 -17 1 37 1 -46 1 -29 1 83 1 -56 1 -14 1 53 1 8 1 -77 1 -7 1 156 1 -78 1 -11 1 21 1 -36 1 12 1 1 1 -14 1 14 1 -4 1 4 1 27 1 6 1 -63 1 -47 1 109 1 -26 1 13 1 -42 1 41 1 9 1 38 1 -134 1 53 1 9 1 36 1 -70 1 11 1 9 1 19 1 -86 1 124 1 -111 1 93 1 -39 1 -1 1 -64 1 99 1 -136 1 71 1 45 1 -6 1 14 1 -61 1 123 1 7 1 -84 1 -14 1 -36 1 81 1 -51 1 -22 1 49 1 4 1 33 1 -88 1 81 1 41 1 -38 1 13 1 -13 1 67 1 -125 1 -4 1 126 1 -136 1 43 1 -16 1 7 1 40 1 -103 1 111 1 -60 1 55 1 -19 1 -23 1 61 1 -36 1 -22 1 40 1 13 1 -80 1 93 1 -100 1 -38 1 70 1 -34 1 -4 1 4 1 49 1 -79 1 106 1 19 1 -86 1 33 1 -154 1 74 1 33 1 38 1 -31 1 -7 1 -2 1 8 1 -18 1 -22 1 10 1 62 1 -54 1 24 1 -6 1 -24 1 92 1 -7 1 -58 1 -24 1 -15 1 83 1 2 1 -148 1 92 1 -15 1 10 1 39 1 15 1 3 1 -48 1 24 1 -120 1 190 1 -79 1 -57 1 39 1 3 1 -7 1 -60 1 106 1 -20 1 -6 1 -13 1 -69 1 111 1 -103 1 25 1 -3 1 16 1 6 1 -4 1 62 1 9 1 -105 1 32 1 26 1 -43 1 50 1 -43 1 -26 1 119 1 -44 1 6 1 6 1 -9 1 2 1 -15 1 11 1 -23 1 -23 1 51 1 -11 1 -67 1 -25 1 81 1 -58 1 63 1 49 1 -61 1 -62 1 39 1 -73 1 122 1 -5 1 39 1 4 1 -90 1 -93 1 95 1 4 1 -43 1 58 1 21 1 -1 1 -43 1 -21 1 20 1 13 1 -48 1 65 1 -32 1 -14 1 -7 1 -13 1 -18 1 53 1 39 1 -33 1 -29 1 -59 1 112 1 -132 1 92 1 -31 1 11 1 41 1 -14 1 -42 1 -17 1 62 1 -18 1 36 1 -37 1 -22 1 44 1 -45 1 37 1 -7 1 -54 1 -50 1 97 1 1 1 -23 1 59 1 5 1 -13 1 -48 1 20 1 -55 1 67 1 -43 1 15 1 -9 1 1 1 94 1 -11 1 -105 1 67 1 -60 1 59 1 -46 1 -14 1 33 1 4 1 -48 1 16 1 -33 1 -58 1 150 1 -80 1 56 1 -88 1 108 1 -21 1 -10 1 93 1 -98 1 77 1 -153 1 73 1 -22 1 -56 1 -5 1 50 1 39 1 -68 1 30 1 23 1 8 1 -72 1 51 1 -58 1 53 1 11 1 62 1 -34 1 -87 1 89 1 -50 1 102 1 -100 1 77 1 9 1 -110 1 -4 1 173 1 -112 1 -11 1 -75 1 56 1 55 1 -161 1 37 1 122 1 -77 1 15 1 67 1 -114 1 -4 1 116 1 -97 1 40 1 11 1 -35 1 -4 1 12 1 -13 1 72 1 -23 1 -98 1 130 1 -5 1 -69 1 53 1 35 1 -14 1 -15 1 -33 1 51 1 -17 1 -19 1 -4 1 -59 1 65 1 64 1 -204 1 92 1 59 1 -8 1 39 1 -32 1 61 1 -92 1 -49 1 64 1 -19 1 -2 1 -18 1 57 1 -33 1 -20 1 52 1 -47 1 -34 1 81 1 -91 1 58 1 -109 1 122 1 8 1 36 1 -84 1 81 1 -105 1 76 1 -48 1 -62 1 62 1 63 1 5 1 -42 1 -25 1 19 1 -27 1 13 1 22 1 31 1 -33 1 -31 1 -15 1 0 1 67 1 -23 1 -25 1 24 1 51 1 -26 1 -11 1 -13 1 -47 1 115 1 -71 1 -5 1 -12 1 -24 1 28 1 34 1 27 1 -4 1 1 1 -91 1 105 1 -30 1 -14 1 -37 1 59 1 -23 1 49 1 -5 1 68 1 -92 1 -31 1 57 1 -6 1 -27 1 -29 1 7 1 -9 1 49 1 20 1 31 1 -85 1 -31 1 -8 1 57 1 -7 1 9 1 -83 1 48 1 -44 1 103 1 -7 1 -2 1 -23 1 65 1 -63 1 13 1 -39 1 29 1 18 1 -19 1 -10 1 -10 1 35 1 -18 1 -28 1 64 1 -44 1 -9 1 26 1 -24 1 69 1 -87 1 24 1 88 1 -32 1 29 1 0 1 -41 1 -31 1 6 1 107 1 -85 1 43 1 -40 1 28 1 -47 1 70 1 -74 1 -13 1 36 1 11 1 76 1 -150 1 136 1 -52 1 -2 1 1 1 -9 1 -25 1 27 1 35 1 -105 1 22 1 -6 1 42 1 -6 1 10 1 23 1 42 1 29 1 -90 1 13 1 10 1 61 1 -3 1 -114 1 61 1 -71 1 75 1 -93 1 45 1 -51 1 67 1 -33 1 63 1 -127 1 149 1 -31 1 37 1 -52 1 -66 1 70 1 57 1 -26 1 56 1 -95 1 -50 1 -9 1 50 1 8 1 33 1 8 1 -60 1 55 1 19 1 -15 1 13 1 -56 1 43 1 -35 1 30 1 10 1 -66 1 -16 1 105 1 13 1 2 1 -78 1 42 1 -50 1 72 1 -37 1 57 1 -28 1 -20 1 9 1 -27 1 -22 1 30 1 -2 1 68 1 -86 1 -8 1 18 1 68 1 -111 1 36 1 -35 1 64 1 85 1 -154 1 78 1 37 1 2 1 -81 1 3 1 70 1 -32 1 -28 1 48 1 16 1 -92 1 31 1 60 1 -68 1 64 1 -99 1 44 1 18 1 38 1 -37 1 52 1 -66 1 95 1 20 1 -81 1 -68 1 48 1 -7 1 9 1 3 1 84 1 26 1 -92 1 18 1 5 1 -46 1 -14 1 -30 1 -12 1 38 1 40 1 -42 1 22 1 -7 1 -9 1 -14 1 60 1 -67 1 113 1 -105 1 43 1 -43 1 10 1 15 1 30 1 4 1 -65 1 -40 1 115 1 -55 1 -7 1 30 1 5 1 50 1 -51 1 31 1 6 1 4 1 -56 1 76 1 -38 1 -2 1 26 1 -61 1 -69 1 47 1 92 1 -32 1 55 1 -86 1 20 1 -50 1 28 1 98 1 -66 1 -68 1 82 1 8 1 -47 1 -5 1 36 1 16 1 -5 1 -45 1 -15 1 -7 1 86 1 -50 1 -11 1 46 1 36 1 -7 1 -54 1 -36 1 -12 1 86 1 -79 1 54 1 14 1 29 1 -62 1 33 1 -71 1 6 1 119 1 -103 1 56 1 -10 1 -17 1 -62 1 84 1 -60 1 35 1 -7 1 -23 1 104 1 -108 1 64 1 -31 1 -62 1 94 1 52 1 -86 1 12 1 44 1 -14 1 -124 1 71 1 78 1 -122 1 84 1 -79 1 23 1 -9 1 50 1 6 1 -61 1 63 1 -29 1 36 1 -116 1 14 1 13 1 32 1 4 1 -63 1 90 1 -17 1 64 1 -56 1 63 1 -87 1 -27 1 26 1 62 1 -87 1 40 1 -32 1 119 1 -52 1 23 1 -134 1 124 1 -11 1 -89 1 89 1 -36 1 -41 1 19 1 29 1 12 1 -63 1 141 1 -113 1 -36 1 73 1 32 1 -53 1 17 1 14 1 -68 1 16 1 -9 1 -15 1 -67 1 37 1 93 1 -88 1 115 1 -69 1 63 1 -32 1 -28 1 117 1 -53 1 -62 1 100 1 -68 1 -42 1 50 1 -30 1 24 1 22 1 -87 1 55 1 0 1 -11 1 -4 1 69 1 -38 1 -85 1 62 1 -13 1 6 1 -21 1 -7 1 1 1 79 1 24 1 -89 1 -63 1 68 1 14 1 -10 1 16 1 -31 1 70 1 -118 1 130 1 -66 1 -7 1 14 1 -11 1 -6 1 13 1 16 1 -74 1 84 1 -19 1 -65 1 19 1 61 1 44 1 -72 1 -68 1 56 1 17 1 -8 1 0 1 26 1 -20 1 -65 1 -1 1 98 1 -43 1 -4 1 23 1 12 1 -71 1 -10 1 145 1 -124 1 14 1 4 1 -36 1 82 1 -65 1 56 1 -16 1 50 1 23 1 -76 1 60 1 -50 1 -47 1 48 1 15 1 -10 1 -5 1 -37 1 83 1 -3 1 -32 1 -110 1 71 1 -19 1 26 1 68 1 -108 1 117 1 -42 1 -69 1 57 1 1 1 -20 1 39 1 -5 1 -123 1 140 1 26 1 -159 1 49 1 -6 1 78 1 -32 1 45 1 -103 1 -41 1 135 1 -7 1 -54 1 -44 1 -7 1 45 1 -18 1 -89 1 91 1 -26 1 5 1 75 1 2 1 0 1 -29 1 -40 1 -57 1 111 1 -62 1 2 1 35 1 1 1 52 1 53 1 -148 1 30 1 67 1 -34 1 -14 1 -4 1 46 1 -85 1 -25 1 65 1 0 1 -90 1 118 1 -22 1 29 1 13 1 -45 1 2 1 -13 1 91 1 -82 1 -57 1 35 1 -21 1 68 1 16 1 -61 1 -14 1 23 1 -46 1 31 1 51 1 -21 1 -38 1 79 1 -132 1 73 1 1 1 69 1 -113 1 -12 1 69 1 17 1 -77 1 102 1 -114 1 27 1 46 1 -75 1 131 1 -109 1 19 1 110 1 -72 1 -70 1 137 1 -65 1 -57 1 -16 1 -47 1 61 1 78 1 -111 1 129 1 -17 1 -141 1 114 1 5 1 -2 1 -82 1 49 1 16 1 -20 1 5 1 3 1 50 1 -19 1 58 1 -137 1 17 1 24 1 -1 1 88 1 3 1 -77 1 64 1 -113 1 103 1 -134 1 27 1 15 1 -29 1 32 1 -40 1 118 1 -84 1 94 1 -75 1 67 1 -65 1 -53 1 94 1 -50 1 -38 1 82 1 -7 1 4 1 -24 1 -31 1 60 1 -30 1 16 1 39 1 20 1 -116 1 -62 1 119 1 -10 1 8 1 -43 1 38 1 -30 1 33 1 -82 1 75 1 -15 1 124 1 -82 1 1 1 7 1 35 1 -30 1 -7 1 -60 1 -34 1 167 1 -169 1 27 1 92 1 -30 1 -2 1 -56 1 71 1 -84 1 37 1 2 1 3 1 -63 1 54 1 34 1 8 1 -84 1 18 1 -84 1 84 1 54 1 -74 1 72 1 -60 1 124 1 -113 1 10 1 73 1 -89 1 -39 1 117 1 27 1 -98 1 -18 1 28 1 -47 1 24 1 -18 1 -4 1 26 1 92 1 -74 1 -7 1 44 1 -23 1 71 1 -21 1 -95 1 43 1 -34 1 30 1 -31 1 35 1 50 1 -61 1 -62 1 68 1 -11 1 94 1 -135 1 92 1 -89 1 88 1 -28 1 -30 1 -43 1 145 1 -123 1 26 1 13 1 48 1 -91 1 31 1 56 1 22 1 -30 1 -24 1 -89 1 21 1 102 1 -21 1 -33 1 78 1 -40 1 -53 1 47 1 14 1 -62 1 50 1 -43 1 17 1 -34 1 32 1 34 1 -4 1 9 1 -2 1 -72 1 15 1 22 1 66 1 -11 1 15 1 -124 1 -2 1 16 1 -33 1 71 1 59 1 -75 1 -12 1 70 1 -108 1 37 1 15 1 2 1 -57 1 59 1 8 1 16 1 17 1 -93 1 77 1 -23 1 51 1 -22 1 -33 1 3 1 -10 1 52 1 -62 1 -84 1 129 1 22 1 -126 1 33 1 61 1 -12 1 -30 1 12 1 45 1 26 1 -18 1 -21 1 -27 1 28 1 -10 1 -19 1 57 1 -37 1 -1 1 24 1 -19 1 1 1 -22 1 92 1 -113 1 -9 1 5 1 86 1 -23 1 -30 1 74 1 -100 1 20 1 -17 1 8 1 4 1 -4 1 139 1 -144 1 37 1 -4 1 9 1 -63 1 26 1 8 1 43 1 -46 1 -29 1 26 1 63 1 -30 1 29 1 -39 1 -84 1 116 1 -33 1 -47 1 4 1 40 1 -42 1 67 1 18 1 -115 1 76 1 20 1 -40 1 29 1 -49 1 50 1 -84 1 43 1 54 1 68 1 -120 1 25 1 40 1 -42 1 40 1 -8 1 -91 1 57 1 55 1 -24 1 46 1 -55 1 1 1 -21 1 -14 1 3 1 -8 1 9 1 7 1 7 1 53 1 -28 1 12 1 -151 1 92 1 -31 1 -25 1 25 1 57 1 -88 1 6 1 82 1 19 1 -43 1 29 1 -1 1 25 1 -82 1 -18 1 142 1 -91 1 49 1 -81 1 13 1 -19 1 99 1 -146 1 28 1 21 1 80 1 -98 1 8 1 14 1 42 1 -65 1 13 1 -13 1 14 1 106 1 -60 1 -23 1 23 1 -75 1 -16 1 85 1 -16 1 -21 1 -50 1 70 1 48 1 -72 1 93 1 -28 1 -65 1 75 1 -6 1 -31 1 15 1 -57 1 68 1 72 1 -105 1 -23 1 -19 1 112 1 -33 1 -29 1 16 1 -58 1 19 1 17 1 20 1 26 1 -8 1 -98 1 113 1 -14 1 -46 1 20 1 23 1 46 1 -39 1 11 1 -6 1 -12 1 -47 1 54 1 -58 1 54 1 21 1 33 1 -58 1 -36 1 35 1 13 1 12 1 -33 1 -3 1 -8 1 -7 1 -46 1 118 1 -19 1 -98 1 54 1 -37 1 68 1 -65 1 11 1 6 1 28 1 -51 1 51 1 4 1 75 1 -108 1 24 1 -11 1 -48 1 28 1 58 1 6 1 -119 1 102 1 20 1 19 1 37 1 -23 1 -1 1 -145 1 43 1 36 1 -31 1 52 1 -63 1 -30 1 38 1 -33 1 -32 1 103 1 -34 1 -4 1 -19 1 76 1 -31 1 -15 1 -21 1 50 1 -5 1 39 1 -87 1 77 1 -45 1 14 1 -26 1 80 1 -37 1 -63 1 33 1 -6 1 -95 1 123 1 -1 1 -33 1 67 1 -21 1 -41 1 8 1 72 1 -116 1 141 1 -80 1 52 1 -112 1 36 1 -9 1 -21 1 144 1 -72 1 -21 1 2 1 72 1 -1 1 -48 1 3 1 -75 1 67 1 15 1 -45 1 -88 1 46 1 32 1 23 1 -54 1 77 1 -87 1 152 1 -72 1 24 1 -60 1 18 1 -77 1 28 1 44 1 -15 1 1 1 24 1 16 1 -81 1 90 1 29 1 -123 1 -25 1 106 1 -64 1 51 1 -10 1 -8 1 7 1 45 1 -58 1 59 1 -57 1 -15 1 109 1 -96 1 16 1 -13 1 -16 1 0 1 60 1 -34 1 76 1 -34 1 -41 1 -45 1 13 1 31 1 2 1 -12 1 -11 1 80 1 -83 1 -22 1 80 1 -2 1 -72 1 54 1 24 1 -97 1 33 1 2 1 33 1 -21 1 34 1 -38 1 -56 1 61 1 -12 1 94 1 -6 1 -17 1 -102 1 57 1 -6 1 25 1 -6 1 -39 1 51 1 -37 1 48 1 -25 1 13 1 105 1 -126 1 47 1 -92 1 109 1 -70 1 -57 1 133 1 -108 1 103 1 -76 1 -47 1 45 1 95 1 -56 1 -21 1 12 1 10 1 5 1 18 1 -26 1 24 1 -98 1 2 1 42 1 -27 1 36 1 23 1 -32 1 11 1 27 1 -28 1 -8 1 26 1 -75 1 98 1 -106 1 60 1 -14 1 -24 1 36 1 41 1 -23 1 -1 1 -22 1 86 1 -80 1 13 1 -3 1 61 1 -12 1 -57 1 58 1 -5 1 -69 1 44 1 -61 1 19 1 -74 1 39 1 45 1 51 1 26 1 -96 1 83 1 -25 1 -131 1 132 1 -88 1 1 1 77 1 -57 1 -9 1 183 1 -164 1 -42 1 75 1 -12 1 30 1 58 1 -190 1 31 1 139 1 -19 1 -49 1 -14 1 61 1 60 1 -40 1 -85 1 -24 1 76 1 -87 1 32 1 -40 1 86 1 12 1 17 1 -80 1 48 1 49 1 -54 1 61 1 -69 1 -34 1 104 1 -111 1 71 1 -27 1 -24 1 8 1 58 1 -47 1 -9 1 -78 1 44 1 -22 1 47 1 53 1 10 1 -28 1 -74 1 71 1 45 1 -120 1 49 1 45 1 -87 1 142 1 -113 1 39 1 -22 1 -22 1 65 1 -65 1 -7 1 52 1 -45 1 47 1 36 1 -134 1 24 1 121 1 -188 1 132 1 -66 1 51 1 -2 1 -11 1 30 1 -35 1 19 1 46 1 64 1 -34 1 -3 1 -85 1 -51 1 88 1 65 1 -86 1 -22 1 33 1 8 1 -67 1 35 1 44 1 -68 1 2 1 -71 1 105 1 10 1 -1 1 22 1 -54 1 -9 1 -32 1 66 1 58 1 -12 1 -80 1 94 1 -81 1 -16 1 56 1 -62 1 -13 1 33 1 -22 1 -15 1 123 1 44 1 -42 1 -75 1 -49 1 33 1 33 1 -3 1 51 1 -12 1 -28 1 -5 1 -36 1 55 1 7 1 -32 1 42 1 -46 1 -28 1 82 1 -90 1 155 1 -110 1 65 1 -90 1 -49 1 98 1 -22 1 -47 1 56 1 7 1 5 1 6 1 -85 1 7 1 14 1 94 1 -141 1 106 1 -24 1 13 1 -78 1 96 1 -99 1 2 1 130 1 -56 1 -54 1 70 1 -85 1 126 1 -81 1 -51 1 57 1 -57 1 107 1 -67 1 75 1 -16 1 41 1 -26 1 10 1 -55 1 -33 1 88 1 -111 1 64 1 2 1 -11 1 54 1 -18 1 -67 1 68 1 -55 1 -74 1 54 1 42 1 -19 1 32 1 -29 1 10 1 10 1 14 1 -24 1 -90 1 123 1 -61 1 -56 1 109 1 -67 1 4 1 66 1 -72 1 28 1 -9 1 40 1 87 1 -164 1 17 1 26 1 -92 1 77 1 -29 1 48 1 54 1 -15 1 -58 1 4 1 -15 1 83 1 -44 1 30 1 25 1 -103 1 11 1 -26 1 149 1 -80 1 81 1 -82 1 27 1 49 1 -10 1 -86 1 -18 1 90 1 24 1 -88 1 84 1 -149 1 15 1 -12 1 14 1 90 1 -35 1 27 1 -12 1 -76 1 101 1 -83 1 77 1 -40 1 -5 1 8 1 33 1 -8 1 -64 1 124 1 -133 1 -48 1 115 1 -107 1 92 1 111 1 -85 1 67 1 -141 1 26 1 6 1 -18 1 11 1 -32 1 82 1 48 1 -75 1 73 1 -68 1 -79 1 24 1 76 1 -20 1 19 1 16 1 -83 1 34 1 4 1 -13 1 18 1 -64 1 109 1 -13 1 2 1 37 1 -2 1 61 1 -173 1 148 1 -126 1 45 1 -68 1 178 1 -109 1 -46 1 -39 1 84 1 -5 1 -17 1 -10 1 37 1 -29 1 86 1 -180 1 84 1 41 1 -91 1 29 1 163 1 -124 1 -41 1 6 1 35 1 -118 1 171 1 -136 1 109 1 -31 1 80 1 -78 1 -93 1 79 1 96 1 -78 1 -7 1 5 1 124 1 -145 1 104 1 -134 1 0 1 91 1 13 1 -26 1 -54 1 2 1 8 1 -57 1 38 1 18 1 -47 1 27 1 -41 1 129 1 -57 1 11 1 -43 1 55 1 -14 1 47 1 -3 1 -111 1 146 1 -26 1 -123 1 56 1 97 1 -109 1 112 1 -172 1 57 1 29 1 -10 1 29 1 -4 1 -107 1 77 1 13 1 32 1 18 1 -16 1 -82 1 20 1 -26 1 149 1 -18 1 -40 1 -73 1 92 1 -27 1 -4 1 -64 1 71 1 6 1 -36 1 -3 1 19 1 27 1 -74 1 57 1 -7 1 4 1 -59 1 2 1 26 1 31 1 -15 1 9 1 -10 1 -60 1 47 1 -2 1 -21 1 6 1 26 1 -52 1 76 1 72 1 -111 1 -11 1 58 1 -52 1 11 1 -55 1 74 1 -87 1 138 1 -9 1 -26 1 33 1 -85 1 63 1 -48 1 -63 1 19 1 17 1 -50 1 138 1 -55 1 -81 1 110 1 10 1 15 1 -141 1 104 1 -18 1 -14 1 5 1 21 1 -19 1 -48 1 58 1 6 1 -27 1 -22 1 19 1 19 1 -9 1 -15 1 -25 1 14 1 19 1 8 1 -35 1 42 1 -13 1 -37 1 48 1 88 1 -48 1 -26 1 37 1 -9 1 0 1 29 1 -64 1 -44 1 115 1 -76 1 41 1 -97 1 57 1 -44 1 21 1 -35 1 42 1 37 1 51 1 -96 1 58 1 -14 1 -4 1 -62 1 77 1 -16 1 -30 1 -45 1 104 1 -1 1 -66 1 -2 1 -66 1 102 1 35 1 5 1 -52 1 -2 1 -40 1 -2 1 -22 1 100 1 -78 1 47 1 67 1 -94 1 2 1 20 1 -9 1 -54 1 135 1 -30 1 -37 1 -44 1 33 1 8 1 11 1 84 1 -76 1 -17 1 17 1 7 1 -44 1 1 1 -14 1 77 1 -138 1 86 1 13 1 36 1 -95 1 -2 1 42 1 7 1 72 1 -72 1 59 1 -52 1 22 1 41 1 -53 1 -64 1 75 1 -69 1 29 1 53 1 -97 1 50 1 -15 1 4 1 -12 1 52 1 92 1 -114 1 -13 1 5 1 4 1 -24 1 108 1 -69 1 -27 1 46 1 -46 1 61 1 -86 1 -13 1 67 1 57 1 -138 1 -51 1 117 1 47 1 3 1 -68 1 -13 1 37 1 -14 1 -2 1 37 1 -5 1 -21 1 -1 1 25 1 -12 1 -77 1 113 1 -79 1 155 1 -118 1 -41 1 99 1 -63 1 -26 1 55 1 -45 1 85 1 -29 1 64 1 -117 1 5 1 -28 1 -11 1 -18 1 20 1 100 1 6 1 -24 1 -57 1 -17 1 57 1 -11 1 -18 1 14 1 -56 1 -15 1 40 1 -41 1 -56 1 127 1 -1 1 -49 1 60 1 9 1 49 1 -54 1 -40 1 -4 1 57 1 -73 1 51 1 -74 1 69 1 12 1 10 1 -39 1 32 1 -50 1 -4 1 90 1 -40 1 -24 1 4 1 30 1 -10 1 -57 1 116 1 -71 1 84 1 -18 1 -58 1 30 1 -106 1 75 1 16 1 44 1 -70 1 100 1 -99 1 56 1 18 1 -69 1 73 1 -39 1 24 1 -87 1 -1 1 113 1 -9 1 -6 1 -44 1 12 1 -36 1 -5 1 -14 1 -9 1 43 1 0 1 -37 1 10 1 100 1 -52 1 -1 1 52 1 -74 1 28 1 63 1 -105 1 10 1 69 1 -85 1 96 1 -119 1 24 1 61 1 -60 1 15 1 72 1 -113 1 55 1 -6 1 4 1 76 1 -147 1 60 1 -54 1 115 1 -48 1 5 1 -21 1 -61 1 17 1 78 1 -29 1 16 1 -11 1 -63 1 77 1 -11 1 75 1 -23 1 -37 1 -27 1 -50 1 84 1 -33 1 -5 1 -3 1 -5 1 6 1 19 1 -63 1 122 1 -75 1 -33 1 44 1 -16 1 34 1 -34 1 16 1 -20 1 52 1 -66 1 -5 1 27 1 30 1 -92 1 13 1 49 1 64 1 -12 1 -56 1 -59 1 157 1 -151 1 78 1 -72 1 26 1 57 1 -57 1 14 1 1 1 4 1 105 1 -110 1 -27 1 102 1 -147 1 110 1 45 1 -16 1 -23 1 -59 1 65 1 -77 1 6 1 143 1 -37 1 12 1 -122 1 47 1 13 1 -47 1 90 1 -71 1 0 1 75 1 26 1 -134 1 -30 1 52 1 58 1 -6 1 -25 1 -27 1 2 1 -37 1 95 1 -9 1 -39 1 117 1 -81 1 -3 1 -86 1 127 1 -189 1 154 1 5 1 -60 1 -65 1 109 1 29 1 -97 1 94 1 17 1 13 1 -12 1 -143 1 133 1 -86 1 56 1 -24 1 78 1 -61 1 34 1 -20 1 8 1 6 1 -28 1 -51 1 60 1 -35 1 14 1 12 1 0 1 -9 1 141 1 -18 1 -63 1 -111 1 -29 1 53 1 7 1 22 1 -22 1 55 1 -15 1 -22 1 58 1 -5 1 -43 1 -34 1 74 1 29 1 -88 1 -6 1 -23 1 -23 1 0 1 78 1 -10 1 -56 1 57 1 -2 1 -35 1 64 1 2 1 -19 1 52 1 -59 1 -3 1 -33 1 45 1 11 1 -21 1 -2 1 -36 1 68 1 -49 1 22 1 -99 1 92 1 -39 1 10 1 1 1 -28 1 -20 1 112 1 -29 1 -31 1 36 1 -22 1 -32 1 44 1 40 1 11 1 -69 1 80 1 -139 1 98 1 38 1 -8 1 -24 1 -130 1 71 1 -20 1 54 1 43 1 -35 1 -50 1 -66 1 201 1 -81 1 -125 1 13 1 93 1 -43 1 50 1 -32 1 60 1 -1 1 -22 1 -140 1 206 1 -56 1 86 1 -142 1 46 1 14 1 18 1 43 1 -46 1 73 1 -107 1 -85 1 89 1 -44 1 48 1 1 1 -27 1 -41 1 82 1 -16 1 -38 1 77 1 -12 1 30 1 -75 1 -104 1 61 1 8 1 35 1 -42 1 -17 1 106 1 -54 1 22 1 60 1 -50 1 5 1 -60 1 72 1 -43 1 -18 1 53 1 -55 1 53 1 -27 1 -11 1 22 1 -15 1 41 1 -31 1 -9 1 -42 1 38 1 -24 1 5 1 -8 1 35 1 114 1 -71 1 35 1 -100 1 40 1 30 1 -8 1 -123 1 94 1 15 1 -58 1 -47 1 67 1 26 1 82 1 -101 1 -28 1 119 1 -102 1 12 1 1 1 34 1 -147 1 45 1 43 1 59 1 -32 1 12 1 8 1 18 1 4 1 1 1 2 1 -116 1 76 1 23 1 -96 1 160 1 -135 1 56 1 -99 1 141 1 -40 1 61 1 -49 1 49 1 9 1 -89 1 7 1 -40 1 100 1 -100 1 57 1 4 1 36 1 -65 1 6 1 14 1 61 1 -1 1 -37 1 83 1 -188 1 89 1 -25 1 41 1 44 1 -39 1 -34 1 23 1 4 1 -80 1 128 1 -93 1 -7 1 3 1 -8 1 4 1 69 1 -77 1 72 1 -60 1 34 1 41 1 -57 1 -5 1 87 1 -78 1 20 1 -18 1 -64 1 43 1 44 1 15 1 -59 1 50 1 -4 1 37 1 -200 1 193 1 -40 1 -44 1 -11 1 50 1 -21 1 61 1 -150 1 96 1 5 1 -20 1 -74 1 79 1 -13 1 0 1 54 1 -22 1 5 1 -46 1 48 1 51 1 -11 1 1 1 -120 1 29 1 31 1 -78 1 135 1 -135 1 118 1 12 1 -46 1 -140 1 201 1 -82 1 14 1 20 1 -38 1 36 1 -56 1 82 1 26 1 -94 1 94 1 -16 1 -84 1 120 1 -37 1 -74 1 16 1 -69 1 122 1 32 1 -44 1 -24 1 -77 1 56 1 -11 1 73 1 56 1 -139 1 108 1 -60 1 3 1 32 1 -43 1 -3 1 -41 1 12 1 34 1 13 1 69 1 -135 1 78 1 -26 1 -12 1 -44 1 34 1 13 1 45 1 -63 1 90 1 -63 1 46 1 -76 1 13 1 -46 1 21 1 2 1 40 1 1 1 -64 1 22 1 21 1 70 1 -146 1 39 1 36 1 -49 1 153 1 -82 1 -10 1 84 1 -44 1 -85 1 4 1 60 1 1 1 -29 1 42 1 -23 1 -54 1 52 1 -26 1 20 1 -60 1 143 1 -62 1 -117 1 94 1 56 1 -28 1 -55 1 5 1 81 1 33 1 -128 1 21 1 33 1 -32 1 34 1 -55 1 15 1 18 1 11 1 68 1 -54 1 -24 1 96 1 -196 1 112 1 -106 1 80 1 64 1 -19 1 16 1 12 1 -25 1 -45 1 43 1 -30 1 -33 1 -26 1 79 1 -65 1 -1 1 55 1 -18 1 50 1 -54 1 -13 1 69 1 -38 1 -18 1 150 1 -158 1 30 1 -104 1 117 1 -56 1 50 1 -74 1 15 1 61 1 1 1 -13 1 -43 1 61 1 -56 1 76 1 -2 1 2 1 -53 1 16 1 -98 1 101 1 -22 1 60 1 0 1 -12 1 -47 1 81 1 -90 1 63 1 62 1 -182 1 137 1 -80 1 4 1 14 1 -12 1 76 1 22 1 -141 1 48 1 75 1 -96 1 -26 1 10 1 50 1 -9 1 14 1 -90 1 63 1 38 1 7 1 -5 1 -55 1 79 1 -43 1 25 1 -70 1 103 1 -38 1 -41 1 13 1 -41 1 39 1 44 1 4 1 -33 1 -80 1 134 1 -43 1 29 1 15 1 -64 1 32 1 -41 1 -30 1 85 1 -70 1 46 1 24 1 19 1 -63 1 -10 1 62 1 -61 1 63 1 -57 1 -11 1 71 1 -116 1 48 1 -85 1 95 1 33 1 -22 1 32 1 -29 1 -17 1 22 1 -62 1 -41 1 23 1 91 1 27 1 -73 1 -23 1 46 1 -8 1 -22 1 -18 1 156 1 -46 1 -59 1 85 1 -47 1 -37 1 16 1 -47 1 106 1 -116 1 -30 1 40 1 26 1 -35 1 96 1 -88 1 98 1 -37 1 -140 1 184 1 -62 1 -43 1 49 1 -53 1 58 1 -4 1 -103 1 48 1 80 1 0 1 91 1 -168 1 66 1 -48 1 9 1 -22 1 24 1 20 1 41 1 -36 1 -50 1 5 1 25 1 6 1 -63 1 17 1 106 1 -89 1 -9 1 27 1 -10 1 75 1 2 1 -58 1 18 1 19 1 -60 1 27 1 -50 1 72 1 -27 1 -52 1 38 1 -5 1 -23 1 70 1 -17 1 -34 1 39 1 -166 1 158 1 0 1 -9 1 -47 1 72 1 -47 1 43 1 -81 1 83 1 8 1 -131 1 109 1 -24 1 23 1 -49 1 83 1 -40 1 34 1 -70 1 -49 1 51 1 67 1 -61 1 -1 1 48 1 -20 1 4 1 -12 1 -34 1 22 1 -32 1 28 1 13 1 8 1 21 1 -57 1 -26 1 2 1 14 1 71 1 -104 1 18 1 49 1 3 1 -43 1 53 1 -18 1 13 1 -43 1 51 1 -28 1 38 1 -52 1 34 1 26 1 -129 1 70 1 30 1 59 1 -51 1 53 1 -77 1 -22 1 30 1 29 1 15 1 3 1 -65 1 62 1 -15 1 -51 1 64 1 8 1 -87 1 54 1 -17 1 -129 1 158 1 -84 1 65 1 -54 1 22 1 29 1 1 1 1 1 9 1 -27 1 5 1 30 1 33 1 -49 1 -3 1 13 1 11 1 -59 1 90 1 -73 1 -31 1 138 1 -7 1 -118 1 24 1 24 1 67 1 27 1 -91 1 31 1 13 1 -20 1 -72 1 42 1 -23 1 41 1 8 1 -56 1 31 1 -17 1 13 1 78 1 -99 1 68 1 -91 1 5 1 92 1 -36 1 -7 1 -38 1 43 1 -78 1 12 1 104 1 -34 1 -19 1 -7 1 92 1 -107 1 48 1 34 1 30 1 -6 1 -116 1 73 1 9 1 -28 1 -9 1 -41 1 86 1 -55 1 -34 1 9 1 11 1 3 1 84 1 -91 1 -22 1 70 1 -21 1 -32 1 -41 1 6 1 63 1 34 1 20 1 -143 1 49 1 18 1 23 1 -34 1 61 1 19 1 -6 1 -86 1 109 1 -134 1 20 1 130 1 -107 1 7 1 9 1 -22 1 137 1 -122 1 62 1 -23 1 -30 1 65 1 -45 1 -61 1 114 1 -135 1 94 1 -9 1 -1 1 -43 1 6 1 17 1 -25 1 -5 1 71 1 23 1 -97 1 137 1 -85 1 46 1 -139 1 77 1 -22 1 1 1 -11 1 18 1 0 1 80 1 -58 1 1 1 28 1 -8 1 34 1 -52 1 -48 1 24 1 69 1 -14 1 -20 1 -33 1 -72 1 154 1 -50 1 -68 1 -11 1 -10 1 55 1 73 1 -95 1 94 1 -75 1 35 1 -25 1 53 1 -69 1 55 1 8 1 -24 1 22 1 -27 1 -44 1 -53 1 88 1 8 1 93 1 -62 1 -107 1 131 1 -79 1 28 1 -6 1 -6 1 8 1 -54 1 60 1 46 1 -131 1 -1 1 92 1 -18 1 16 1 90 1 -120 1 -48 1 -20 1 115 1 -117 1 85 1 50 1 -111 1 102 1 -17 1 31 1 16 1 -90 1 -43 1 112 1 -49 1 -35 1 25 1 46 1 -53 1 51 1 55 1 -85 1 -18 1 21 1 -155 1 233 1 -78 1 57 1 -59 1 -54 1 27 1 67 1 -43 1 -16 1 47 1 -56 1 46 1 -47 1 140 1 -163 1 14 1 52 1 -32 1 7 1 30 1 -63 1 47 1 96 1 -112 1 -41 1 42 1 -80 1 113 1 -70 1 -27 1 -32 1 114 1 -23 1 -9 1 78 1 -76 1 138 1 -140 1 19 1 8 1 11 1 -21 1 -4 1 -7 1 47 1 -32 1 6 1 -45 1 18 1 32 1 -7 1 39 1 59 1 -170 1 93 1 -64 1 12 1 48 1 -33 1 23 1 -8 1 -55 1 35 1 -55 1 51 1 67 1 -23 1 -113 1 106 1 -51 1 74 1 -114 1 19 1 92 1 -11 1 -34 1 73 1 -47 1 -20 1 36 1 34 1 -4 1 -89 1 74 1 -19 1 -11 1 -53 1 118 1 -126 1 47 1 58 1 42 1 -217 1 179 1 -27 1 -32 1 31 1 -80 1 22 1 21 1 17 1 11 1 -8 1 25 1 -30 1 61 1 -59 1 56 1 -52 1 21 1 -54 1 -3 1 16 1 23 1 50 1 -142 1 190 1 -138 1 5 1 53 1 -16 1 56 1 -94 1 95 1 -94 1 38 1 -112 1 162 1 -90 1 94 1 -66 1 11 1 -9 1 -72 1 54 1 -56 1 36 1 33 1 -37 1 14 1 73 1 -56 1 6 1 33 1 -72 1 53 1 -33 1 -8 1 -16 1 -42 1 84 1 17 1 -60 1 -8 1 -23 1 164 1 -101 1 -28 1 -34 1 120 1 -55 1 -12 1 -12 1 14 1 -28 1 17 1 102 1 -121 1 64 1 -7 1 -7 1 77 1 -16 1 -25 1 -14 1 -23 1 12 1 11 1 -21 1 -66 1 -1 1 130 1 -52 1 -3 1 -7 1 35 1 18 1 -118 1 81 1 91 1 -68 1 -25" stroke="#0000ff" stroke-width="0.48" vector-effect="non-scaling-stroke"/>
<path d="M25.50,625.07L26.87,625.20L28.24,625.33L29.62,625.46L30.99,625.59L32.36,625.72L33.73,625.85L35.11,625.98L36.48,626.11L37.85,626.24L39.22,626.37L40.60,626.50L41.97,626.63L43.34,626.76L44.71,626.89L46.09,627.02L47.46,627.15L48.83,627.28L50.20,627.41L51.57,627.54L52.95,627.67L54.32,627.80L55.69,627.93L57.06,628.06L58.44,628.19L59.81,628.32L61.18,628.45L62.55,628.58L63.93,628.71L65.30,628.84L66.67,628.97L68.04,629.10L69.42,629.23L70.79,629.36L72.16,629.49L73.53,629.61L74.91,629.74L76.28,629.87L77.65,630.00L79.02,630.13L80.39,630.26L81.77,630.39L83.14,630.52L84.51,630.65L85.88,630.78L87.26,630.91L88.63,631.04L90.00,631.17L91.37,631.30L92.75,631.43L94.12,631.56L95.49,631.69L96.86,631.82L98.24,631.95L99.61,632.08L100.98,632.21L102.35,632.34L103.72,632.45L105.10,632.54L106.47,632.63L107.84,632.73L109.21,632.86L110.59,633.03L111.96,633.25L113.33,633.78L114.70,634.80L116.08,636.14L117.45,637.64L118.82,639.26L120.19,641.40L121.57,643.62L122.94,645.48L124.31,647.18L125.68,648.20L127.05,648.84L128.43,648.86L129.80,647.61L131.17,645.79L132.54,643.70L133.92,641.24L135.29,639.20L136.66,637.54L138.03,636.50L139.41,635.91L140.78,636.72L142.15,638.69L143.52,640.81L144.90,643.29L146.27,645.20L147.64,646.70L149.01,647.69L150.38,648.37L151.76,648.50L153.13,647.07L154.50,645.24L155.87,644.01L157.25,642.89L158.62,641.96L159.99,641.26L161.36,640.67L162.74,640.20L164.11,639.92L165.48,639.75L166.85,639.61L168.23,639.51L169.60,639.47L170.97,639.49L172.34,639.57L173.72,639.69L175.09,639.86L176.46,640.07L177.83,640.44L179.20,640.99L180.58,641.70L181.95,642.95L183.32,644.78L184.69,646.87L186.07,649.38L187.44,652.45L188.81,654.78L190.18,656.62L191.56,657.81L192.93,657.44L194.30,655.43L195.67,653.04L197.05,650.23L198.42,647.29L199.79,645.16L201.16,643.49L202.53,643.44L203.91,644.90L205.28,646.84L206.65,649.76L208.02,652.68L209.40,654.63L210.77,656.22L212.14,656.74L213.51,656.35L214.89,655.57L216.26,654.63L217.63,653.49L219.00,651.98L220.38,650.65L221.75,649.41L223.12,648.29L224.49,647.50L225.86,647.06L227.24,646.69L228.61,646.41L229.98,646.26L231.35,646.25L232.73,646.30L234.10,646.38L235.47,646.50L236.84,646.64L238.22,646.80L239.59,646.96L240.96,647.13L242.33,647.29L243.71,647.44L245.08,647.59L246.45,647.74L247.82,647.90L249.19,648.07L250.57,648.24L251.94,648.41L253.31,648.57L254.68,648.74L256.06,648.90L257.43,649.05L258.80,649.21L260.17,649.37L261.55,649.52L262.92,649.68L264.29,649.83L265.66,649.99L267.04,650.15L268.41,650.30L269.78,650.46L271.15,650.61L272.53,650.77L273.90,650.92L275.27,651.08L276.64,651.23L278.01,651.39L279.39,651.55L280.76,651.70L282.13,651.86L283.50,652.01L284.88,652.17L286.25,652.33L287.62,652.49L288.99,652.64L290.37,652.80L291.74,652.96L293.11,653.12L294.48,653.27L295.86,653.43L297.23,653.59L298.60,653.75" stroke="#e01040" stroke-width="1.35" stroke-linejoin="round"/>
</g>
<rect x="235.20" y="576.50" width="71.50" height="22.30" fill="#fff" stroke="#a8a8a8" stroke-width="0.7"/>
<line x1="236.30" y1="581.04" x2="245.60" y2="581.04" stroke="#00ff00" stroke-width="0.5" stroke-opacity="0.8"/>
<text x="246.70" y="582.60" font-size="5.45" fill="#111" font-family="Liberation Sans, sans-serif" font-weight="bold" stroke="#262626" stroke-width="0.22" stroke-linejoin="round">Measured Value</text>
<line x1="236.30" y1="588.14" x2="245.60" y2="588.14" stroke="#0000ff" stroke-width="0.5" stroke-opacity="0.45"/>
<text x="246.70" y="589.71" font-size="5.45" fill="#111" font-family="Liberation Sans, sans-serif" font-weight="bold" stroke="#262626" stroke-width="0.22" stroke-linejoin="round">DUPF Estimated Value</text>
<line x1="236.30" y1="595.25" x2="245.60" y2="595.25" stroke="#e83038" stroke-width="1.7"/>
<text x="246.70" y="596.81" font-size="5.45" fill="#111" font-family="Liberation Sans, sans-serif" font-weight="bold" stroke="#262626" stroke-width="0.22" stroke-linejoin="round">Real Value</text>
</svg>
</body></html>
